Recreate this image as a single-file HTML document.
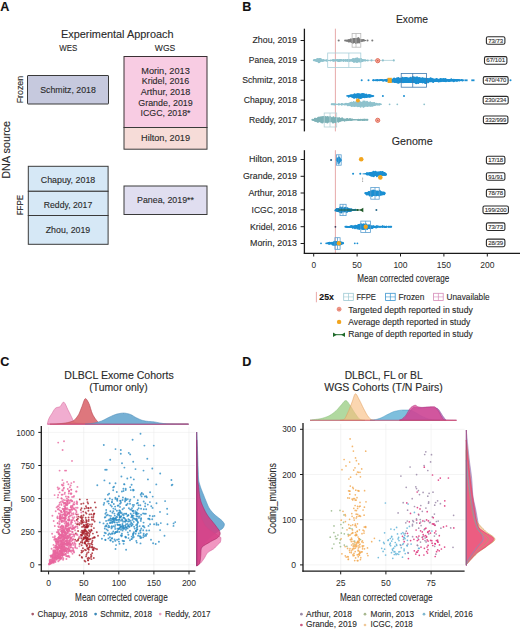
<!DOCTYPE html>
<html><head><meta charset="utf-8"><style>
html,body{margin:0;padding:0;background:#fff;}
body{width:520px;height:630px;overflow:hidden;}
svg{display:block;font-family:"Liberation Sans",sans-serif;}
</style></head><body>
<svg width="520" height="630" viewBox="0 0 520 630">
<rect width="520" height="630" fill="#fff"/>
<text x="0.30" y="10.70" font-size="12.6" text-anchor="start" fill="#111" stroke="#111" stroke-width="0.12" font-weight="bold">A</text>
<text x="242.30" y="10.70" font-size="12.6" text-anchor="start" fill="#111" stroke="#111" stroke-width="0.12" font-weight="bold">B</text>
<text x="0.30" y="366.40" font-size="12.6" text-anchor="start" fill="#111" stroke="#111" stroke-width="0.12" font-weight="bold">C</text>
<text x="242.30" y="366.40" font-size="12.6" text-anchor="start" fill="#111" stroke="#111" stroke-width="0.12" font-weight="bold">D</text>
<text x="61.00" y="38.00" font-size="10.8" text-anchor="start" fill="#2a2a2a" stroke="#2a2a2a" stroke-width="0.12" textLength="112.5" lengthAdjust="spacingAndGlyphs">Experimental Approach</text>
<text x="59.30" y="50.60" font-size="8.9" text-anchor="start" fill="#2a2a2a" stroke="#2a2a2a" stroke-width="0.12" textLength="18.0" lengthAdjust="spacingAndGlyphs">WES</text>
<text x="154.80" y="50.60" font-size="8.9" text-anchor="start" fill="#2a2a2a" stroke="#2a2a2a" stroke-width="0.12" textLength="20.5" lengthAdjust="spacingAndGlyphs">WGS</text>
<text x="9.60" y="178.80" font-size="11.8" text-anchor="start" fill="#2a2a2a" stroke="#2a2a2a" stroke-width="0.12" textLength="57.8" lengthAdjust="spacingAndGlyphs" transform="rotate(-90 9.60 178.80)">DNA source</text>
<text x="22.80" y="103.30" font-size="8.8" text-anchor="start" fill="#2a2a2a" stroke="#2a2a2a" stroke-width="0.12" textLength="27.5" lengthAdjust="spacingAndGlyphs" transform="rotate(-90 22.80 103.30)">Frozen</text>
<text x="22.80" y="215.30" font-size="8.8" text-anchor="start" fill="#2a2a2a" stroke="#2a2a2a" stroke-width="0.12" textLength="20.5" lengthAdjust="spacingAndGlyphs" transform="rotate(-90 22.80 215.30)">FFPE</text>
<rect x="27.50" y="75.50" width="81.00" height="28.50" fill="#c6c9de" stroke="#3a3a3a" stroke-width="1" rx="0.5"/>
<text x="68.00" y="93.00" font-size="9.4" text-anchor="middle" fill="#2a2a2a" stroke="#2a2a2a" stroke-width="0.12" textLength="55.5" lengthAdjust="spacingAndGlyphs">Schmitz, 2018</text>
<rect x="124.00" y="56.50" width="83.00" height="71.00" fill="#f8cce3" stroke="#3a3034" stroke-width="1" rx="0"/>
<rect x="124.00" y="127.50" width="83.00" height="21.70" fill="#f6dcd8" stroke="#3a3a3a" stroke-width="1" rx="0"/>
<text x="165.50" y="73.80" font-size="9.4" text-anchor="middle" fill="#2a2a2a" stroke="#2a2a2a" stroke-width="0.12" textLength="48.5" lengthAdjust="spacingAndGlyphs">Morin, 2013</text>
<text x="165.50" y="84.42" font-size="9.4" text-anchor="middle" fill="#2a2a2a" stroke="#2a2a2a" stroke-width="0.12" textLength="47.5" lengthAdjust="spacingAndGlyphs">Kridel, 2016</text>
<text x="165.50" y="95.04" font-size="9.4" text-anchor="middle" fill="#2a2a2a" stroke="#2a2a2a" stroke-width="0.12" textLength="49.5" lengthAdjust="spacingAndGlyphs">Arthur, 2018</text>
<text x="165.50" y="105.66" font-size="9.4" text-anchor="middle" fill="#2a2a2a" stroke="#2a2a2a" stroke-width="0.12" textLength="54.5" lengthAdjust="spacingAndGlyphs">Grande, 2019</text>
<text x="165.50" y="116.28" font-size="9.4" text-anchor="middle" fill="#2a2a2a" stroke="#2a2a2a" stroke-width="0.12" textLength="50.0" lengthAdjust="spacingAndGlyphs">ICGC, 2018*</text>
<text x="165.50" y="141.30" font-size="9.4" text-anchor="middle" fill="#2a2a2a" stroke="#2a2a2a" stroke-width="0.12" textLength="49.0" lengthAdjust="spacingAndGlyphs">Hilton, 2019</text>
<rect x="28.30" y="166.30" width="79.80" height="25.00" fill="#d6e8f6" stroke="#3a3a3a" stroke-width="1" rx="0"/>
<rect x="28.30" y="191.30" width="79.80" height="24.20" fill="#d6e8f6" stroke="#3a3a3a" stroke-width="1" rx="0"/>
<rect x="28.30" y="215.50" width="79.80" height="28.80" fill="#d6e8f6" stroke="#3a3a3a" stroke-width="1" rx="0"/>
<text x="68.00" y="183.00" font-size="9.4" text-anchor="middle" fill="#2a2a2a" stroke="#2a2a2a" stroke-width="0.12" textLength="54.5" lengthAdjust="spacingAndGlyphs">Chapuy, 2018</text>
<text x="68.00" y="208.00" font-size="9.4" text-anchor="middle" fill="#2a2a2a" stroke="#2a2a2a" stroke-width="0.12" textLength="48.5" lengthAdjust="spacingAndGlyphs">Reddy, 2017</text>
<text x="68.00" y="232.50" font-size="9.4" text-anchor="middle" fill="#2a2a2a" stroke="#2a2a2a" stroke-width="0.12" textLength="44.5" lengthAdjust="spacingAndGlyphs">Zhou, 2019</text>
<rect x="124.00" y="186.00" width="83.00" height="28.50" fill="#e0def0" stroke="#3a3a3a" stroke-width="1" rx="0"/>
<text x="165.50" y="203.00" font-size="9.4" text-anchor="middle" fill="#2a2a2a" stroke="#2a2a2a" stroke-width="0.12" textLength="57.0" lengthAdjust="spacingAndGlyphs">Panea, 2019**</text>
<text x="396.00" y="23.00" font-size="10.5" text-anchor="start" fill="#2a2a2a" stroke="#2a2a2a" stroke-width="0.12" textLength="32.0" lengthAdjust="spacingAndGlyphs">Exome</text>
<text x="391.80" y="144.50" font-size="10.5" text-anchor="start" fill="#2a2a2a" stroke="#2a2a2a" stroke-width="0.12" textLength="40.8" lengthAdjust="spacingAndGlyphs">Genome</text>
<line x1="335.40" y1="28.70" x2="335.40" y2="131.40" stroke="#e3a0a0" stroke-width="0.9"/>
<line x1="335.40" y1="150.20" x2="335.40" y2="253.00" stroke="#e3a0a0" stroke-width="0.9"/>
<line x1="304.40" y1="28.70" x2="304.40" y2="131.40" stroke="#1a1a1a" stroke-width="1.3"/>
<line x1="304.40" y1="150.20" x2="304.40" y2="253.80" stroke="#1a1a1a" stroke-width="1.3"/>
<line x1="303.80" y1="253.30" x2="520.00" y2="253.30" stroke="#1a1a1a" stroke-width="1.3"/>
<line x1="313.70" y1="253.30" x2="313.70" y2="256.50" stroke="#1a1a1a" stroke-width="1.0"/>
<text x="313.70" y="267.50" font-size="9.3" text-anchor="middle" fill="#2a2a2a" stroke="#2a2a2a" stroke-width="0" textLength="4.6" lengthAdjust="spacingAndGlyphs">0</text>
<line x1="357.10" y1="253.30" x2="357.10" y2="256.50" stroke="#1a1a1a" stroke-width="1.0"/>
<text x="357.10" y="267.50" font-size="9.3" text-anchor="middle" fill="#2a2a2a" stroke="#2a2a2a" stroke-width="0" textLength="9.6" lengthAdjust="spacingAndGlyphs">50</text>
<line x1="400.50" y1="253.30" x2="400.50" y2="256.50" stroke="#1a1a1a" stroke-width="1.0"/>
<text x="400.50" y="267.50" font-size="9.3" text-anchor="middle" fill="#2a2a2a" stroke="#2a2a2a" stroke-width="0" textLength="14.2" lengthAdjust="spacingAndGlyphs">100</text>
<line x1="443.90" y1="253.30" x2="443.90" y2="256.50" stroke="#1a1a1a" stroke-width="1.0"/>
<text x="443.90" y="267.50" font-size="9.3" text-anchor="middle" fill="#2a2a2a" stroke="#2a2a2a" stroke-width="0" textLength="14.2" lengthAdjust="spacingAndGlyphs">150</text>
<line x1="487.30" y1="253.30" x2="487.30" y2="256.50" stroke="#1a1a1a" stroke-width="1.0"/>
<text x="487.30" y="267.50" font-size="9.3" text-anchor="middle" fill="#2a2a2a" stroke="#2a2a2a" stroke-width="0" textLength="14.2" lengthAdjust="spacingAndGlyphs">200</text>
<text x="403.20" y="282.40" font-size="11.0" text-anchor="middle" fill="#2a2a2a" stroke="#2a2a2a" stroke-width="0.12" textLength="92.0" lengthAdjust="spacingAndGlyphs">Mean corrected coverage</text>
<text x="297.00" y="43.45" font-size="8.6" text-anchor="end" fill="#2a2a2a" stroke="#2a2a2a" stroke-width="0.12" textLength="44.5" lengthAdjust="spacingAndGlyphs">Zhou, 2019</text>
<line x1="300.60" y1="40.50" x2="304.40" y2="40.50" stroke="#1a1a1a" stroke-width="1.0"/>
<text x="297.00" y="63.35" font-size="8.6" text-anchor="end" fill="#2a2a2a" stroke="#2a2a2a" stroke-width="0.12" textLength="48.2" lengthAdjust="spacingAndGlyphs">Panea, 2019</text>
<line x1="300.60" y1="60.40" x2="304.40" y2="60.40" stroke="#1a1a1a" stroke-width="1.0"/>
<text x="297.00" y="83.25" font-size="8.6" text-anchor="end" fill="#2a2a2a" stroke="#2a2a2a" stroke-width="0.12" textLength="54.8" lengthAdjust="spacingAndGlyphs">Schmitz, 2018</text>
<line x1="300.60" y1="80.30" x2="304.40" y2="80.30" stroke="#1a1a1a" stroke-width="1.0"/>
<text x="297.00" y="103.05" font-size="8.6" text-anchor="end" fill="#2a2a2a" stroke="#2a2a2a" stroke-width="0.12" textLength="53.2" lengthAdjust="spacingAndGlyphs">Chapuy, 2018</text>
<line x1="300.60" y1="100.10" x2="304.40" y2="100.10" stroke="#1a1a1a" stroke-width="1.0"/>
<text x="297.00" y="122.85" font-size="8.6" text-anchor="end" fill="#2a2a2a" stroke="#2a2a2a" stroke-width="0.12" textLength="48.0" lengthAdjust="spacingAndGlyphs">Reddy, 2017</text>
<line x1="300.60" y1="119.90" x2="304.40" y2="119.90" stroke="#1a1a1a" stroke-width="1.0"/>
<text x="297.00" y="162.45" font-size="8.6" text-anchor="end" fill="#2a2a2a" stroke="#2a2a2a" stroke-width="0.12" textLength="48.0" lengthAdjust="spacingAndGlyphs">Hilton, 2019</text>
<line x1="300.60" y1="159.50" x2="304.40" y2="159.50" stroke="#1a1a1a" stroke-width="1.0"/>
<text x="297.00" y="179.25" font-size="8.6" text-anchor="end" fill="#2a2a2a" stroke="#2a2a2a" stroke-width="0.12" textLength="54.0" lengthAdjust="spacingAndGlyphs">Grande, 2019</text>
<line x1="300.60" y1="176.30" x2="304.40" y2="176.30" stroke="#1a1a1a" stroke-width="1.0"/>
<text x="297.00" y="195.95" font-size="8.6" text-anchor="end" fill="#2a2a2a" stroke="#2a2a2a" stroke-width="0.12" textLength="48.6" lengthAdjust="spacingAndGlyphs">Arthur, 2018</text>
<line x1="300.60" y1="193.00" x2="304.40" y2="193.00" stroke="#1a1a1a" stroke-width="1.0"/>
<text x="297.00" y="212.75" font-size="8.6" text-anchor="end" fill="#2a2a2a" stroke="#2a2a2a" stroke-width="0.12" textLength="45.5" lengthAdjust="spacingAndGlyphs">ICGC, 2018</text>
<line x1="300.60" y1="209.80" x2="304.40" y2="209.80" stroke="#1a1a1a" stroke-width="1.0"/>
<text x="297.00" y="229.65" font-size="8.6" text-anchor="end" fill="#2a2a2a" stroke="#2a2a2a" stroke-width="0.12" textLength="47.0" lengthAdjust="spacingAndGlyphs">Kridel, 2016</text>
<line x1="300.60" y1="226.70" x2="304.40" y2="226.70" stroke="#1a1a1a" stroke-width="1.0"/>
<text x="297.00" y="246.45" font-size="8.6" text-anchor="end" fill="#2a2a2a" stroke="#2a2a2a" stroke-width="0.12" textLength="47.0" lengthAdjust="spacingAndGlyphs">Morin, 2013</text>
<line x1="300.60" y1="243.50" x2="304.40" y2="243.50" stroke="#1a1a1a" stroke-width="1.0"/>
<rect x="486.4" y="36.7" width="18.5" height="7.6" rx="1.6" fill="#fff" stroke="#2a2a2a" stroke-width="1.1"/>
<text x="495.70" y="42.50" font-size="5.6" text-anchor="middle" fill="#333" stroke="#333" stroke-width="0.12" textLength="15.0" lengthAdjust="spacingAndGlyphs">73/73</text>
<rect x="484.5" y="56.6" width="22.4" height="7.6" rx="1.6" fill="#fff" stroke="#2a2a2a" stroke-width="1.1"/>
<text x="495.70" y="62.40" font-size="5.6" text-anchor="middle" fill="#333" stroke="#333" stroke-width="0.12" textLength="18.9" lengthAdjust="spacingAndGlyphs">67/101</text>
<rect x="483.3" y="76.6" width="24.8" height="7.6" rx="1.6" fill="#fff" stroke="#2a2a2a" stroke-width="1.1"/>
<text x="495.70" y="82.40" font-size="5.6" text-anchor="middle" fill="#333" stroke="#333" stroke-width="0.12" textLength="21.3" lengthAdjust="spacingAndGlyphs">470/470</text>
<rect x="483.2" y="96.4" width="25.0" height="7.6" rx="1.6" fill="#fff" stroke="#2a2a2a" stroke-width="1.1"/>
<text x="495.70" y="102.20" font-size="5.6" text-anchor="middle" fill="#333" stroke="#333" stroke-width="0.12" textLength="21.5" lengthAdjust="spacingAndGlyphs">230/234</text>
<rect x="483.4" y="116.0" width="24.5" height="7.6" rx="1.6" fill="#fff" stroke="#2a2a2a" stroke-width="1.1"/>
<text x="495.70" y="121.80" font-size="5.6" text-anchor="middle" fill="#333" stroke="#333" stroke-width="0.12" textLength="21.0" lengthAdjust="spacingAndGlyphs">332/999</text>
<rect x="486.4" y="156.3" width="18.5" height="7.6" rx="1.6" fill="#fff" stroke="#2a2a2a" stroke-width="1.1"/>
<text x="495.70" y="162.10" font-size="5.6" text-anchor="middle" fill="#333" stroke="#333" stroke-width="0.12" textLength="15.0" lengthAdjust="spacingAndGlyphs">17/18</text>
<rect x="486.4" y="172.7" width="18.5" height="7.6" rx="1.6" fill="#fff" stroke="#2a2a2a" stroke-width="1.1"/>
<text x="495.70" y="178.50" font-size="5.6" text-anchor="middle" fill="#333" stroke="#333" stroke-width="0.12" textLength="15.0" lengthAdjust="spacingAndGlyphs">91/91</text>
<rect x="486.4" y="189.4" width="18.5" height="7.6" rx="1.6" fill="#fff" stroke="#2a2a2a" stroke-width="1.1"/>
<text x="495.70" y="195.20" font-size="5.6" text-anchor="middle" fill="#333" stroke="#333" stroke-width="0.12" textLength="15.0" lengthAdjust="spacingAndGlyphs">78/78</text>
<rect x="483.0" y="206.0" width="25.4" height="7.6" rx="1.6" fill="#fff" stroke="#2a2a2a" stroke-width="1.1"/>
<text x="495.70" y="211.80" font-size="5.6" text-anchor="middle" fill="#333" stroke="#333" stroke-width="0.12" textLength="21.9" lengthAdjust="spacingAndGlyphs">199/200</text>
<rect x="486.4" y="222.9" width="18.5" height="7.6" rx="1.6" fill="#fff" stroke="#2a2a2a" stroke-width="1.1"/>
<text x="495.70" y="228.70" font-size="5.6" text-anchor="middle" fill="#333" stroke="#333" stroke-width="0.12" textLength="15.0" lengthAdjust="spacingAndGlyphs">73/73</text>
<rect x="486.4" y="239.1" width="18.5" height="7.6" rx="1.6" fill="#fff" stroke="#2a2a2a" stroke-width="1.1"/>
<text x="495.70" y="244.90" font-size="5.6" text-anchor="middle" fill="#333" stroke="#333" stroke-width="0.12" textLength="15.0" lengthAdjust="spacingAndGlyphs">28/39</text>
<polygon points="345.0,40.1 349.0,39.3 352.0,38.4 355.0,38.0 358.0,38.2 361.0,39.0 364.0,39.8 366.0,40.1 366.0,40.9 364.0,41.2 361.0,42.0 358.0,42.8 355.0,43.0 352.0,42.6 349.0,41.7 345.0,40.9" fill="#7b7b7b" fill-opacity="1.0"/>
<circle cx="348.4" cy="41.2" r="1.0" fill="#7b7b7b"/>
<circle cx="351.7" cy="42.0" r="1.0" fill="#7b7b7b"/>
<circle cx="359.6" cy="40.4" r="1.0" fill="#7b7b7b"/>
<circle cx="356.4" cy="41.5" r="1.0" fill="#7b7b7b"/>
<circle cx="348.7" cy="41.2" r="1.0" fill="#7b7b7b"/>
<circle cx="354.5" cy="40.8" r="1.0" fill="#7b7b7b"/>
<circle cx="354.9" cy="41.1" r="1.0" fill="#7b7b7b"/>
<circle cx="350.6" cy="39.5" r="1.0" fill="#7b7b7b"/>
<circle cx="358.7" cy="41.6" r="1.0" fill="#7b7b7b"/>
<circle cx="349.2" cy="41.5" r="1.0" fill="#7b7b7b"/>
<circle cx="353.8" cy="42.3" r="1.0" fill="#7b7b7b"/>
<circle cx="355.8" cy="43.0" r="1.0" fill="#7b7b7b"/>
<circle cx="355.0" cy="41.1" r="1.0" fill="#7b7b7b"/>
<circle cx="356.8" cy="42.0" r="1.0" fill="#7b7b7b"/>
<circle cx="358.6" cy="38.6" r="1.0" fill="#7b7b7b"/>
<circle cx="363.4" cy="40.1" r="1.0" fill="#7b7b7b"/>
<circle cx="352.8" cy="39.2" r="1.0" fill="#7b7b7b"/>
<circle cx="357.3" cy="38.7" r="1.0" fill="#7b7b7b"/>
<circle cx="358.4" cy="40.5" r="1.0" fill="#7b7b7b"/>
<circle cx="352.8" cy="42.7" r="1.0" fill="#7b7b7b"/>
<circle cx="345.1" cy="40.5" r="1.0" fill="#7b7b7b"/>
<circle cx="364.0" cy="40.6" r="1.0" fill="#7b7b7b"/>
<circle cx="352.6" cy="41.3" r="1.0" fill="#7b7b7b"/>
<circle cx="353.1" cy="40.9" r="1.0" fill="#7b7b7b"/>
<circle cx="361.7" cy="40.9" r="1.0" fill="#7b7b7b"/>
<circle cx="356.3" cy="40.8" r="1.0" fill="#7b7b7b"/>
<circle cx="354.8" cy="40.5" r="1.0" fill="#7b7b7b"/>
<circle cx="359.3" cy="40.4" r="1.0" fill="#7b7b7b"/>
<circle cx="346.7" cy="40.7" r="1.0" fill="#7b7b7b"/>
<circle cx="358.3" cy="38.3" r="1.0" fill="#7b7b7b"/>
<circle cx="354.0" cy="39.0" r="1.0" fill="#7b7b7b"/>
<circle cx="348.7" cy="40.3" r="1.0" fill="#7b7b7b"/>
<circle cx="357.5" cy="42.5" r="1.0" fill="#7b7b7b"/>
<circle cx="362.7" cy="40.3" r="1.0" fill="#7b7b7b"/>
<circle cx="351.0" cy="40.4" r="1.0" fill="#7b7b7b"/>
<circle cx="357.5" cy="40.7" r="1.0" fill="#7b7b7b"/>
<circle cx="352.9" cy="40.8" r="1.0" fill="#7b7b7b"/>
<circle cx="359.1" cy="42.4" r="1.0" fill="#7b7b7b"/>
<circle cx="358.8" cy="41.6" r="1.0" fill="#7b7b7b"/>
<circle cx="351.3" cy="41.8" r="1.0" fill="#7b7b7b"/>
<circle cx="360.2" cy="40.4" r="1.0" fill="#7b7b7b"/>
<circle cx="357.6" cy="39.3" r="1.0" fill="#7b7b7b"/>
<circle cx="358.0" cy="39.6" r="1.0" fill="#7b7b7b"/>
<circle cx="359.8" cy="40.8" r="1.0" fill="#7b7b7b"/>
<circle cx="354.4" cy="40.2" r="1.0" fill="#7b7b7b"/>
<circle cx="358.8" cy="41.3" r="1.0" fill="#7b7b7b"/>
<circle cx="338.7" cy="40.5" r="1.05" fill="#7b7b7b"/>
<circle cx="367.5" cy="40.5" r="1.05" fill="#7b7b7b"/>
<circle cx="372.3" cy="40.5" r="1.05" fill="#7b7b7b"/>
<rect x="352.1" y="33.4" width="8.7" height="13.8" fill="none" stroke="#b8b8b8" stroke-width="0.8"/>
<line x1="356.00" y1="33.40" x2="356.00" y2="47.20" stroke="#b8b8b8" stroke-width="0.8"/>
<line x1="360.80" y1="60.40" x2="393.80" y2="60.40" stroke="#9cc6d0" stroke-width="0.7"/>
<polygon points="314.0,59.9 316.5,58.8 319.0,58.4 321.5,59.2 324.0,59.8 330.0,59.9 336.0,59.6 342.0,59.5 348.0,59.8 352.0,59.2 356.0,58.4 360.0,58.6 363.0,59.5 368.0,59.9 368.0,60.9 363.0,61.3 360.0,62.2 356.0,62.4 352.0,61.6 348.0,61.0 342.0,61.3 336.0,61.1 330.0,60.9 324.0,61.0 321.5,61.6 319.0,62.4 316.5,62.0 314.0,60.9" fill="#8fc2cd" fill-opacity="1.0"/>
<circle cx="319.8" cy="59.4" r="1.0" fill="#8fc2cd"/>
<circle cx="345.8" cy="60.0" r="1.0" fill="#8fc2cd"/>
<circle cx="338.3" cy="60.9" r="1.0" fill="#8fc2cd"/>
<circle cx="354.0" cy="59.7" r="1.0" fill="#8fc2cd"/>
<circle cx="333.1" cy="60.4" r="1.0" fill="#8fc2cd"/>
<circle cx="320.9" cy="61.1" r="1.0" fill="#8fc2cd"/>
<circle cx="362.7" cy="60.9" r="1.0" fill="#8fc2cd"/>
<circle cx="324.1" cy="60.5" r="1.0" fill="#8fc2cd"/>
<circle cx="319.4" cy="61.9" r="1.0" fill="#8fc2cd"/>
<circle cx="327.4" cy="60.4" r="1.0" fill="#8fc2cd"/>
<circle cx="333.6" cy="60.3" r="1.0" fill="#8fc2cd"/>
<circle cx="322.9" cy="61.0" r="1.0" fill="#8fc2cd"/>
<circle cx="347.6" cy="60.2" r="1.0" fill="#8fc2cd"/>
<circle cx="362.7" cy="60.2" r="1.0" fill="#8fc2cd"/>
<circle cx="319.1" cy="59.0" r="1.0" fill="#8fc2cd"/>
<circle cx="339.2" cy="60.9" r="1.0" fill="#8fc2cd"/>
<circle cx="354.3" cy="60.0" r="1.0" fill="#8fc2cd"/>
<circle cx="360.9" cy="61.4" r="1.0" fill="#8fc2cd"/>
<circle cx="367.8" cy="60.4" r="1.0" fill="#8fc2cd"/>
<circle cx="319.4" cy="61.7" r="1.0" fill="#8fc2cd"/>
<circle cx="347.7" cy="60.5" r="1.0" fill="#8fc2cd"/>
<circle cx="360.7" cy="60.8" r="1.0" fill="#8fc2cd"/>
<circle cx="316.4" cy="60.5" r="1.0" fill="#8fc2cd"/>
<circle cx="351.3" cy="59.9" r="1.0" fill="#8fc2cd"/>
<circle cx="320.5" cy="59.0" r="1.0" fill="#8fc2cd"/>
<circle cx="357.0" cy="61.9" r="1.0" fill="#8fc2cd"/>
<circle cx="362.9" cy="59.9" r="1.0" fill="#8fc2cd"/>
<circle cx="347.5" cy="60.3" r="1.0" fill="#8fc2cd"/>
<circle cx="315.0" cy="60.3" r="1.0" fill="#8fc2cd"/>
<circle cx="317.3" cy="59.1" r="1.0" fill="#8fc2cd"/>
<circle cx="339.5" cy="59.9" r="1.0" fill="#8fc2cd"/>
<circle cx="359.7" cy="59.8" r="1.0" fill="#8fc2cd"/>
<circle cx="323.3" cy="60.0" r="1.0" fill="#8fc2cd"/>
<circle cx="354.4" cy="61.0" r="1.0" fill="#8fc2cd"/>
<circle cx="338.2" cy="60.7" r="1.0" fill="#8fc2cd"/>
<circle cx="326.0" cy="60.4" r="1.0" fill="#8fc2cd"/>
<circle cx="355.7" cy="58.7" r="1.0" fill="#8fc2cd"/>
<circle cx="330.4" cy="60.4" r="1.0" fill="#8fc2cd"/>
<circle cx="336.3" cy="60.2" r="1.0" fill="#8fc2cd"/>
<circle cx="357.0" cy="58.6" r="1.0" fill="#8fc2cd"/>
<circle cx="344.0" cy="60.2" r="1.0" fill="#8fc2cd"/>
<circle cx="357.8" cy="61.3" r="1.0" fill="#8fc2cd"/>
<circle cx="346.0" cy="60.7" r="1.0" fill="#8fc2cd"/>
<circle cx="319.7" cy="59.7" r="1.0" fill="#8fc2cd"/>
<circle cx="340.7" cy="60.0" r="1.0" fill="#8fc2cd"/>
<circle cx="360.5" cy="60.8" r="1.0" fill="#8fc2cd"/>
<circle cx="349.5" cy="60.2" r="1.0" fill="#8fc2cd"/>
<circle cx="365.3" cy="60.6" r="1.0" fill="#8fc2cd"/>
<circle cx="313.8" cy="60.3" r="1.0" fill="#8fc2cd"/>
<circle cx="333.8" cy="60.5" r="1.0" fill="#8fc2cd"/>
<circle cx="357.4" cy="60.1" r="1.0" fill="#8fc2cd"/>
<circle cx="354.5" cy="61.3" r="1.0" fill="#8fc2cd"/>
<circle cx="349.7" cy="60.8" r="1.0" fill="#8fc2cd"/>
<circle cx="354.0" cy="60.1" r="1.0" fill="#8fc2cd"/>
<circle cx="360.5" cy="59.7" r="1.0" fill="#8fc2cd"/>
<circle cx="354.8" cy="59.4" r="1.0" fill="#8fc2cd"/>
<circle cx="348.4" cy="60.6" r="1.0" fill="#8fc2cd"/>
<circle cx="349.2" cy="60.7" r="1.0" fill="#8fc2cd"/>
<circle cx="353.9" cy="61.6" r="1.0" fill="#8fc2cd"/>
<circle cx="332.4" cy="60.3" r="1.0" fill="#8fc2cd"/>
<circle cx="354.0" cy="59.8" r="1.0" fill="#8fc2cd"/>
<circle cx="352.5" cy="59.5" r="1.0" fill="#8fc2cd"/>
<circle cx="357.4" cy="58.6" r="1.0" fill="#8fc2cd"/>
<circle cx="343.5" cy="60.9" r="1.0" fill="#8fc2cd"/>
<circle cx="315.4" cy="60.1" r="1.0" fill="#8fc2cd"/>
<circle cx="347.7" cy="60.6" r="1.0" fill="#8fc2cd"/>
<circle cx="359.9" cy="61.0" r="1.0" fill="#8fc2cd"/>
<circle cx="353.6" cy="60.5" r="1.0" fill="#8fc2cd"/>
<circle cx="353.1" cy="60.5" r="1.0" fill="#8fc2cd"/>
<circle cx="337.6" cy="60.0" r="1.0" fill="#8fc2cd"/>
<circle cx="335.1" cy="60.6" r="1.0" fill="#8fc2cd"/>
<circle cx="355.7" cy="61.3" r="1.0" fill="#8fc2cd"/>
<circle cx="317.2" cy="60.0" r="1.0" fill="#8fc2cd"/>
<circle cx="360.0" cy="60.0" r="1.0" fill="#8fc2cd"/>
<circle cx="360.1" cy="61.5" r="1.0" fill="#8fc2cd"/>
<circle cx="364.8" cy="60.2" r="1.0" fill="#8fc2cd"/>
<circle cx="319.0" cy="60.0" r="1.0" fill="#8fc2cd"/>
<circle cx="318.9" cy="62.2" r="1.0" fill="#8fc2cd"/>
<circle cx="360.7" cy="59.6" r="1.0" fill="#8fc2cd"/>
<circle cx="338.3" cy="60.4" r="1.0" fill="#8fc2cd"/>
<circle cx="326.5" cy="60.4" r="1.0" fill="#8fc2cd"/>
<circle cx="337.1" cy="60.6" r="1.0" fill="#8fc2cd"/>
<circle cx="354.0" cy="59.6" r="1.0" fill="#8fc2cd"/>
<circle cx="319.6" cy="59.0" r="1.0" fill="#8fc2cd"/>
<circle cx="343.3" cy="60.0" r="1.0" fill="#8fc2cd"/>
<circle cx="353.8" cy="61.2" r="1.0" fill="#8fc2cd"/>
<circle cx="355.8" cy="60.4" r="1.0" fill="#8fc2cd"/>
<circle cx="314.6" cy="60.0" r="1.0" fill="#8fc2cd"/>
<circle cx="358.7" cy="59.2" r="1.0" fill="#8fc2cd"/>
<circle cx="340.3" cy="60.2" r="1.0" fill="#8fc2cd"/>
<circle cx="340.7" cy="60.1" r="1.0" fill="#8fc2cd"/>
<circle cx="349.4" cy="60.6" r="1.0" fill="#8fc2cd"/>
<circle cx="327.3" cy="60.4" r="1.0" fill="#8fc2cd"/>
<circle cx="360.9" cy="60.6" r="1.0" fill="#8fc2cd"/>
<circle cx="322.2" cy="60.5" r="1.0" fill="#8fc2cd"/>
<circle cx="347.6" cy="60.6" r="1.0" fill="#8fc2cd"/>
<circle cx="319.7" cy="60.0" r="1.0" fill="#8fc2cd"/>
<circle cx="352.5" cy="60.1" r="1.0" fill="#8fc2cd"/>
<circle cx="361.4" cy="60.8" r="1.0" fill="#8fc2cd"/>
<circle cx="360.9" cy="59.1" r="1.0" fill="#8fc2cd"/>
<circle cx="319.0" cy="60.8" r="1.0" fill="#8fc2cd"/>
<circle cx="352.3" cy="61.1" r="1.0" fill="#8fc2cd"/>
<circle cx="361.2" cy="59.5" r="1.0" fill="#8fc2cd"/>
<circle cx="321.0" cy="59.4" r="1.0" fill="#8fc2cd"/>
<circle cx="339.3" cy="60.4" r="1.0" fill="#8fc2cd"/>
<circle cx="355.3" cy="60.7" r="1.0" fill="#8fc2cd"/>
<circle cx="356.5" cy="59.5" r="1.0" fill="#8fc2cd"/>
<circle cx="341.2" cy="60.2" r="1.0" fill="#8fc2cd"/>
<circle cx="353.1" cy="59.1" r="1.0" fill="#8fc2cd"/>
<circle cx="354.0" cy="61.8" r="1.0" fill="#8fc2cd"/>
<circle cx="335.0" cy="60.4" r="1.0" fill="#8fc2cd"/>
<circle cx="353.5" cy="61.0" r="1.0" fill="#8fc2cd"/>
<circle cx="350.1" cy="60.6" r="1.0" fill="#8fc2cd"/>
<circle cx="355.0" cy="60.4" r="1.0" fill="#8fc2cd"/>
<circle cx="345.7" cy="60.7" r="1.0" fill="#8fc2cd"/>
<circle cx="333.3" cy="60.5" r="1.0" fill="#8fc2cd"/>
<circle cx="340.8" cy="60.7" r="1.0" fill="#8fc2cd"/>
<circle cx="362.2" cy="60.2" r="1.0" fill="#8fc2cd"/>
<circle cx="371.5" cy="60.4" r="1.05" fill="#8fc2cd"/>
<circle cx="382.9" cy="60.4" r="1.05" fill="#8fc2cd"/>
<circle cx="393.8" cy="60.4" r="1.05" fill="#8fc2cd"/>
<rect x="327.7" y="53.0" width="33.1" height="14.4" fill="none" stroke="#a9d0da" stroke-width="0.8"/>
<line x1="348.80" y1="53.00" x2="348.80" y2="67.40" stroke="#a9d0da" stroke-width="0.8"/>
<polygon points="372.5,79.8 380.0,79.6 388.0,79.3 393.0,78.6 398.0,77.9 404.0,77.6 415.0,77.5 425.0,77.7 430.0,78.3 436.0,78.7 448.0,78.9 456.0,79.1 461.0,79.5 463.0,79.8 463.0,80.8 461.0,81.1 456.0,81.5 448.0,81.7 436.0,81.9 430.0,82.3 425.0,82.9 415.0,83.1 404.0,83.0 398.0,82.7 393.0,82.0 388.0,81.3 380.0,81.0 372.5,80.8" fill="#1b8fd2" fill-opacity="1.0"/>
<circle cx="397.6" cy="81.0" r="1.0" fill="#1b8fd2"/>
<circle cx="392.7" cy="80.2" r="1.0" fill="#1b8fd2"/>
<circle cx="430.7" cy="78.6" r="1.0" fill="#1b8fd2"/>
<circle cx="386.2" cy="80.8" r="1.0" fill="#1b8fd2"/>
<circle cx="422.5" cy="78.2" r="1.0" fill="#1b8fd2"/>
<circle cx="393.4" cy="80.3" r="1.0" fill="#1b8fd2"/>
<circle cx="427.5" cy="80.5" r="1.0" fill="#1b8fd2"/>
<circle cx="433.9" cy="80.9" r="1.0" fill="#1b8fd2"/>
<circle cx="453.7" cy="80.5" r="1.0" fill="#1b8fd2"/>
<circle cx="410.5" cy="77.7" r="1.0" fill="#1b8fd2"/>
<circle cx="410.6" cy="81.2" r="1.0" fill="#1b8fd2"/>
<circle cx="411.4" cy="79.8" r="1.0" fill="#1b8fd2"/>
<circle cx="429.5" cy="80.7" r="1.0" fill="#1b8fd2"/>
<circle cx="436.6" cy="79.6" r="1.0" fill="#1b8fd2"/>
<circle cx="393.5" cy="80.8" r="1.0" fill="#1b8fd2"/>
<circle cx="406.8" cy="78.1" r="1.0" fill="#1b8fd2"/>
<circle cx="385.7" cy="79.9" r="1.0" fill="#1b8fd2"/>
<circle cx="402.1" cy="79.1" r="1.0" fill="#1b8fd2"/>
<circle cx="432.0" cy="79.4" r="1.0" fill="#1b8fd2"/>
<circle cx="453.6" cy="80.6" r="1.0" fill="#1b8fd2"/>
<circle cx="459.5" cy="80.6" r="1.0" fill="#1b8fd2"/>
<circle cx="387.5" cy="80.4" r="1.0" fill="#1b8fd2"/>
<circle cx="411.7" cy="79.2" r="1.0" fill="#1b8fd2"/>
<circle cx="445.9" cy="79.9" r="1.0" fill="#1b8fd2"/>
<circle cx="417.5" cy="78.0" r="1.0" fill="#1b8fd2"/>
<circle cx="408.9" cy="79.6" r="1.0" fill="#1b8fd2"/>
<circle cx="436.4" cy="79.0" r="1.0" fill="#1b8fd2"/>
<circle cx="444.8" cy="81.0" r="1.0" fill="#1b8fd2"/>
<circle cx="395.7" cy="80.1" r="1.0" fill="#1b8fd2"/>
<circle cx="417.9" cy="77.9" r="1.0" fill="#1b8fd2"/>
<circle cx="396.3" cy="82.0" r="1.0" fill="#1b8fd2"/>
<circle cx="398.5" cy="79.3" r="1.0" fill="#1b8fd2"/>
<circle cx="419.0" cy="82.1" r="1.0" fill="#1b8fd2"/>
<circle cx="402.6" cy="77.7" r="1.0" fill="#1b8fd2"/>
<circle cx="438.6" cy="81.6" r="1.0" fill="#1b8fd2"/>
<circle cx="409.6" cy="82.0" r="1.0" fill="#1b8fd2"/>
<circle cx="398.0" cy="82.3" r="1.0" fill="#1b8fd2"/>
<circle cx="425.0" cy="82.8" r="1.0" fill="#1b8fd2"/>
<circle cx="403.5" cy="78.8" r="1.0" fill="#1b8fd2"/>
<circle cx="387.8" cy="79.6" r="1.0" fill="#1b8fd2"/>
<circle cx="463.0" cy="80.3" r="1.0" fill="#1b8fd2"/>
<circle cx="398.2" cy="81.9" r="1.0" fill="#1b8fd2"/>
<circle cx="394.4" cy="81.8" r="1.0" fill="#1b8fd2"/>
<circle cx="416.0" cy="78.2" r="1.0" fill="#1b8fd2"/>
<circle cx="373.8" cy="80.3" r="1.0" fill="#1b8fd2"/>
<circle cx="437.2" cy="79.4" r="1.0" fill="#1b8fd2"/>
<circle cx="389.2" cy="80.7" r="1.0" fill="#1b8fd2"/>
<circle cx="382.5" cy="80.2" r="1.0" fill="#1b8fd2"/>
<circle cx="457.0" cy="80.4" r="1.0" fill="#1b8fd2"/>
<circle cx="418.2" cy="82.9" r="1.0" fill="#1b8fd2"/>
<circle cx="452.0" cy="80.2" r="1.0" fill="#1b8fd2"/>
<circle cx="448.6" cy="80.9" r="1.0" fill="#1b8fd2"/>
<circle cx="431.8" cy="78.7" r="1.0" fill="#1b8fd2"/>
<circle cx="380.7" cy="80.1" r="1.0" fill="#1b8fd2"/>
<circle cx="425.3" cy="79.6" r="1.0" fill="#1b8fd2"/>
<circle cx="387.4" cy="80.3" r="1.0" fill="#1b8fd2"/>
<circle cx="375.9" cy="80.3" r="1.0" fill="#1b8fd2"/>
<circle cx="442.5" cy="79.2" r="1.0" fill="#1b8fd2"/>
<circle cx="406.1" cy="81.6" r="1.0" fill="#1b8fd2"/>
<circle cx="433.4" cy="81.2" r="1.0" fill="#1b8fd2"/>
<circle cx="419.0" cy="80.4" r="1.0" fill="#1b8fd2"/>
<circle cx="436.7" cy="80.7" r="1.0" fill="#1b8fd2"/>
<circle cx="425.7" cy="80.3" r="1.0" fill="#1b8fd2"/>
<circle cx="457.7" cy="80.0" r="1.0" fill="#1b8fd2"/>
<circle cx="415.7" cy="80.1" r="1.0" fill="#1b8fd2"/>
<circle cx="443.8" cy="79.1" r="1.0" fill="#1b8fd2"/>
<circle cx="440.4" cy="79.0" r="1.0" fill="#1b8fd2"/>
<circle cx="422.2" cy="80.0" r="1.0" fill="#1b8fd2"/>
<circle cx="417.5" cy="80.7" r="1.0" fill="#1b8fd2"/>
<circle cx="413.0" cy="77.4" r="1.0" fill="#1b8fd2"/>
<circle cx="425.5" cy="81.6" r="1.0" fill="#1b8fd2"/>
<circle cx="399.3" cy="82.1" r="1.0" fill="#1b8fd2"/>
<circle cx="413.7" cy="80.7" r="1.0" fill="#1b8fd2"/>
<circle cx="425.4" cy="83.0" r="1.0" fill="#1b8fd2"/>
<circle cx="405.7" cy="78.0" r="1.0" fill="#1b8fd2"/>
<circle cx="400.2" cy="78.7" r="1.0" fill="#1b8fd2"/>
<circle cx="392.2" cy="81.8" r="1.0" fill="#1b8fd2"/>
<circle cx="439.0" cy="80.2" r="1.0" fill="#1b8fd2"/>
<circle cx="446.0" cy="80.2" r="1.0" fill="#1b8fd2"/>
<circle cx="441.6" cy="79.7" r="1.0" fill="#1b8fd2"/>
<circle cx="429.6" cy="79.5" r="1.0" fill="#1b8fd2"/>
<circle cx="422.7" cy="79.8" r="1.0" fill="#1b8fd2"/>
<circle cx="386.5" cy="80.8" r="1.0" fill="#1b8fd2"/>
<circle cx="446.3" cy="80.5" r="1.0" fill="#1b8fd2"/>
<circle cx="415.5" cy="82.8" r="1.0" fill="#1b8fd2"/>
<circle cx="428.1" cy="79.7" r="1.0" fill="#1b8fd2"/>
<circle cx="394.2" cy="81.9" r="1.0" fill="#1b8fd2"/>
<circle cx="433.0" cy="79.6" r="1.0" fill="#1b8fd2"/>
<circle cx="396.0" cy="80.0" r="1.0" fill="#1b8fd2"/>
<circle cx="456.3" cy="80.6" r="1.0" fill="#1b8fd2"/>
<circle cx="430.4" cy="78.4" r="1.0" fill="#1b8fd2"/>
<circle cx="418.5" cy="82.4" r="1.0" fill="#1b8fd2"/>
<circle cx="426.3" cy="82.9" r="1.0" fill="#1b8fd2"/>
<circle cx="401.2" cy="81.6" r="1.0" fill="#1b8fd2"/>
<circle cx="417.2" cy="80.0" r="1.0" fill="#1b8fd2"/>
<circle cx="390.1" cy="80.4" r="1.0" fill="#1b8fd2"/>
<circle cx="404.4" cy="81.9" r="1.0" fill="#1b8fd2"/>
<circle cx="404.6" cy="78.6" r="1.0" fill="#1b8fd2"/>
<circle cx="397.1" cy="78.4" r="1.0" fill="#1b8fd2"/>
<circle cx="412.6" cy="77.3" r="1.0" fill="#1b8fd2"/>
<circle cx="386.9" cy="79.8" r="1.0" fill="#1b8fd2"/>
<circle cx="379.7" cy="80.2" r="1.0" fill="#1b8fd2"/>
<circle cx="407.7" cy="79.3" r="1.0" fill="#1b8fd2"/>
<circle cx="461.4" cy="80.0" r="1.0" fill="#1b8fd2"/>
<circle cx="431.9" cy="79.9" r="1.0" fill="#1b8fd2"/>
<circle cx="412.5" cy="79.3" r="1.0" fill="#1b8fd2"/>
<circle cx="399.2" cy="82.1" r="1.0" fill="#1b8fd2"/>
<circle cx="394.4" cy="81.2" r="1.0" fill="#1b8fd2"/>
<circle cx="412.0" cy="78.6" r="1.0" fill="#1b8fd2"/>
<circle cx="426.3" cy="80.7" r="1.0" fill="#1b8fd2"/>
<circle cx="440.8" cy="81.3" r="1.0" fill="#1b8fd2"/>
<circle cx="415.2" cy="80.7" r="1.0" fill="#1b8fd2"/>
<circle cx="443.8" cy="79.4" r="1.0" fill="#1b8fd2"/>
<circle cx="439.2" cy="81.3" r="1.0" fill="#1b8fd2"/>
<circle cx="443.5" cy="80.7" r="1.0" fill="#1b8fd2"/>
<circle cx="407.1" cy="81.2" r="1.0" fill="#1b8fd2"/>
<circle cx="414.9" cy="77.6" r="1.0" fill="#1b8fd2"/>
<circle cx="397.0" cy="78.4" r="1.0" fill="#1b8fd2"/>
<circle cx="422.0" cy="81.7" r="1.0" fill="#1b8fd2"/>
<circle cx="383.2" cy="80.7" r="1.0" fill="#1b8fd2"/>
<circle cx="415.1" cy="80.0" r="1.0" fill="#1b8fd2"/>
<circle cx="397.4" cy="82.5" r="1.0" fill="#1b8fd2"/>
<circle cx="416.2" cy="83.3" r="1.0" fill="#1b8fd2"/>
<circle cx="398.4" cy="78.1" r="1.0" fill="#1b8fd2"/>
<circle cx="373.2" cy="80.3" r="1.0" fill="#1b8fd2"/>
<circle cx="412.8" cy="77.5" r="1.0" fill="#1b8fd2"/>
<circle cx="412.8" cy="81.0" r="1.0" fill="#1b8fd2"/>
<circle cx="419.6" cy="78.0" r="1.0" fill="#1b8fd2"/>
<circle cx="394.1" cy="78.6" r="1.0" fill="#1b8fd2"/>
<circle cx="416.8" cy="77.4" r="1.0" fill="#1b8fd2"/>
<circle cx="405.7" cy="78.8" r="1.0" fill="#1b8fd2"/>
<circle cx="389.9" cy="80.7" r="1.0" fill="#1b8fd2"/>
<circle cx="412.2" cy="79.8" r="1.0" fill="#1b8fd2"/>
<circle cx="427.0" cy="81.1" r="1.0" fill="#1b8fd2"/>
<circle cx="406.2" cy="82.0" r="1.0" fill="#1b8fd2"/>
<circle cx="430.7" cy="80.2" r="1.0" fill="#1b8fd2"/>
<circle cx="437.1" cy="80.7" r="1.0" fill="#1b8fd2"/>
<circle cx="376.9" cy="80.3" r="1.0" fill="#1b8fd2"/>
<circle cx="401.0" cy="79.3" r="1.0" fill="#1b8fd2"/>
<circle cx="404.8" cy="79.6" r="1.0" fill="#1b8fd2"/>
<circle cx="422.7" cy="82.4" r="1.0" fill="#1b8fd2"/>
<circle cx="416.4" cy="81.4" r="1.0" fill="#1b8fd2"/>
<circle cx="421.1" cy="81.8" r="1.0" fill="#1b8fd2"/>
<circle cx="389.1" cy="80.2" r="1.0" fill="#1b8fd2"/>
<circle cx="404.6" cy="78.3" r="1.0" fill="#1b8fd2"/>
<circle cx="396.8" cy="79.4" r="1.0" fill="#1b8fd2"/>
<circle cx="433.1" cy="82.0" r="1.0" fill="#1b8fd2"/>
<circle cx="428.1" cy="82.2" r="1.0" fill="#1b8fd2"/>
<circle cx="406.1" cy="78.6" r="1.0" fill="#1b8fd2"/>
<circle cx="445.9" cy="81.3" r="1.0" fill="#1b8fd2"/>
<circle cx="395.2" cy="81.4" r="1.0" fill="#1b8fd2"/>
<circle cx="377.6" cy="80.2" r="1.0" fill="#1b8fd2"/>
<circle cx="409.7" cy="81.7" r="1.0" fill="#1b8fd2"/>
<circle cx="427.2" cy="80.8" r="1.0" fill="#1b8fd2"/>
<circle cx="454.1" cy="80.4" r="1.0" fill="#1b8fd2"/>
<circle cx="417.7" cy="82.3" r="1.0" fill="#1b8fd2"/>
<circle cx="395.3" cy="81.1" r="1.0" fill="#1b8fd2"/>
<circle cx="422.8" cy="79.2" r="1.0" fill="#1b8fd2"/>
<circle cx="377.8" cy="80.3" r="1.0" fill="#1b8fd2"/>
<circle cx="439.8" cy="80.2" r="1.0" fill="#1b8fd2"/>
<circle cx="406.9" cy="80.1" r="1.0" fill="#1b8fd2"/>
<circle cx="391.9" cy="81.6" r="1.0" fill="#1b8fd2"/>
<circle cx="395.7" cy="82.0" r="1.0" fill="#1b8fd2"/>
<circle cx="441.1" cy="79.3" r="1.0" fill="#1b8fd2"/>
<circle cx="449.7" cy="80.9" r="1.0" fill="#1b8fd2"/>
<circle cx="398.5" cy="79.9" r="1.0" fill="#1b8fd2"/>
<circle cx="462.3" cy="80.4" r="1.0" fill="#1b8fd2"/>
<circle cx="444.3" cy="81.1" r="1.0" fill="#1b8fd2"/>
<circle cx="407.5" cy="81.5" r="1.0" fill="#1b8fd2"/>
<circle cx="384.7" cy="80.2" r="1.0" fill="#1b8fd2"/>
<circle cx="396.1" cy="79.1" r="1.0" fill="#1b8fd2"/>
<circle cx="413.3" cy="77.8" r="1.0" fill="#1b8fd2"/>
<circle cx="399.9" cy="81.1" r="1.0" fill="#1b8fd2"/>
<circle cx="398.7" cy="82.7" r="1.0" fill="#1b8fd2"/>
<circle cx="404.3" cy="82.0" r="1.0" fill="#1b8fd2"/>
<circle cx="446.6" cy="79.8" r="1.0" fill="#1b8fd2"/>
<circle cx="381.6" cy="79.9" r="1.0" fill="#1b8fd2"/>
<circle cx="451.3" cy="79.3" r="1.0" fill="#1b8fd2"/>
<circle cx="413.9" cy="81.7" r="1.0" fill="#1b8fd2"/>
<circle cx="432.5" cy="79.9" r="1.0" fill="#1b8fd2"/>
<circle cx="417.7" cy="82.4" r="1.0" fill="#1b8fd2"/>
<circle cx="453.8" cy="79.8" r="1.0" fill="#1b8fd2"/>
<circle cx="398.6" cy="80.3" r="1.0" fill="#1b8fd2"/>
<circle cx="403.0" cy="82.2" r="1.0" fill="#1b8fd2"/>
<circle cx="417.3" cy="78.3" r="1.0" fill="#1b8fd2"/>
<circle cx="417.2" cy="77.5" r="1.0" fill="#1b8fd2"/>
<circle cx="407.1" cy="80.5" r="1.0" fill="#1b8fd2"/>
<circle cx="405.7" cy="81.0" r="1.0" fill="#1b8fd2"/>
<circle cx="390.7" cy="81.0" r="1.0" fill="#1b8fd2"/>
<circle cx="417.0" cy="81.9" r="1.0" fill="#1b8fd2"/>
<circle cx="441.8" cy="80.5" r="1.0" fill="#1b8fd2"/>
<circle cx="445.4" cy="79.0" r="1.0" fill="#1b8fd2"/>
<circle cx="412.6" cy="80.9" r="1.0" fill="#1b8fd2"/>
<circle cx="458.9" cy="80.0" r="1.0" fill="#1b8fd2"/>
<circle cx="457.2" cy="80.6" r="1.0" fill="#1b8fd2"/>
<circle cx="407.0" cy="81.0" r="1.0" fill="#1b8fd2"/>
<circle cx="393.8" cy="79.1" r="1.0" fill="#1b8fd2"/>
<circle cx="442.2" cy="80.1" r="1.0" fill="#1b8fd2"/>
<circle cx="453.7" cy="81.3" r="1.0" fill="#1b8fd2"/>
<rect x="464.4" y="79.4" width="3.2" height="1.8" fill="#1b8fd2"/>
<rect x="471.3" y="79.4" width="3.2" height="1.8" fill="#1b8fd2"/>
<circle cx="361.7" cy="80.3" r="1.0" fill="#1b8fd2"/>
<circle cx="368.5" cy="80.3" r="1.0" fill="#1b8fd2"/>
<circle cx="510.5" cy="80.3" r="1.0" fill="#1b8fd2"/>
<rect x="387.6" y="77.8" width="4.2" height="5.2" fill="#f2a51e"/>
<rect x="401.2" y="73.4" width="25.3" height="13.8" fill="none" stroke="#3c7ab0" stroke-width="0.8"/>
<line x1="412.70" y1="73.40" x2="412.70" y2="87.20" stroke="#3c7ab0" stroke-width="0.8"/>
<polygon points="346.3,95.3 350.0,94.7 354.0,94.1 359.0,93.8 364.0,94.0 369.0,94.6 372.0,95.2 374.2,95.5 374.2,96.4 372.0,96.7 369.0,97.2 364.0,97.9 359.0,98.0 354.0,97.7 350.0,97.1 346.3,96.5" fill="#1b8fd2" fill-opacity="1.0"/>
<circle cx="356.8" cy="97.7" r="1.0" fill="#1b8fd2"/>
<circle cx="368.9" cy="95.5" r="1.0" fill="#1b8fd2"/>
<circle cx="370.8" cy="95.4" r="1.0" fill="#1b8fd2"/>
<circle cx="366.1" cy="94.4" r="1.0" fill="#1b8fd2"/>
<circle cx="369.0" cy="96.5" r="1.0" fill="#1b8fd2"/>
<circle cx="370.7" cy="96.3" r="1.0" fill="#1b8fd2"/>
<circle cx="359.4" cy="96.0" r="1.0" fill="#1b8fd2"/>
<circle cx="357.1" cy="94.6" r="1.0" fill="#1b8fd2"/>
<circle cx="348.8" cy="96.5" r="1.0" fill="#1b8fd2"/>
<circle cx="358.7" cy="94.6" r="1.0" fill="#1b8fd2"/>
<circle cx="353.7" cy="97.5" r="1.0" fill="#1b8fd2"/>
<circle cx="364.7" cy="97.3" r="1.0" fill="#1b8fd2"/>
<circle cx="362.4" cy="95.7" r="1.0" fill="#1b8fd2"/>
<circle cx="370.5" cy="95.4" r="1.0" fill="#1b8fd2"/>
<circle cx="363.9" cy="94.0" r="1.0" fill="#1b8fd2"/>
<circle cx="354.3" cy="97.7" r="1.0" fill="#1b8fd2"/>
<circle cx="357.4" cy="94.2" r="1.0" fill="#1b8fd2"/>
<circle cx="360.0" cy="97.8" r="1.0" fill="#1b8fd2"/>
<circle cx="360.5" cy="97.9" r="1.0" fill="#1b8fd2"/>
<circle cx="370.5" cy="96.6" r="1.0" fill="#1b8fd2"/>
<circle cx="362.5" cy="97.0" r="1.0" fill="#1b8fd2"/>
<circle cx="355.9" cy="97.2" r="1.0" fill="#1b8fd2"/>
<circle cx="355.5" cy="95.2" r="1.0" fill="#1b8fd2"/>
<circle cx="361.5" cy="97.0" r="1.0" fill="#1b8fd2"/>
<circle cx="350.6" cy="95.6" r="1.0" fill="#1b8fd2"/>
<circle cx="358.8" cy="94.6" r="1.0" fill="#1b8fd2"/>
<circle cx="369.2" cy="94.9" r="1.0" fill="#1b8fd2"/>
<circle cx="369.5" cy="96.7" r="1.0" fill="#1b8fd2"/>
<circle cx="361.3" cy="97.0" r="1.0" fill="#1b8fd2"/>
<circle cx="360.9" cy="94.6" r="1.0" fill="#1b8fd2"/>
<circle cx="356.1" cy="96.2" r="1.0" fill="#1b8fd2"/>
<circle cx="361.5" cy="97.8" r="1.0" fill="#1b8fd2"/>
<circle cx="359.2" cy="94.4" r="1.0" fill="#1b8fd2"/>
<circle cx="363.2" cy="95.9" r="1.0" fill="#1b8fd2"/>
<circle cx="370.9" cy="96.1" r="1.0" fill="#1b8fd2"/>
<circle cx="365.7" cy="95.7" r="1.0" fill="#1b8fd2"/>
<circle cx="351.6" cy="95.4" r="1.0" fill="#1b8fd2"/>
<circle cx="352.4" cy="97.1" r="1.0" fill="#1b8fd2"/>
<circle cx="364.2" cy="95.5" r="1.0" fill="#1b8fd2"/>
<circle cx="372.1" cy="96.1" r="1.0" fill="#1b8fd2"/>
<circle cx="361.9" cy="94.2" r="1.0" fill="#1b8fd2"/>
<circle cx="367.7" cy="96.4" r="1.0" fill="#1b8fd2"/>
<circle cx="355.2" cy="94.8" r="1.0" fill="#1b8fd2"/>
<circle cx="354.3" cy="95.7" r="1.0" fill="#1b8fd2"/>
<circle cx="372.9" cy="96.0" r="1.0" fill="#1b8fd2"/>
<circle cx="368.8" cy="95.7" r="1.0" fill="#1b8fd2"/>
<circle cx="359.0" cy="95.0" r="1.0" fill="#1b8fd2"/>
<circle cx="366.7" cy="96.8" r="1.0" fill="#1b8fd2"/>
<circle cx="362.5" cy="94.0" r="1.0" fill="#1b8fd2"/>
<circle cx="366.2" cy="96.9" r="1.0" fill="#1b8fd2"/>
<circle cx="361.3" cy="96.8" r="1.0" fill="#1b8fd2"/>
<circle cx="364.1" cy="94.9" r="1.0" fill="#1b8fd2"/>
<circle cx="370.7" cy="96.0" r="1.0" fill="#1b8fd2"/>
<circle cx="358.8" cy="97.9" r="1.0" fill="#1b8fd2"/>
<circle cx="365.1" cy="95.0" r="1.0" fill="#1b8fd2"/>
<circle cx="371.9" cy="96.2" r="1.0" fill="#1b8fd2"/>
<circle cx="348.7" cy="96.5" r="1.0" fill="#1b8fd2"/>
<circle cx="354.5" cy="94.3" r="1.0" fill="#1b8fd2"/>
<circle cx="357.1" cy="94.7" r="1.0" fill="#1b8fd2"/>
<circle cx="361.8" cy="96.1" r="1.0" fill="#1b8fd2"/>
<circle cx="358.7" cy="94.8" r="1.0" fill="#1b8fd2"/>
<circle cx="382.9" cy="95.9" r="1.0" fill="#1b8fd2"/>
<circle cx="404.0" cy="95.9" r="1.0" fill="#1b8fd2"/>
<polygon points="331.0,103.8 340.0,103.7 347.0,103.2 351.0,102.3 356.0,101.8 364.0,101.8 371.0,102.3 376.0,103.4 382.0,103.8 382.0,104.8 376.0,105.2 371.0,106.2 364.0,106.8 356.0,106.8 351.0,106.2 347.0,105.3 340.0,104.9 331.0,104.8" fill="#8fc2cd" fill-opacity="1.0"/>
<circle cx="335.3" cy="104.3" r="1.0" fill="#8fc2cd"/>
<circle cx="350.5" cy="103.1" r="1.0" fill="#8fc2cd"/>
<circle cx="373.3" cy="104.5" r="1.0" fill="#8fc2cd"/>
<circle cx="363.4" cy="106.8" r="1.0" fill="#8fc2cd"/>
<circle cx="351.9" cy="106.1" r="1.0" fill="#8fc2cd"/>
<circle cx="362.4" cy="103.2" r="1.0" fill="#8fc2cd"/>
<circle cx="364.0" cy="103.3" r="1.0" fill="#8fc2cd"/>
<circle cx="354.8" cy="104.2" r="1.0" fill="#8fc2cd"/>
<circle cx="334.3" cy="104.4" r="1.0" fill="#8fc2cd"/>
<circle cx="366.2" cy="105.5" r="1.0" fill="#8fc2cd"/>
<circle cx="362.1" cy="102.9" r="1.0" fill="#8fc2cd"/>
<circle cx="342.1" cy="104.2" r="1.0" fill="#8fc2cd"/>
<circle cx="359.7" cy="101.7" r="1.0" fill="#8fc2cd"/>
<circle cx="346.9" cy="103.9" r="1.0" fill="#8fc2cd"/>
<circle cx="357.0" cy="103.0" r="1.0" fill="#8fc2cd"/>
<circle cx="366.9" cy="103.3" r="1.0" fill="#8fc2cd"/>
<circle cx="363.2" cy="104.6" r="1.0" fill="#8fc2cd"/>
<circle cx="354.7" cy="103.2" r="1.0" fill="#8fc2cd"/>
<circle cx="367.6" cy="106.0" r="1.0" fill="#8fc2cd"/>
<circle cx="351.9" cy="104.4" r="1.0" fill="#8fc2cd"/>
<circle cx="364.7" cy="101.6" r="1.0" fill="#8fc2cd"/>
<circle cx="353.5" cy="105.1" r="1.0" fill="#8fc2cd"/>
<circle cx="364.2" cy="106.0" r="1.0" fill="#8fc2cd"/>
<circle cx="362.0" cy="104.8" r="1.0" fill="#8fc2cd"/>
<circle cx="363.3" cy="101.5" r="1.0" fill="#8fc2cd"/>
<circle cx="370.6" cy="105.4" r="1.0" fill="#8fc2cd"/>
<circle cx="369.4" cy="104.1" r="1.0" fill="#8fc2cd"/>
<circle cx="379.2" cy="104.5" r="1.0" fill="#8fc2cd"/>
<circle cx="351.5" cy="102.9" r="1.0" fill="#8fc2cd"/>
<circle cx="379.5" cy="104.2" r="1.0" fill="#8fc2cd"/>
<circle cx="364.6" cy="101.9" r="1.0" fill="#8fc2cd"/>
<circle cx="347.3" cy="104.2" r="1.0" fill="#8fc2cd"/>
<circle cx="331.7" cy="104.3" r="1.0" fill="#8fc2cd"/>
<circle cx="351.3" cy="102.8" r="1.0" fill="#8fc2cd"/>
<circle cx="358.6" cy="105.7" r="1.0" fill="#8fc2cd"/>
<circle cx="363.7" cy="106.4" r="1.0" fill="#8fc2cd"/>
<circle cx="372.4" cy="104.9" r="1.0" fill="#8fc2cd"/>
<circle cx="370.5" cy="103.0" r="1.0" fill="#8fc2cd"/>
<circle cx="374.6" cy="105.0" r="1.0" fill="#8fc2cd"/>
<circle cx="371.7" cy="105.5" r="1.0" fill="#8fc2cd"/>
<circle cx="371.5" cy="104.1" r="1.0" fill="#8fc2cd"/>
<circle cx="380.0" cy="104.2" r="1.0" fill="#8fc2cd"/>
<circle cx="367.8" cy="102.4" r="1.0" fill="#8fc2cd"/>
<circle cx="347.7" cy="105.2" r="1.0" fill="#8fc2cd"/>
<circle cx="362.4" cy="104.8" r="1.0" fill="#8fc2cd"/>
<circle cx="358.6" cy="105.5" r="1.0" fill="#8fc2cd"/>
<circle cx="364.9" cy="105.6" r="1.0" fill="#8fc2cd"/>
<circle cx="353.5" cy="105.6" r="1.0" fill="#8fc2cd"/>
<circle cx="374.1" cy="104.0" r="1.0" fill="#8fc2cd"/>
<circle cx="353.3" cy="103.6" r="1.0" fill="#8fc2cd"/>
<circle cx="358.7" cy="103.5" r="1.0" fill="#8fc2cd"/>
<circle cx="348.9" cy="104.0" r="1.0" fill="#8fc2cd"/>
<circle cx="373.8" cy="105.3" r="1.0" fill="#8fc2cd"/>
<circle cx="373.3" cy="104.6" r="1.0" fill="#8fc2cd"/>
<circle cx="376.3" cy="103.8" r="1.0" fill="#8fc2cd"/>
<circle cx="351.1" cy="105.5" r="1.0" fill="#8fc2cd"/>
<circle cx="354.8" cy="103.7" r="1.0" fill="#8fc2cd"/>
<circle cx="373.8" cy="103.2" r="1.0" fill="#8fc2cd"/>
<circle cx="372.5" cy="105.4" r="1.0" fill="#8fc2cd"/>
<circle cx="344.9" cy="104.6" r="1.0" fill="#8fc2cd"/>
<circle cx="358.7" cy="102.9" r="1.0" fill="#8fc2cd"/>
<circle cx="338.9" cy="104.2" r="1.0" fill="#8fc2cd"/>
<circle cx="370.2" cy="102.2" r="1.0" fill="#8fc2cd"/>
<circle cx="370.5" cy="105.5" r="1.0" fill="#8fc2cd"/>
<circle cx="375.5" cy="104.8" r="1.0" fill="#8fc2cd"/>
<circle cx="370.0" cy="105.5" r="1.0" fill="#8fc2cd"/>
<circle cx="357.5" cy="102.2" r="1.0" fill="#8fc2cd"/>
<circle cx="355.9" cy="102.5" r="1.0" fill="#8fc2cd"/>
<circle cx="364.2" cy="105.5" r="1.0" fill="#8fc2cd"/>
<circle cx="357.9" cy="104.8" r="1.0" fill="#8fc2cd"/>
<circle cx="377.4" cy="104.2" r="1.0" fill="#8fc2cd"/>
<circle cx="359.1" cy="102.3" r="1.0" fill="#8fc2cd"/>
<circle cx="358.7" cy="105.8" r="1.0" fill="#8fc2cd"/>
<circle cx="378.8" cy="104.6" r="1.0" fill="#8fc2cd"/>
<circle cx="352.1" cy="104.7" r="1.0" fill="#8fc2cd"/>
<circle cx="354.5" cy="105.9" r="1.0" fill="#8fc2cd"/>
<circle cx="341.5" cy="104.4" r="1.0" fill="#8fc2cd"/>
<circle cx="374.7" cy="103.6" r="1.0" fill="#8fc2cd"/>
<circle cx="360.6" cy="106.7" r="1.0" fill="#8fc2cd"/>
<circle cx="358.3" cy="102.2" r="1.0" fill="#8fc2cd"/>
<circle cx="372.4" cy="105.5" r="1.0" fill="#8fc2cd"/>
<circle cx="374.1" cy="103.1" r="1.0" fill="#8fc2cd"/>
<circle cx="350.6" cy="104.6" r="1.0" fill="#8fc2cd"/>
<circle cx="345.9" cy="104.1" r="1.0" fill="#8fc2cd"/>
<circle cx="372.0" cy="103.1" r="1.0" fill="#8fc2cd"/>
<circle cx="377.3" cy="104.4" r="1.0" fill="#8fc2cd"/>
<circle cx="360.8" cy="104.5" r="1.0" fill="#8fc2cd"/>
<circle cx="367.0" cy="101.8" r="1.0" fill="#8fc2cd"/>
<circle cx="333.7" cy="104.3" r="1.0" fill="#8fc2cd"/>
<circle cx="360.0" cy="103.0" r="1.0" fill="#8fc2cd"/>
<circle cx="341.6" cy="104.3" r="1.0" fill="#8fc2cd"/>
<circle cx="346.0" cy="103.8" r="1.0" fill="#8fc2cd"/>
<circle cx="338.9" cy="104.5" r="1.0" fill="#8fc2cd"/>
<circle cx="360.7" cy="104.0" r="1.0" fill="#8fc2cd"/>
<circle cx="362.4" cy="103.1" r="1.0" fill="#8fc2cd"/>
<circle cx="357.8" cy="106.2" r="1.0" fill="#8fc2cd"/>
<circle cx="366.8" cy="103.2" r="1.0" fill="#8fc2cd"/>
<circle cx="341.9" cy="104.2" r="1.0" fill="#8fc2cd"/>
<circle cx="351.4" cy="102.8" r="1.0" fill="#8fc2cd"/>
<circle cx="349.0" cy="105.3" r="1.0" fill="#8fc2cd"/>
<circle cx="360.0" cy="106.1" r="1.0" fill="#8fc2cd"/>
<circle cx="368.6" cy="105.1" r="1.0" fill="#8fc2cd"/>
<circle cx="349.0" cy="104.2" r="1.0" fill="#8fc2cd"/>
<circle cx="373.4" cy="103.7" r="1.0" fill="#8fc2cd"/>
<circle cx="355.4" cy="102.8" r="1.0" fill="#8fc2cd"/>
<circle cx="350.4" cy="103.8" r="1.0" fill="#8fc2cd"/>
<circle cx="352.1" cy="103.1" r="1.0" fill="#8fc2cd"/>
<circle cx="367.9" cy="105.3" r="1.0" fill="#8fc2cd"/>
<circle cx="332.5" cy="104.3" r="1.0" fill="#8fc2cd"/>
<circle cx="357.7" cy="103.5" r="1.0" fill="#8fc2cd"/>
<circle cx="353.7" cy="102.0" r="1.0" fill="#8fc2cd"/>
<circle cx="361.0" cy="103.6" r="1.0" fill="#8fc2cd"/>
<circle cx="389.6" cy="104.3" r="0.9" fill="#8fc2cd"/>
<circle cx="397.3" cy="104.3" r="0.9" fill="#8fc2cd"/>
<circle cx="424.2" cy="104.3" r="0.9" fill="#8fc2cd"/>
<circle cx="357.9" cy="100.4" r="2.0" fill="#f2a51e"/>
<polygon points="312.7,119.2 316.0,118.1 320.0,117.4 326.0,117.1 334.0,117.3 340.0,118.0 346.0,118.8 354.0,119.1 362.0,119.3 368.5,119.4 368.5,120.2 362.0,120.3 354.0,120.5 346.0,120.8 340.0,121.6 334.0,122.3 326.0,122.5 320.0,122.2 316.0,121.5 312.7,120.4" fill="#7eb2b7" fill-opacity="1.0"/>
<circle cx="322.0" cy="120.2" r="1.0" fill="#7eb2b7"/>
<circle cx="337.4" cy="120.2" r="1.0" fill="#7eb2b7"/>
<circle cx="331.8" cy="119.0" r="1.0" fill="#7eb2b7"/>
<circle cx="367.2" cy="119.8" r="1.0" fill="#7eb2b7"/>
<circle cx="359.8" cy="119.9" r="1.0" fill="#7eb2b7"/>
<circle cx="334.1" cy="120.3" r="1.0" fill="#7eb2b7"/>
<circle cx="320.7" cy="117.8" r="1.0" fill="#7eb2b7"/>
<circle cx="325.1" cy="118.3" r="1.0" fill="#7eb2b7"/>
<circle cx="332.9" cy="122.5" r="1.0" fill="#7eb2b7"/>
<circle cx="344.6" cy="120.8" r="1.0" fill="#7eb2b7"/>
<circle cx="352.2" cy="119.5" r="1.0" fill="#7eb2b7"/>
<circle cx="350.9" cy="119.6" r="1.0" fill="#7eb2b7"/>
<circle cx="342.8" cy="119.4" r="1.0" fill="#7eb2b7"/>
<circle cx="330.0" cy="120.2" r="1.0" fill="#7eb2b7"/>
<circle cx="334.2" cy="121.4" r="1.0" fill="#7eb2b7"/>
<circle cx="323.9" cy="117.2" r="1.0" fill="#7eb2b7"/>
<circle cx="333.9" cy="119.5" r="1.0" fill="#7eb2b7"/>
<circle cx="327.3" cy="122.5" r="1.0" fill="#7eb2b7"/>
<circle cx="333.5" cy="121.3" r="1.0" fill="#7eb2b7"/>
<circle cx="315.2" cy="119.8" r="1.0" fill="#7eb2b7"/>
<circle cx="318.3" cy="121.5" r="1.0" fill="#7eb2b7"/>
<circle cx="337.5" cy="120.4" r="1.0" fill="#7eb2b7"/>
<circle cx="329.3" cy="117.6" r="1.0" fill="#7eb2b7"/>
<circle cx="322.6" cy="117.2" r="1.0" fill="#7eb2b7"/>
<circle cx="362.5" cy="119.9" r="1.0" fill="#7eb2b7"/>
<circle cx="314.7" cy="120.4" r="1.0" fill="#7eb2b7"/>
<circle cx="358.4" cy="119.8" r="1.0" fill="#7eb2b7"/>
<circle cx="347.2" cy="119.4" r="1.0" fill="#7eb2b7"/>
<circle cx="312.4" cy="119.7" r="1.0" fill="#7eb2b7"/>
<circle cx="350.0" cy="119.4" r="1.0" fill="#7eb2b7"/>
<circle cx="339.4" cy="118.2" r="1.0" fill="#7eb2b7"/>
<circle cx="322.5" cy="120.1" r="1.0" fill="#7eb2b7"/>
<circle cx="338.4" cy="121.8" r="1.0" fill="#7eb2b7"/>
<circle cx="358.1" cy="120.0" r="1.0" fill="#7eb2b7"/>
<circle cx="317.3" cy="121.3" r="1.0" fill="#7eb2b7"/>
<circle cx="324.9" cy="119.1" r="1.0" fill="#7eb2b7"/>
<circle cx="319.9" cy="117.7" r="1.0" fill="#7eb2b7"/>
<circle cx="350.3" cy="119.5" r="1.0" fill="#7eb2b7"/>
<circle cx="319.7" cy="120.9" r="1.0" fill="#7eb2b7"/>
<circle cx="318.9" cy="117.7" r="1.0" fill="#7eb2b7"/>
<circle cx="318.5" cy="118.0" r="1.0" fill="#7eb2b7"/>
<circle cx="347.3" cy="119.1" r="1.0" fill="#7eb2b7"/>
<circle cx="321.7" cy="117.4" r="1.0" fill="#7eb2b7"/>
<circle cx="362.2" cy="119.8" r="1.0" fill="#7eb2b7"/>
<circle cx="315.4" cy="118.7" r="1.0" fill="#7eb2b7"/>
<circle cx="330.2" cy="117.3" r="1.0" fill="#7eb2b7"/>
<circle cx="319.7" cy="121.0" r="1.0" fill="#7eb2b7"/>
<circle cx="321.2" cy="120.2" r="1.0" fill="#7eb2b7"/>
<circle cx="321.5" cy="119.6" r="1.0" fill="#7eb2b7"/>
<circle cx="333.7" cy="122.2" r="1.0" fill="#7eb2b7"/>
<circle cx="322.5" cy="122.5" r="1.0" fill="#7eb2b7"/>
<circle cx="326.7" cy="120.4" r="1.0" fill="#7eb2b7"/>
<circle cx="349.5" cy="119.3" r="1.0" fill="#7eb2b7"/>
<circle cx="334.9" cy="121.5" r="1.0" fill="#7eb2b7"/>
<circle cx="313.3" cy="120.0" r="1.0" fill="#7eb2b7"/>
<circle cx="323.9" cy="118.0" r="1.0" fill="#7eb2b7"/>
<circle cx="335.7" cy="118.0" r="1.0" fill="#7eb2b7"/>
<circle cx="325.9" cy="121.7" r="1.0" fill="#7eb2b7"/>
<circle cx="318.3" cy="118.4" r="1.0" fill="#7eb2b7"/>
<circle cx="318.6" cy="118.8" r="1.0" fill="#7eb2b7"/>
<circle cx="327.3" cy="117.0" r="1.0" fill="#7eb2b7"/>
<circle cx="335.9" cy="119.0" r="1.0" fill="#7eb2b7"/>
<circle cx="330.5" cy="117.6" r="1.0" fill="#7eb2b7"/>
<circle cx="323.4" cy="121.3" r="1.0" fill="#7eb2b7"/>
<circle cx="320.3" cy="120.4" r="1.0" fill="#7eb2b7"/>
<circle cx="325.8" cy="120.6" r="1.0" fill="#7eb2b7"/>
<circle cx="351.1" cy="120.1" r="1.0" fill="#7eb2b7"/>
<circle cx="317.6" cy="119.6" r="1.0" fill="#7eb2b7"/>
<circle cx="317.1" cy="121.3" r="1.0" fill="#7eb2b7"/>
<circle cx="317.6" cy="119.9" r="1.0" fill="#7eb2b7"/>
<circle cx="333.3" cy="119.5" r="1.0" fill="#7eb2b7"/>
<circle cx="315.3" cy="120.7" r="1.0" fill="#7eb2b7"/>
<circle cx="325.7" cy="119.0" r="1.0" fill="#7eb2b7"/>
<circle cx="325.6" cy="121.6" r="1.0" fill="#7eb2b7"/>
<circle cx="328.8" cy="121.2" r="1.0" fill="#7eb2b7"/>
<circle cx="329.3" cy="120.6" r="1.0" fill="#7eb2b7"/>
<circle cx="346.7" cy="119.8" r="1.0" fill="#7eb2b7"/>
<circle cx="325.6" cy="117.0" r="1.0" fill="#7eb2b7"/>
<circle cx="320.7" cy="119.6" r="1.0" fill="#7eb2b7"/>
<circle cx="343.0" cy="120.1" r="1.0" fill="#7eb2b7"/>
<circle cx="322.9" cy="120.6" r="1.0" fill="#7eb2b7"/>
<circle cx="320.2" cy="117.5" r="1.0" fill="#7eb2b7"/>
<circle cx="314.5" cy="119.8" r="1.0" fill="#7eb2b7"/>
<circle cx="360.6" cy="119.8" r="1.0" fill="#7eb2b7"/>
<circle cx="337.2" cy="118.5" r="1.0" fill="#7eb2b7"/>
<circle cx="336.2" cy="121.2" r="1.0" fill="#7eb2b7"/>
<circle cx="317.8" cy="121.7" r="1.0" fill="#7eb2b7"/>
<circle cx="346.8" cy="120.2" r="1.0" fill="#7eb2b7"/>
<circle cx="316.9" cy="119.7" r="1.0" fill="#7eb2b7"/>
<circle cx="338.9" cy="118.5" r="1.0" fill="#7eb2b7"/>
<circle cx="346.4" cy="119.4" r="1.0" fill="#7eb2b7"/>
<circle cx="330.2" cy="120.7" r="1.0" fill="#7eb2b7"/>
<circle cx="321.3" cy="122.3" r="1.0" fill="#7eb2b7"/>
<circle cx="364.1" cy="119.8" r="1.0" fill="#7eb2b7"/>
<circle cx="315.9" cy="120.8" r="1.0" fill="#7eb2b7"/>
<circle cx="324.4" cy="121.5" r="1.0" fill="#7eb2b7"/>
<circle cx="335.7" cy="122.2" r="1.0" fill="#7eb2b7"/>
<circle cx="336.2" cy="118.0" r="1.0" fill="#7eb2b7"/>
<circle cx="321.7" cy="117.5" r="1.0" fill="#7eb2b7"/>
<circle cx="324.3" cy="117.6" r="1.0" fill="#7eb2b7"/>
<circle cx="328.1" cy="121.5" r="1.0" fill="#7eb2b7"/>
<circle cx="363.8" cy="119.8" r="1.0" fill="#7eb2b7"/>
<circle cx="366.9" cy="119.8" r="1.0" fill="#7eb2b7"/>
<circle cx="318.3" cy="117.7" r="1.0" fill="#7eb2b7"/>
<circle cx="348.5" cy="120.0" r="1.0" fill="#7eb2b7"/>
<circle cx="328.3" cy="117.6" r="1.0" fill="#7eb2b7"/>
<circle cx="323.3" cy="117.1" r="1.0" fill="#7eb2b7"/>
<circle cx="329.3" cy="119.4" r="1.0" fill="#7eb2b7"/>
<circle cx="316.2" cy="120.0" r="1.0" fill="#7eb2b7"/>
<circle cx="340.4" cy="120.8" r="1.0" fill="#7eb2b7"/>
<circle cx="339.2" cy="121.1" r="1.0" fill="#7eb2b7"/>
<circle cx="323.9" cy="120.4" r="1.0" fill="#7eb2b7"/>
<circle cx="314.9" cy="118.8" r="1.0" fill="#7eb2b7"/>
<circle cx="341.3" cy="119.3" r="1.0" fill="#7eb2b7"/>
<circle cx="364.4" cy="119.8" r="1.0" fill="#7eb2b7"/>
<circle cx="319.7" cy="118.6" r="1.0" fill="#7eb2b7"/>
<circle cx="365.3" cy="119.8" r="1.0" fill="#7eb2b7"/>
<circle cx="333.4" cy="117.3" r="1.0" fill="#7eb2b7"/>
<circle cx="322.7" cy="119.2" r="1.0" fill="#7eb2b7"/>
<circle cx="342.2" cy="118.5" r="1.0" fill="#7eb2b7"/>
<circle cx="342.0" cy="118.4" r="1.0" fill="#7eb2b7"/>
<circle cx="327.2" cy="120.5" r="1.0" fill="#7eb2b7"/>
<rect x="324.2" y="113.0" width="12.5" height="14.0" fill="none" stroke="#b5d3d8" stroke-width="0.8"/>
<line x1="330.00" y1="113.00" x2="330.00" y2="127.00" stroke="#b5d3d8" stroke-width="0.8"/>
<circle cx="377.7" cy="60.7" r="2.1" fill="#f3b8a8" stroke="#e0604e" stroke-width="0.9"/>
<circle cx="377.7" cy="60.7" r="0.9" fill="#e0604e"/>
<circle cx="377.7" cy="120.3" r="2.1" fill="#f3b8a8" stroke="#e0604e" stroke-width="0.9"/>
<circle cx="377.7" cy="120.3" r="0.9" fill="#e0604e"/>
<polygon points="336.2,159.4 337.5,157.8 339.0,156.1 340.3,157.8 341.5,159.4 341.5,160.6 340.3,162.2 339.0,163.9 337.5,162.2 336.2,160.6" fill="#1b8fd2" fill-opacity="1.0"/>
<circle cx="338.2" cy="160.7" r="1.0" fill="#1b8fd2"/>
<circle cx="336.7" cy="160.1" r="1.0" fill="#1b8fd2"/>
<circle cx="340.7" cy="160.3" r="1.0" fill="#1b8fd2"/>
<circle cx="339.4" cy="158.4" r="1.0" fill="#1b8fd2"/>
<circle cx="339.5" cy="160.5" r="1.0" fill="#1b8fd2"/>
<circle cx="339.2" cy="159.1" r="1.0" fill="#1b8fd2"/>
<circle cx="339.3" cy="160.0" r="1.0" fill="#1b8fd2"/>
<circle cx="337.0" cy="159.8" r="1.0" fill="#1b8fd2"/>
<circle cx="337.2" cy="158.5" r="1.0" fill="#1b8fd2"/>
<circle cx="340.6" cy="160.3" r="1.0" fill="#1b8fd2"/>
<circle cx="338.3" cy="162.9" r="1.0" fill="#1b8fd2"/>
<circle cx="331.1" cy="160.0" r="1.05" fill="#2a5a80"/>
<rect x="336.4" y="154.8" width="4.8" height="10.4" fill="none" stroke="#5b9fd0" stroke-width="0.8"/>
<line x1="338.80" y1="154.80" x2="338.80" y2="165.20" stroke="#5b9fd0" stroke-width="0.8"/>
<circle cx="361.2" cy="159.2" r="2.3" fill="#f2a51e"/>
<polygon points="362.5,173.4 366.0,173.1 369.0,172.2 374.0,171.6 380.0,171.4 384.6,172.2 386.5,173.2 386.5,174.4 384.6,175.5 380.0,176.2 374.0,176.1 369.0,175.5 366.0,174.6 362.5,174.2" fill="#1b8fd2" fill-opacity="1.0"/>
<circle cx="376.9" cy="176.3" r="1.0" fill="#1b8fd2"/>
<circle cx="385.9" cy="174.5" r="1.0" fill="#1b8fd2"/>
<circle cx="385.5" cy="174.7" r="1.0" fill="#1b8fd2"/>
<circle cx="376.4" cy="173.2" r="1.0" fill="#1b8fd2"/>
<circle cx="375.7" cy="172.8" r="1.0" fill="#1b8fd2"/>
<circle cx="384.5" cy="173.0" r="1.0" fill="#1b8fd2"/>
<circle cx="373.4" cy="171.8" r="1.0" fill="#1b8fd2"/>
<circle cx="381.5" cy="173.5" r="1.0" fill="#1b8fd2"/>
<circle cx="370.4" cy="175.0" r="1.0" fill="#1b8fd2"/>
<circle cx="370.2" cy="172.9" r="1.0" fill="#1b8fd2"/>
<circle cx="372.6" cy="175.8" r="1.0" fill="#1b8fd2"/>
<circle cx="376.4" cy="172.8" r="1.0" fill="#1b8fd2"/>
<circle cx="374.2" cy="174.8" r="1.0" fill="#1b8fd2"/>
<circle cx="370.5" cy="173.4" r="1.0" fill="#1b8fd2"/>
<circle cx="367.4" cy="173.6" r="1.0" fill="#1b8fd2"/>
<circle cx="367.1" cy="174.4" r="1.0" fill="#1b8fd2"/>
<circle cx="383.6" cy="173.9" r="1.0" fill="#1b8fd2"/>
<circle cx="381.0" cy="175.9" r="1.0" fill="#1b8fd2"/>
<circle cx="381.1" cy="175.7" r="1.0" fill="#1b8fd2"/>
<circle cx="378.5" cy="173.8" r="1.0" fill="#1b8fd2"/>
<circle cx="377.3" cy="172.9" r="1.0" fill="#1b8fd2"/>
<circle cx="375.4" cy="174.1" r="1.0" fill="#1b8fd2"/>
<circle cx="379.1" cy="172.4" r="1.0" fill="#1b8fd2"/>
<circle cx="375.0" cy="173.0" r="1.0" fill="#1b8fd2"/>
<circle cx="382.6" cy="172.0" r="1.0" fill="#1b8fd2"/>
<circle cx="370.9" cy="175.3" r="1.0" fill="#1b8fd2"/>
<circle cx="375.4" cy="171.8" r="1.0" fill="#1b8fd2"/>
<circle cx="381.2" cy="174.6" r="1.0" fill="#1b8fd2"/>
<circle cx="377.5" cy="174.1" r="1.0" fill="#1b8fd2"/>
<circle cx="380.2" cy="173.3" r="1.0" fill="#1b8fd2"/>
<circle cx="380.7" cy="174.9" r="1.0" fill="#1b8fd2"/>
<circle cx="373.8" cy="176.2" r="1.0" fill="#1b8fd2"/>
<circle cx="374.7" cy="173.6" r="1.0" fill="#1b8fd2"/>
<circle cx="366.7" cy="174.1" r="1.0" fill="#1b8fd2"/>
<circle cx="373.9" cy="172.3" r="1.0" fill="#1b8fd2"/>
<circle cx="384.7" cy="175.1" r="1.0" fill="#1b8fd2"/>
<circle cx="366.8" cy="173.3" r="1.0" fill="#1b8fd2"/>
<circle cx="384.1" cy="173.6" r="1.0" fill="#1b8fd2"/>
<circle cx="383.0" cy="175.1" r="1.0" fill="#1b8fd2"/>
<circle cx="380.7" cy="172.0" r="1.0" fill="#1b8fd2"/>
<circle cx="369.8" cy="174.3" r="1.0" fill="#1b8fd2"/>
<circle cx="382.3" cy="172.1" r="1.0" fill="#1b8fd2"/>
<circle cx="385.7" cy="174.4" r="1.0" fill="#1b8fd2"/>
<circle cx="373.1" cy="175.4" r="1.0" fill="#1b8fd2"/>
<circle cx="369.2" cy="173.6" r="1.0" fill="#1b8fd2"/>
<circle cx="369.3" cy="174.5" r="1.0" fill="#1b8fd2"/>
<circle cx="371.8" cy="174.8" r="1.0" fill="#1b8fd2"/>
<circle cx="371.4" cy="175.8" r="1.0" fill="#1b8fd2"/>
<circle cx="367.5" cy="174.3" r="1.0" fill="#1b8fd2"/>
<circle cx="370.9" cy="174.8" r="1.0" fill="#1b8fd2"/>
<circle cx="373.4" cy="175.6" r="1.0" fill="#1b8fd2"/>
<circle cx="380.9" cy="173.1" r="1.0" fill="#1b8fd2"/>
<circle cx="353.1" cy="173.8" r="1.05" fill="#1b8fd2"/>
<circle cx="360.3" cy="173.8" r="1.05" fill="#1b8fd2"/>
<circle cx="362.6" cy="178.2" r="0.6" fill="#aaa"/>
<circle cx="362.6" cy="179.8" r="0.6" fill="#aaa"/>
<circle cx="362.6" cy="181.4" r="0.6" fill="#aaa"/>
<circle cx="380.3" cy="177.4" r="2.3" fill="#f2a51e"/>
<polygon points="364.6,193.0 367.0,191.9 371.0,190.8 376.0,190.7 381.0,191.0 384.0,191.9 385.6,193.0 385.6,193.8 384.0,194.9 381.0,195.8 376.0,196.1 371.0,196.0 367.0,194.9 364.6,193.8" fill="#1b8fd2" fill-opacity="1.0"/>
<circle cx="376.1" cy="195.2" r="1.0" fill="#1b8fd2"/>
<circle cx="373.1" cy="190.6" r="1.0" fill="#1b8fd2"/>
<circle cx="370.9" cy="194.3" r="1.0" fill="#1b8fd2"/>
<circle cx="371.9" cy="195.2" r="1.0" fill="#1b8fd2"/>
<circle cx="365.4" cy="192.9" r="1.0" fill="#1b8fd2"/>
<circle cx="379.2" cy="194.4" r="1.0" fill="#1b8fd2"/>
<circle cx="366.6" cy="193.5" r="1.0" fill="#1b8fd2"/>
<circle cx="379.3" cy="191.9" r="1.0" fill="#1b8fd2"/>
<circle cx="366.5" cy="194.2" r="1.0" fill="#1b8fd2"/>
<circle cx="369.4" cy="194.2" r="1.0" fill="#1b8fd2"/>
<circle cx="374.6" cy="192.9" r="1.0" fill="#1b8fd2"/>
<circle cx="368.1" cy="194.0" r="1.0" fill="#1b8fd2"/>
<circle cx="367.0" cy="194.4" r="1.0" fill="#1b8fd2"/>
<circle cx="384.4" cy="193.0" r="1.0" fill="#1b8fd2"/>
<circle cx="383.8" cy="192.6" r="1.0" fill="#1b8fd2"/>
<circle cx="377.7" cy="194.3" r="1.0" fill="#1b8fd2"/>
<circle cx="379.1" cy="195.1" r="1.0" fill="#1b8fd2"/>
<circle cx="369.7" cy="195.4" r="1.0" fill="#1b8fd2"/>
<circle cx="366.4" cy="193.4" r="1.0" fill="#1b8fd2"/>
<circle cx="370.8" cy="191.4" r="1.0" fill="#1b8fd2"/>
<circle cx="375.5" cy="191.3" r="1.0" fill="#1b8fd2"/>
<circle cx="379.7" cy="190.7" r="1.0" fill="#1b8fd2"/>
<circle cx="374.4" cy="194.4" r="1.0" fill="#1b8fd2"/>
<circle cx="373.3" cy="194.1" r="1.0" fill="#1b8fd2"/>
<circle cx="367.2" cy="193.6" r="1.0" fill="#1b8fd2"/>
<circle cx="369.4" cy="193.9" r="1.0" fill="#1b8fd2"/>
<circle cx="374.4" cy="190.7" r="1.0" fill="#1b8fd2"/>
<circle cx="371.9" cy="195.4" r="1.0" fill="#1b8fd2"/>
<circle cx="374.0" cy="191.1" r="1.0" fill="#1b8fd2"/>
<circle cx="377.2" cy="191.6" r="1.0" fill="#1b8fd2"/>
<circle cx="371.5" cy="191.3" r="1.0" fill="#1b8fd2"/>
<circle cx="384.2" cy="194.3" r="1.0" fill="#1b8fd2"/>
<circle cx="376.1" cy="195.2" r="1.0" fill="#1b8fd2"/>
<circle cx="384.0" cy="193.0" r="1.0" fill="#1b8fd2"/>
<circle cx="375.1" cy="194.1" r="1.0" fill="#1b8fd2"/>
<circle cx="376.8" cy="192.6" r="1.0" fill="#1b8fd2"/>
<circle cx="384.4" cy="192.9" r="1.0" fill="#1b8fd2"/>
<circle cx="373.0" cy="195.1" r="1.0" fill="#1b8fd2"/>
<circle cx="379.3" cy="195.4" r="1.0" fill="#1b8fd2"/>
<circle cx="379.9" cy="191.8" r="1.0" fill="#1b8fd2"/>
<circle cx="370.8" cy="193.8" r="1.0" fill="#1b8fd2"/>
<circle cx="373.3" cy="190.9" r="1.0" fill="#1b8fd2"/>
<circle cx="373.2" cy="191.3" r="1.0" fill="#1b8fd2"/>
<circle cx="368.9" cy="192.1" r="1.0" fill="#1b8fd2"/>
<circle cx="371.7" cy="195.2" r="1.0" fill="#1b8fd2"/>
<circle cx="372.0" cy="195.8" r="1.0" fill="#1b8fd2"/>
<rect x="370.8" y="187.4" width="8.4" height="11.8" fill="none" stroke="#5b9fd0" stroke-width="0.8"/>
<line x1="375.00" y1="187.40" x2="375.00" y2="199.20" stroke="#5b9fd0" stroke-width="0.8"/>
<polygon points="334.9,209.4 337.5,208.2 341.0,207.6 346.0,207.8 350.0,208.5 353.0,209.2 358.3,209.6 358.3,210.4 353.0,210.8 350.0,211.5 346.0,212.2 341.0,212.4 337.5,211.8 334.9,210.6" fill="#1a86c0" fill-opacity="1.0"/>
<circle cx="346.6" cy="209.2" r="1.0" fill="#1a86c0"/>
<circle cx="346.9" cy="212.1" r="1.0" fill="#1a86c0"/>
<circle cx="340.8" cy="211.4" r="1.0" fill="#1a86c0"/>
<circle cx="337.4" cy="211.1" r="1.0" fill="#1a86c0"/>
<circle cx="347.0" cy="210.3" r="1.0" fill="#1a86c0"/>
<circle cx="342.4" cy="208.9" r="1.0" fill="#1a86c0"/>
<circle cx="351.4" cy="209.5" r="1.0" fill="#1a86c0"/>
<circle cx="339.7" cy="211.5" r="1.0" fill="#1a86c0"/>
<circle cx="348.5" cy="209.3" r="1.0" fill="#1a86c0"/>
<circle cx="348.1" cy="210.8" r="1.0" fill="#1a86c0"/>
<circle cx="347.5" cy="208.3" r="1.0" fill="#1a86c0"/>
<circle cx="345.7" cy="207.9" r="1.0" fill="#1a86c0"/>
<circle cx="340.4" cy="208.3" r="1.0" fill="#1a86c0"/>
<circle cx="355.3" cy="209.8" r="1.0" fill="#1a86c0"/>
<circle cx="341.2" cy="212.4" r="1.0" fill="#1a86c0"/>
<circle cx="340.8" cy="211.2" r="1.0" fill="#1a86c0"/>
<circle cx="350.7" cy="209.9" r="1.0" fill="#1a86c0"/>
<circle cx="353.2" cy="210.1" r="1.0" fill="#1a86c0"/>
<circle cx="343.0" cy="208.9" r="1.0" fill="#1a86c0"/>
<circle cx="336.3" cy="210.2" r="1.0" fill="#1a86c0"/>
<circle cx="344.9" cy="210.7" r="1.0" fill="#1a86c0"/>
<circle cx="351.5" cy="209.5" r="1.0" fill="#1a86c0"/>
<circle cx="354.4" cy="210.0" r="1.0" fill="#1a86c0"/>
<circle cx="340.3" cy="207.5" r="1.0" fill="#1a86c0"/>
<circle cx="349.9" cy="209.2" r="1.0" fill="#1a86c0"/>
<circle cx="348.9" cy="210.8" r="1.0" fill="#1a86c0"/>
<circle cx="350.9" cy="210.6" r="1.0" fill="#1a86c0"/>
<circle cx="350.0" cy="210.9" r="1.0" fill="#1a86c0"/>
<circle cx="346.5" cy="209.0" r="1.0" fill="#1a86c0"/>
<circle cx="343.4" cy="208.9" r="1.0" fill="#1a86c0"/>
<circle cx="342.5" cy="211.0" r="1.0" fill="#1a86c0"/>
<circle cx="347.2" cy="208.8" r="1.0" fill="#1a86c0"/>
<circle cx="340.7" cy="209.7" r="1.0" fill="#1a86c0"/>
<circle cx="345.1" cy="207.8" r="1.0" fill="#1a86c0"/>
<circle cx="337.3" cy="209.9" r="1.0" fill="#1a86c0"/>
<circle cx="341.0" cy="211.2" r="1.0" fill="#1a86c0"/>
<circle cx="336.0" cy="210.0" r="1.0" fill="#1a86c0"/>
<circle cx="337.1" cy="210.6" r="1.0" fill="#1a86c0"/>
<circle cx="337.5" cy="209.2" r="1.0" fill="#1a86c0"/>
<circle cx="336.8" cy="208.9" r="1.0" fill="#1a86c0"/>
<circle cx="339.0" cy="210.5" r="1.0" fill="#1a86c0"/>
<circle cx="338.9" cy="210.9" r="1.0" fill="#1a86c0"/>
<circle cx="351.3" cy="210.5" r="1.0" fill="#1a86c0"/>
<circle cx="344.8" cy="209.1" r="1.0" fill="#1a86c0"/>
<circle cx="336.9" cy="210.5" r="1.0" fill="#1a86c0"/>
<circle cx="339.3" cy="211.5" r="1.0" fill="#1a86c0"/>
<circle cx="349.4" cy="210.6" r="1.0" fill="#1a86c0"/>
<circle cx="346.5" cy="209.5" r="1.0" fill="#1a86c0"/>
<circle cx="341.3" cy="211.1" r="1.0" fill="#1a86c0"/>
<circle cx="335.4" cy="210.4" r="1.0" fill="#1a86c0"/>
<circle cx="342.3" cy="207.6" r="1.0" fill="#1a86c0"/>
<rect x="340.0" y="204.3" width="6.1" height="11.3" fill="none" stroke="#5b9fd0" stroke-width="0.8"/>
<line x1="343.00" y1="204.30" x2="343.00" y2="215.60" stroke="#5b9fd0" stroke-width="0.8"/>
<line x1="338.50" y1="210.00" x2="361.00" y2="210.00" stroke="#1f5a2a" stroke-width="0.9"/>
<polygon points="359.5,210.0 363.3,207.7 363.3,212.3" fill="#1f5a2a"/>
<circle cx="357.6" cy="210.0" r="1.0" fill="#1f5a2a"/>
<circle cx="376.4" cy="210.0" r="1.0" fill="#2a6a8a"/>
<polygon points="345.3,226.4 350.0,226.1 355.0,225.3 360.0,224.6 365.0,224.2 370.0,224.9 374.0,225.8 380.0,226.1 391.1,226.4 391.1,227.2 380.0,227.5 374.0,227.9 370.0,228.8 365.0,229.4 360.0,229.1 355.0,228.3 350.0,227.6 345.3,227.2" fill="#1b8fd2" fill-opacity="1.0"/>
<circle cx="362.7" cy="228.4" r="1.0" fill="#1b8fd2"/>
<circle cx="362.3" cy="226.0" r="1.0" fill="#1b8fd2"/>
<circle cx="352.8" cy="226.4" r="1.0" fill="#1b8fd2"/>
<circle cx="357.4" cy="228.4" r="1.0" fill="#1b8fd2"/>
<circle cx="371.7" cy="227.4" r="1.0" fill="#1b8fd2"/>
<circle cx="385.3" cy="226.9" r="1.0" fill="#1b8fd2"/>
<circle cx="349.8" cy="227.1" r="1.0" fill="#1b8fd2"/>
<circle cx="367.2" cy="229.0" r="1.0" fill="#1b8fd2"/>
<circle cx="359.2" cy="225.2" r="1.0" fill="#1b8fd2"/>
<circle cx="368.2" cy="226.2" r="1.0" fill="#1b8fd2"/>
<circle cx="357.3" cy="227.5" r="1.0" fill="#1b8fd2"/>
<circle cx="382.5" cy="226.8" r="1.0" fill="#1b8fd2"/>
<circle cx="361.7" cy="224.6" r="1.0" fill="#1b8fd2"/>
<circle cx="368.6" cy="227.6" r="1.0" fill="#1b8fd2"/>
<circle cx="363.3" cy="225.0" r="1.0" fill="#1b8fd2"/>
<circle cx="369.9" cy="226.3" r="1.0" fill="#1b8fd2"/>
<circle cx="369.0" cy="225.7" r="1.0" fill="#1b8fd2"/>
<circle cx="360.4" cy="224.6" r="1.0" fill="#1b8fd2"/>
<circle cx="347.2" cy="226.9" r="1.0" fill="#1b8fd2"/>
<circle cx="345.4" cy="226.8" r="1.0" fill="#1b8fd2"/>
<circle cx="359.1" cy="229.0" r="1.0" fill="#1b8fd2"/>
<circle cx="372.1" cy="227.9" r="1.0" fill="#1b8fd2"/>
<circle cx="365.9" cy="228.1" r="1.0" fill="#1b8fd2"/>
<circle cx="364.0" cy="226.1" r="1.0" fill="#1b8fd2"/>
<circle cx="350.3" cy="226.5" r="1.0" fill="#1b8fd2"/>
<circle cx="360.6" cy="224.8" r="1.0" fill="#1b8fd2"/>
<circle cx="365.6" cy="224.5" r="1.0" fill="#1b8fd2"/>
<circle cx="370.0" cy="228.3" r="1.0" fill="#1b8fd2"/>
<circle cx="371.3" cy="227.1" r="1.0" fill="#1b8fd2"/>
<circle cx="362.0" cy="224.7" r="1.0" fill="#1b8fd2"/>
<circle cx="370.7" cy="227.5" r="1.0" fill="#1b8fd2"/>
<circle cx="348.5" cy="227.0" r="1.0" fill="#1b8fd2"/>
<circle cx="363.6" cy="228.2" r="1.0" fill="#1b8fd2"/>
<circle cx="368.9" cy="225.5" r="1.0" fill="#1b8fd2"/>
<circle cx="376.0" cy="227.4" r="1.0" fill="#1b8fd2"/>
<circle cx="385.1" cy="226.9" r="1.0" fill="#1b8fd2"/>
<circle cx="370.5" cy="226.8" r="1.0" fill="#1b8fd2"/>
<circle cx="369.7" cy="225.6" r="1.0" fill="#1b8fd2"/>
<circle cx="363.3" cy="224.9" r="1.0" fill="#1b8fd2"/>
<circle cx="363.9" cy="227.6" r="1.0" fill="#1b8fd2"/>
<circle cx="360.4" cy="228.2" r="1.0" fill="#1b8fd2"/>
<circle cx="382.6" cy="226.6" r="1.0" fill="#1b8fd2"/>
<circle cx="361.5" cy="227.9" r="1.0" fill="#1b8fd2"/>
<circle cx="358.5" cy="224.9" r="1.0" fill="#1b8fd2"/>
<circle cx="374.6" cy="227.1" r="1.0" fill="#1b8fd2"/>
<circle cx="364.6" cy="228.7" r="1.0" fill="#1b8fd2"/>
<circle cx="363.2" cy="227.7" r="1.0" fill="#1b8fd2"/>
<circle cx="382.3" cy="226.6" r="1.0" fill="#1b8fd2"/>
<circle cx="351.5" cy="226.3" r="1.0" fill="#1b8fd2"/>
<circle cx="353.1" cy="227.5" r="1.0" fill="#1b8fd2"/>
<circle cx="365.7" cy="227.5" r="1.0" fill="#1b8fd2"/>
<circle cx="349.7" cy="226.9" r="1.0" fill="#1b8fd2"/>
<circle cx="379.6" cy="226.7" r="1.0" fill="#1b8fd2"/>
<circle cx="386.4" cy="226.8" r="1.0" fill="#1b8fd2"/>
<circle cx="359.4" cy="224.9" r="1.0" fill="#1b8fd2"/>
<circle cx="378.1" cy="226.6" r="1.0" fill="#1b8fd2"/>
<circle cx="363.7" cy="224.5" r="1.0" fill="#1b8fd2"/>
<circle cx="366.2" cy="224.7" r="1.0" fill="#1b8fd2"/>
<circle cx="363.3" cy="229.1" r="1.0" fill="#1b8fd2"/>
<circle cx="380.5" cy="226.7" r="1.0" fill="#1b8fd2"/>
<circle cx="360.3" cy="227.3" r="1.0" fill="#1b8fd2"/>
<circle cx="382.9" cy="226.6" r="1.0" fill="#1b8fd2"/>
<circle cx="361.0" cy="226.7" r="1.0" fill="#1b8fd2"/>
<circle cx="358.4" cy="226.6" r="1.0" fill="#1b8fd2"/>
<circle cx="390.6" cy="226.8" r="1.0" fill="#1b8fd2"/>
<circle cx="352.4" cy="226.9" r="1.0" fill="#1b8fd2"/>
<circle cx="355.3" cy="225.8" r="1.0" fill="#1b8fd2"/>
<circle cx="367.1" cy="227.8" r="1.0" fill="#1b8fd2"/>
<circle cx="384.6" cy="226.8" r="1.0" fill="#1b8fd2"/>
<circle cx="376.8" cy="227.2" r="1.0" fill="#1b8fd2"/>
<circle cx="370.4" cy="227.4" r="1.0" fill="#1b8fd2"/>
<circle cx="347.0" cy="226.8" r="1.0" fill="#1b8fd2"/>
<circle cx="351.4" cy="226.6" r="1.0" fill="#1b8fd2"/>
<circle cx="373.5" cy="226.4" r="1.0" fill="#1b8fd2"/>
<circle cx="373.5" cy="226.7" r="1.0" fill="#1b8fd2"/>
<circle cx="388.9" cy="226.8" r="1.0" fill="#1b8fd2"/>
<circle cx="361.6" cy="224.8" r="1.0" fill="#1b8fd2"/>
<circle cx="365.9" cy="224.4" r="1.0" fill="#1b8fd2"/>
<circle cx="359.5" cy="227.8" r="1.0" fill="#1b8fd2"/>
<circle cx="352.7" cy="227.8" r="1.0" fill="#1b8fd2"/>
<circle cx="369.9" cy="226.9" r="1.0" fill="#1b8fd2"/>
<circle cx="370.2" cy="228.0" r="1.0" fill="#1b8fd2"/>
<circle cx="351.1" cy="226.6" r="1.0" fill="#1b8fd2"/>
<circle cx="366.7" cy="225.5" r="1.0" fill="#1b8fd2"/>
<circle cx="376.7" cy="226.3" r="1.0" fill="#1b8fd2"/>
<circle cx="372.5" cy="227.7" r="1.0" fill="#1b8fd2"/>
<circle cx="360.3" cy="226.5" r="1.0" fill="#1b8fd2"/>
<circle cx="346.4" cy="226.8" r="1.0" fill="#1b8fd2"/>
<circle cx="357.9" cy="227.1" r="1.0" fill="#1b8fd2"/>
<circle cx="355.1" cy="226.7" r="1.0" fill="#1b8fd2"/>
<circle cx="362.1" cy="229.1" r="1.0" fill="#1b8fd2"/>
<circle cx="364.2" cy="225.2" r="1.0" fill="#1b8fd2"/>
<circle cx="363.8" cy="224.4" r="1.0" fill="#1b8fd2"/>
<circle cx="355.0" cy="228.2" r="1.0" fill="#1b8fd2"/>
<circle cx="361.0" cy="226.1" r="1.0" fill="#1b8fd2"/>
<circle cx="357.7" cy="225.7" r="1.0" fill="#1b8fd2"/>
<circle cx="377.1" cy="226.4" r="1.0" fill="#1b8fd2"/>
<circle cx="373.3" cy="226.5" r="1.0" fill="#1b8fd2"/>
<circle cx="384.4" cy="226.7" r="1.0" fill="#1b8fd2"/>
<circle cx="362.2" cy="226.5" r="1.0" fill="#1b8fd2"/>
<circle cx="335.4" cy="226.8" r="0.9" fill="#335"/>
<circle cx="386.5" cy="226.8" r="1.0" fill="#1b8fd2"/>
<circle cx="389.0" cy="226.8" r="1.0" fill="#1b8fd2"/>
<circle cx="391.2" cy="226.8" r="1.0" fill="#1b8fd2"/>
<rect x="360.8" y="221.1" width="9.6" height="11.4" fill="none" stroke="#5b9fd0" stroke-width="0.8"/>
<line x1="365.60" y1="221.10" x2="365.60" y2="232.50" stroke="#5b9fd0" stroke-width="0.8"/>
<circle cx="365.7" cy="226.8" r="2.2" fill="#f2a51e"/>
<polygon points="327.5,242.9 331.0,242.2 335.0,241.5 339.0,241.2 342.0,242.0 343.8,242.9 343.8,243.8 342.0,244.7 339.0,245.4 335.0,245.1 331.0,244.4 327.5,243.8" fill="#1b8fd2" fill-opacity="1.0"/>
<circle cx="333.7" cy="244.3" r="1.0" fill="#1b8fd2"/>
<circle cx="334.8" cy="244.1" r="1.0" fill="#1b8fd2"/>
<circle cx="336.1" cy="242.0" r="1.0" fill="#1b8fd2"/>
<circle cx="334.7" cy="242.3" r="1.0" fill="#1b8fd2"/>
<circle cx="338.4" cy="243.5" r="1.0" fill="#1b8fd2"/>
<circle cx="334.6" cy="244.7" r="1.0" fill="#1b8fd2"/>
<circle cx="330.8" cy="243.2" r="1.0" fill="#1b8fd2"/>
<circle cx="329.6" cy="242.8" r="1.0" fill="#1b8fd2"/>
<circle cx="335.1" cy="244.0" r="1.0" fill="#1b8fd2"/>
<circle cx="343.1" cy="243.3" r="1.0" fill="#1b8fd2"/>
<circle cx="335.9" cy="243.8" r="1.0" fill="#1b8fd2"/>
<circle cx="335.5" cy="244.5" r="1.0" fill="#1b8fd2"/>
<circle cx="328.9" cy="243.5" r="1.0" fill="#1b8fd2"/>
<circle cx="336.8" cy="244.5" r="1.0" fill="#1b8fd2"/>
<circle cx="328.6" cy="243.1" r="1.0" fill="#1b8fd2"/>
<circle cx="333.1" cy="244.4" r="1.0" fill="#1b8fd2"/>
<circle cx="332.5" cy="243.0" r="1.0" fill="#1b8fd2"/>
<circle cx="334.5" cy="244.4" r="1.0" fill="#1b8fd2"/>
<circle cx="332.0" cy="242.7" r="1.0" fill="#1b8fd2"/>
<circle cx="332.5" cy="244.4" r="1.0" fill="#1b8fd2"/>
<circle cx="327.5" cy="243.2" r="1.0" fill="#1b8fd2"/>
<circle cx="336.6" cy="242.5" r="1.0" fill="#1b8fd2"/>
<circle cx="333.8" cy="244.5" r="1.0" fill="#1b8fd2"/>
<circle cx="340.7" cy="242.0" r="1.0" fill="#1b8fd2"/>
<circle cx="339.8" cy="244.4" r="1.0" fill="#1b8fd2"/>
<circle cx="336.2" cy="242.2" r="1.0" fill="#1b8fd2"/>
<circle cx="341.4" cy="243.2" r="1.0" fill="#1b8fd2"/>
<circle cx="334.3" cy="241.7" r="1.0" fill="#1b8fd2"/>
<circle cx="329.6" cy="243.5" r="1.0" fill="#1b8fd2"/>
<circle cx="340.8" cy="243.8" r="1.0" fill="#1b8fd2"/>
<circle cx="342.7" cy="242.8" r="1.0" fill="#1b8fd2"/>
<circle cx="329.2" cy="243.6" r="1.0" fill="#1b8fd2"/>
<circle cx="335.3" cy="244.2" r="1.0" fill="#1b8fd2"/>
<circle cx="328.9" cy="243.5" r="1.0" fill="#1b8fd2"/>
<circle cx="338.6" cy="243.7" r="1.0" fill="#1b8fd2"/>
<circle cx="321.0" cy="243.3" r="0.9" fill="#1b8fd2"/>
<circle cx="326.2" cy="243.3" r="0.9" fill="#1b8fd2"/>
<circle cx="354.8" cy="243.3" r="0.9" fill="#1b8fd2"/>
<circle cx="357.4" cy="243.3" r="0.9" fill="#1b8fd2"/>
<rect x="334.9" y="237.7" width="5.2" height="11.6" fill="none" stroke="#5b9fd0" stroke-width="0.8"/>
<line x1="337.50" y1="237.70" x2="337.50" y2="249.30" stroke="#5b9fd0" stroke-width="0.8"/>
<circle cx="338.9" cy="243.3" r="2.2" fill="#f2a51e"/>
<line x1="316.40" y1="291.90" x2="316.40" y2="302.30" stroke="#e6a0a0" stroke-width="0.9"/>
<text x="319.30" y="299.70" font-size="9.2" text-anchor="start" fill="#111" stroke="#111" stroke-width="0.12" font-weight="bold" textLength="14.6" lengthAdjust="spacingAndGlyphs">25x</text>
<rect x="343.7" y="293.3" width="9.6" height="7.2" fill="none" stroke="#9dc9d3" stroke-width="0.8"/>
<line x1="348.50" y1="293.30" x2="348.50" y2="300.50" stroke="#9dc9d3" stroke-width="0.7"/>
<line x1="343.70" y1="296.90" x2="353.30" y2="296.90" stroke="#9dc9d3" stroke-width="0.6"/>
<text x="356.40" y="300.00" font-size="9.2" text-anchor="start" fill="#2a2a2a" stroke="#2a2a2a" stroke-width="0.12" textLength="19.6" lengthAdjust="spacingAndGlyphs">FFPE</text>
<rect x="385.6" y="293.3" width="9.6" height="7.2" fill="none" stroke="#3b95cf" stroke-width="0.8"/>
<line x1="390.40" y1="293.30" x2="390.40" y2="300.50" stroke="#3b95cf" stroke-width="0.7"/>
<line x1="385.60" y1="296.90" x2="395.20" y2="296.90" stroke="#3b95cf" stroke-width="0.6"/>
<text x="398.40" y="300.00" font-size="9.2" text-anchor="start" fill="#2a2a2a" stroke="#2a2a2a" stroke-width="0.12" textLength="26.0" lengthAdjust="spacingAndGlyphs">Frozen</text>
<rect x="433.6" y="293.3" width="9.6" height="7.2" fill="none" stroke="#d58ab8" stroke-width="0.8"/>
<line x1="438.40" y1="293.30" x2="438.40" y2="300.50" stroke="#d58ab8" stroke-width="0.7"/>
<line x1="433.60" y1="296.90" x2="443.20" y2="296.90" stroke="#d58ab8" stroke-width="0.6"/>
<text x="446.60" y="300.00" font-size="9.2" text-anchor="start" fill="#2a2a2a" stroke="#2a2a2a" stroke-width="0.12" textLength="43.0" lengthAdjust="spacingAndGlyphs">Unavailable</text>
<circle cx="339.1" cy="309.2" r="2.0" fill="#f0a898" stroke="#e0604e" stroke-width="0.6"/>
<circle cx="339.1" cy="309.2" r="0.8" fill="#e0604e"/>
<text x="348.30" y="312.70" font-size="9.2" text-anchor="start" fill="#2a2a2a" stroke="#2a2a2a" stroke-width="0.12" textLength="124.5" lengthAdjust="spacingAndGlyphs">Targeted depth reported in study</text>
<circle cx="339.1" cy="321.9" r="2.2" fill="#f2a51e"/>
<text x="348.30" y="325.10" font-size="9.2" text-anchor="start" fill="#2a2a2a" stroke="#2a2a2a" stroke-width="0.12" textLength="122.0" lengthAdjust="spacingAndGlyphs">Average depth reported in study</text>
<line x1="334.00" y1="334.70" x2="344.00" y2="334.70" stroke="#1f6a2a" stroke-width="1.0"/>
<polygon points="336.8,334.7 333.0,332.5 333.0,336.9" fill="#1f6a2a"/>
<polygon points="341.2,334.7 345.0,332.5 345.0,336.9" fill="#1f6a2a"/>
<text x="348.30" y="337.20" font-size="9.2" text-anchor="start" fill="#2a2a2a" stroke="#2a2a2a" stroke-width="0.12" textLength="124.5" lengthAdjust="spacingAndGlyphs">Range of depth reported in study</text>
<text x="119.00" y="378.75" font-size="10.4" text-anchor="middle" fill="#2a2a2a" stroke="#2a2a2a" stroke-width="0.12" textLength="109.5" lengthAdjust="spacingAndGlyphs">DLBCL Exome Cohorts</text>
<text x="118.50" y="390.75" font-size="10.4" text-anchor="middle" fill="#2a2a2a" stroke="#2a2a2a" stroke-width="0.12" textLength="58.5" lengthAdjust="spacingAndGlyphs">(Tumor only)</text>
<line x1="42.00" y1="564.80" x2="195.00" y2="564.80" stroke="#ededed" stroke-width="0.6"/>
<line x1="42.00" y1="531.70" x2="195.00" y2="531.70" stroke="#ededed" stroke-width="0.6"/>
<line x1="42.00" y1="498.60" x2="195.00" y2="498.60" stroke="#ededed" stroke-width="0.6"/>
<line x1="42.00" y1="465.50" x2="195.00" y2="465.50" stroke="#ededed" stroke-width="0.6"/>
<line x1="42.00" y1="432.40" x2="195.00" y2="432.40" stroke="#ededed" stroke-width="0.6"/>
<line x1="48.60" y1="427.00" x2="48.60" y2="570.50" stroke="#ededed" stroke-width="0.6"/>
<line x1="83.70" y1="427.00" x2="83.70" y2="570.50" stroke="#ededed" stroke-width="0.6"/>
<line x1="118.80" y1="427.00" x2="118.80" y2="570.50" stroke="#ededed" stroke-width="0.6"/>
<line x1="153.90" y1="427.00" x2="153.90" y2="570.50" stroke="#ededed" stroke-width="0.6"/>
<line x1="189.00" y1="427.00" x2="189.00" y2="570.50" stroke="#ededed" stroke-width="0.6"/>
<circle cx="82.2" cy="540.2" r="0.95" fill="#a8202a" fill-opacity="0.8"/>
<circle cx="60.1" cy="547.2" r="0.95" fill="#e8679f" fill-opacity="0.8"/>
<circle cx="57.5" cy="550.9" r="0.95" fill="#e8679f" fill-opacity="0.8"/>
<circle cx="82.5" cy="542.9" r="0.95" fill="#a8202a" fill-opacity="0.8"/>
<circle cx="61.3" cy="541.5" r="0.95" fill="#e8679f" fill-opacity="0.8"/>
<circle cx="121.4" cy="476.5" r="0.95" fill="#2b8cc4" fill-opacity="0.8"/>
<circle cx="119.9" cy="524.7" r="0.95" fill="#2b8cc4" fill-opacity="0.8"/>
<circle cx="62.6" cy="494.6" r="0.95" fill="#e8679f" fill-opacity="0.8"/>
<circle cx="54.0" cy="547.5" r="0.95" fill="#e8679f" fill-opacity="0.8"/>
<circle cx="132.1" cy="515.8" r="0.95" fill="#2b8cc4" fill-opacity="0.8"/>
<circle cx="73.8" cy="508.7" r="0.95" fill="#e8679f" fill-opacity="0.8"/>
<circle cx="111.5" cy="528.4" r="0.95" fill="#2b8cc4" fill-opacity="0.8"/>
<circle cx="90.3" cy="532.0" r="0.95" fill="#a8202a" fill-opacity="0.8"/>
<circle cx="86.1" cy="533.9" r="0.95" fill="#a8202a" fill-opacity="0.8"/>
<circle cx="156.5" cy="503.2" r="0.95" fill="#2b8cc4" fill-opacity="0.8"/>
<circle cx="70.8" cy="527.1" r="0.95" fill="#e8679f" fill-opacity="0.8"/>
<circle cx="87.8" cy="526.0" r="0.95" fill="#a8202a" fill-opacity="0.8"/>
<circle cx="133.1" cy="535.4" r="0.95" fill="#2b8cc4" fill-opacity="0.8"/>
<circle cx="137.0" cy="514.3" r="0.95" fill="#2b8cc4" fill-opacity="0.8"/>
<circle cx="59.8" cy="553.2" r="0.95" fill="#e8679f" fill-opacity="0.8"/>
<circle cx="143.8" cy="509.2" r="0.95" fill="#2b8cc4" fill-opacity="0.8"/>
<circle cx="57.1" cy="549.4" r="0.95" fill="#e8679f" fill-opacity="0.8"/>
<circle cx="66.3" cy="505.0" r="0.95" fill="#e8679f" fill-opacity="0.8"/>
<circle cx="52.5" cy="555.0" r="0.95" fill="#e8679f" fill-opacity="0.8"/>
<circle cx="82.9" cy="548.2" r="0.95" fill="#a8202a" fill-opacity="0.8"/>
<circle cx="56.8" cy="553.8" r="0.95" fill="#e8679f" fill-opacity="0.8"/>
<circle cx="113.3" cy="531.5" r="0.95" fill="#2b8cc4" fill-opacity="0.8"/>
<circle cx="66.1" cy="533.0" r="0.95" fill="#e8679f" fill-opacity="0.8"/>
<circle cx="64.8" cy="537.3" r="0.95" fill="#e8679f" fill-opacity="0.8"/>
<circle cx="56.5" cy="558.3" r="0.95" fill="#e8679f" fill-opacity="0.8"/>
<circle cx="109.1" cy="493.7" r="0.95" fill="#2b8cc4" fill-opacity="0.8"/>
<circle cx="143.7" cy="533.7" r="0.95" fill="#2b8cc4" fill-opacity="0.8"/>
<circle cx="49.7" cy="560.7" r="0.95" fill="#e8679f" fill-opacity="0.8"/>
<circle cx="64.6" cy="533.2" r="0.95" fill="#e8679f" fill-opacity="0.8"/>
<circle cx="87.0" cy="545.5" r="0.95" fill="#a8202a" fill-opacity="0.8"/>
<circle cx="61.5" cy="525.9" r="0.95" fill="#e8679f" fill-opacity="0.8"/>
<circle cx="58.4" cy="554.8" r="0.95" fill="#e8679f" fill-opacity="0.8"/>
<circle cx="93.9" cy="528.1" r="0.95" fill="#a8202a" fill-opacity="0.8"/>
<circle cx="126.4" cy="527.7" r="0.95" fill="#2b8cc4" fill-opacity="0.8"/>
<circle cx="108.8" cy="503.6" r="0.95" fill="#2b8cc4" fill-opacity="0.8"/>
<circle cx="85.9" cy="550.3" r="0.95" fill="#a8202a" fill-opacity="0.8"/>
<circle cx="120.0" cy="517.4" r="0.95" fill="#2b8cc4" fill-opacity="0.8"/>
<circle cx="77.9" cy="518.7" r="0.95" fill="#a8202a" fill-opacity="0.8"/>
<circle cx="69.7" cy="534.9" r="0.95" fill="#e8679f" fill-opacity="0.8"/>
<circle cx="54.9" cy="536.3" r="0.95" fill="#e8679f" fill-opacity="0.8"/>
<circle cx="59.3" cy="521.3" r="0.95" fill="#e8679f" fill-opacity="0.8"/>
<circle cx="81.6" cy="550.6" r="0.95" fill="#a8202a" fill-opacity="0.8"/>
<circle cx="65.7" cy="502.8" r="0.95" fill="#e8679f" fill-opacity="0.8"/>
<circle cx="129.5" cy="519.9" r="0.95" fill="#2b8cc4" fill-opacity="0.8"/>
<circle cx="119.6" cy="510.6" r="0.95" fill="#2b8cc4" fill-opacity="0.8"/>
<circle cx="84.9" cy="549.7" r="0.95" fill="#a8202a" fill-opacity="0.8"/>
<circle cx="84.6" cy="542.9" r="0.95" fill="#a8202a" fill-opacity="0.8"/>
<circle cx="91.7" cy="517.3" r="0.95" fill="#a8202a" fill-opacity="0.8"/>
<circle cx="57.9" cy="541.4" r="0.95" fill="#e8679f" fill-opacity="0.8"/>
<circle cx="61.5" cy="548.1" r="0.95" fill="#e8679f" fill-opacity="0.8"/>
<circle cx="88.1" cy="503.5" r="0.95" fill="#a8202a" fill-opacity="0.8"/>
<circle cx="65.8" cy="536.8" r="0.95" fill="#e8679f" fill-opacity="0.8"/>
<circle cx="136.3" cy="520.2" r="0.95" fill="#2b8cc4" fill-opacity="0.8"/>
<circle cx="61.8" cy="551.7" r="0.95" fill="#e8679f" fill-opacity="0.8"/>
<circle cx="54.4" cy="553.2" r="0.95" fill="#e8679f" fill-opacity="0.8"/>
<circle cx="131.1" cy="522.7" r="0.95" fill="#2b8cc4" fill-opacity="0.8"/>
<circle cx="110.7" cy="540.5" r="0.95" fill="#2b8cc4" fill-opacity="0.8"/>
<circle cx="63.1" cy="526.4" r="0.95" fill="#e8679f" fill-opacity="0.8"/>
<circle cx="65.6" cy="508.0" r="0.95" fill="#e8679f" fill-opacity="0.8"/>
<circle cx="137.9" cy="522.8" r="0.95" fill="#2b8cc4" fill-opacity="0.8"/>
<circle cx="56.9" cy="557.3" r="0.95" fill="#e8679f" fill-opacity="0.8"/>
<circle cx="64.4" cy="548.6" r="0.95" fill="#e8679f" fill-opacity="0.8"/>
<circle cx="111.8" cy="526.2" r="0.95" fill="#2b8cc4" fill-opacity="0.8"/>
<circle cx="86.0" cy="524.6" r="0.95" fill="#a8202a" fill-opacity="0.8"/>
<circle cx="143.7" cy="501.5" r="0.95" fill="#2b8cc4" fill-opacity="0.8"/>
<circle cx="88.2" cy="539.5" r="0.95" fill="#a8202a" fill-opacity="0.8"/>
<circle cx="60.5" cy="550.2" r="0.95" fill="#e8679f" fill-opacity="0.8"/>
<circle cx="62.2" cy="546.1" r="0.95" fill="#e8679f" fill-opacity="0.8"/>
<circle cx="69.4" cy="557.0" r="0.95" fill="#e8679f" fill-opacity="0.8"/>
<circle cx="69.3" cy="541.0" r="0.95" fill="#e8679f" fill-opacity="0.8"/>
<circle cx="61.5" cy="528.4" r="0.95" fill="#e8679f" fill-opacity="0.8"/>
<circle cx="70.0" cy="534.7" r="0.95" fill="#e8679f" fill-opacity="0.8"/>
<circle cx="79.0" cy="538.1" r="0.95" fill="#a8202a" fill-opacity="0.8"/>
<circle cx="64.8" cy="506.9" r="0.95" fill="#e8679f" fill-opacity="0.8"/>
<circle cx="126.2" cy="505.1" r="0.95" fill="#2b8cc4" fill-opacity="0.8"/>
<circle cx="66.3" cy="523.7" r="0.95" fill="#e8679f" fill-opacity="0.8"/>
<circle cx="61.9" cy="484.8" r="0.95" fill="#e8679f" fill-opacity="0.8"/>
<circle cx="132.1" cy="516.2" r="0.95" fill="#2b8cc4" fill-opacity="0.8"/>
<circle cx="68.6" cy="537.3" r="0.95" fill="#e8679f" fill-opacity="0.8"/>
<circle cx="63.4" cy="531.7" r="0.95" fill="#e8679f" fill-opacity="0.8"/>
<circle cx="91.3" cy="543.7" r="0.95" fill="#a8202a" fill-opacity="0.8"/>
<circle cx="122.0" cy="519.3" r="0.95" fill="#2b8cc4" fill-opacity="0.8"/>
<circle cx="67.3" cy="530.9" r="0.95" fill="#e8679f" fill-opacity="0.8"/>
<circle cx="122.6" cy="514.5" r="0.95" fill="#2b8cc4" fill-opacity="0.8"/>
<circle cx="83.6" cy="537.5" r="0.95" fill="#a8202a" fill-opacity="0.8"/>
<circle cx="51.4" cy="555.4" r="0.95" fill="#e8679f" fill-opacity="0.8"/>
<circle cx="59.9" cy="534.7" r="0.95" fill="#e8679f" fill-opacity="0.8"/>
<circle cx="117.6" cy="524.6" r="0.95" fill="#2b8cc4" fill-opacity="0.8"/>
<circle cx="106.6" cy="529.4" r="0.95" fill="#2b8cc4" fill-opacity="0.8"/>
<circle cx="62.7" cy="550.7" r="0.95" fill="#e8679f" fill-opacity="0.8"/>
<circle cx="73.9" cy="527.9" r="0.95" fill="#e8679f" fill-opacity="0.8"/>
<circle cx="104.7" cy="532.7" r="0.95" fill="#2b8cc4" fill-opacity="0.8"/>
<circle cx="61.9" cy="545.7" r="0.95" fill="#e8679f" fill-opacity="0.8"/>
<circle cx="62.4" cy="533.3" r="0.95" fill="#e8679f" fill-opacity="0.8"/>
<circle cx="122.4" cy="520.2" r="0.95" fill="#2b8cc4" fill-opacity="0.8"/>
<circle cx="117.1" cy="517.1" r="0.95" fill="#2b8cc4" fill-opacity="0.8"/>
<circle cx="113.8" cy="504.0" r="0.95" fill="#2b8cc4" fill-opacity="0.8"/>
<circle cx="53.6" cy="552.3" r="0.95" fill="#e8679f" fill-opacity="0.8"/>
<circle cx="118.2" cy="520.0" r="0.95" fill="#2b8cc4" fill-opacity="0.8"/>
<circle cx="146.2" cy="509.2" r="0.95" fill="#2b8cc4" fill-opacity="0.8"/>
<circle cx="58.7" cy="539.0" r="0.95" fill="#e8679f" fill-opacity="0.8"/>
<circle cx="127.6" cy="503.8" r="0.95" fill="#2b8cc4" fill-opacity="0.8"/>
<circle cx="61.1" cy="547.3" r="0.95" fill="#e8679f" fill-opacity="0.8"/>
<circle cx="64.5" cy="503.0" r="0.95" fill="#e8679f" fill-opacity="0.8"/>
<circle cx="58.6" cy="554.4" r="0.95" fill="#e8679f" fill-opacity="0.8"/>
<circle cx="109.3" cy="515.6" r="0.95" fill="#2b8cc4" fill-opacity="0.8"/>
<circle cx="57.0" cy="558.4" r="0.95" fill="#e8679f" fill-opacity="0.8"/>
<circle cx="131.7" cy="536.6" r="0.95" fill="#2b8cc4" fill-opacity="0.8"/>
<circle cx="60.2" cy="516.1" r="0.95" fill="#e8679f" fill-opacity="0.8"/>
<circle cx="133.2" cy="490.5" r="0.95" fill="#2b8cc4" fill-opacity="0.8"/>
<circle cx="57.2" cy="549.2" r="0.95" fill="#e8679f" fill-opacity="0.8"/>
<circle cx="73.9" cy="508.1" r="0.95" fill="#e8679f" fill-opacity="0.8"/>
<circle cx="121.9" cy="535.2" r="0.95" fill="#2b8cc4" fill-opacity="0.8"/>
<circle cx="90.6" cy="538.9" r="0.95" fill="#a8202a" fill-opacity="0.8"/>
<circle cx="62.7" cy="554.3" r="0.95" fill="#e8679f" fill-opacity="0.8"/>
<circle cx="94.0" cy="547.7" r="0.95" fill="#a8202a" fill-opacity="0.8"/>
<circle cx="67.2" cy="500.7" r="0.95" fill="#e8679f" fill-opacity="0.8"/>
<circle cx="72.9" cy="525.4" r="0.95" fill="#e8679f" fill-opacity="0.8"/>
<circle cx="68.8" cy="542.3" r="0.95" fill="#e8679f" fill-opacity="0.8"/>
<circle cx="138.7" cy="508.2" r="0.95" fill="#2b8cc4" fill-opacity="0.8"/>
<circle cx="60.5" cy="540.8" r="0.95" fill="#e8679f" fill-opacity="0.8"/>
<circle cx="151.3" cy="506.3" r="0.95" fill="#2b8cc4" fill-opacity="0.8"/>
<circle cx="61.6" cy="534.2" r="0.95" fill="#e8679f" fill-opacity="0.8"/>
<circle cx="81.5" cy="534.7" r="0.95" fill="#a8202a" fill-opacity="0.8"/>
<circle cx="84.7" cy="508.6" r="0.95" fill="#a8202a" fill-opacity="0.8"/>
<circle cx="72.5" cy="526.7" r="0.95" fill="#e8679f" fill-opacity="0.8"/>
<circle cx="67.7" cy="536.4" r="0.95" fill="#e8679f" fill-opacity="0.8"/>
<circle cx="58.9" cy="547.7" r="0.95" fill="#e8679f" fill-opacity="0.8"/>
<circle cx="52.7" cy="562.6" r="0.95" fill="#e8679f" fill-opacity="0.8"/>
<circle cx="58.9" cy="545.3" r="0.95" fill="#e8679f" fill-opacity="0.8"/>
<circle cx="88.6" cy="526.0" r="0.95" fill="#a8202a" fill-opacity="0.8"/>
<circle cx="61.0" cy="514.7" r="0.95" fill="#e8679f" fill-opacity="0.8"/>
<circle cx="62.6" cy="450.0" r="0.95" fill="#e8679f" fill-opacity="0.8"/>
<circle cx="67.4" cy="513.9" r="0.95" fill="#e8679f" fill-opacity="0.8"/>
<circle cx="58.0" cy="553.0" r="0.95" fill="#e8679f" fill-opacity="0.8"/>
<circle cx="67.6" cy="544.0" r="0.95" fill="#e8679f" fill-opacity="0.8"/>
<circle cx="115.0" cy="519.2" r="0.95" fill="#2b8cc4" fill-opacity="0.8"/>
<circle cx="69.1" cy="549.0" r="0.95" fill="#e8679f" fill-opacity="0.8"/>
<circle cx="109.6" cy="527.0" r="0.95" fill="#2b8cc4" fill-opacity="0.8"/>
<circle cx="66.9" cy="523.9" r="0.95" fill="#e8679f" fill-opacity="0.8"/>
<circle cx="68.2" cy="556.4" r="0.95" fill="#e8679f" fill-opacity="0.8"/>
<circle cx="65.4" cy="541.1" r="0.95" fill="#e8679f" fill-opacity="0.8"/>
<circle cx="120.9" cy="529.8" r="0.95" fill="#2b8cc4" fill-opacity="0.8"/>
<circle cx="61.9" cy="522.1" r="0.95" fill="#e8679f" fill-opacity="0.8"/>
<circle cx="144.9" cy="496.5" r="0.95" fill="#2b8cc4" fill-opacity="0.8"/>
<circle cx="62.6" cy="485.5" r="0.95" fill="#e8679f" fill-opacity="0.8"/>
<circle cx="60.1" cy="538.7" r="0.95" fill="#e8679f" fill-opacity="0.8"/>
<circle cx="55.0" cy="558.1" r="0.95" fill="#e8679f" fill-opacity="0.8"/>
<circle cx="87.5" cy="502.1" r="0.95" fill="#a8202a" fill-opacity="0.8"/>
<circle cx="115.3" cy="540.9" r="0.95" fill="#2b8cc4" fill-opacity="0.8"/>
<circle cx="72.3" cy="540.3" r="0.95" fill="#e8679f" fill-opacity="0.8"/>
<circle cx="118.5" cy="505.5" r="0.95" fill="#2b8cc4" fill-opacity="0.8"/>
<circle cx="51.6" cy="548.7" r="0.95" fill="#e8679f" fill-opacity="0.8"/>
<circle cx="86.3" cy="531.3" r="0.95" fill="#a8202a" fill-opacity="0.8"/>
<circle cx="52.3" cy="560.5" r="0.95" fill="#e8679f" fill-opacity="0.8"/>
<circle cx="62.6" cy="546.8" r="0.95" fill="#e8679f" fill-opacity="0.8"/>
<circle cx="72.0" cy="510.0" r="0.95" fill="#e8679f" fill-opacity="0.8"/>
<circle cx="60.7" cy="551.9" r="0.95" fill="#e8679f" fill-opacity="0.8"/>
<circle cx="69.0" cy="546.2" r="0.95" fill="#e8679f" fill-opacity="0.8"/>
<circle cx="61.2" cy="536.0" r="0.95" fill="#e8679f" fill-opacity="0.8"/>
<circle cx="67.7" cy="556.2" r="0.95" fill="#e8679f" fill-opacity="0.8"/>
<circle cx="59.9" cy="550.9" r="0.95" fill="#e8679f" fill-opacity="0.8"/>
<circle cx="59.9" cy="548.2" r="0.95" fill="#e8679f" fill-opacity="0.8"/>
<circle cx="112.4" cy="512.7" r="0.95" fill="#2b8cc4" fill-opacity="0.8"/>
<circle cx="146.9" cy="533.9" r="0.95" fill="#2b8cc4" fill-opacity="0.8"/>
<circle cx="61.2" cy="550.7" r="0.95" fill="#e8679f" fill-opacity="0.8"/>
<circle cx="117.3" cy="498.8" r="0.95" fill="#2b8cc4" fill-opacity="0.8"/>
<circle cx="111.0" cy="519.0" r="0.95" fill="#2b8cc4" fill-opacity="0.8"/>
<circle cx="68.9" cy="524.1" r="0.95" fill="#e8679f" fill-opacity="0.8"/>
<circle cx="91.6" cy="530.4" r="0.95" fill="#a8202a" fill-opacity="0.8"/>
<circle cx="118.7" cy="529.0" r="0.95" fill="#2b8cc4" fill-opacity="0.8"/>
<circle cx="70.3" cy="509.8" r="0.95" fill="#e8679f" fill-opacity="0.8"/>
<circle cx="126.1" cy="549.8" r="0.95" fill="#2b8cc4" fill-opacity="0.8"/>
<circle cx="52.9" cy="557.7" r="0.95" fill="#e8679f" fill-opacity="0.8"/>
<circle cx="118.7" cy="529.2" r="0.95" fill="#2b8cc4" fill-opacity="0.8"/>
<circle cx="64.0" cy="547.1" r="0.95" fill="#e8679f" fill-opacity="0.8"/>
<circle cx="56.9" cy="532.2" r="0.95" fill="#e8679f" fill-opacity="0.8"/>
<circle cx="69.1" cy="530.0" r="0.95" fill="#e8679f" fill-opacity="0.8"/>
<circle cx="63.5" cy="549.3" r="0.95" fill="#e8679f" fill-opacity="0.8"/>
<circle cx="61.1" cy="510.9" r="0.95" fill="#e8679f" fill-opacity="0.8"/>
<circle cx="72.8" cy="520.0" r="0.95" fill="#e8679f" fill-opacity="0.8"/>
<circle cx="55.3" cy="558.6" r="0.95" fill="#e8679f" fill-opacity="0.8"/>
<circle cx="86.3" cy="538.4" r="0.95" fill="#a8202a" fill-opacity="0.8"/>
<circle cx="60.4" cy="515.6" r="0.95" fill="#e8679f" fill-opacity="0.8"/>
<circle cx="56.5" cy="552.3" r="0.95" fill="#e8679f" fill-opacity="0.8"/>
<circle cx="61.3" cy="544.4" r="0.95" fill="#e8679f" fill-opacity="0.8"/>
<circle cx="56.7" cy="541.4" r="0.95" fill="#e8679f" fill-opacity="0.8"/>
<circle cx="72.9" cy="528.6" r="0.95" fill="#e8679f" fill-opacity="0.8"/>
<circle cx="143.2" cy="530.3" r="0.95" fill="#2b8cc4" fill-opacity="0.8"/>
<circle cx="107.3" cy="501.5" r="0.95" fill="#2b8cc4" fill-opacity="0.8"/>
<circle cx="63.1" cy="518.2" r="0.95" fill="#e8679f" fill-opacity="0.8"/>
<circle cx="66.1" cy="534.4" r="0.95" fill="#e8679f" fill-opacity="0.8"/>
<circle cx="63.7" cy="544.8" r="0.95" fill="#e8679f" fill-opacity="0.8"/>
<circle cx="64.1" cy="508.6" r="0.95" fill="#e8679f" fill-opacity="0.8"/>
<circle cx="61.3" cy="521.2" r="0.95" fill="#e8679f" fill-opacity="0.8"/>
<circle cx="57.8" cy="555.6" r="0.95" fill="#e8679f" fill-opacity="0.8"/>
<circle cx="69.1" cy="490.7" r="0.95" fill="#e8679f" fill-opacity="0.8"/>
<circle cx="65.9" cy="496.5" r="0.95" fill="#e8679f" fill-opacity="0.8"/>
<circle cx="86.5" cy="521.7" r="0.95" fill="#a8202a" fill-opacity="0.8"/>
<circle cx="64.2" cy="546.2" r="0.95" fill="#e8679f" fill-opacity="0.8"/>
<circle cx="112.2" cy="499.7" r="0.95" fill="#2b8cc4" fill-opacity="0.8"/>
<circle cx="70.5" cy="538.2" r="0.95" fill="#e8679f" fill-opacity="0.8"/>
<circle cx="63.1" cy="554.1" r="0.95" fill="#e8679f" fill-opacity="0.8"/>
<circle cx="69.8" cy="510.0" r="0.95" fill="#e8679f" fill-opacity="0.8"/>
<circle cx="120.7" cy="501.0" r="0.95" fill="#2b8cc4" fill-opacity="0.8"/>
<circle cx="105.3" cy="539.8" r="0.95" fill="#2b8cc4" fill-opacity="0.8"/>
<circle cx="124.4" cy="518.2" r="0.95" fill="#2b8cc4" fill-opacity="0.8"/>
<circle cx="82.7" cy="531.7" r="0.95" fill="#a8202a" fill-opacity="0.8"/>
<circle cx="69.9" cy="487.2" r="0.95" fill="#e8679f" fill-opacity="0.8"/>
<circle cx="81.2" cy="520.9" r="0.95" fill="#a8202a" fill-opacity="0.8"/>
<circle cx="69.2" cy="520.2" r="0.95" fill="#e8679f" fill-opacity="0.8"/>
<circle cx="58.8" cy="527.1" r="0.95" fill="#e8679f" fill-opacity="0.8"/>
<circle cx="59.1" cy="540.8" r="0.95" fill="#e8679f" fill-opacity="0.8"/>
<circle cx="64.9" cy="551.1" r="0.95" fill="#e8679f" fill-opacity="0.8"/>
<circle cx="101.9" cy="538.7" r="0.95" fill="#2b8cc4" fill-opacity="0.8"/>
<circle cx="56.0" cy="545.4" r="0.95" fill="#e8679f" fill-opacity="0.8"/>
<circle cx="81.4" cy="552.6" r="0.95" fill="#a8202a" fill-opacity="0.8"/>
<circle cx="138.1" cy="535.7" r="0.95" fill="#2b8cc4" fill-opacity="0.8"/>
<circle cx="106.7" cy="469.7" r="0.95" fill="#2b8cc4" fill-opacity="0.8"/>
<circle cx="65.5" cy="550.9" r="0.95" fill="#e8679f" fill-opacity="0.8"/>
<circle cx="62.2" cy="528.6" r="0.95" fill="#e8679f" fill-opacity="0.8"/>
<circle cx="72.0" cy="460.9" r="0.95" fill="#e8679f" fill-opacity="0.8"/>
<circle cx="64.6" cy="544.0" r="0.95" fill="#e8679f" fill-opacity="0.8"/>
<circle cx="133.3" cy="533.5" r="0.95" fill="#2b8cc4" fill-opacity="0.8"/>
<circle cx="61.6" cy="558.4" r="0.95" fill="#e8679f" fill-opacity="0.8"/>
<circle cx="54.3" cy="555.1" r="0.95" fill="#e8679f" fill-opacity="0.8"/>
<circle cx="82.0" cy="535.5" r="0.95" fill="#a8202a" fill-opacity="0.8"/>
<circle cx="119.2" cy="528.2" r="0.95" fill="#2b8cc4" fill-opacity="0.8"/>
<circle cx="124.4" cy="484.4" r="0.95" fill="#2b8cc4" fill-opacity="0.8"/>
<circle cx="87.1" cy="524.1" r="0.95" fill="#a8202a" fill-opacity="0.8"/>
<circle cx="76.0" cy="507.7" r="0.95" fill="#e8679f" fill-opacity="0.8"/>
<circle cx="122.6" cy="530.5" r="0.95" fill="#2b8cc4" fill-opacity="0.8"/>
<circle cx="58.9" cy="536.6" r="0.95" fill="#e8679f" fill-opacity="0.8"/>
<circle cx="55.0" cy="554.1" r="0.95" fill="#e8679f" fill-opacity="0.8"/>
<circle cx="56.1" cy="555.6" r="0.95" fill="#e8679f" fill-opacity="0.8"/>
<circle cx="67.1" cy="536.1" r="0.95" fill="#e8679f" fill-opacity="0.8"/>
<circle cx="58.8" cy="537.7" r="0.95" fill="#e8679f" fill-opacity="0.8"/>
<circle cx="57.8" cy="549.8" r="0.95" fill="#e8679f" fill-opacity="0.8"/>
<circle cx="114.4" cy="513.6" r="0.95" fill="#2b8cc4" fill-opacity="0.8"/>
<circle cx="66.8" cy="537.1" r="0.95" fill="#e8679f" fill-opacity="0.8"/>
<circle cx="73.6" cy="534.6" r="0.95" fill="#e8679f" fill-opacity="0.8"/>
<circle cx="62.2" cy="531.9" r="0.95" fill="#e8679f" fill-opacity="0.8"/>
<circle cx="68.7" cy="516.6" r="0.95" fill="#e8679f" fill-opacity="0.8"/>
<circle cx="88.2" cy="560.2" r="0.95" fill="#a8202a" fill-opacity="0.8"/>
<circle cx="125.7" cy="490.0" r="0.95" fill="#2b8cc4" fill-opacity="0.8"/>
<circle cx="89.5" cy="533.8" r="0.95" fill="#a8202a" fill-opacity="0.8"/>
<circle cx="154.4" cy="515.9" r="0.95" fill="#2b8cc4" fill-opacity="0.8"/>
<circle cx="68.5" cy="517.6" r="0.95" fill="#e8679f" fill-opacity="0.8"/>
<circle cx="115.5" cy="549.0" r="0.95" fill="#2b8cc4" fill-opacity="0.8"/>
<circle cx="63.6" cy="526.3" r="0.95" fill="#e8679f" fill-opacity="0.8"/>
<circle cx="62.0" cy="545.6" r="0.95" fill="#e8679f" fill-opacity="0.8"/>
<circle cx="66.4" cy="559.0" r="0.95" fill="#e8679f" fill-opacity="0.8"/>
<circle cx="125.7" cy="488.7" r="0.95" fill="#2b8cc4" fill-opacity="0.8"/>
<circle cx="63.4" cy="502.4" r="0.95" fill="#e8679f" fill-opacity="0.8"/>
<circle cx="123.0" cy="521.7" r="0.95" fill="#2b8cc4" fill-opacity="0.8"/>
<circle cx="72.0" cy="534.3" r="0.95" fill="#e8679f" fill-opacity="0.8"/>
<circle cx="66.2" cy="515.8" r="0.95" fill="#e8679f" fill-opacity="0.8"/>
<circle cx="136.2" cy="514.5" r="0.95" fill="#2b8cc4" fill-opacity="0.8"/>
<circle cx="51.2" cy="556.0" r="0.95" fill="#e8679f" fill-opacity="0.8"/>
<circle cx="111.2" cy="520.7" r="0.95" fill="#2b8cc4" fill-opacity="0.8"/>
<circle cx="84.7" cy="531.3" r="0.95" fill="#a8202a" fill-opacity="0.8"/>
<circle cx="128.8" cy="452.9" r="0.95" fill="#2b8cc4" fill-opacity="0.8"/>
<circle cx="53.4" cy="561.5" r="0.95" fill="#e8679f" fill-opacity="0.8"/>
<circle cx="66.3" cy="538.6" r="0.95" fill="#e8679f" fill-opacity="0.8"/>
<circle cx="129.2" cy="526.9" r="0.95" fill="#2b8cc4" fill-opacity="0.8"/>
<circle cx="66.6" cy="550.4" r="0.95" fill="#e8679f" fill-opacity="0.8"/>
<circle cx="113.6" cy="526.3" r="0.95" fill="#2b8cc4" fill-opacity="0.8"/>
<circle cx="76.7" cy="540.9" r="0.95" fill="#a8202a" fill-opacity="0.8"/>
<circle cx="62.5" cy="553.7" r="0.95" fill="#e8679f" fill-opacity="0.8"/>
<circle cx="65.5" cy="503.4" r="0.95" fill="#e8679f" fill-opacity="0.8"/>
<circle cx="83.4" cy="538.4" r="0.95" fill="#a8202a" fill-opacity="0.8"/>
<circle cx="68.8" cy="513.3" r="0.95" fill="#e8679f" fill-opacity="0.8"/>
<circle cx="114.0" cy="486.7" r="0.95" fill="#2b8cc4" fill-opacity="0.8"/>
<circle cx="67.2" cy="501.6" r="0.95" fill="#e8679f" fill-opacity="0.8"/>
<circle cx="67.0" cy="540.2" r="0.95" fill="#e8679f" fill-opacity="0.8"/>
<circle cx="71.0" cy="544.7" r="0.95" fill="#e8679f" fill-opacity="0.8"/>
<circle cx="94.6" cy="521.5" r="0.95" fill="#a8202a" fill-opacity="0.8"/>
<circle cx="55.1" cy="558.7" r="0.95" fill="#e8679f" fill-opacity="0.8"/>
<circle cx="117.0" cy="522.5" r="0.95" fill="#2b8cc4" fill-opacity="0.8"/>
<circle cx="70.9" cy="512.0" r="0.95" fill="#e8679f" fill-opacity="0.8"/>
<circle cx="173.5" cy="525.9" r="0.95" fill="#2b8cc4" fill-opacity="0.8"/>
<circle cx="167.3" cy="514.1" r="0.95" fill="#2b8cc4" fill-opacity="0.8"/>
<circle cx="154.1" cy="524.2" r="0.95" fill="#2b8cc4" fill-opacity="0.8"/>
<circle cx="117.4" cy="532.1" r="0.95" fill="#2b8cc4" fill-opacity="0.8"/>
<circle cx="64.5" cy="513.8" r="0.95" fill="#e8679f" fill-opacity="0.8"/>
<circle cx="129.6" cy="501.2" r="0.95" fill="#2b8cc4" fill-opacity="0.8"/>
<circle cx="113.2" cy="518.7" r="0.95" fill="#2b8cc4" fill-opacity="0.8"/>
<circle cx="88.7" cy="508.3" r="0.95" fill="#a8202a" fill-opacity="0.8"/>
<circle cx="65.6" cy="550.8" r="0.95" fill="#e8679f" fill-opacity="0.8"/>
<circle cx="55.4" cy="551.3" r="0.95" fill="#e8679f" fill-opacity="0.8"/>
<circle cx="56.3" cy="547.5" r="0.95" fill="#e8679f" fill-opacity="0.8"/>
<circle cx="74.1" cy="552.4" r="0.95" fill="#e8679f" fill-opacity="0.8"/>
<circle cx="62.1" cy="525.4" r="0.95" fill="#e8679f" fill-opacity="0.8"/>
<circle cx="133.9" cy="532.3" r="0.95" fill="#2b8cc4" fill-opacity="0.8"/>
<circle cx="87.0" cy="553.1" r="0.95" fill="#a8202a" fill-opacity="0.8"/>
<circle cx="64.4" cy="512.3" r="0.95" fill="#e8679f" fill-opacity="0.8"/>
<circle cx="77.0" cy="548.2" r="0.95" fill="#e8679f" fill-opacity="0.8"/>
<circle cx="67.5" cy="502.7" r="0.95" fill="#e8679f" fill-opacity="0.8"/>
<circle cx="130.8" cy="490.1" r="0.95" fill="#2b8cc4" fill-opacity="0.8"/>
<circle cx="123.8" cy="517.6" r="0.95" fill="#2b8cc4" fill-opacity="0.8"/>
<circle cx="61.7" cy="550.5" r="0.95" fill="#e8679f" fill-opacity="0.8"/>
<circle cx="149.2" cy="530.4" r="0.95" fill="#2b8cc4" fill-opacity="0.8"/>
<circle cx="66.8" cy="544.0" r="0.95" fill="#e8679f" fill-opacity="0.8"/>
<circle cx="133.8" cy="536.9" r="0.95" fill="#2b8cc4" fill-opacity="0.8"/>
<circle cx="109.8" cy="498.5" r="0.95" fill="#2b8cc4" fill-opacity="0.8"/>
<circle cx="60.6" cy="537.9" r="0.95" fill="#e8679f" fill-opacity="0.8"/>
<circle cx="136.6" cy="518.8" r="0.95" fill="#2b8cc4" fill-opacity="0.8"/>
<circle cx="109.7" cy="483.2" r="0.95" fill="#2b8cc4" fill-opacity="0.8"/>
<circle cx="64.0" cy="441.2" r="0.95" fill="#e8679f" fill-opacity="0.8"/>
<circle cx="70.0" cy="543.5" r="0.95" fill="#e8679f" fill-opacity="0.8"/>
<circle cx="119.9" cy="512.4" r="0.95" fill="#2b8cc4" fill-opacity="0.8"/>
<circle cx="133.1" cy="489.6" r="0.95" fill="#2b8cc4" fill-opacity="0.8"/>
<circle cx="60.3" cy="519.6" r="0.95" fill="#e8679f" fill-opacity="0.8"/>
<circle cx="70.3" cy="545.5" r="0.95" fill="#e8679f" fill-opacity="0.8"/>
<circle cx="56.4" cy="538.9" r="0.95" fill="#e8679f" fill-opacity="0.8"/>
<circle cx="141.1" cy="508.7" r="0.95" fill="#2b8cc4" fill-opacity="0.8"/>
<circle cx="59.3" cy="504.7" r="0.95" fill="#e8679f" fill-opacity="0.8"/>
<circle cx="62.6" cy="550.2" r="0.95" fill="#e8679f" fill-opacity="0.8"/>
<circle cx="91.9" cy="519.7" r="0.95" fill="#a8202a" fill-opacity="0.8"/>
<circle cx="140.6" cy="532.8" r="0.95" fill="#2b8cc4" fill-opacity="0.8"/>
<circle cx="74.2" cy="502.2" r="0.95" fill="#e8679f" fill-opacity="0.8"/>
<circle cx="56.9" cy="558.5" r="0.95" fill="#e8679f" fill-opacity="0.8"/>
<circle cx="57.7" cy="541.8" r="0.95" fill="#e8679f" fill-opacity="0.8"/>
<circle cx="68.8" cy="525.8" r="0.95" fill="#e8679f" fill-opacity="0.8"/>
<circle cx="136.2" cy="531.4" r="0.95" fill="#2b8cc4" fill-opacity="0.8"/>
<circle cx="62.6" cy="533.7" r="0.95" fill="#e8679f" fill-opacity="0.8"/>
<circle cx="54.5" cy="557.7" r="0.95" fill="#e8679f" fill-opacity="0.8"/>
<circle cx="64.2" cy="542.1" r="0.95" fill="#e8679f" fill-opacity="0.8"/>
<circle cx="121.6" cy="513.0" r="0.95" fill="#2b8cc4" fill-opacity="0.8"/>
<circle cx="61.2" cy="535.4" r="0.95" fill="#e8679f" fill-opacity="0.8"/>
<circle cx="74.0" cy="496.0" r="0.95" fill="#e8679f" fill-opacity="0.8"/>
<circle cx="69.3" cy="534.1" r="0.95" fill="#e8679f" fill-opacity="0.8"/>
<circle cx="148.2" cy="518.7" r="0.95" fill="#2b8cc4" fill-opacity="0.8"/>
<circle cx="54.7" cy="551.7" r="0.95" fill="#e8679f" fill-opacity="0.8"/>
<circle cx="115.5" cy="483.2" r="0.95" fill="#2b8cc4" fill-opacity="0.8"/>
<circle cx="85.6" cy="541.3" r="0.95" fill="#a8202a" fill-opacity="0.8"/>
<circle cx="62.3" cy="551.9" r="0.95" fill="#e8679f" fill-opacity="0.8"/>
<circle cx="67.2" cy="523.4" r="0.95" fill="#e8679f" fill-opacity="0.8"/>
<circle cx="86.1" cy="556.4" r="0.95" fill="#a8202a" fill-opacity="0.8"/>
<circle cx="69.7" cy="544.2" r="0.95" fill="#e8679f" fill-opacity="0.8"/>
<circle cx="131.6" cy="525.6" r="0.95" fill="#2b8cc4" fill-opacity="0.8"/>
<circle cx="68.9" cy="529.0" r="0.95" fill="#e8679f" fill-opacity="0.8"/>
<circle cx="64.6" cy="493.9" r="0.95" fill="#e8679f" fill-opacity="0.8"/>
<circle cx="63.4" cy="485.1" r="0.95" fill="#e8679f" fill-opacity="0.8"/>
<circle cx="87.0" cy="526.5" r="0.95" fill="#a8202a" fill-opacity="0.8"/>
<circle cx="120.1" cy="500.8" r="0.95" fill="#2b8cc4" fill-opacity="0.8"/>
<circle cx="118.0" cy="515.1" r="0.95" fill="#2b8cc4" fill-opacity="0.8"/>
<circle cx="85.9" cy="527.1" r="0.95" fill="#a8202a" fill-opacity="0.8"/>
<circle cx="130.2" cy="454.4" r="0.95" fill="#2b8cc4" fill-opacity="0.8"/>
<circle cx="60.8" cy="547.4" r="0.95" fill="#e8679f" fill-opacity="0.8"/>
<circle cx="69.5" cy="512.1" r="0.95" fill="#e8679f" fill-opacity="0.8"/>
<circle cx="84.5" cy="533.0" r="0.95" fill="#a8202a" fill-opacity="0.8"/>
<circle cx="71.4" cy="493.4" r="0.95" fill="#e8679f" fill-opacity="0.8"/>
<circle cx="122.6" cy="509.2" r="0.95" fill="#2b8cc4" fill-opacity="0.8"/>
<circle cx="63.0" cy="531.7" r="0.95" fill="#e8679f" fill-opacity="0.8"/>
<circle cx="167.1" cy="508.7" r="0.95" fill="#2b8cc4" fill-opacity="0.8"/>
<circle cx="130.2" cy="524.3" r="0.95" fill="#2b8cc4" fill-opacity="0.8"/>
<circle cx="77.4" cy="486.9" r="0.95" fill="#e8679f" fill-opacity="0.8"/>
<circle cx="55.5" cy="547.7" r="0.95" fill="#e8679f" fill-opacity="0.8"/>
<circle cx="54.3" cy="560.9" r="0.95" fill="#e8679f" fill-opacity="0.8"/>
<circle cx="107.8" cy="530.4" r="0.95" fill="#2b8cc4" fill-opacity="0.8"/>
<circle cx="64.9" cy="515.4" r="0.95" fill="#e8679f" fill-opacity="0.8"/>
<circle cx="144.8" cy="536.1" r="0.95" fill="#2b8cc4" fill-opacity="0.8"/>
<circle cx="110.2" cy="459.7" r="0.95" fill="#2b8cc4" fill-opacity="0.8"/>
<circle cx="70.5" cy="547.4" r="0.95" fill="#e8679f" fill-opacity="0.8"/>
<circle cx="68.8" cy="513.0" r="0.95" fill="#e8679f" fill-opacity="0.8"/>
<circle cx="58.0" cy="549.1" r="0.95" fill="#e8679f" fill-opacity="0.8"/>
<circle cx="66.1" cy="504.8" r="0.95" fill="#e8679f" fill-opacity="0.8"/>
<circle cx="67.6" cy="533.5" r="0.95" fill="#e8679f" fill-opacity="0.8"/>
<circle cx="53.2" cy="553.5" r="0.95" fill="#e8679f" fill-opacity="0.8"/>
<circle cx="55.5" cy="550.9" r="0.95" fill="#e8679f" fill-opacity="0.8"/>
<circle cx="89.4" cy="514.4" r="0.95" fill="#a8202a" fill-opacity="0.8"/>
<circle cx="60.9" cy="550.7" r="0.95" fill="#e8679f" fill-opacity="0.8"/>
<circle cx="152.2" cy="519.2" r="0.95" fill="#2b8cc4" fill-opacity="0.8"/>
<circle cx="147.8" cy="504.6" r="0.95" fill="#2b8cc4" fill-opacity="0.8"/>
<circle cx="143.7" cy="526.2" r="0.95" fill="#2b8cc4" fill-opacity="0.8"/>
<circle cx="61.7" cy="546.6" r="0.95" fill="#e8679f" fill-opacity="0.8"/>
<circle cx="55.5" cy="556.6" r="0.95" fill="#e8679f" fill-opacity="0.8"/>
<circle cx="87.0" cy="541.3" r="0.95" fill="#a8202a" fill-opacity="0.8"/>
<circle cx="143.6" cy="522.6" r="0.95" fill="#2b8cc4" fill-opacity="0.8"/>
<circle cx="58.2" cy="442.6" r="0.95" fill="#e8679f" fill-opacity="0.8"/>
<circle cx="86.1" cy="519.9" r="0.95" fill="#a8202a" fill-opacity="0.8"/>
<circle cx="64.4" cy="550.5" r="0.95" fill="#e8679f" fill-opacity="0.8"/>
<circle cx="80.8" cy="542.3" r="0.95" fill="#a8202a" fill-opacity="0.8"/>
<circle cx="58.4" cy="506.3" r="0.95" fill="#e8679f" fill-opacity="0.8"/>
<circle cx="70.0" cy="500.4" r="0.95" fill="#e8679f" fill-opacity="0.8"/>
<circle cx="72.7" cy="543.0" r="0.95" fill="#e8679f" fill-opacity="0.8"/>
<circle cx="56.3" cy="555.0" r="0.95" fill="#e8679f" fill-opacity="0.8"/>
<circle cx="59.3" cy="488.4" r="0.95" fill="#e8679f" fill-opacity="0.8"/>
<circle cx="65.4" cy="507.1" r="0.95" fill="#e8679f" fill-opacity="0.8"/>
<circle cx="64.8" cy="509.0" r="0.95" fill="#e8679f" fill-opacity="0.8"/>
<circle cx="62.3" cy="520.4" r="0.95" fill="#e8679f" fill-opacity="0.8"/>
<circle cx="68.1" cy="496.6" r="0.95" fill="#e8679f" fill-opacity="0.8"/>
<circle cx="140.7" cy="494.7" r="0.95" fill="#2b8cc4" fill-opacity="0.8"/>
<circle cx="82.4" cy="532.9" r="0.95" fill="#a8202a" fill-opacity="0.8"/>
<circle cx="66.8" cy="500.5" r="0.95" fill="#e8679f" fill-opacity="0.8"/>
<circle cx="73.4" cy="539.1" r="0.95" fill="#e8679f" fill-opacity="0.8"/>
<circle cx="57.9" cy="509.4" r="0.95" fill="#e8679f" fill-opacity="0.8"/>
<circle cx="68.3" cy="520.1" r="0.95" fill="#e8679f" fill-opacity="0.8"/>
<circle cx="95.6" cy="548.6" r="0.95" fill="#a8202a" fill-opacity="0.8"/>
<circle cx="114.9" cy="518.5" r="0.95" fill="#2b8cc4" fill-opacity="0.8"/>
<circle cx="64.2" cy="530.6" r="0.95" fill="#e8679f" fill-opacity="0.8"/>
<circle cx="64.9" cy="537.9" r="0.95" fill="#e8679f" fill-opacity="0.8"/>
<circle cx="66.3" cy="515.4" r="0.95" fill="#e8679f" fill-opacity="0.8"/>
<circle cx="137.8" cy="521.9" r="0.95" fill="#2b8cc4" fill-opacity="0.8"/>
<circle cx="66.7" cy="545.4" r="0.95" fill="#e8679f" fill-opacity="0.8"/>
<circle cx="58.3" cy="558.5" r="0.95" fill="#e8679f" fill-opacity="0.8"/>
<circle cx="93.3" cy="517.6" r="0.95" fill="#a8202a" fill-opacity="0.8"/>
<circle cx="127.8" cy="499.1" r="0.95" fill="#2b8cc4" fill-opacity="0.8"/>
<circle cx="51.3" cy="561.2" r="0.95" fill="#e8679f" fill-opacity="0.8"/>
<circle cx="112.3" cy="518.9" r="0.95" fill="#2b8cc4" fill-opacity="0.8"/>
<circle cx="120.8" cy="453.8" r="0.95" fill="#2b8cc4" fill-opacity="0.8"/>
<circle cx="140.4" cy="538.0" r="0.95" fill="#2b8cc4" fill-opacity="0.8"/>
<circle cx="65.3" cy="532.4" r="0.95" fill="#e8679f" fill-opacity="0.8"/>
<circle cx="63.2" cy="549.6" r="0.95" fill="#e8679f" fill-opacity="0.8"/>
<circle cx="83.2" cy="550.9" r="0.95" fill="#a8202a" fill-opacity="0.8"/>
<circle cx="63.4" cy="514.5" r="0.95" fill="#e8679f" fill-opacity="0.8"/>
<circle cx="60.9" cy="555.2" r="0.95" fill="#e8679f" fill-opacity="0.8"/>
<circle cx="126.3" cy="520.8" r="0.95" fill="#2b8cc4" fill-opacity="0.8"/>
<circle cx="67.4" cy="538.8" r="0.95" fill="#e8679f" fill-opacity="0.8"/>
<circle cx="61.8" cy="546.2" r="0.95" fill="#e8679f" fill-opacity="0.8"/>
<circle cx="83.1" cy="530.6" r="0.95" fill="#a8202a" fill-opacity="0.8"/>
<circle cx="141.1" cy="514.7" r="0.95" fill="#2b8cc4" fill-opacity="0.8"/>
<circle cx="68.9" cy="491.6" r="0.95" fill="#e8679f" fill-opacity="0.8"/>
<circle cx="83.1" cy="532.1" r="0.95" fill="#a8202a" fill-opacity="0.8"/>
<circle cx="61.9" cy="552.1" r="0.95" fill="#e8679f" fill-opacity="0.8"/>
<circle cx="52.4" cy="556.0" r="0.95" fill="#e8679f" fill-opacity="0.8"/>
<circle cx="106.2" cy="510.0" r="0.95" fill="#2b8cc4" fill-opacity="0.8"/>
<circle cx="87.7" cy="538.4" r="0.95" fill="#a8202a" fill-opacity="0.8"/>
<circle cx="76.4" cy="511.1" r="0.95" fill="#e8679f" fill-opacity="0.8"/>
<circle cx="72.5" cy="506.0" r="0.95" fill="#e8679f" fill-opacity="0.8"/>
<circle cx="108.4" cy="527.3" r="0.95" fill="#2b8cc4" fill-opacity="0.8"/>
<circle cx="143.1" cy="513.4" r="0.95" fill="#2b8cc4" fill-opacity="0.8"/>
<circle cx="70.2" cy="515.4" r="0.95" fill="#e8679f" fill-opacity="0.8"/>
<circle cx="64.1" cy="517.7" r="0.95" fill="#e8679f" fill-opacity="0.8"/>
<circle cx="126.5" cy="527.4" r="0.95" fill="#2b8cc4" fill-opacity="0.8"/>
<circle cx="105.4" cy="517.1" r="0.95" fill="#2b8cc4" fill-opacity="0.8"/>
<circle cx="64.4" cy="530.0" r="0.95" fill="#e8679f" fill-opacity="0.8"/>
<circle cx="62.9" cy="526.9" r="0.95" fill="#e8679f" fill-opacity="0.8"/>
<circle cx="120.5" cy="527.2" r="0.95" fill="#2b8cc4" fill-opacity="0.8"/>
<circle cx="61.8" cy="521.6" r="0.95" fill="#e8679f" fill-opacity="0.8"/>
<circle cx="61.7" cy="534.9" r="0.95" fill="#e8679f" fill-opacity="0.8"/>
<circle cx="77.2" cy="502.5" r="0.95" fill="#e8679f" fill-opacity="0.8"/>
<circle cx="56.4" cy="547.3" r="0.95" fill="#e8679f" fill-opacity="0.8"/>
<circle cx="52.4" cy="561.0" r="0.95" fill="#e8679f" fill-opacity="0.8"/>
<circle cx="57.7" cy="523.1" r="0.95" fill="#e8679f" fill-opacity="0.8"/>
<circle cx="117.3" cy="500.8" r="0.95" fill="#2b8cc4" fill-opacity="0.8"/>
<circle cx="107.3" cy="523.7" r="0.95" fill="#2b8cc4" fill-opacity="0.8"/>
<circle cx="75.2" cy="539.6" r="0.95" fill="#a8202a" fill-opacity="0.8"/>
<circle cx="64.8" cy="513.0" r="0.95" fill="#e8679f" fill-opacity="0.8"/>
<circle cx="160.2" cy="473.5" r="0.95" fill="#2b8cc4" fill-opacity="0.8"/>
<circle cx="96.8" cy="532.2" r="0.95" fill="#a8202a" fill-opacity="0.8"/>
<circle cx="146.1" cy="535.7" r="0.95" fill="#2b8cc4" fill-opacity="0.8"/>
<circle cx="125.2" cy="500.0" r="0.95" fill="#2b8cc4" fill-opacity="0.8"/>
<circle cx="49.8" cy="562.8" r="0.95" fill="#e8679f" fill-opacity="0.8"/>
<circle cx="55.3" cy="539.8" r="0.95" fill="#e8679f" fill-opacity="0.8"/>
<circle cx="149.9" cy="502.1" r="0.95" fill="#2b8cc4" fill-opacity="0.8"/>
<circle cx="59.6" cy="492.4" r="0.95" fill="#e8679f" fill-opacity="0.8"/>
<circle cx="132.6" cy="519.9" r="0.95" fill="#2b8cc4" fill-opacity="0.8"/>
<circle cx="57.8" cy="497.4" r="0.95" fill="#e8679f" fill-opacity="0.8"/>
<circle cx="66.9" cy="543.3" r="0.95" fill="#e8679f" fill-opacity="0.8"/>
<circle cx="122.1" cy="528.7" r="0.95" fill="#2b8cc4" fill-opacity="0.8"/>
<circle cx="67.8" cy="531.4" r="0.95" fill="#e8679f" fill-opacity="0.8"/>
<circle cx="65.1" cy="518.4" r="0.95" fill="#e8679f" fill-opacity="0.8"/>
<circle cx="84.3" cy="525.9" r="0.95" fill="#a8202a" fill-opacity="0.8"/>
<circle cx="62.5" cy="539.0" r="0.95" fill="#e8679f" fill-opacity="0.8"/>
<circle cx="136.2" cy="530.4" r="0.95" fill="#2b8cc4" fill-opacity="0.8"/>
<circle cx="58.3" cy="509.0" r="0.95" fill="#e8679f" fill-opacity="0.8"/>
<circle cx="136.8" cy="542.6" r="0.95" fill="#2b8cc4" fill-opacity="0.8"/>
<circle cx="59.9" cy="518.9" r="0.95" fill="#e8679f" fill-opacity="0.8"/>
<circle cx="60.5" cy="544.7" r="0.95" fill="#e8679f" fill-opacity="0.8"/>
<circle cx="141.0" cy="519.2" r="0.95" fill="#2b8cc4" fill-opacity="0.8"/>
<circle cx="126.2" cy="520.4" r="0.95" fill="#2b8cc4" fill-opacity="0.8"/>
<circle cx="53.8" cy="562.8" r="0.95" fill="#e8679f" fill-opacity="0.8"/>
<circle cx="132.9" cy="510.9" r="0.95" fill="#2b8cc4" fill-opacity="0.8"/>
<circle cx="68.0" cy="509.6" r="0.95" fill="#e8679f" fill-opacity="0.8"/>
<circle cx="81.4" cy="523.8" r="0.95" fill="#a8202a" fill-opacity="0.8"/>
<circle cx="91.4" cy="559.1" r="0.95" fill="#a8202a" fill-opacity="0.8"/>
<circle cx="118.9" cy="496.2" r="0.95" fill="#2b8cc4" fill-opacity="0.8"/>
<circle cx="110.7" cy="534.3" r="0.95" fill="#2b8cc4" fill-opacity="0.8"/>
<circle cx="115.7" cy="518.8" r="0.95" fill="#2b8cc4" fill-opacity="0.8"/>
<circle cx="76.9" cy="514.6" r="0.95" fill="#a8202a" fill-opacity="0.8"/>
<circle cx="60.6" cy="551.3" r="0.95" fill="#e8679f" fill-opacity="0.8"/>
<circle cx="58.7" cy="534.4" r="0.95" fill="#e8679f" fill-opacity="0.8"/>
<circle cx="86.0" cy="533.3" r="0.95" fill="#a8202a" fill-opacity="0.8"/>
<circle cx="56.0" cy="555.9" r="0.95" fill="#e8679f" fill-opacity="0.8"/>
<circle cx="109.2" cy="533.5" r="0.95" fill="#2b8cc4" fill-opacity="0.8"/>
<circle cx="69.7" cy="540.0" r="0.95" fill="#e8679f" fill-opacity="0.8"/>
<circle cx="79.4" cy="546.3" r="0.95" fill="#e8679f" fill-opacity="0.8"/>
<circle cx="75.5" cy="544.0" r="0.95" fill="#e8679f" fill-opacity="0.8"/>
<circle cx="68.2" cy="551.2" r="0.95" fill="#e8679f" fill-opacity="0.8"/>
<circle cx="61.5" cy="554.1" r="0.95" fill="#e8679f" fill-opacity="0.8"/>
<circle cx="62.2" cy="553.0" r="0.95" fill="#e8679f" fill-opacity="0.8"/>
<circle cx="123.2" cy="526.0" r="0.95" fill="#2b8cc4" fill-opacity="0.8"/>
<circle cx="113.2" cy="519.6" r="0.95" fill="#2b8cc4" fill-opacity="0.8"/>
<circle cx="54.3" cy="556.3" r="0.95" fill="#e8679f" fill-opacity="0.8"/>
<circle cx="129.7" cy="526.5" r="0.95" fill="#2b8cc4" fill-opacity="0.8"/>
<circle cx="85.7" cy="517.8" r="0.95" fill="#a8202a" fill-opacity="0.8"/>
<circle cx="136.4" cy="513.5" r="0.95" fill="#2b8cc4" fill-opacity="0.8"/>
<circle cx="60.5" cy="543.9" r="0.95" fill="#e8679f" fill-opacity="0.8"/>
<circle cx="110.0" cy="520.6" r="0.95" fill="#2b8cc4" fill-opacity="0.8"/>
<circle cx="87.0" cy="538.7" r="0.95" fill="#a8202a" fill-opacity="0.8"/>
<circle cx="58.2" cy="552.9" r="0.95" fill="#e8679f" fill-opacity="0.8"/>
<circle cx="61.0" cy="511.2" r="0.95" fill="#e8679f" fill-opacity="0.8"/>
<circle cx="67.8" cy="543.4" r="0.95" fill="#e8679f" fill-opacity="0.8"/>
<circle cx="140.6" cy="530.1" r="0.95" fill="#2b8cc4" fill-opacity="0.8"/>
<circle cx="87.6" cy="558.5" r="0.95" fill="#a8202a" fill-opacity="0.8"/>
<circle cx="72.2" cy="531.9" r="0.95" fill="#e8679f" fill-opacity="0.8"/>
<circle cx="175.2" cy="522.1" r="0.95" fill="#2b8cc4" fill-opacity="0.8"/>
<circle cx="65.3" cy="517.2" r="0.95" fill="#e8679f" fill-opacity="0.8"/>
<circle cx="57.9" cy="529.9" r="0.95" fill="#e8679f" fill-opacity="0.8"/>
<circle cx="89.7" cy="543.9" r="0.95" fill="#a8202a" fill-opacity="0.8"/>
<circle cx="73.9" cy="528.5" r="0.95" fill="#e8679f" fill-opacity="0.8"/>
<circle cx="78.0" cy="514.4" r="0.95" fill="#e8679f" fill-opacity="0.8"/>
<circle cx="52.7" cy="558.7" r="0.95" fill="#e8679f" fill-opacity="0.8"/>
<circle cx="63.3" cy="528.9" r="0.95" fill="#e8679f" fill-opacity="0.8"/>
<circle cx="76.4" cy="512.4" r="0.95" fill="#e8679f" fill-opacity="0.8"/>
<circle cx="131.5" cy="525.7" r="0.95" fill="#2b8cc4" fill-opacity="0.8"/>
<circle cx="132.6" cy="439.7" r="0.95" fill="#2b8cc4" fill-opacity="0.8"/>
<circle cx="91.4" cy="555.9" r="0.95" fill="#a8202a" fill-opacity="0.8"/>
<circle cx="57.6" cy="506.5" r="0.95" fill="#e8679f" fill-opacity="0.8"/>
<circle cx="61.3" cy="555.2" r="0.95" fill="#e8679f" fill-opacity="0.8"/>
<circle cx="106.6" cy="526.3" r="0.95" fill="#2b8cc4" fill-opacity="0.8"/>
<circle cx="65.1" cy="543.7" r="0.95" fill="#e8679f" fill-opacity="0.8"/>
<circle cx="67.6" cy="532.1" r="0.95" fill="#e8679f" fill-opacity="0.8"/>
<circle cx="137.9" cy="516.5" r="0.95" fill="#2b8cc4" fill-opacity="0.8"/>
<circle cx="135.6" cy="519.4" r="0.95" fill="#2b8cc4" fill-opacity="0.8"/>
<circle cx="49.9" cy="562.0" r="0.95" fill="#e8679f" fill-opacity="0.8"/>
<circle cx="61.8" cy="542.5" r="0.95" fill="#e8679f" fill-opacity="0.8"/>
<circle cx="122.6" cy="500.0" r="0.95" fill="#2b8cc4" fill-opacity="0.8"/>
<circle cx="156.3" cy="484.4" r="0.95" fill="#2b8cc4" fill-opacity="0.8"/>
<circle cx="73.4" cy="513.1" r="0.95" fill="#e8679f" fill-opacity="0.8"/>
<circle cx="110.2" cy="522.9" r="0.95" fill="#2b8cc4" fill-opacity="0.8"/>
<circle cx="105.2" cy="469.7" r="0.95" fill="#2b8cc4" fill-opacity="0.8"/>
<circle cx="61.2" cy="541.1" r="0.95" fill="#e8679f" fill-opacity="0.8"/>
<circle cx="68.4" cy="548.2" r="0.95" fill="#e8679f" fill-opacity="0.8"/>
<circle cx="121.2" cy="516.2" r="0.95" fill="#2b8cc4" fill-opacity="0.8"/>
<circle cx="59.4" cy="551.1" r="0.95" fill="#e8679f" fill-opacity="0.8"/>
<circle cx="75.5" cy="540.6" r="0.95" fill="#e8679f" fill-opacity="0.8"/>
<circle cx="65.3" cy="508.8" r="0.95" fill="#e8679f" fill-opacity="0.8"/>
<circle cx="66.1" cy="521.5" r="0.95" fill="#e8679f" fill-opacity="0.8"/>
<circle cx="167.5" cy="524.3" r="0.95" fill="#2b8cc4" fill-opacity="0.8"/>
<circle cx="85.0" cy="543.2" r="0.95" fill="#a8202a" fill-opacity="0.8"/>
<circle cx="62.2" cy="554.9" r="0.95" fill="#e8679f" fill-opacity="0.8"/>
<circle cx="76.7" cy="501.5" r="0.95" fill="#e8679f" fill-opacity="0.8"/>
<circle cx="64.2" cy="550.7" r="0.95" fill="#e8679f" fill-opacity="0.8"/>
<circle cx="81.3" cy="538.3" r="0.95" fill="#a8202a" fill-opacity="0.8"/>
<circle cx="51.2" cy="561.1" r="0.95" fill="#e8679f" fill-opacity="0.8"/>
<circle cx="56.7" cy="559.8" r="0.95" fill="#e8679f" fill-opacity="0.8"/>
<circle cx="59.6" cy="470.6" r="0.95" fill="#e8679f" fill-opacity="0.8"/>
<circle cx="67.3" cy="530.0" r="0.95" fill="#e8679f" fill-opacity="0.8"/>
<circle cx="52.6" cy="555.5" r="0.95" fill="#e8679f" fill-opacity="0.8"/>
<circle cx="62.2" cy="543.0" r="0.95" fill="#e8679f" fill-opacity="0.8"/>
<circle cx="84.6" cy="530.9" r="0.95" fill="#a8202a" fill-opacity="0.8"/>
<circle cx="69.6" cy="536.0" r="0.95" fill="#e8679f" fill-opacity="0.8"/>
<circle cx="63.5" cy="550.0" r="0.95" fill="#e8679f" fill-opacity="0.8"/>
<circle cx="56.9" cy="550.0" r="0.95" fill="#e8679f" fill-opacity="0.8"/>
<circle cx="62.3" cy="530.3" r="0.95" fill="#e8679f" fill-opacity="0.8"/>
<circle cx="58.2" cy="555.1" r="0.95" fill="#e8679f" fill-opacity="0.8"/>
<circle cx="71.0" cy="506.0" r="0.95" fill="#e8679f" fill-opacity="0.8"/>
<circle cx="137.3" cy="529.2" r="0.95" fill="#2b8cc4" fill-opacity="0.8"/>
<circle cx="62.6" cy="536.5" r="0.95" fill="#e8679f" fill-opacity="0.8"/>
<circle cx="71.2" cy="489.6" r="0.95" fill="#e8679f" fill-opacity="0.8"/>
<circle cx="108.2" cy="520.4" r="0.95" fill="#2b8cc4" fill-opacity="0.8"/>
<circle cx="59.0" cy="537.7" r="0.95" fill="#e8679f" fill-opacity="0.8"/>
<circle cx="62.6" cy="555.2" r="0.95" fill="#e8679f" fill-opacity="0.8"/>
<circle cx="114.3" cy="533.5" r="0.95" fill="#2b8cc4" fill-opacity="0.8"/>
<circle cx="94.3" cy="513.6" r="0.95" fill="#a8202a" fill-opacity="0.8"/>
<circle cx="52.7" cy="555.9" r="0.95" fill="#e8679f" fill-opacity="0.8"/>
<circle cx="52.0" cy="562.3" r="0.95" fill="#e8679f" fill-opacity="0.8"/>
<circle cx="87.4" cy="537.5" r="0.95" fill="#a8202a" fill-opacity="0.8"/>
<circle cx="86.0" cy="536.8" r="0.95" fill="#a8202a" fill-opacity="0.8"/>
<circle cx="63.5" cy="536.3" r="0.95" fill="#e8679f" fill-opacity="0.8"/>
<circle cx="106.1" cy="525.5" r="0.95" fill="#2b8cc4" fill-opacity="0.8"/>
<circle cx="55.7" cy="541.3" r="0.95" fill="#e8679f" fill-opacity="0.8"/>
<circle cx="62.5" cy="555.2" r="0.95" fill="#e8679f" fill-opacity="0.8"/>
<circle cx="123.5" cy="541.1" r="0.95" fill="#2b8cc4" fill-opacity="0.8"/>
<circle cx="68.7" cy="555.8" r="0.95" fill="#e8679f" fill-opacity="0.8"/>
<circle cx="94.1" cy="513.7" r="0.95" fill="#a8202a" fill-opacity="0.8"/>
<circle cx="63.0" cy="548.5" r="0.95" fill="#e8679f" fill-opacity="0.8"/>
<circle cx="55.6" cy="556.6" r="0.95" fill="#e8679f" fill-opacity="0.8"/>
<circle cx="83.2" cy="511.6" r="0.95" fill="#a8202a" fill-opacity="0.8"/>
<circle cx="59.2" cy="556.7" r="0.95" fill="#e8679f" fill-opacity="0.8"/>
<circle cx="86.4" cy="544.9" r="0.95" fill="#a8202a" fill-opacity="0.8"/>
<circle cx="65.6" cy="537.4" r="0.95" fill="#e8679f" fill-opacity="0.8"/>
<circle cx="105.8" cy="533.3" r="0.95" fill="#2b8cc4" fill-opacity="0.8"/>
<circle cx="65.6" cy="535.4" r="0.95" fill="#e8679f" fill-opacity="0.8"/>
<circle cx="67.0" cy="541.1" r="0.95" fill="#e8679f" fill-opacity="0.8"/>
<circle cx="131.9" cy="523.8" r="0.95" fill="#2b8cc4" fill-opacity="0.8"/>
<circle cx="130.7" cy="513.7" r="0.95" fill="#2b8cc4" fill-opacity="0.8"/>
<circle cx="68.1" cy="540.4" r="0.95" fill="#e8679f" fill-opacity="0.8"/>
<circle cx="125.4" cy="519.2" r="0.95" fill="#2b8cc4" fill-opacity="0.8"/>
<circle cx="56.3" cy="558.8" r="0.95" fill="#e8679f" fill-opacity="0.8"/>
<circle cx="74.2" cy="536.6" r="0.95" fill="#e8679f" fill-opacity="0.8"/>
<circle cx="152.7" cy="496.6" r="0.95" fill="#2b8cc4" fill-opacity="0.8"/>
<circle cx="120.8" cy="450.0" r="0.95" fill="#2b8cc4" fill-opacity="0.8"/>
<circle cx="87.3" cy="538.0" r="0.95" fill="#a8202a" fill-opacity="0.8"/>
<circle cx="112.0" cy="527.3" r="0.95" fill="#2b8cc4" fill-opacity="0.8"/>
<circle cx="115.3" cy="509.3" r="0.95" fill="#2b8cc4" fill-opacity="0.8"/>
<circle cx="53.3" cy="560.8" r="0.95" fill="#e8679f" fill-opacity="0.8"/>
<circle cx="124.0" cy="508.1" r="0.95" fill="#2b8cc4" fill-opacity="0.8"/>
<circle cx="133.4" cy="515.8" r="0.95" fill="#2b8cc4" fill-opacity="0.8"/>
<circle cx="79.6" cy="555.2" r="0.95" fill="#a8202a" fill-opacity="0.8"/>
<circle cx="56.6" cy="507.4" r="0.95" fill="#e8679f" fill-opacity="0.8"/>
<circle cx="130.8" cy="477.4" r="0.95" fill="#2b8cc4" fill-opacity="0.8"/>
<circle cx="65.8" cy="522.1" r="0.95" fill="#e8679f" fill-opacity="0.8"/>
<circle cx="68.4" cy="500.8" r="0.95" fill="#e8679f" fill-opacity="0.8"/>
<circle cx="63.5" cy="546.6" r="0.95" fill="#e8679f" fill-opacity="0.8"/>
<circle cx="52.5" cy="562.0" r="0.95" fill="#e8679f" fill-opacity="0.8"/>
<circle cx="53.4" cy="551.5" r="0.95" fill="#e8679f" fill-opacity="0.8"/>
<circle cx="61.6" cy="543.5" r="0.95" fill="#e8679f" fill-opacity="0.8"/>
<circle cx="60.0" cy="516.2" r="0.95" fill="#e8679f" fill-opacity="0.8"/>
<circle cx="79.8" cy="499.4" r="0.95" fill="#a8202a" fill-opacity="0.8"/>
<circle cx="82.0" cy="526.9" r="0.95" fill="#a8202a" fill-opacity="0.8"/>
<circle cx="75.3" cy="547.0" r="0.95" fill="#e8679f" fill-opacity="0.8"/>
<circle cx="64.7" cy="523.5" r="0.95" fill="#e8679f" fill-opacity="0.8"/>
<circle cx="64.1" cy="510.6" r="0.95" fill="#e8679f" fill-opacity="0.8"/>
<circle cx="74.3" cy="509.3" r="0.95" fill="#e8679f" fill-opacity="0.8"/>
<circle cx="125.0" cy="501.5" r="0.95" fill="#2b8cc4" fill-opacity="0.8"/>
<circle cx="65.8" cy="543.8" r="0.95" fill="#e8679f" fill-opacity="0.8"/>
<circle cx="67.1" cy="543.7" r="0.95" fill="#e8679f" fill-opacity="0.8"/>
<circle cx="80.0" cy="522.9" r="0.95" fill="#a8202a" fill-opacity="0.8"/>
<circle cx="63.8" cy="530.2" r="0.95" fill="#e8679f" fill-opacity="0.8"/>
<circle cx="62.3" cy="547.9" r="0.95" fill="#e8679f" fill-opacity="0.8"/>
<circle cx="61.9" cy="512.3" r="0.95" fill="#e8679f" fill-opacity="0.8"/>
<circle cx="137.8" cy="503.0" r="0.95" fill="#2b8cc4" fill-opacity="0.8"/>
<circle cx="49.3" cy="563.6" r="0.95" fill="#e8679f" fill-opacity="0.8"/>
<circle cx="54.8" cy="526.0" r="0.95" fill="#e8679f" fill-opacity="0.8"/>
<circle cx="128.1" cy="526.2" r="0.95" fill="#2b8cc4" fill-opacity="0.8"/>
<circle cx="92.0" cy="542.2" r="0.95" fill="#a8202a" fill-opacity="0.8"/>
<circle cx="57.3" cy="552.4" r="0.95" fill="#e8679f" fill-opacity="0.8"/>
<circle cx="71.0" cy="523.2" r="0.95" fill="#e8679f" fill-opacity="0.8"/>
<circle cx="83.5" cy="539.4" r="0.95" fill="#a8202a" fill-opacity="0.8"/>
<circle cx="66.4" cy="543.2" r="0.95" fill="#e8679f" fill-opacity="0.8"/>
<circle cx="58.9" cy="513.5" r="0.95" fill="#e8679f" fill-opacity="0.8"/>
<circle cx="54.5" cy="537.7" r="0.95" fill="#e8679f" fill-opacity="0.8"/>
<circle cx="95.8" cy="507.4" r="0.95" fill="#a8202a" fill-opacity="0.8"/>
<circle cx="63.7" cy="517.9" r="0.95" fill="#e8679f" fill-opacity="0.8"/>
<circle cx="58.4" cy="541.7" r="0.95" fill="#e8679f" fill-opacity="0.8"/>
<circle cx="88.6" cy="521.1" r="0.95" fill="#a8202a" fill-opacity="0.8"/>
<circle cx="143.3" cy="537.3" r="0.95" fill="#2b8cc4" fill-opacity="0.8"/>
<circle cx="72.5" cy="507.5" r="0.95" fill="#e8679f" fill-opacity="0.8"/>
<circle cx="108.4" cy="538.4" r="0.95" fill="#2b8cc4" fill-opacity="0.8"/>
<circle cx="75.7" cy="514.0" r="0.95" fill="#e8679f" fill-opacity="0.8"/>
<circle cx="61.3" cy="537.4" r="0.95" fill="#e8679f" fill-opacity="0.8"/>
<circle cx="120.9" cy="526.5" r="0.95" fill="#2b8cc4" fill-opacity="0.8"/>
<circle cx="50.3" cy="559.4" r="0.95" fill="#e8679f" fill-opacity="0.8"/>
<circle cx="67.4" cy="504.3" r="0.95" fill="#e8679f" fill-opacity="0.8"/>
<circle cx="87.3" cy="535.3" r="0.95" fill="#a8202a" fill-opacity="0.8"/>
<circle cx="136.6" cy="513.3" r="0.95" fill="#2b8cc4" fill-opacity="0.8"/>
<circle cx="66.9" cy="512.1" r="0.95" fill="#e8679f" fill-opacity="0.8"/>
<circle cx="122.9" cy="497.5" r="0.95" fill="#2b8cc4" fill-opacity="0.8"/>
<circle cx="50.2" cy="562.4" r="0.95" fill="#e8679f" fill-opacity="0.8"/>
<circle cx="62.2" cy="501.1" r="0.95" fill="#e8679f" fill-opacity="0.8"/>
<circle cx="67.3" cy="535.7" r="0.95" fill="#e8679f" fill-opacity="0.8"/>
<circle cx="53.1" cy="562.2" r="0.95" fill="#e8679f" fill-opacity="0.8"/>
<circle cx="68.4" cy="484.2" r="0.95" fill="#e8679f" fill-opacity="0.8"/>
<circle cx="72.9" cy="548.0" r="0.95" fill="#e8679f" fill-opacity="0.8"/>
<circle cx="64.4" cy="543.1" r="0.95" fill="#e8679f" fill-opacity="0.8"/>
<circle cx="171.4" cy="480.0" r="0.95" fill="#2b8cc4" fill-opacity="0.8"/>
<circle cx="85.4" cy="543.8" r="0.95" fill="#a8202a" fill-opacity="0.8"/>
<circle cx="147.3" cy="458.8" r="0.95" fill="#2b8cc4" fill-opacity="0.8"/>
<circle cx="54.9" cy="554.0" r="0.95" fill="#e8679f" fill-opacity="0.8"/>
<circle cx="72.6" cy="532.0" r="0.95" fill="#e8679f" fill-opacity="0.8"/>
<circle cx="131.5" cy="539.1" r="0.95" fill="#2b8cc4" fill-opacity="0.8"/>
<circle cx="59.6" cy="510.2" r="0.95" fill="#e8679f" fill-opacity="0.8"/>
<circle cx="59.3" cy="558.6" r="0.95" fill="#e8679f" fill-opacity="0.8"/>
<circle cx="77.6" cy="528.1" r="0.95" fill="#e8679f" fill-opacity="0.8"/>
<circle cx="68.2" cy="520.3" r="0.95" fill="#e8679f" fill-opacity="0.8"/>
<circle cx="92.5" cy="540.8" r="0.95" fill="#a8202a" fill-opacity="0.8"/>
<circle cx="66.5" cy="551.5" r="0.95" fill="#e8679f" fill-opacity="0.8"/>
<circle cx="77.8" cy="521.8" r="0.95" fill="#e8679f" fill-opacity="0.8"/>
<circle cx="119.5" cy="519.8" r="0.95" fill="#2b8cc4" fill-opacity="0.8"/>
<circle cx="67.6" cy="542.9" r="0.95" fill="#e8679f" fill-opacity="0.8"/>
<circle cx="137.2" cy="523.9" r="0.95" fill="#2b8cc4" fill-opacity="0.8"/>
<circle cx="67.2" cy="548.7" r="0.95" fill="#e8679f" fill-opacity="0.8"/>
<circle cx="66.4" cy="541.8" r="0.95" fill="#e8679f" fill-opacity="0.8"/>
<circle cx="74.4" cy="543.8" r="0.95" fill="#e8679f" fill-opacity="0.8"/>
<circle cx="113.2" cy="487.4" r="0.95" fill="#2b8cc4" fill-opacity="0.8"/>
<circle cx="150.1" cy="492.2" r="0.95" fill="#2b8cc4" fill-opacity="0.8"/>
<circle cx="114.6" cy="539.5" r="0.95" fill="#2b8cc4" fill-opacity="0.8"/>
<circle cx="68.1" cy="528.7" r="0.95" fill="#e8679f" fill-opacity="0.8"/>
<circle cx="58.9" cy="542.9" r="0.95" fill="#e8679f" fill-opacity="0.8"/>
<circle cx="69.2" cy="530.2" r="0.95" fill="#e8679f" fill-opacity="0.8"/>
<circle cx="74.2" cy="535.2" r="0.95" fill="#e8679f" fill-opacity="0.8"/>
<circle cx="113.3" cy="511.2" r="0.95" fill="#2b8cc4" fill-opacity="0.8"/>
<circle cx="73.8" cy="504.4" r="0.95" fill="#e8679f" fill-opacity="0.8"/>
<circle cx="70.2" cy="528.0" r="0.95" fill="#e8679f" fill-opacity="0.8"/>
<circle cx="63.8" cy="509.3" r="0.95" fill="#e8679f" fill-opacity="0.8"/>
<circle cx="57.7" cy="547.6" r="0.95" fill="#e8679f" fill-opacity="0.8"/>
<circle cx="76.9" cy="517.0" r="0.95" fill="#e8679f" fill-opacity="0.8"/>
<circle cx="83.4" cy="503.4" r="0.95" fill="#a8202a" fill-opacity="0.8"/>
<circle cx="56.0" cy="548.1" r="0.95" fill="#e8679f" fill-opacity="0.8"/>
<circle cx="122.4" cy="525.3" r="0.95" fill="#2b8cc4" fill-opacity="0.8"/>
<circle cx="111.9" cy="502.2" r="0.95" fill="#2b8cc4" fill-opacity="0.8"/>
<circle cx="63.0" cy="514.4" r="0.95" fill="#e8679f" fill-opacity="0.8"/>
<circle cx="65.4" cy="547.3" r="0.95" fill="#e8679f" fill-opacity="0.8"/>
<circle cx="63.9" cy="521.1" r="0.95" fill="#e8679f" fill-opacity="0.8"/>
<circle cx="137.5" cy="509.7" r="0.95" fill="#2b8cc4" fill-opacity="0.8"/>
<circle cx="60.4" cy="529.1" r="0.95" fill="#e8679f" fill-opacity="0.8"/>
<circle cx="59.3" cy="560.2" r="0.95" fill="#e8679f" fill-opacity="0.8"/>
<circle cx="70.7" cy="485.4" r="0.95" fill="#e8679f" fill-opacity="0.8"/>
<circle cx="58.0" cy="554.9" r="0.95" fill="#e8679f" fill-opacity="0.8"/>
<circle cx="60.3" cy="542.5" r="0.95" fill="#e8679f" fill-opacity="0.8"/>
<circle cx="89.4" cy="535.2" r="0.95" fill="#a8202a" fill-opacity="0.8"/>
<circle cx="57.3" cy="553.3" r="0.95" fill="#e8679f" fill-opacity="0.8"/>
<circle cx="70.6" cy="538.6" r="0.95" fill="#e8679f" fill-opacity="0.8"/>
<circle cx="64.8" cy="538.7" r="0.95" fill="#e8679f" fill-opacity="0.8"/>
<circle cx="67.5" cy="513.8" r="0.95" fill="#e8679f" fill-opacity="0.8"/>
<circle cx="52.9" cy="558.0" r="0.95" fill="#e8679f" fill-opacity="0.8"/>
<circle cx="134.0" cy="504.9" r="0.95" fill="#2b8cc4" fill-opacity="0.8"/>
<circle cx="68.6" cy="512.5" r="0.95" fill="#e8679f" fill-opacity="0.8"/>
<circle cx="71.1" cy="544.4" r="0.95" fill="#e8679f" fill-opacity="0.8"/>
<circle cx="140.5" cy="543.4" r="0.95" fill="#2b8cc4" fill-opacity="0.8"/>
<circle cx="88.0" cy="523.9" r="0.95" fill="#a8202a" fill-opacity="0.8"/>
<circle cx="62.0" cy="544.7" r="0.95" fill="#e8679f" fill-opacity="0.8"/>
<circle cx="68.5" cy="537.6" r="0.95" fill="#e8679f" fill-opacity="0.8"/>
<circle cx="73.2" cy="549.1" r="0.95" fill="#e8679f" fill-opacity="0.8"/>
<circle cx="68.1" cy="552.9" r="0.95" fill="#e8679f" fill-opacity="0.8"/>
<circle cx="114.8" cy="520.7" r="0.95" fill="#2b8cc4" fill-opacity="0.8"/>
<circle cx="77.2" cy="504.1" r="0.95" fill="#e8679f" fill-opacity="0.8"/>
<circle cx="60.4" cy="535.7" r="0.95" fill="#e8679f" fill-opacity="0.8"/>
<circle cx="88.1" cy="543.7" r="0.95" fill="#a8202a" fill-opacity="0.8"/>
<circle cx="62.7" cy="554.2" r="0.95" fill="#e8679f" fill-opacity="0.8"/>
<circle cx="58.0" cy="556.2" r="0.95" fill="#e8679f" fill-opacity="0.8"/>
<circle cx="65.4" cy="515.7" r="0.95" fill="#e8679f" fill-opacity="0.8"/>
<circle cx="85.8" cy="527.0" r="0.95" fill="#a8202a" fill-opacity="0.8"/>
<circle cx="69.5" cy="503.1" r="0.95" fill="#e8679f" fill-opacity="0.8"/>
<circle cx="81.2" cy="503.9" r="0.95" fill="#a8202a" fill-opacity="0.8"/>
<circle cx="53.1" cy="557.8" r="0.95" fill="#e8679f" fill-opacity="0.8"/>
<circle cx="62.9" cy="543.9" r="0.95" fill="#e8679f" fill-opacity="0.8"/>
<circle cx="54.7" cy="557.4" r="0.95" fill="#e8679f" fill-opacity="0.8"/>
<circle cx="55.4" cy="562.0" r="0.95" fill="#e8679f" fill-opacity="0.8"/>
<circle cx="140.5" cy="433.8" r="0.95" fill="#2b8cc4" fill-opacity="0.8"/>
<circle cx="75.6" cy="523.3" r="0.95" fill="#e8679f" fill-opacity="0.8"/>
<circle cx="126.2" cy="513.7" r="0.95" fill="#2b8cc4" fill-opacity="0.8"/>
<circle cx="66.3" cy="540.8" r="0.95" fill="#e8679f" fill-opacity="0.8"/>
<circle cx="123.6" cy="543.8" r="0.95" fill="#2b8cc4" fill-opacity="0.8"/>
<circle cx="118.9" cy="521.9" r="0.95" fill="#2b8cc4" fill-opacity="0.8"/>
<circle cx="136.6" cy="516.3" r="0.95" fill="#2b8cc4" fill-opacity="0.8"/>
<circle cx="84.6" cy="527.6" r="0.95" fill="#a8202a" fill-opacity="0.8"/>
<circle cx="68.7" cy="543.7" r="0.95" fill="#e8679f" fill-opacity="0.8"/>
<circle cx="125.8" cy="527.7" r="0.95" fill="#2b8cc4" fill-opacity="0.8"/>
<circle cx="140.5" cy="536.4" r="0.95" fill="#2b8cc4" fill-opacity="0.8"/>
<circle cx="132.6" cy="511.1" r="0.95" fill="#2b8cc4" fill-opacity="0.8"/>
<circle cx="71.0" cy="494.1" r="0.95" fill="#e8679f" fill-opacity="0.8"/>
<circle cx="116.9" cy="520.0" r="0.95" fill="#2b8cc4" fill-opacity="0.8"/>
<circle cx="122.6" cy="540.8" r="0.95" fill="#2b8cc4" fill-opacity="0.8"/>
<circle cx="54.7" cy="557.9" r="0.95" fill="#e8679f" fill-opacity="0.8"/>
<circle cx="124.2" cy="527.8" r="0.95" fill="#2b8cc4" fill-opacity="0.8"/>
<circle cx="61.4" cy="498.2" r="0.95" fill="#e8679f" fill-opacity="0.8"/>
<circle cx="72.6" cy="517.5" r="0.95" fill="#e8679f" fill-opacity="0.8"/>
<circle cx="155.7" cy="544.0" r="0.95" fill="#2b8cc4" fill-opacity="0.8"/>
<circle cx="60.1" cy="557.1" r="0.95" fill="#e8679f" fill-opacity="0.8"/>
<circle cx="65.0" cy="519.5" r="0.95" fill="#e8679f" fill-opacity="0.8"/>
<circle cx="61.5" cy="540.7" r="0.95" fill="#e8679f" fill-opacity="0.8"/>
<circle cx="115.5" cy="532.2" r="0.95" fill="#2b8cc4" fill-opacity="0.8"/>
<circle cx="84.5" cy="537.9" r="0.95" fill="#a8202a" fill-opacity="0.8"/>
<circle cx="71.9" cy="513.7" r="0.95" fill="#e8679f" fill-opacity="0.8"/>
<circle cx="66.9" cy="543.0" r="0.95" fill="#e8679f" fill-opacity="0.8"/>
<circle cx="88.6" cy="517.4" r="0.95" fill="#a8202a" fill-opacity="0.8"/>
<circle cx="125.6" cy="537.3" r="0.95" fill="#2b8cc4" fill-opacity="0.8"/>
<circle cx="59.8" cy="518.0" r="0.95" fill="#e8679f" fill-opacity="0.8"/>
<circle cx="63.4" cy="536.9" r="0.95" fill="#e8679f" fill-opacity="0.8"/>
<circle cx="133.5" cy="513.1" r="0.95" fill="#2b8cc4" fill-opacity="0.8"/>
<circle cx="126.6" cy="505.0" r="0.95" fill="#2b8cc4" fill-opacity="0.8"/>
<circle cx="117.5" cy="531.0" r="0.95" fill="#2b8cc4" fill-opacity="0.8"/>
<circle cx="64.6" cy="532.0" r="0.95" fill="#e8679f" fill-opacity="0.8"/>
<circle cx="82.1" cy="552.0" r="0.95" fill="#a8202a" fill-opacity="0.8"/>
<circle cx="55.7" cy="511.3" r="0.95" fill="#e8679f" fill-opacity="0.8"/>
<circle cx="80.6" cy="536.9" r="0.95" fill="#e8679f" fill-opacity="0.8"/>
<circle cx="57.8" cy="518.2" r="0.95" fill="#e8679f" fill-opacity="0.8"/>
<circle cx="70.5" cy="550.8" r="0.95" fill="#e8679f" fill-opacity="0.8"/>
<circle cx="58.3" cy="561.3" r="0.95" fill="#e8679f" fill-opacity="0.8"/>
<circle cx="71.4" cy="547.3" r="0.95" fill="#e8679f" fill-opacity="0.8"/>
<circle cx="85.4" cy="529.1" r="0.95" fill="#a8202a" fill-opacity="0.8"/>
<circle cx="73.9" cy="481.9" r="0.95" fill="#e8679f" fill-opacity="0.8"/>
<circle cx="60.9" cy="548.6" r="0.95" fill="#e8679f" fill-opacity="0.8"/>
<circle cx="140.8" cy="520.9" r="0.95" fill="#2b8cc4" fill-opacity="0.8"/>
<circle cx="115.5" cy="498.9" r="0.95" fill="#2b8cc4" fill-opacity="0.8"/>
<circle cx="127.8" cy="532.4" r="0.95" fill="#2b8cc4" fill-opacity="0.8"/>
<circle cx="67.7" cy="548.8" r="0.95" fill="#e8679f" fill-opacity="0.8"/>
<circle cx="112.0" cy="501.9" r="0.95" fill="#2b8cc4" fill-opacity="0.8"/>
<circle cx="65.1" cy="545.1" r="0.95" fill="#e8679f" fill-opacity="0.8"/>
<circle cx="106.6" cy="515.5" r="0.95" fill="#2b8cc4" fill-opacity="0.8"/>
<circle cx="53.5" cy="544.9" r="0.95" fill="#e8679f" fill-opacity="0.8"/>
<circle cx="92.5" cy="547.8" r="0.95" fill="#a8202a" fill-opacity="0.8"/>
<circle cx="117.4" cy="528.7" r="0.95" fill="#2b8cc4" fill-opacity="0.8"/>
<circle cx="52.1" cy="533.7" r="0.95" fill="#e8679f" fill-opacity="0.8"/>
<circle cx="75.9" cy="533.5" r="0.95" fill="#a8202a" fill-opacity="0.8"/>
<circle cx="86.9" cy="538.9" r="0.95" fill="#a8202a" fill-opacity="0.8"/>
<circle cx="158.3" cy="524.8" r="0.95" fill="#2b8cc4" fill-opacity="0.8"/>
<circle cx="87.1" cy="540.5" r="0.95" fill="#a8202a" fill-opacity="0.8"/>
<circle cx="65.0" cy="515.1" r="0.95" fill="#e8679f" fill-opacity="0.8"/>
<circle cx="57.7" cy="523.3" r="0.95" fill="#e8679f" fill-opacity="0.8"/>
<circle cx="66.7" cy="538.0" r="0.95" fill="#e8679f" fill-opacity="0.8"/>
<circle cx="62.4" cy="520.8" r="0.95" fill="#e8679f" fill-opacity="0.8"/>
<circle cx="63.0" cy="547.1" r="0.95" fill="#e8679f" fill-opacity="0.8"/>
<circle cx="59.7" cy="551.5" r="0.95" fill="#e8679f" fill-opacity="0.8"/>
<circle cx="66.0" cy="548.1" r="0.95" fill="#e8679f" fill-opacity="0.8"/>
<circle cx="51.5" cy="556.8" r="0.95" fill="#e8679f" fill-opacity="0.8"/>
<circle cx="55.4" cy="550.2" r="0.95" fill="#e8679f" fill-opacity="0.8"/>
<circle cx="72.0" cy="501.4" r="0.95" fill="#e8679f" fill-opacity="0.8"/>
<circle cx="146.8" cy="497.2" r="0.95" fill="#2b8cc4" fill-opacity="0.8"/>
<circle cx="120.9" cy="502.7" r="0.95" fill="#2b8cc4" fill-opacity="0.8"/>
<circle cx="67.1" cy="529.0" r="0.95" fill="#e8679f" fill-opacity="0.8"/>
<circle cx="71.8" cy="550.4" r="0.95" fill="#e8679f" fill-opacity="0.8"/>
<circle cx="58.5" cy="557.5" r="0.95" fill="#e8679f" fill-opacity="0.8"/>
<circle cx="88.1" cy="549.1" r="0.95" fill="#a8202a" fill-opacity="0.8"/>
<circle cx="131.6" cy="484.7" r="0.95" fill="#2b8cc4" fill-opacity="0.8"/>
<circle cx="72.7" cy="529.3" r="0.95" fill="#e8679f" fill-opacity="0.8"/>
<circle cx="56.1" cy="557.9" r="0.95" fill="#e8679f" fill-opacity="0.8"/>
<circle cx="70.8" cy="507.3" r="0.95" fill="#e8679f" fill-opacity="0.8"/>
<circle cx="60.4" cy="550.9" r="0.95" fill="#e8679f" fill-opacity="0.8"/>
<circle cx="68.8" cy="493.5" r="0.95" fill="#e8679f" fill-opacity="0.8"/>
<circle cx="104.8" cy="528.5" r="0.95" fill="#2b8cc4" fill-opacity="0.8"/>
<circle cx="105.2" cy="499.3" r="0.95" fill="#2b8cc4" fill-opacity="0.8"/>
<circle cx="60.2" cy="552.9" r="0.95" fill="#e8679f" fill-opacity="0.8"/>
<circle cx="68.8" cy="544.3" r="0.95" fill="#e8679f" fill-opacity="0.8"/>
<circle cx="55.6" cy="555.8" r="0.95" fill="#e8679f" fill-opacity="0.8"/>
<circle cx="115.0" cy="526.9" r="0.95" fill="#2b8cc4" fill-opacity="0.8"/>
<circle cx="121.6" cy="536.3" r="0.95" fill="#2b8cc4" fill-opacity="0.8"/>
<circle cx="134.1" cy="496.9" r="0.95" fill="#2b8cc4" fill-opacity="0.8"/>
<circle cx="73.2" cy="544.9" r="0.95" fill="#e8679f" fill-opacity="0.8"/>
<circle cx="81.7" cy="545.2" r="0.95" fill="#a8202a" fill-opacity="0.8"/>
<circle cx="130.7" cy="520.9" r="0.95" fill="#2b8cc4" fill-opacity="0.8"/>
<circle cx="88.5" cy="557.7" r="0.95" fill="#a8202a" fill-opacity="0.8"/>
<circle cx="108.3" cy="534.7" r="0.95" fill="#2b8cc4" fill-opacity="0.8"/>
<circle cx="133.8" cy="479.4" r="0.95" fill="#2b8cc4" fill-opacity="0.8"/>
<circle cx="60.7" cy="538.5" r="0.95" fill="#e8679f" fill-opacity="0.8"/>
<circle cx="82.1" cy="521.9" r="0.95" fill="#a8202a" fill-opacity="0.8"/>
<circle cx="61.6" cy="543.2" r="0.95" fill="#e8679f" fill-opacity="0.8"/>
<circle cx="58.8" cy="533.4" r="0.95" fill="#e8679f" fill-opacity="0.8"/>
<circle cx="124.5" cy="521.4" r="0.95" fill="#2b8cc4" fill-opacity="0.8"/>
<circle cx="63.7" cy="530.1" r="0.95" fill="#e8679f" fill-opacity="0.8"/>
<circle cx="138.5" cy="505.2" r="0.95" fill="#2b8cc4" fill-opacity="0.8"/>
<circle cx="107.9" cy="494.8" r="0.95" fill="#2b8cc4" fill-opacity="0.8"/>
<circle cx="126.0" cy="524.2" r="0.95" fill="#2b8cc4" fill-opacity="0.8"/>
<circle cx="68.3" cy="529.0" r="0.95" fill="#e8679f" fill-opacity="0.8"/>
<circle cx="61.1" cy="557.4" r="0.95" fill="#e8679f" fill-opacity="0.8"/>
<circle cx="59.2" cy="537.2" r="0.95" fill="#e8679f" fill-opacity="0.8"/>
<circle cx="118.9" cy="541.6" r="0.95" fill="#2b8cc4" fill-opacity="0.8"/>
<circle cx="57.5" cy="552.3" r="0.95" fill="#e8679f" fill-opacity="0.8"/>
<circle cx="132.8" cy="517.8" r="0.95" fill="#2b8cc4" fill-opacity="0.8"/>
<circle cx="126.0" cy="513.8" r="0.95" fill="#2b8cc4" fill-opacity="0.8"/>
<circle cx="135.6" cy="533.7" r="0.95" fill="#2b8cc4" fill-opacity="0.8"/>
<circle cx="59.4" cy="524.6" r="0.95" fill="#e8679f" fill-opacity="0.8"/>
<circle cx="63.8" cy="544.5" r="0.95" fill="#e8679f" fill-opacity="0.8"/>
<circle cx="64.9" cy="492.6" r="0.95" fill="#e8679f" fill-opacity="0.8"/>
<circle cx="67.0" cy="526.8" r="0.95" fill="#e8679f" fill-opacity="0.8"/>
<circle cx="87.4" cy="527.4" r="0.95" fill="#a8202a" fill-opacity="0.8"/>
<circle cx="140.3" cy="505.2" r="0.95" fill="#2b8cc4" fill-opacity="0.8"/>
<circle cx="59.9" cy="551.8" r="0.95" fill="#e8679f" fill-opacity="0.8"/>
<circle cx="63.5" cy="551.2" r="0.95" fill="#e8679f" fill-opacity="0.8"/>
<circle cx="89.0" cy="539.3" r="0.95" fill="#a8202a" fill-opacity="0.8"/>
<circle cx="64.1" cy="531.9" r="0.95" fill="#e8679f" fill-opacity="0.8"/>
<circle cx="106.1" cy="520.9" r="0.95" fill="#2b8cc4" fill-opacity="0.8"/>
<circle cx="76.7" cy="533.9" r="0.95" fill="#e8679f" fill-opacity="0.8"/>
<circle cx="67.7" cy="545.3" r="0.95" fill="#e8679f" fill-opacity="0.8"/>
<circle cx="63.0" cy="536.9" r="0.95" fill="#e8679f" fill-opacity="0.8"/>
<circle cx="112.8" cy="521.4" r="0.95" fill="#2b8cc4" fill-opacity="0.8"/>
<circle cx="62.3" cy="515.1" r="0.95" fill="#e8679f" fill-opacity="0.8"/>
<circle cx="70.6" cy="534.3" r="0.95" fill="#e8679f" fill-opacity="0.8"/>
<circle cx="59.1" cy="546.2" r="0.95" fill="#e8679f" fill-opacity="0.8"/>
<circle cx="139.0" cy="517.9" r="0.95" fill="#2b8cc4" fill-opacity="0.8"/>
<circle cx="158.9" cy="541.8" r="0.95" fill="#2b8cc4" fill-opacity="0.8"/>
<circle cx="86.5" cy="507.9" r="0.95" fill="#a8202a" fill-opacity="0.8"/>
<circle cx="69.0" cy="520.5" r="0.95" fill="#e8679f" fill-opacity="0.8"/>
<circle cx="152.6" cy="507.9" r="0.95" fill="#2b8cc4" fill-opacity="0.8"/>
<circle cx="62.6" cy="535.8" r="0.95" fill="#e8679f" fill-opacity="0.8"/>
<circle cx="64.4" cy="511.3" r="0.95" fill="#e8679f" fill-opacity="0.8"/>
<circle cx="62.4" cy="552.8" r="0.95" fill="#e8679f" fill-opacity="0.8"/>
<circle cx="85.4" cy="561.6" r="0.95" fill="#a8202a" fill-opacity="0.8"/>
<circle cx="144.4" cy="527.4" r="0.95" fill="#2b8cc4" fill-opacity="0.8"/>
<circle cx="53.9" cy="554.7" r="0.95" fill="#e8679f" fill-opacity="0.8"/>
<circle cx="85.7" cy="512.4" r="0.95" fill="#a8202a" fill-opacity="0.8"/>
<circle cx="55.3" cy="552.1" r="0.95" fill="#e8679f" fill-opacity="0.8"/>
<circle cx="71.4" cy="551.9" r="0.95" fill="#e8679f" fill-opacity="0.8"/>
<circle cx="64.9" cy="512.0" r="0.95" fill="#e8679f" fill-opacity="0.8"/>
<circle cx="164.5" cy="535.8" r="0.95" fill="#2b8cc4" fill-opacity="0.8"/>
<circle cx="119.9" cy="517.6" r="0.95" fill="#2b8cc4" fill-opacity="0.8"/>
<circle cx="84.9" cy="537.7" r="0.95" fill="#a8202a" fill-opacity="0.8"/>
<circle cx="63.0" cy="502.1" r="0.95" fill="#e8679f" fill-opacity="0.8"/>
<circle cx="132.0" cy="508.2" r="0.95" fill="#2b8cc4" fill-opacity="0.8"/>
<circle cx="113.5" cy="520.2" r="0.95" fill="#2b8cc4" fill-opacity="0.8"/>
<circle cx="126.4" cy="500.0" r="0.95" fill="#2b8cc4" fill-opacity="0.8"/>
<circle cx="64.1" cy="546.5" r="0.95" fill="#e8679f" fill-opacity="0.8"/>
<circle cx="146.2" cy="496.2" r="0.95" fill="#2b8cc4" fill-opacity="0.8"/>
<circle cx="86.1" cy="522.5" r="0.95" fill="#a8202a" fill-opacity="0.8"/>
<circle cx="58.6" cy="533.2" r="0.95" fill="#e8679f" fill-opacity="0.8"/>
<circle cx="160.1" cy="530.1" r="0.95" fill="#2b8cc4" fill-opacity="0.8"/>
<circle cx="72.3" cy="505.9" r="0.95" fill="#e8679f" fill-opacity="0.8"/>
<circle cx="115.2" cy="525.1" r="0.95" fill="#2b8cc4" fill-opacity="0.8"/>
<circle cx="69.4" cy="519.9" r="0.95" fill="#e8679f" fill-opacity="0.8"/>
<circle cx="68.6" cy="497.3" r="0.95" fill="#e8679f" fill-opacity="0.8"/>
<circle cx="132.7" cy="524.5" r="0.95" fill="#2b8cc4" fill-opacity="0.8"/>
<circle cx="59.9" cy="546.9" r="0.95" fill="#e8679f" fill-opacity="0.8"/>
<circle cx="76.4" cy="503.5" r="0.95" fill="#e8679f" fill-opacity="0.8"/>
<circle cx="53.7" cy="521.0" r="0.95" fill="#e8679f" fill-opacity="0.8"/>
<circle cx="71.2" cy="521.8" r="0.95" fill="#e8679f" fill-opacity="0.8"/>
<circle cx="66.6" cy="503.9" r="0.95" fill="#e8679f" fill-opacity="0.8"/>
<circle cx="61.1" cy="540.9" r="0.95" fill="#e8679f" fill-opacity="0.8"/>
<circle cx="128.4" cy="515.2" r="0.95" fill="#2b8cc4" fill-opacity="0.8"/>
<circle cx="88.3" cy="548.1" r="0.95" fill="#a8202a" fill-opacity="0.8"/>
<circle cx="61.6" cy="531.3" r="0.95" fill="#e8679f" fill-opacity="0.8"/>
<circle cx="62.3" cy="541.8" r="0.95" fill="#e8679f" fill-opacity="0.8"/>
<circle cx="128.4" cy="534.7" r="0.95" fill="#2b8cc4" fill-opacity="0.8"/>
<circle cx="83.6" cy="532.2" r="0.95" fill="#a8202a" fill-opacity="0.8"/>
<circle cx="88.8" cy="549.8" r="0.95" fill="#a8202a" fill-opacity="0.8"/>
<circle cx="64.5" cy="539.8" r="0.95" fill="#e8679f" fill-opacity="0.8"/>
<circle cx="62.4" cy="540.3" r="0.95" fill="#e8679f" fill-opacity="0.8"/>
<circle cx="71.9" cy="520.6" r="0.95" fill="#e8679f" fill-opacity="0.8"/>
<circle cx="132.7" cy="504.9" r="0.95" fill="#2b8cc4" fill-opacity="0.8"/>
<circle cx="91.0" cy="554.6" r="0.95" fill="#a8202a" fill-opacity="0.8"/>
<circle cx="141.8" cy="492.9" r="0.95" fill="#2b8cc4" fill-opacity="0.8"/>
<circle cx="62.1" cy="546.5" r="0.95" fill="#e8679f" fill-opacity="0.8"/>
<circle cx="68.2" cy="499.8" r="0.95" fill="#e8679f" fill-opacity="0.8"/>
<circle cx="70.8" cy="531.1" r="0.95" fill="#e8679f" fill-opacity="0.8"/>
<circle cx="69.4" cy="513.1" r="0.95" fill="#e8679f" fill-opacity="0.8"/>
<circle cx="118.8" cy="539.3" r="0.95" fill="#2b8cc4" fill-opacity="0.8"/>
<circle cx="109.9" cy="537.3" r="0.95" fill="#2b8cc4" fill-opacity="0.8"/>
<circle cx="61.2" cy="512.2" r="0.95" fill="#e8679f" fill-opacity="0.8"/>
<circle cx="136.9" cy="503.4" r="0.95" fill="#2b8cc4" fill-opacity="0.8"/>
<circle cx="59.4" cy="555.0" r="0.95" fill="#e8679f" fill-opacity="0.8"/>
<circle cx="50.1" cy="564.1" r="0.95" fill="#e8679f" fill-opacity="0.8"/>
<circle cx="61.3" cy="526.8" r="0.95" fill="#e8679f" fill-opacity="0.8"/>
<circle cx="65.6" cy="525.7" r="0.95" fill="#e8679f" fill-opacity="0.8"/>
<circle cx="69.3" cy="549.8" r="0.95" fill="#e8679f" fill-opacity="0.8"/>
<circle cx="54.0" cy="561.1" r="0.95" fill="#e8679f" fill-opacity="0.8"/>
<circle cx="77.6" cy="507.8" r="0.95" fill="#e8679f" fill-opacity="0.8"/>
<circle cx="63.2" cy="546.7" r="0.95" fill="#e8679f" fill-opacity="0.8"/>
<circle cx="110.6" cy="505.2" r="0.95" fill="#2b8cc4" fill-opacity="0.8"/>
<circle cx="122.5" cy="524.0" r="0.95" fill="#2b8cc4" fill-opacity="0.8"/>
<circle cx="99.8" cy="522.4" r="0.95" fill="#2b8cc4" fill-opacity="0.8"/>
<circle cx="81.7" cy="518.4" r="0.95" fill="#a8202a" fill-opacity="0.8"/>
<circle cx="62.9" cy="543.7" r="0.95" fill="#e8679f" fill-opacity="0.8"/>
<circle cx="89.1" cy="547.6" r="0.95" fill="#a8202a" fill-opacity="0.8"/>
<circle cx="50.2" cy="562.6" r="0.95" fill="#e8679f" fill-opacity="0.8"/>
<circle cx="147.9" cy="479.4" r="0.95" fill="#2b8cc4" fill-opacity="0.8"/>
<circle cx="52.8" cy="561.3" r="0.95" fill="#e8679f" fill-opacity="0.8"/>
<circle cx="51.9" cy="556.5" r="0.95" fill="#e8679f" fill-opacity="0.8"/>
<circle cx="62.5" cy="532.1" r="0.95" fill="#e8679f" fill-opacity="0.8"/>
<circle cx="68.3" cy="531.2" r="0.95" fill="#e8679f" fill-opacity="0.8"/>
<circle cx="123.7" cy="528.8" r="0.95" fill="#2b8cc4" fill-opacity="0.8"/>
<circle cx="67.4" cy="544.8" r="0.95" fill="#e8679f" fill-opacity="0.8"/>
<circle cx="54.7" cy="554.2" r="0.95" fill="#e8679f" fill-opacity="0.8"/>
<circle cx="87.7" cy="527.1" r="0.95" fill="#a8202a" fill-opacity="0.8"/>
<circle cx="145.3" cy="503.5" r="0.95" fill="#2b8cc4" fill-opacity="0.8"/>
<circle cx="69.6" cy="512.7" r="0.95" fill="#e8679f" fill-opacity="0.8"/>
<circle cx="119.3" cy="519.5" r="0.95" fill="#2b8cc4" fill-opacity="0.8"/>
<circle cx="69.0" cy="542.7" r="0.95" fill="#e8679f" fill-opacity="0.8"/>
<circle cx="72.1" cy="496.9" r="0.95" fill="#e8679f" fill-opacity="0.8"/>
<circle cx="81.2" cy="517.1" r="0.95" fill="#a8202a" fill-opacity="0.8"/>
<circle cx="64.2" cy="547.3" r="0.95" fill="#e8679f" fill-opacity="0.8"/>
<circle cx="130.2" cy="487.3" r="0.95" fill="#2b8cc4" fill-opacity="0.8"/>
<circle cx="55.2" cy="547.1" r="0.95" fill="#e8679f" fill-opacity="0.8"/>
<circle cx="65.7" cy="541.0" r="0.95" fill="#e8679f" fill-opacity="0.8"/>
<circle cx="60.2" cy="556.7" r="0.95" fill="#e8679f" fill-opacity="0.8"/>
<circle cx="72.9" cy="550.7" r="0.95" fill="#e8679f" fill-opacity="0.8"/>
<circle cx="128.1" cy="526.0" r="0.95" fill="#2b8cc4" fill-opacity="0.8"/>
<circle cx="83.5" cy="515.2" r="0.95" fill="#a8202a" fill-opacity="0.8"/>
<circle cx="126.0" cy="537.5" r="0.95" fill="#2b8cc4" fill-opacity="0.8"/>
<circle cx="56.7" cy="553.0" r="0.95" fill="#e8679f" fill-opacity="0.8"/>
<circle cx="51.4" cy="559.6" r="0.95" fill="#e8679f" fill-opacity="0.8"/>
<circle cx="54.0" cy="550.9" r="0.95" fill="#e8679f" fill-opacity="0.8"/>
<circle cx="63.3" cy="499.9" r="0.95" fill="#e8679f" fill-opacity="0.8"/>
<circle cx="71.3" cy="541.2" r="0.95" fill="#e8679f" fill-opacity="0.8"/>
<circle cx="60.9" cy="544.5" r="0.95" fill="#e8679f" fill-opacity="0.8"/>
<circle cx="63.6" cy="483.1" r="0.95" fill="#e8679f" fill-opacity="0.8"/>
<circle cx="115.9" cy="518.0" r="0.95" fill="#2b8cc4" fill-opacity="0.8"/>
<circle cx="64.1" cy="506.1" r="0.95" fill="#e8679f" fill-opacity="0.8"/>
<circle cx="93.5" cy="516.1" r="0.95" fill="#a8202a" fill-opacity="0.8"/>
<circle cx="57.5" cy="541.3" r="0.95" fill="#e8679f" fill-opacity="0.8"/>
<circle cx="66.6" cy="550.6" r="0.95" fill="#e8679f" fill-opacity="0.8"/>
<circle cx="143.5" cy="535.3" r="0.95" fill="#2b8cc4" fill-opacity="0.8"/>
<circle cx="86.5" cy="526.0" r="0.95" fill="#a8202a" fill-opacity="0.8"/>
<circle cx="62.5" cy="518.3" r="0.95" fill="#e8679f" fill-opacity="0.8"/>
<circle cx="57.2" cy="546.8" r="0.95" fill="#e8679f" fill-opacity="0.8"/>
<circle cx="65.3" cy="548.9" r="0.95" fill="#e8679f" fill-opacity="0.8"/>
<circle cx="49.2" cy="564.1" r="0.95" fill="#e8679f" fill-opacity="0.8"/>
<circle cx="142.8" cy="526.1" r="0.95" fill="#2b8cc4" fill-opacity="0.8"/>
<circle cx="53.8" cy="562.0" r="0.95" fill="#e8679f" fill-opacity="0.8"/>
<circle cx="69.1" cy="531.6" r="0.95" fill="#e8679f" fill-opacity="0.8"/>
<circle cx="139.7" cy="526.1" r="0.95" fill="#2b8cc4" fill-opacity="0.8"/>
<circle cx="63.5" cy="539.4" r="0.95" fill="#e8679f" fill-opacity="0.8"/>
<circle cx="63.1" cy="547.5" r="0.95" fill="#e8679f" fill-opacity="0.8"/>
<circle cx="58.5" cy="556.4" r="0.95" fill="#e8679f" fill-opacity="0.8"/>
<circle cx="172.4" cy="484.6" r="0.95" fill="#2b8cc4" fill-opacity="0.8"/>
<circle cx="148.5" cy="525.9" r="0.95" fill="#2b8cc4" fill-opacity="0.8"/>
<circle cx="141.3" cy="528.5" r="0.95" fill="#2b8cc4" fill-opacity="0.8"/>
<circle cx="65.6" cy="532.8" r="0.95" fill="#e8679f" fill-opacity="0.8"/>
<circle cx="85.9" cy="537.9" r="0.95" fill="#a8202a" fill-opacity="0.8"/>
<circle cx="58.2" cy="542.7" r="0.95" fill="#e8679f" fill-opacity="0.8"/>
<circle cx="113.2" cy="490.3" r="0.95" fill="#2b8cc4" fill-opacity="0.8"/>
<circle cx="55.7" cy="557.9" r="0.95" fill="#e8679f" fill-opacity="0.8"/>
<circle cx="57.8" cy="538.0" r="0.95" fill="#e8679f" fill-opacity="0.8"/>
<circle cx="62.4" cy="535.7" r="0.95" fill="#e8679f" fill-opacity="0.8"/>
<circle cx="141.4" cy="537.7" r="0.95" fill="#2b8cc4" fill-opacity="0.8"/>
<circle cx="89.7" cy="545.7" r="0.95" fill="#a8202a" fill-opacity="0.8"/>
<circle cx="111.4" cy="522.5" r="0.95" fill="#2b8cc4" fill-opacity="0.8"/>
<circle cx="86.9" cy="527.3" r="0.95" fill="#a8202a" fill-opacity="0.8"/>
<circle cx="54.6" cy="554.2" r="0.95" fill="#e8679f" fill-opacity="0.8"/>
<circle cx="141.1" cy="518.3" r="0.95" fill="#2b8cc4" fill-opacity="0.8"/>
<circle cx="62.2" cy="545.2" r="0.95" fill="#e8679f" fill-opacity="0.8"/>
<circle cx="56.6" cy="547.3" r="0.95" fill="#e8679f" fill-opacity="0.8"/>
<circle cx="56.3" cy="543.4" r="0.95" fill="#e8679f" fill-opacity="0.8"/>
<circle cx="73.6" cy="496.9" r="0.95" fill="#e8679f" fill-opacity="0.8"/>
<circle cx="61.6" cy="553.4" r="0.95" fill="#e8679f" fill-opacity="0.8"/>
<circle cx="86.7" cy="520.7" r="0.95" fill="#a8202a" fill-opacity="0.8"/>
<circle cx="59.7" cy="523.2" r="0.95" fill="#e8679f" fill-opacity="0.8"/>
<circle cx="68.5" cy="535.8" r="0.95" fill="#e8679f" fill-opacity="0.8"/>
<circle cx="53.1" cy="560.5" r="0.95" fill="#e8679f" fill-opacity="0.8"/>
<circle cx="119.5" cy="543.7" r="0.95" fill="#2b8cc4" fill-opacity="0.8"/>
<circle cx="50.5" cy="562.1" r="0.95" fill="#e8679f" fill-opacity="0.8"/>
<circle cx="135.5" cy="469.1" r="0.95" fill="#2b8cc4" fill-opacity="0.8"/>
<circle cx="123.3" cy="527.7" r="0.95" fill="#2b8cc4" fill-opacity="0.8"/>
<circle cx="70.1" cy="544.7" r="0.95" fill="#e8679f" fill-opacity="0.8"/>
<circle cx="55.8" cy="553.5" r="0.95" fill="#e8679f" fill-opacity="0.8"/>
<circle cx="86.4" cy="513.6" r="0.95" fill="#a8202a" fill-opacity="0.8"/>
<circle cx="59.8" cy="550.9" r="0.95" fill="#e8679f" fill-opacity="0.8"/>
<circle cx="86.3" cy="539.7" r="0.95" fill="#a8202a" fill-opacity="0.8"/>
<circle cx="62.2" cy="490.2" r="0.95" fill="#e8679f" fill-opacity="0.8"/>
<circle cx="57.1" cy="556.7" r="0.95" fill="#e8679f" fill-opacity="0.8"/>
<circle cx="84.8" cy="542.3" r="0.95" fill="#a8202a" fill-opacity="0.8"/>
<circle cx="85.6" cy="530.9" r="0.95" fill="#a8202a" fill-opacity="0.8"/>
<circle cx="115.2" cy="533.0" r="0.95" fill="#2b8cc4" fill-opacity="0.8"/>
<circle cx="145.8" cy="513.8" r="0.95" fill="#2b8cc4" fill-opacity="0.8"/>
<circle cx="92.3" cy="544.6" r="0.95" fill="#a8202a" fill-opacity="0.8"/>
<circle cx="63.3" cy="540.3" r="0.95" fill="#e8679f" fill-opacity="0.8"/>
<circle cx="64.7" cy="543.9" r="0.95" fill="#e8679f" fill-opacity="0.8"/>
<circle cx="55.2" cy="545.8" r="0.95" fill="#e8679f" fill-opacity="0.8"/>
<circle cx="132.8" cy="537.8" r="0.95" fill="#2b8cc4" fill-opacity="0.8"/>
<circle cx="66.1" cy="470.6" r="0.95" fill="#e8679f" fill-opacity="0.8"/>
<circle cx="130.0" cy="540.3" r="0.95" fill="#2b8cc4" fill-opacity="0.8"/>
<circle cx="70.6" cy="537.7" r="0.95" fill="#e8679f" fill-opacity="0.8"/>
<circle cx="136.9" cy="519.6" r="0.95" fill="#2b8cc4" fill-opacity="0.8"/>
<circle cx="70.0" cy="511.1" r="0.95" fill="#e8679f" fill-opacity="0.8"/>
<circle cx="119.3" cy="531.9" r="0.95" fill="#2b8cc4" fill-opacity="0.8"/>
<circle cx="55.4" cy="538.8" r="0.95" fill="#e8679f" fill-opacity="0.8"/>
<circle cx="120.9" cy="535.4" r="0.95" fill="#2b8cc4" fill-opacity="0.8"/>
<circle cx="63.8" cy="543.1" r="0.95" fill="#e8679f" fill-opacity="0.8"/>
<circle cx="65.2" cy="514.9" r="0.95" fill="#e8679f" fill-opacity="0.8"/>
<circle cx="59.8" cy="507.6" r="0.95" fill="#e8679f" fill-opacity="0.8"/>
<circle cx="83.2" cy="526.6" r="0.95" fill="#a8202a" fill-opacity="0.8"/>
<circle cx="87.6" cy="533.2" r="0.95" fill="#a8202a" fill-opacity="0.8"/>
<circle cx="61.4" cy="548.7" r="0.95" fill="#e8679f" fill-opacity="0.8"/>
<circle cx="64.7" cy="503.3" r="0.95" fill="#e8679f" fill-opacity="0.8"/>
<circle cx="135.2" cy="511.1" r="0.95" fill="#2b8cc4" fill-opacity="0.8"/>
<circle cx="62.5" cy="508.7" r="0.95" fill="#e8679f" fill-opacity="0.8"/>
<circle cx="83.6" cy="525.0" r="0.95" fill="#a8202a" fill-opacity="0.8"/>
<circle cx="67.8" cy="489.0" r="0.95" fill="#e8679f" fill-opacity="0.8"/>
<circle cx="65.5" cy="535.1" r="0.95" fill="#e8679f" fill-opacity="0.8"/>
<circle cx="58.3" cy="526.4" r="0.95" fill="#e8679f" fill-opacity="0.8"/>
<circle cx="112.3" cy="522.9" r="0.95" fill="#2b8cc4" fill-opacity="0.8"/>
<circle cx="74.4" cy="517.1" r="0.95" fill="#e8679f" fill-opacity="0.8"/>
<circle cx="80.8" cy="509.9" r="0.95" fill="#a8202a" fill-opacity="0.8"/>
<circle cx="65.1" cy="549.3" r="0.95" fill="#e8679f" fill-opacity="0.8"/>
<circle cx="71.8" cy="509.3" r="0.95" fill="#e8679f" fill-opacity="0.8"/>
<circle cx="56.8" cy="545.9" r="0.95" fill="#e8679f" fill-opacity="0.8"/>
<circle cx="66.4" cy="528.9" r="0.95" fill="#e8679f" fill-opacity="0.8"/>
<circle cx="116.1" cy="545.1" r="0.95" fill="#2b8cc4" fill-opacity="0.8"/>
<circle cx="68.2" cy="519.4" r="0.95" fill="#e8679f" fill-opacity="0.8"/>
<circle cx="57.1" cy="544.1" r="0.95" fill="#e8679f" fill-opacity="0.8"/>
<circle cx="60.1" cy="535.2" r="0.95" fill="#e8679f" fill-opacity="0.8"/>
<circle cx="65.2" cy="515.5" r="0.95" fill="#e8679f" fill-opacity="0.8"/>
<circle cx="65.5" cy="553.9" r="0.95" fill="#e8679f" fill-opacity="0.8"/>
<circle cx="66.7" cy="530.3" r="0.95" fill="#e8679f" fill-opacity="0.8"/>
<circle cx="145.7" cy="534.6" r="0.95" fill="#2b8cc4" fill-opacity="0.8"/>
<circle cx="130.3" cy="499.7" r="0.95" fill="#2b8cc4" fill-opacity="0.8"/>
<circle cx="50.9" cy="556.9" r="0.95" fill="#e8679f" fill-opacity="0.8"/>
<circle cx="153.8" cy="445.6" r="0.95" fill="#2b8cc4" fill-opacity="0.8"/>
<circle cx="136.6" cy="512.1" r="0.95" fill="#2b8cc4" fill-opacity="0.8"/>
<circle cx="53.0" cy="537.1" r="0.95" fill="#e8679f" fill-opacity="0.8"/>
<circle cx="124.4" cy="467.6" r="0.95" fill="#2b8cc4" fill-opacity="0.8"/>
<circle cx="92.2" cy="553.2" r="0.95" fill="#a8202a" fill-opacity="0.8"/>
<circle cx="64.6" cy="537.4" r="0.95" fill="#e8679f" fill-opacity="0.8"/>
<circle cx="63.3" cy="558.2" r="0.95" fill="#e8679f" fill-opacity="0.8"/>
<circle cx="61.1" cy="531.5" r="0.95" fill="#e8679f" fill-opacity="0.8"/>
<circle cx="60.0" cy="557.1" r="0.95" fill="#e8679f" fill-opacity="0.8"/>
<circle cx="128.5" cy="538.1" r="0.95" fill="#2b8cc4" fill-opacity="0.8"/>
<circle cx="49.1" cy="564.5" r="0.95" fill="#e8679f" fill-opacity="0.8"/>
<circle cx="59.2" cy="538.1" r="0.95" fill="#e8679f" fill-opacity="0.8"/>
<circle cx="59.9" cy="534.7" r="0.95" fill="#e8679f" fill-opacity="0.8"/>
<circle cx="118.6" cy="512.7" r="0.95" fill="#2b8cc4" fill-opacity="0.8"/>
<circle cx="74.0" cy="534.3" r="0.95" fill="#e8679f" fill-opacity="0.8"/>
<circle cx="60.7" cy="558.5" r="0.95" fill="#e8679f" fill-opacity="0.8"/>
<circle cx="65.1" cy="550.0" r="0.95" fill="#e8679f" fill-opacity="0.8"/>
<circle cx="88.5" cy="541.5" r="0.95" fill="#a8202a" fill-opacity="0.8"/>
<circle cx="60.8" cy="527.1" r="0.95" fill="#e8679f" fill-opacity="0.8"/>
<circle cx="61.3" cy="518.2" r="0.95" fill="#e8679f" fill-opacity="0.8"/>
<circle cx="63.3" cy="549.9" r="0.95" fill="#e8679f" fill-opacity="0.8"/>
<circle cx="94.3" cy="537.1" r="0.95" fill="#a8202a" fill-opacity="0.8"/>
<circle cx="73.4" cy="550.5" r="0.95" fill="#e8679f" fill-opacity="0.8"/>
<circle cx="68.1" cy="542.3" r="0.95" fill="#e8679f" fill-opacity="0.8"/>
<circle cx="92.8" cy="549.7" r="0.95" fill="#a8202a" fill-opacity="0.8"/>
<circle cx="66.9" cy="548.4" r="0.95" fill="#e8679f" fill-opacity="0.8"/>
<circle cx="70.7" cy="507.3" r="0.95" fill="#e8679f" fill-opacity="0.8"/>
<circle cx="66.8" cy="511.4" r="0.95" fill="#e8679f" fill-opacity="0.8"/>
<circle cx="70.5" cy="500.5" r="0.95" fill="#e8679f" fill-opacity="0.8"/>
<circle cx="86.8" cy="546.3" r="0.95" fill="#a8202a" fill-opacity="0.8"/>
<circle cx="67.5" cy="513.1" r="0.95" fill="#e8679f" fill-opacity="0.8"/>
<circle cx="81.2" cy="532.1" r="0.95" fill="#a8202a" fill-opacity="0.8"/>
<circle cx="120.4" cy="511.4" r="0.95" fill="#2b8cc4" fill-opacity="0.8"/>
<circle cx="67.1" cy="515.0" r="0.95" fill="#e8679f" fill-opacity="0.8"/>
<circle cx="91.3" cy="529.7" r="0.95" fill="#a8202a" fill-opacity="0.8"/>
<circle cx="156.5" cy="524.7" r="0.95" fill="#2b8cc4" fill-opacity="0.8"/>
<circle cx="92.5" cy="538.3" r="0.95" fill="#a8202a" fill-opacity="0.8"/>
<circle cx="65.0" cy="528.4" r="0.95" fill="#e8679f" fill-opacity="0.8"/>
<circle cx="140.1" cy="530.9" r="0.95" fill="#2b8cc4" fill-opacity="0.8"/>
<circle cx="51.4" cy="561.3" r="0.95" fill="#e8679f" fill-opacity="0.8"/>
<circle cx="118.7" cy="513.6" r="0.95" fill="#2b8cc4" fill-opacity="0.8"/>
<circle cx="59.8" cy="535.8" r="0.95" fill="#e8679f" fill-opacity="0.8"/>
<circle cx="61.9" cy="536.9" r="0.95" fill="#e8679f" fill-opacity="0.8"/>
<circle cx="65.3" cy="513.2" r="0.95" fill="#e8679f" fill-opacity="0.8"/>
<circle cx="82.8" cy="522.5" r="0.95" fill="#a8202a" fill-opacity="0.8"/>
<circle cx="136.8" cy="512.9" r="0.95" fill="#2b8cc4" fill-opacity="0.8"/>
<circle cx="55.7" cy="541.6" r="0.95" fill="#e8679f" fill-opacity="0.8"/>
<circle cx="53.3" cy="550.3" r="0.95" fill="#e8679f" fill-opacity="0.8"/>
<circle cx="62.2" cy="544.2" r="0.95" fill="#e8679f" fill-opacity="0.8"/>
<circle cx="68.4" cy="525.0" r="0.95" fill="#e8679f" fill-opacity="0.8"/>
<circle cx="127.6" cy="528.4" r="0.95" fill="#2b8cc4" fill-opacity="0.8"/>
<circle cx="57.0" cy="539.8" r="0.95" fill="#e8679f" fill-opacity="0.8"/>
<circle cx="122.3" cy="527.2" r="0.95" fill="#2b8cc4" fill-opacity="0.8"/>
<circle cx="124.0" cy="528.8" r="0.95" fill="#2b8cc4" fill-opacity="0.8"/>
<circle cx="58.1" cy="551.1" r="0.95" fill="#e8679f" fill-opacity="0.8"/>
<circle cx="53.3" cy="560.1" r="0.95" fill="#e8679f" fill-opacity="0.8"/>
<circle cx="68.9" cy="528.0" r="0.95" fill="#e8679f" fill-opacity="0.8"/>
<circle cx="62.6" cy="546.0" r="0.95" fill="#e8679f" fill-opacity="0.8"/>
<circle cx="90.8" cy="507.7" r="0.95" fill="#a8202a" fill-opacity="0.8"/>
<circle cx="108.7" cy="525.6" r="0.95" fill="#2b8cc4" fill-opacity="0.8"/>
<circle cx="66.0" cy="548.7" r="0.95" fill="#e8679f" fill-opacity="0.8"/>
<circle cx="59.2" cy="545.6" r="0.95" fill="#e8679f" fill-opacity="0.8"/>
<circle cx="66.4" cy="526.1" r="0.95" fill="#e8679f" fill-opacity="0.8"/>
<circle cx="57.6" cy="516.4" r="0.95" fill="#e8679f" fill-opacity="0.8"/>
<circle cx="135.3" cy="512.9" r="0.95" fill="#2b8cc4" fill-opacity="0.8"/>
<circle cx="66.0" cy="533.8" r="0.95" fill="#e8679f" fill-opacity="0.8"/>
<circle cx="146.5" cy="530.5" r="0.95" fill="#2b8cc4" fill-opacity="0.8"/>
<circle cx="134.9" cy="518.8" r="0.95" fill="#2b8cc4" fill-opacity="0.8"/>
<circle cx="68.6" cy="537.8" r="0.95" fill="#e8679f" fill-opacity="0.8"/>
<circle cx="67.7" cy="532.7" r="0.95" fill="#e8679f" fill-opacity="0.8"/>
<circle cx="69.7" cy="516.5" r="0.95" fill="#e8679f" fill-opacity="0.8"/>
<circle cx="76.2" cy="534.6" r="0.95" fill="#e8679f" fill-opacity="0.8"/>
<circle cx="62.4" cy="551.4" r="0.95" fill="#e8679f" fill-opacity="0.8"/>
<circle cx="134.7" cy="528.6" r="0.95" fill="#2b8cc4" fill-opacity="0.8"/>
<circle cx="128.7" cy="525.1" r="0.95" fill="#2b8cc4" fill-opacity="0.8"/>
<circle cx="66.1" cy="556.1" r="0.95" fill="#e8679f" fill-opacity="0.8"/>
<circle cx="58.7" cy="557.7" r="0.95" fill="#e8679f" fill-opacity="0.8"/>
<circle cx="62.0" cy="548.0" r="0.95" fill="#e8679f" fill-opacity="0.8"/>
<circle cx="79.2" cy="523.5" r="0.95" fill="#e8679f" fill-opacity="0.8"/>
<circle cx="70.4" cy="547.6" r="0.95" fill="#e8679f" fill-opacity="0.8"/>
<circle cx="86.6" cy="527.3" r="0.95" fill="#a8202a" fill-opacity="0.8"/>
<circle cx="62.9" cy="547.0" r="0.95" fill="#e8679f" fill-opacity="0.8"/>
<circle cx="109.2" cy="519.4" r="0.95" fill="#2b8cc4" fill-opacity="0.8"/>
<circle cx="61.0" cy="534.5" r="0.95" fill="#e8679f" fill-opacity="0.8"/>
<circle cx="144.4" cy="445.6" r="0.95" fill="#2b8cc4" fill-opacity="0.8"/>
<circle cx="60.4" cy="558.4" r="0.95" fill="#e8679f" fill-opacity="0.8"/>
<circle cx="131.9" cy="515.1" r="0.95" fill="#2b8cc4" fill-opacity="0.8"/>
<circle cx="93.4" cy="520.0" r="0.95" fill="#a8202a" fill-opacity="0.8"/>
<circle cx="72.0" cy="528.5" r="0.95" fill="#e8679f" fill-opacity="0.8"/>
<circle cx="68.6" cy="551.3" r="0.95" fill="#e8679f" fill-opacity="0.8"/>
<circle cx="118.6" cy="525.0" r="0.95" fill="#2b8cc4" fill-opacity="0.8"/>
<circle cx="70.0" cy="543.0" r="0.95" fill="#e8679f" fill-opacity="0.8"/>
<circle cx="68.1" cy="523.7" r="0.95" fill="#e8679f" fill-opacity="0.8"/>
<circle cx="78.1" cy="531.0" r="0.95" fill="#a8202a" fill-opacity="0.8"/>
<circle cx="64.6" cy="542.1" r="0.95" fill="#e8679f" fill-opacity="0.8"/>
<circle cx="60.4" cy="559.3" r="0.95" fill="#e8679f" fill-opacity="0.8"/>
<circle cx="73.5" cy="518.5" r="0.95" fill="#e8679f" fill-opacity="0.8"/>
<circle cx="63.9" cy="487.7" r="0.95" fill="#e8679f" fill-opacity="0.8"/>
<circle cx="75.3" cy="547.7" r="0.95" fill="#e8679f" fill-opacity="0.8"/>
<circle cx="63.3" cy="546.1" r="0.95" fill="#e8679f" fill-opacity="0.8"/>
<circle cx="64.8" cy="531.3" r="0.95" fill="#e8679f" fill-opacity="0.8"/>
<circle cx="117.1" cy="539.7" r="0.95" fill="#2b8cc4" fill-opacity="0.8"/>
<circle cx="80.7" cy="534.9" r="0.95" fill="#a8202a" fill-opacity="0.8"/>
<circle cx="125.9" cy="529.7" r="0.95" fill="#2b8cc4" fill-opacity="0.8"/>
<circle cx="71.3" cy="489.8" r="0.95" fill="#e8679f" fill-opacity="0.8"/>
<circle cx="66.4" cy="551.6" r="0.95" fill="#e8679f" fill-opacity="0.8"/>
<circle cx="111.8" cy="506.5" r="0.95" fill="#2b8cc4" fill-opacity="0.8"/>
<circle cx="117.7" cy="505.7" r="0.95" fill="#2b8cc4" fill-opacity="0.8"/>
<circle cx="65.3" cy="505.5" r="0.95" fill="#e8679f" fill-opacity="0.8"/>
<circle cx="88.2" cy="508.0" r="0.95" fill="#a8202a" fill-opacity="0.8"/>
<circle cx="113.1" cy="518.8" r="0.95" fill="#2b8cc4" fill-opacity="0.8"/>
<circle cx="63.8" cy="539.9" r="0.95" fill="#e8679f" fill-opacity="0.8"/>
<circle cx="55.3" cy="553.4" r="0.95" fill="#e8679f" fill-opacity="0.8"/>
<circle cx="66.0" cy="518.3" r="0.95" fill="#e8679f" fill-opacity="0.8"/>
<circle cx="58.5" cy="556.8" r="0.95" fill="#e8679f" fill-opacity="0.8"/>
<circle cx="62.1" cy="532.6" r="0.95" fill="#e8679f" fill-opacity="0.8"/>
<circle cx="54.5" cy="552.9" r="0.95" fill="#e8679f" fill-opacity="0.8"/>
<circle cx="114.8" cy="522.6" r="0.95" fill="#2b8cc4" fill-opacity="0.8"/>
<circle cx="65.0" cy="532.3" r="0.95" fill="#e8679f" fill-opacity="0.8"/>
<circle cx="133.4" cy="533.6" r="0.95" fill="#2b8cc4" fill-opacity="0.8"/>
<circle cx="91.3" cy="530.6" r="0.95" fill="#a8202a" fill-opacity="0.8"/>
<circle cx="89.7" cy="531.4" r="0.95" fill="#a8202a" fill-opacity="0.8"/>
<circle cx="130.0" cy="503.7" r="0.95" fill="#2b8cc4" fill-opacity="0.8"/>
<circle cx="92.1" cy="524.3" r="0.95" fill="#a8202a" fill-opacity="0.8"/>
<circle cx="104.1" cy="535.6" r="0.95" fill="#2b8cc4" fill-opacity="0.8"/>
<circle cx="54.2" cy="539.8" r="0.95" fill="#e8679f" fill-opacity="0.8"/>
<circle cx="67.3" cy="545.6" r="0.95" fill="#e8679f" fill-opacity="0.8"/>
<circle cx="65.3" cy="515.2" r="0.95" fill="#e8679f" fill-opacity="0.8"/>
<circle cx="127.3" cy="516.1" r="0.95" fill="#2b8cc4" fill-opacity="0.8"/>
<circle cx="66.7" cy="525.4" r="0.95" fill="#e8679f" fill-opacity="0.8"/>
<circle cx="83.1" cy="520.4" r="0.95" fill="#a8202a" fill-opacity="0.8"/>
<circle cx="62.5" cy="516.6" r="0.95" fill="#e8679f" fill-opacity="0.8"/>
<circle cx="94.9" cy="502.4" r="0.95" fill="#a8202a" fill-opacity="0.8"/>
<circle cx="137.2" cy="529.6" r="0.95" fill="#2b8cc4" fill-opacity="0.8"/>
<circle cx="81.4" cy="515.7" r="0.95" fill="#a8202a" fill-opacity="0.8"/>
<circle cx="66.0" cy="515.5" r="0.95" fill="#e8679f" fill-opacity="0.8"/>
<circle cx="127.5" cy="524.0" r="0.95" fill="#2b8cc4" fill-opacity="0.8"/>
<circle cx="88.4" cy="510.8" r="0.95" fill="#a8202a" fill-opacity="0.8"/>
<circle cx="53.7" cy="554.3" r="0.95" fill="#e8679f" fill-opacity="0.8"/>
<circle cx="62.9" cy="534.5" r="0.95" fill="#e8679f" fill-opacity="0.8"/>
<circle cx="87.0" cy="534.7" r="0.95" fill="#a8202a" fill-opacity="0.8"/>
<circle cx="150.1" cy="524.2" r="0.95" fill="#2b8cc4" fill-opacity="0.8"/>
<circle cx="126.1" cy="520.4" r="0.95" fill="#2b8cc4" fill-opacity="0.8"/>
<circle cx="58.2" cy="495.0" r="0.95" fill="#e8679f" fill-opacity="0.8"/>
<circle cx="67.5" cy="525.9" r="0.95" fill="#e8679f" fill-opacity="0.8"/>
<circle cx="62.4" cy="557.0" r="0.95" fill="#e8679f" fill-opacity="0.8"/>
<circle cx="82.0" cy="519.2" r="0.95" fill="#a8202a" fill-opacity="0.8"/>
<circle cx="131.4" cy="509.9" r="0.95" fill="#2b8cc4" fill-opacity="0.8"/>
<circle cx="58.3" cy="544.6" r="0.95" fill="#e8679f" fill-opacity="0.8"/>
<circle cx="64.2" cy="537.3" r="0.95" fill="#e8679f" fill-opacity="0.8"/>
<circle cx="54.6" cy="495.1" r="0.95" fill="#e8679f" fill-opacity="0.8"/>
<circle cx="113.2" cy="518.9" r="0.95" fill="#2b8cc4" fill-opacity="0.8"/>
<circle cx="65.5" cy="527.5" r="0.95" fill="#e8679f" fill-opacity="0.8"/>
<circle cx="135.7" cy="531.1" r="0.95" fill="#2b8cc4" fill-opacity="0.8"/>
<circle cx="65.8" cy="526.7" r="0.95" fill="#e8679f" fill-opacity="0.8"/>
<circle cx="72.2" cy="500.9" r="0.95" fill="#e8679f" fill-opacity="0.8"/>
<circle cx="62.8" cy="531.3" r="0.95" fill="#e8679f" fill-opacity="0.8"/>
<circle cx="63.8" cy="543.2" r="0.95" fill="#e8679f" fill-opacity="0.8"/>
<circle cx="91.0" cy="557.0" r="0.95" fill="#a8202a" fill-opacity="0.8"/>
<circle cx="54.9" cy="550.3" r="0.95" fill="#e8679f" fill-opacity="0.8"/>
<circle cx="107.7" cy="514.7" r="0.95" fill="#2b8cc4" fill-opacity="0.8"/>
<circle cx="56.2" cy="558.7" r="0.95" fill="#e8679f" fill-opacity="0.8"/>
<circle cx="60.2" cy="516.4" r="0.95" fill="#e8679f" fill-opacity="0.8"/>
<circle cx="82.2" cy="522.5" r="0.95" fill="#a8202a" fill-opacity="0.8"/>
<circle cx="110.5" cy="518.3" r="0.95" fill="#2b8cc4" fill-opacity="0.8"/>
<circle cx="63.5" cy="538.2" r="0.95" fill="#e8679f" fill-opacity="0.8"/>
<circle cx="117.5" cy="524.8" r="0.95" fill="#2b8cc4" fill-opacity="0.8"/>
<circle cx="123.5" cy="491.0" r="0.95" fill="#2b8cc4" fill-opacity="0.8"/>
<circle cx="110.3" cy="540.2" r="0.95" fill="#2b8cc4" fill-opacity="0.8"/>
<circle cx="50.5" cy="563.3" r="0.95" fill="#e8679f" fill-opacity="0.8"/>
<circle cx="54.2" cy="556.9" r="0.95" fill="#e8679f" fill-opacity="0.8"/>
<circle cx="89.9" cy="524.4" r="0.95" fill="#a8202a" fill-opacity="0.8"/>
<circle cx="121.0" cy="516.8" r="0.95" fill="#2b8cc4" fill-opacity="0.8"/>
<circle cx="105.4" cy="513.7" r="0.95" fill="#2b8cc4" fill-opacity="0.8"/>
<circle cx="171.7" cy="485.2" r="0.95" fill="#2b8cc4" fill-opacity="0.8"/>
<circle cx="77.3" cy="526.5" r="0.95" fill="#e8679f" fill-opacity="0.8"/>
<circle cx="77.1" cy="524.2" r="0.95" fill="#a8202a" fill-opacity="0.8"/>
<circle cx="73.4" cy="514.4" r="0.95" fill="#e8679f" fill-opacity="0.8"/>
<circle cx="121.1" cy="526.4" r="0.95" fill="#2b8cc4" fill-opacity="0.8"/>
<circle cx="152.3" cy="468.5" r="0.95" fill="#2b8cc4" fill-opacity="0.8"/>
<circle cx="110.9" cy="515.9" r="0.95" fill="#2b8cc4" fill-opacity="0.8"/>
<circle cx="98.0" cy="535.8" r="0.95" fill="#a8202a" fill-opacity="0.8"/>
<circle cx="70.0" cy="551.2" r="0.95" fill="#e8679f" fill-opacity="0.8"/>
<circle cx="84.6" cy="560.8" r="0.95" fill="#a8202a" fill-opacity="0.8"/>
<circle cx="61.5" cy="537.1" r="0.95" fill="#e8679f" fill-opacity="0.8"/>
<circle cx="81.6" cy="535.5" r="0.95" fill="#a8202a" fill-opacity="0.8"/>
<circle cx="62.8" cy="532.4" r="0.95" fill="#e8679f" fill-opacity="0.8"/>
<circle cx="91.2" cy="514.3" r="0.95" fill="#a8202a" fill-opacity="0.8"/>
<circle cx="59.6" cy="518.3" r="0.95" fill="#e8679f" fill-opacity="0.8"/>
<circle cx="61.6" cy="542.1" r="0.95" fill="#e8679f" fill-opacity="0.8"/>
<circle cx="119.8" cy="516.9" r="0.95" fill="#2b8cc4" fill-opacity="0.8"/>
<circle cx="64.6" cy="554.8" r="0.95" fill="#e8679f" fill-opacity="0.8"/>
<circle cx="72.5" cy="536.6" r="0.95" fill="#e8679f" fill-opacity="0.8"/>
<circle cx="127.3" cy="478.5" r="0.95" fill="#2b8cc4" fill-opacity="0.8"/>
<circle cx="149.7" cy="519.4" r="0.95" fill="#2b8cc4" fill-opacity="0.8"/>
<circle cx="68.8" cy="547.1" r="0.95" fill="#e8679f" fill-opacity="0.8"/>
<circle cx="54.9" cy="553.2" r="0.95" fill="#e8679f" fill-opacity="0.8"/>
<circle cx="74.8" cy="527.5" r="0.95" fill="#e8679f" fill-opacity="0.8"/>
<circle cx="120.0" cy="506.9" r="0.95" fill="#2b8cc4" fill-opacity="0.8"/>
<circle cx="62.2" cy="530.5" r="0.95" fill="#e8679f" fill-opacity="0.8"/>
<circle cx="71.9" cy="522.2" r="0.95" fill="#e8679f" fill-opacity="0.8"/>
<circle cx="67.8" cy="549.4" r="0.95" fill="#e8679f" fill-opacity="0.8"/>
<circle cx="65.2" cy="534.7" r="0.95" fill="#e8679f" fill-opacity="0.8"/>
<circle cx="149.8" cy="515.8" r="0.95" fill="#2b8cc4" fill-opacity="0.8"/>
<circle cx="79.3" cy="536.7" r="0.95" fill="#e8679f" fill-opacity="0.8"/>
<circle cx="64.1" cy="552.4" r="0.95" fill="#e8679f" fill-opacity="0.8"/>
<circle cx="116.5" cy="516.6" r="0.95" fill="#2b8cc4" fill-opacity="0.8"/>
<circle cx="68.4" cy="522.6" r="0.95" fill="#e8679f" fill-opacity="0.8"/>
<circle cx="112.9" cy="521.8" r="0.95" fill="#2b8cc4" fill-opacity="0.8"/>
<circle cx="92.3" cy="546.8" r="0.95" fill="#a8202a" fill-opacity="0.8"/>
<circle cx="73.0" cy="539.5" r="0.95" fill="#e8679f" fill-opacity="0.8"/>
<circle cx="60.2" cy="518.4" r="0.95" fill="#e8679f" fill-opacity="0.8"/>
<circle cx="106.3" cy="512.4" r="0.95" fill="#2b8cc4" fill-opacity="0.8"/>
<circle cx="69.1" cy="514.0" r="0.95" fill="#e8679f" fill-opacity="0.8"/>
<circle cx="133.7" cy="518.5" r="0.95" fill="#2b8cc4" fill-opacity="0.8"/>
<circle cx="58.2" cy="555.4" r="0.95" fill="#e8679f" fill-opacity="0.8"/>
<circle cx="54.6" cy="559.7" r="0.95" fill="#e8679f" fill-opacity="0.8"/>
<circle cx="81.7" cy="557.0" r="0.95" fill="#a8202a" fill-opacity="0.8"/>
<circle cx="56.7" cy="544.1" r="0.95" fill="#e8679f" fill-opacity="0.8"/>
<circle cx="120.4" cy="526.6" r="0.95" fill="#2b8cc4" fill-opacity="0.8"/>
<circle cx="137.8" cy="500.2" r="0.95" fill="#2b8cc4" fill-opacity="0.8"/>
<circle cx="123.4" cy="517.6" r="0.95" fill="#2b8cc4" fill-opacity="0.8"/>
<circle cx="103.5" cy="523.4" r="0.95" fill="#2b8cc4" fill-opacity="0.8"/>
<circle cx="121.0" cy="520.7" r="0.95" fill="#2b8cc4" fill-opacity="0.8"/>
<circle cx="67.1" cy="541.4" r="0.95" fill="#e8679f" fill-opacity="0.8"/>
<circle cx="128.0" cy="521.5" r="0.95" fill="#2b8cc4" fill-opacity="0.8"/>
<circle cx="62.2" cy="555.6" r="0.95" fill="#e8679f" fill-opacity="0.8"/>
<circle cx="76.7" cy="520.3" r="0.95" fill="#e8679f" fill-opacity="0.8"/>
<circle cx="58.4" cy="555.6" r="0.95" fill="#e8679f" fill-opacity="0.8"/>
<circle cx="68.1" cy="503.5" r="0.95" fill="#e8679f" fill-opacity="0.8"/>
<circle cx="81.9" cy="530.6" r="0.95" fill="#a8202a" fill-opacity="0.8"/>
<circle cx="114.8" cy="515.6" r="0.95" fill="#2b8cc4" fill-opacity="0.8"/>
<circle cx="64.2" cy="511.0" r="0.95" fill="#e8679f" fill-opacity="0.8"/>
<circle cx="145.1" cy="506.3" r="0.95" fill="#2b8cc4" fill-opacity="0.8"/>
<circle cx="160.0" cy="511.9" r="0.95" fill="#2b8cc4" fill-opacity="0.8"/>
<circle cx="75.2" cy="545.6" r="0.95" fill="#e8679f" fill-opacity="0.8"/>
<circle cx="123.1" cy="526.5" r="0.95" fill="#2b8cc4" fill-opacity="0.8"/>
<circle cx="61.2" cy="550.3" r="0.95" fill="#e8679f" fill-opacity="0.8"/>
<circle cx="122.0" cy="463.2" r="0.95" fill="#2b8cc4" fill-opacity="0.8"/>
<circle cx="70.6" cy="539.4" r="0.95" fill="#e8679f" fill-opacity="0.8"/>
<circle cx="65.5" cy="550.3" r="0.95" fill="#e8679f" fill-opacity="0.8"/>
<circle cx="116.0" cy="532.1" r="0.95" fill="#2b8cc4" fill-opacity="0.8"/>
<circle cx="104.8" cy="517.5" r="0.95" fill="#2b8cc4" fill-opacity="0.8"/>
<circle cx="59.0" cy="533.3" r="0.95" fill="#e8679f" fill-opacity="0.8"/>
<circle cx="74.8" cy="521.0" r="0.95" fill="#e8679f" fill-opacity="0.8"/>
<circle cx="61.2" cy="530.2" r="0.95" fill="#e8679f" fill-opacity="0.8"/>
<circle cx="61.3" cy="545.0" r="0.95" fill="#e8679f" fill-opacity="0.8"/>
<circle cx="78.2" cy="539.4" r="0.95" fill="#a8202a" fill-opacity="0.8"/>
<circle cx="78.0" cy="540.4" r="0.95" fill="#a8202a" fill-opacity="0.8"/>
<circle cx="69.2" cy="519.0" r="0.95" fill="#e8679f" fill-opacity="0.8"/>
<circle cx="87.4" cy="548.2" r="0.95" fill="#a8202a" fill-opacity="0.8"/>
<circle cx="50.6" cy="562.6" r="0.95" fill="#e8679f" fill-opacity="0.8"/>
<circle cx="125.1" cy="525.7" r="0.95" fill="#2b8cc4" fill-opacity="0.8"/>
<circle cx="129.2" cy="521.4" r="0.95" fill="#2b8cc4" fill-opacity="0.8"/>
<circle cx="73.6" cy="527.5" r="0.95" fill="#e8679f" fill-opacity="0.8"/>
<circle cx="63.9" cy="503.8" r="0.95" fill="#e8679f" fill-opacity="0.8"/>
<circle cx="81.3" cy="512.5" r="0.95" fill="#e8679f" fill-opacity="0.8"/>
<circle cx="65.1" cy="553.9" r="0.95" fill="#e8679f" fill-opacity="0.8"/>
<circle cx="76.1" cy="491.4" r="0.95" fill="#e8679f" fill-opacity="0.8"/>
<circle cx="60.4" cy="553.8" r="0.95" fill="#e8679f" fill-opacity="0.8"/>
<circle cx="136.1" cy="525.1" r="0.95" fill="#2b8cc4" fill-opacity="0.8"/>
<circle cx="94.8" cy="537.5" r="0.95" fill="#a8202a" fill-opacity="0.8"/>
<circle cx="52.0" cy="558.9" r="0.95" fill="#e8679f" fill-opacity="0.8"/>
<circle cx="67.4" cy="508.3" r="0.95" fill="#e8679f" fill-opacity="0.8"/>
<circle cx="86.9" cy="531.8" r="0.95" fill="#a8202a" fill-opacity="0.8"/>
<circle cx="112.4" cy="533.7" r="0.95" fill="#2b8cc4" fill-opacity="0.8"/>
<circle cx="125.5" cy="498.4" r="0.95" fill="#2b8cc4" fill-opacity="0.8"/>
<circle cx="56.3" cy="542.2" r="0.95" fill="#e8679f" fill-opacity="0.8"/>
<circle cx="59.7" cy="502.8" r="0.95" fill="#e8679f" fill-opacity="0.8"/>
<circle cx="63.8" cy="511.0" r="0.95" fill="#e8679f" fill-opacity="0.8"/>
<circle cx="133.7" cy="521.9" r="0.95" fill="#2b8cc4" fill-opacity="0.8"/>
<circle cx="121.9" cy="491.5" r="0.95" fill="#2b8cc4" fill-opacity="0.8"/>
<circle cx="60.5" cy="557.8" r="0.95" fill="#e8679f" fill-opacity="0.8"/>
<circle cx="63.8" cy="554.9" r="0.95" fill="#e8679f" fill-opacity="0.8"/>
<circle cx="97.0" cy="549.2" r="0.95" fill="#a8202a" fill-opacity="0.8"/>
<circle cx="82.1" cy="542.0" r="0.95" fill="#a8202a" fill-opacity="0.8"/>
<circle cx="129.9" cy="530.8" r="0.95" fill="#2b8cc4" fill-opacity="0.8"/>
<circle cx="89.6" cy="558.4" r="0.95" fill="#a8202a" fill-opacity="0.8"/>
<circle cx="57.3" cy="517.7" r="0.95" fill="#e8679f" fill-opacity="0.8"/>
<circle cx="64.2" cy="520.1" r="0.95" fill="#e8679f" fill-opacity="0.8"/>
<circle cx="67.1" cy="481.9" r="0.95" fill="#e8679f" fill-opacity="0.8"/>
<circle cx="65.0" cy="532.9" r="0.95" fill="#e8679f" fill-opacity="0.8"/>
<circle cx="62.6" cy="554.8" r="0.95" fill="#e8679f" fill-opacity="0.8"/>
<circle cx="55.2" cy="560.9" r="0.95" fill="#e8679f" fill-opacity="0.8"/>
<circle cx="60.8" cy="548.7" r="0.95" fill="#e8679f" fill-opacity="0.8"/>
<circle cx="84.9" cy="534.9" r="0.95" fill="#a8202a" fill-opacity="0.8"/>
<circle cx="63.5" cy="488.8" r="0.95" fill="#e8679f" fill-opacity="0.8"/>
<circle cx="68.0" cy="543.0" r="0.95" fill="#e8679f" fill-opacity="0.8"/>
<circle cx="93.4" cy="514.6" r="0.95" fill="#a8202a" fill-opacity="0.8"/>
<circle cx="60.2" cy="527.2" r="0.95" fill="#e8679f" fill-opacity="0.8"/>
<circle cx="60.4" cy="519.1" r="0.95" fill="#e8679f" fill-opacity="0.8"/>
<circle cx="63.2" cy="554.1" r="0.95" fill="#e8679f" fill-opacity="0.8"/>
<circle cx="88.8" cy="564.0" r="0.95" fill="#a8202a" fill-opacity="0.8"/>
<circle cx="58.8" cy="554.0" r="0.95" fill="#e8679f" fill-opacity="0.8"/>
<circle cx="61.3" cy="520.3" r="0.95" fill="#e8679f" fill-opacity="0.8"/>
<circle cx="65.5" cy="537.7" r="0.95" fill="#e8679f" fill-opacity="0.8"/>
<circle cx="92.9" cy="533.6" r="0.95" fill="#a8202a" fill-opacity="0.8"/>
<circle cx="53.1" cy="556.7" r="0.95" fill="#e8679f" fill-opacity="0.8"/>
<circle cx="67.2" cy="505.3" r="0.95" fill="#e8679f" fill-opacity="0.8"/>
<circle cx="141.6" cy="496.4" r="0.95" fill="#2b8cc4" fill-opacity="0.8"/>
<circle cx="63.1" cy="547.1" r="0.95" fill="#e8679f" fill-opacity="0.8"/>
<circle cx="50.2" cy="561.5" r="0.95" fill="#e8679f" fill-opacity="0.8"/>
<circle cx="71.4" cy="522.5" r="0.95" fill="#e8679f" fill-opacity="0.8"/>
<circle cx="66.9" cy="556.3" r="0.95" fill="#e8679f" fill-opacity="0.8"/>
<circle cx="61.1" cy="547.9" r="0.95" fill="#e8679f" fill-opacity="0.8"/>
<circle cx="65.4" cy="519.8" r="0.95" fill="#e8679f" fill-opacity="0.8"/>
<circle cx="60.6" cy="517.2" r="0.95" fill="#e8679f" fill-opacity="0.8"/>
<circle cx="93.4" cy="550.0" r="0.95" fill="#a8202a" fill-opacity="0.8"/>
<circle cx="125.6" cy="526.1" r="0.95" fill="#2b8cc4" fill-opacity="0.8"/>
<circle cx="62.9" cy="490.6" r="0.95" fill="#e8679f" fill-opacity="0.8"/>
<circle cx="119.4" cy="510.4" r="0.95" fill="#2b8cc4" fill-opacity="0.8"/>
<circle cx="66.9" cy="498.4" r="0.95" fill="#e8679f" fill-opacity="0.8"/>
<circle cx="65.8" cy="554.7" r="0.95" fill="#e8679f" fill-opacity="0.8"/>
<circle cx="89.6" cy="547.0" r="0.95" fill="#a8202a" fill-opacity="0.8"/>
<circle cx="51.5" cy="563.4" r="0.95" fill="#e8679f" fill-opacity="0.8"/>
<circle cx="66.0" cy="508.6" r="0.95" fill="#e8679f" fill-opacity="0.8"/>
<circle cx="86.0" cy="506.2" r="0.95" fill="#a8202a" fill-opacity="0.8"/>
<circle cx="87.1" cy="499.6" r="0.95" fill="#a8202a" fill-opacity="0.8"/>
<circle cx="63.8" cy="527.6" r="0.95" fill="#e8679f" fill-opacity="0.8"/>
<circle cx="116.8" cy="492.0" r="0.95" fill="#2b8cc4" fill-opacity="0.8"/>
<circle cx="73.3" cy="504.3" r="0.95" fill="#e8679f" fill-opacity="0.8"/>
<circle cx="76.5" cy="491.5" r="0.95" fill="#e8679f" fill-opacity="0.8"/>
<circle cx="61.7" cy="531.5" r="0.95" fill="#e8679f" fill-opacity="0.8"/>
<circle cx="82.1" cy="557.7" r="0.95" fill="#a8202a" fill-opacity="0.8"/>
<circle cx="123.6" cy="515.2" r="0.95" fill="#2b8cc4" fill-opacity="0.8"/>
<circle cx="55.0" cy="558.7" r="0.95" fill="#e8679f" fill-opacity="0.8"/>
<circle cx="56.9" cy="539.7" r="0.95" fill="#e8679f" fill-opacity="0.8"/>
<circle cx="117.6" cy="514.3" r="0.95" fill="#2b8cc4" fill-opacity="0.8"/>
<circle cx="138.8" cy="533.5" r="0.95" fill="#2b8cc4" fill-opacity="0.8"/>
<circle cx="57.6" cy="532.2" r="0.95" fill="#e8679f" fill-opacity="0.8"/>
<circle cx="61.5" cy="537.9" r="0.95" fill="#e8679f" fill-opacity="0.8"/>
<circle cx="116.1" cy="532.0" r="0.95" fill="#2b8cc4" fill-opacity="0.8"/>
<circle cx="71.3" cy="483.1" r="0.95" fill="#e8679f" fill-opacity="0.8"/>
<circle cx="86.7" cy="525.1" r="0.95" fill="#a8202a" fill-opacity="0.8"/>
<circle cx="134.1" cy="526.7" r="0.95" fill="#2b8cc4" fill-opacity="0.8"/>
<circle cx="93.8" cy="558.0" r="0.95" fill="#a8202a" fill-opacity="0.8"/>
<circle cx="69.6" cy="502.2" r="0.95" fill="#e8679f" fill-opacity="0.8"/>
<circle cx="93.7" cy="548.8" r="0.95" fill="#a8202a" fill-opacity="0.8"/>
<circle cx="61.6" cy="517.2" r="0.95" fill="#e8679f" fill-opacity="0.8"/>
<circle cx="115.1" cy="506.6" r="0.95" fill="#2b8cc4" fill-opacity="0.8"/>
<circle cx="85.4" cy="536.4" r="0.95" fill="#a8202a" fill-opacity="0.8"/>
<circle cx="63.6" cy="541.8" r="0.95" fill="#e8679f" fill-opacity="0.8"/>
<circle cx="85.6" cy="537.9" r="0.95" fill="#a8202a" fill-opacity="0.8"/>
<circle cx="70.7" cy="545.4" r="0.95" fill="#e8679f" fill-opacity="0.8"/>
<circle cx="61.7" cy="494.7" r="0.95" fill="#e8679f" fill-opacity="0.8"/>
<circle cx="110.4" cy="511.3" r="0.95" fill="#2b8cc4" fill-opacity="0.8"/>
<circle cx="84.9" cy="529.9" r="0.95" fill="#a8202a" fill-opacity="0.8"/>
<circle cx="72.5" cy="539.5" r="0.95" fill="#e8679f" fill-opacity="0.8"/>
<circle cx="125.7" cy="498.8" r="0.95" fill="#2b8cc4" fill-opacity="0.8"/>
<circle cx="137.4" cy="526.8" r="0.95" fill="#2b8cc4" fill-opacity="0.8"/>
<circle cx="97.3" cy="485.3" r="0.95" fill="#2b8cc4" fill-opacity="0.8"/>
<circle cx="63.1" cy="543.2" r="0.95" fill="#e8679f" fill-opacity="0.8"/>
<circle cx="133.2" cy="461.8" r="0.95" fill="#2b8cc4" fill-opacity="0.8"/>
<circle cx="65.5" cy="533.4" r="0.95" fill="#e8679f" fill-opacity="0.8"/>
<circle cx="63.1" cy="559.7" r="0.95" fill="#e8679f" fill-opacity="0.8"/>
<circle cx="67.0" cy="538.6" r="0.95" fill="#e8679f" fill-opacity="0.8"/>
<circle cx="65.9" cy="525.1" r="0.95" fill="#e8679f" fill-opacity="0.8"/>
<circle cx="156.5" cy="523.1" r="0.95" fill="#2b8cc4" fill-opacity="0.8"/>
<circle cx="115.4" cy="497.7" r="0.95" fill="#2b8cc4" fill-opacity="0.8"/>
<circle cx="68.4" cy="524.3" r="0.95" fill="#e8679f" fill-opacity="0.8"/>
<circle cx="59.9" cy="546.6" r="0.95" fill="#e8679f" fill-opacity="0.8"/>
<circle cx="88.0" cy="560.3" r="0.95" fill="#a8202a" fill-opacity="0.8"/>
<circle cx="82.6" cy="533.7" r="0.95" fill="#a8202a" fill-opacity="0.8"/>
<circle cx="66.8" cy="530.6" r="0.95" fill="#e8679f" fill-opacity="0.8"/>
<circle cx="71.8" cy="509.1" r="0.95" fill="#e8679f" fill-opacity="0.8"/>
<circle cx="92.6" cy="510.5" r="0.95" fill="#a8202a" fill-opacity="0.8"/>
<circle cx="62.0" cy="550.1" r="0.95" fill="#e8679f" fill-opacity="0.8"/>
<circle cx="62.3" cy="554.3" r="0.95" fill="#e8679f" fill-opacity="0.8"/>
<circle cx="89.0" cy="530.2" r="0.95" fill="#a8202a" fill-opacity="0.8"/>
<circle cx="52.4" cy="515.7" r="0.95" fill="#e8679f" fill-opacity="0.8"/>
<circle cx="59.3" cy="557.7" r="0.95" fill="#e8679f" fill-opacity="0.8"/>
<circle cx="116.4" cy="520.0" r="0.95" fill="#2b8cc4" fill-opacity="0.8"/>
<circle cx="61.0" cy="540.1" r="0.95" fill="#e8679f" fill-opacity="0.8"/>
<circle cx="59.2" cy="544.1" r="0.95" fill="#e8679f" fill-opacity="0.8"/>
<circle cx="74.3" cy="504.4" r="0.95" fill="#e8679f" fill-opacity="0.8"/>
<circle cx="111.7" cy="538.5" r="0.95" fill="#2b8cc4" fill-opacity="0.8"/>
<circle cx="59.2" cy="546.1" r="0.95" fill="#e8679f" fill-opacity="0.8"/>
<circle cx="59.5" cy="554.0" r="0.95" fill="#e8679f" fill-opacity="0.8"/>
<circle cx="113.3" cy="517.8" r="0.95" fill="#2b8cc4" fill-opacity="0.8"/>
<circle cx="113.4" cy="508.6" r="0.95" fill="#2b8cc4" fill-opacity="0.8"/>
<circle cx="88.7" cy="519.8" r="0.95" fill="#a8202a" fill-opacity="0.8"/>
<circle cx="59.8" cy="553.4" r="0.95" fill="#e8679f" fill-opacity="0.8"/>
<circle cx="64.4" cy="550.5" r="0.95" fill="#e8679f" fill-opacity="0.8"/>
<circle cx="64.0" cy="518.6" r="0.95" fill="#e8679f" fill-opacity="0.8"/>
<circle cx="60.5" cy="545.8" r="0.95" fill="#e8679f" fill-opacity="0.8"/>
<circle cx="69.3" cy="550.4" r="0.95" fill="#e8679f" fill-opacity="0.8"/>
<circle cx="131.7" cy="539.1" r="0.95" fill="#2b8cc4" fill-opacity="0.8"/>
<circle cx="65.5" cy="528.8" r="0.95" fill="#e8679f" fill-opacity="0.8"/>
<circle cx="56.9" cy="552.2" r="0.95" fill="#e8679f" fill-opacity="0.8"/>
<circle cx="59.5" cy="537.9" r="0.95" fill="#e8679f" fill-opacity="0.8"/>
<circle cx="73.7" cy="528.3" r="0.95" fill="#e8679f" fill-opacity="0.8"/>
<circle cx="115.5" cy="449.1" r="0.95" fill="#2b8cc4" fill-opacity="0.8"/>
<circle cx="53.1" cy="560.5" r="0.95" fill="#e8679f" fill-opacity="0.8"/>
<circle cx="61.1" cy="548.1" r="0.95" fill="#e8679f" fill-opacity="0.8"/>
<circle cx="71.0" cy="524.8" r="0.95" fill="#e8679f" fill-opacity="0.8"/>
<circle cx="116.9" cy="510.8" r="0.95" fill="#2b8cc4" fill-opacity="0.8"/>
<circle cx="54.4" cy="552.9" r="0.95" fill="#e8679f" fill-opacity="0.8"/>
<circle cx="104.2" cy="503.0" r="0.95" fill="#2b8cc4" fill-opacity="0.8"/>
<circle cx="103.7" cy="504.8" r="0.95" fill="#2b8cc4" fill-opacity="0.8"/>
<circle cx="62.3" cy="552.3" r="0.95" fill="#e8679f" fill-opacity="0.8"/>
<circle cx="93.8" cy="537.7" r="0.95" fill="#a8202a" fill-opacity="0.8"/>
<circle cx="74.5" cy="542.3" r="0.95" fill="#e8679f" fill-opacity="0.8"/>
<circle cx="133.3" cy="506.6" r="0.95" fill="#2b8cc4" fill-opacity="0.8"/>
<circle cx="151.0" cy="539.7" r="0.95" fill="#2b8cc4" fill-opacity="0.8"/>
<circle cx="62.0" cy="547.7" r="0.95" fill="#e8679f" fill-opacity="0.8"/>
<circle cx="114.7" cy="518.6" r="0.95" fill="#2b8cc4" fill-opacity="0.8"/>
<circle cx="62.2" cy="549.1" r="0.95" fill="#e8679f" fill-opacity="0.8"/>
<circle cx="103.8" cy="445.0" r="0.95" fill="#2b8cc4" fill-opacity="0.8"/>
<circle cx="138.6" cy="513.6" r="0.95" fill="#2b8cc4" fill-opacity="0.8"/>
<circle cx="152.7" cy="516.3" r="0.95" fill="#2b8cc4" fill-opacity="0.8"/>
<circle cx="136.7" cy="527.8" r="0.95" fill="#2b8cc4" fill-opacity="0.8"/>
<circle cx="69.6" cy="550.3" r="0.95" fill="#e8679f" fill-opacity="0.8"/>
<circle cx="144.4" cy="513.8" r="0.95" fill="#2b8cc4" fill-opacity="0.8"/>
<circle cx="69.8" cy="543.8" r="0.95" fill="#e8679f" fill-opacity="0.8"/>
<circle cx="60.8" cy="547.6" r="0.95" fill="#e8679f" fill-opacity="0.8"/>
<circle cx="84.5" cy="537.5" r="0.95" fill="#a8202a" fill-opacity="0.8"/>
<circle cx="60.7" cy="517.5" r="0.95" fill="#e8679f" fill-opacity="0.8"/>
<circle cx="149.2" cy="518.6" r="0.95" fill="#2b8cc4" fill-opacity="0.8"/>
<circle cx="119.4" cy="515.5" r="0.95" fill="#2b8cc4" fill-opacity="0.8"/>
<circle cx="141.4" cy="493.6" r="0.95" fill="#2b8cc4" fill-opacity="0.8"/>
<circle cx="58.3" cy="489.3" r="0.95" fill="#e8679f" fill-opacity="0.8"/>
<circle cx="104.4" cy="480.4" r="0.95" fill="#2b8cc4" fill-opacity="0.8"/>
<circle cx="60.1" cy="541.3" r="0.95" fill="#e8679f" fill-opacity="0.8"/>
<circle cx="57.9" cy="557.8" r="0.95" fill="#e8679f" fill-opacity="0.8"/>
<circle cx="75.2" cy="527.2" r="0.95" fill="#e8679f" fill-opacity="0.8"/>
<circle cx="86.5" cy="554.7" r="0.95" fill="#a8202a" fill-opacity="0.8"/>
<circle cx="71.6" cy="515.4" r="0.95" fill="#e8679f" fill-opacity="0.8"/>
<circle cx="63.0" cy="509.3" r="0.95" fill="#e8679f" fill-opacity="0.8"/>
<circle cx="89.7" cy="539.4" r="0.95" fill="#a8202a" fill-opacity="0.8"/>
<circle cx="79.6" cy="543.9" r="0.95" fill="#a8202a" fill-opacity="0.8"/>
<circle cx="50.0" cy="559.9" r="0.95" fill="#e8679f" fill-opacity="0.8"/>
<circle cx="64.5" cy="517.7" r="0.95" fill="#e8679f" fill-opacity="0.8"/>
<circle cx="114.1" cy="522.1" r="0.95" fill="#2b8cc4" fill-opacity="0.8"/>
<circle cx="125.4" cy="536.8" r="0.95" fill="#2b8cc4" fill-opacity="0.8"/>
<circle cx="63.4" cy="530.1" r="0.95" fill="#e8679f" fill-opacity="0.8"/>
<circle cx="115.2" cy="528.9" r="0.95" fill="#2b8cc4" fill-opacity="0.8"/>
<circle cx="75.1" cy="530.3" r="0.95" fill="#e8679f" fill-opacity="0.8"/>
<circle cx="57.7" cy="487.5" r="0.95" fill="#e8679f" fill-opacity="0.8"/>
<circle cx="63.0" cy="539.8" r="0.95" fill="#e8679f" fill-opacity="0.8"/>
<circle cx="64.2" cy="535.2" r="0.95" fill="#e8679f" fill-opacity="0.8"/>
<circle cx="137.2" cy="520.9" r="0.95" fill="#2b8cc4" fill-opacity="0.8"/>
<circle cx="57.7" cy="542.7" r="0.95" fill="#e8679f" fill-opacity="0.8"/>
<circle cx="59.7" cy="556.9" r="0.95" fill="#e8679f" fill-opacity="0.8"/>
<circle cx="75.9" cy="526.5" r="0.95" fill="#e8679f" fill-opacity="0.8"/>
<circle cx="71.2" cy="520.3" r="0.95" fill="#e8679f" fill-opacity="0.8"/>
<circle cx="65.2" cy="517.7" r="0.95" fill="#e8679f" fill-opacity="0.8"/>
<circle cx="60.9" cy="501.9" r="0.95" fill="#e8679f" fill-opacity="0.8"/>
<circle cx="61.5" cy="505.1" r="0.95" fill="#e8679f" fill-opacity="0.8"/>
<circle cx="68.8" cy="536.2" r="0.95" fill="#e8679f" fill-opacity="0.8"/>
<circle cx="165.1" cy="501.1" r="0.95" fill="#2b8cc4" fill-opacity="0.8"/>
<circle cx="49.1" cy="564.1" r="0.95" fill="#e8679f" fill-opacity="0.8"/>
<circle cx="61.3" cy="504.1" r="0.95" fill="#e8679f" fill-opacity="0.8"/>
<circle cx="70.7" cy="493.4" r="0.95" fill="#e8679f" fill-opacity="0.8"/>
<circle cx="62.3" cy="540.1" r="0.95" fill="#e8679f" fill-opacity="0.8"/>
<circle cx="130.2" cy="509.4" r="0.95" fill="#2b8cc4" fill-opacity="0.8"/>
<circle cx="173.6" cy="523.4" r="0.95" fill="#2b8cc4" fill-opacity="0.8"/>
<circle cx="125.3" cy="521.7" r="0.95" fill="#2b8cc4" fill-opacity="0.8"/>
<circle cx="67.3" cy="544.2" r="0.95" fill="#e8679f" fill-opacity="0.8"/>
<circle cx="65.1" cy="511.0" r="0.95" fill="#e8679f" fill-opacity="0.8"/>
<circle cx="69.1" cy="544.7" r="0.95" fill="#e8679f" fill-opacity="0.8"/>
<circle cx="69.5" cy="528.2" r="0.95" fill="#e8679f" fill-opacity="0.8"/>
<circle cx="62.4" cy="549.3" r="0.95" fill="#e8679f" fill-opacity="0.8"/>
<circle cx="81.5" cy="508.3" r="0.95" fill="#a8202a" fill-opacity="0.8"/>
<circle cx="76.9" cy="519.7" r="0.95" fill="#a8202a" fill-opacity="0.8"/>
<circle cx="58.0" cy="548.2" r="0.95" fill="#e8679f" fill-opacity="0.8"/>
<circle cx="83.4" cy="533.7" r="0.95" fill="#a8202a" fill-opacity="0.8"/>
<circle cx="88.4" cy="552.3" r="0.95" fill="#a8202a" fill-opacity="0.8"/>
<circle cx="136.3" cy="540.9" r="0.95" fill="#2b8cc4" fill-opacity="0.8"/>
<circle cx="66.2" cy="509.2" r="0.95" fill="#e8679f" fill-opacity="0.8"/>
<circle cx="160.8" cy="523.1" r="0.95" fill="#2b8cc4" fill-opacity="0.8"/>
<circle cx="83.6" cy="539.1" r="0.95" fill="#a8202a" fill-opacity="0.8"/>
<circle cx="58.8" cy="539.9" r="0.95" fill="#e8679f" fill-opacity="0.8"/>
<circle cx="63.6" cy="539.0" r="0.95" fill="#e8679f" fill-opacity="0.8"/>
<circle cx="64.9" cy="500.3" r="0.95" fill="#e8679f" fill-opacity="0.8"/>
<circle cx="119.8" cy="525.0" r="0.95" fill="#2b8cc4" fill-opacity="0.8"/>
<circle cx="112.9" cy="541.8" r="0.95" fill="#2b8cc4" fill-opacity="0.8"/>
<circle cx="65.0" cy="470.6" r="0.95" fill="#e8679f" fill-opacity="0.8"/>
<circle cx="123.4" cy="488.8" r="0.95" fill="#2b8cc4" fill-opacity="0.8"/>
<circle cx="72.5" cy="553.8" r="0.95" fill="#e8679f" fill-opacity="0.8"/>
<circle cx="58.6" cy="531.2" r="0.95" fill="#e8679f" fill-opacity="0.8"/>
<circle cx="143.2" cy="494.2" r="0.95" fill="#2b8cc4" fill-opacity="0.8"/>
<circle cx="136.0" cy="531.3" r="0.95" fill="#2b8cc4" fill-opacity="0.8"/>
<circle cx="62.5" cy="542.7" r="0.95" fill="#e8679f" fill-opacity="0.8"/>
<circle cx="86.6" cy="540.5" r="0.95" fill="#a8202a" fill-opacity="0.8"/>
<circle cx="59.4" cy="529.7" r="0.95" fill="#e8679f" fill-opacity="0.8"/>
<circle cx="69.5" cy="509.9" r="0.95" fill="#e8679f" fill-opacity="0.8"/>
<circle cx="153.1" cy="543.2" r="0.95" fill="#2b8cc4" fill-opacity="0.8"/>
<circle cx="59.8" cy="558.1" r="0.95" fill="#e8679f" fill-opacity="0.8"/>
<circle cx="112.2" cy="538.2" r="0.95" fill="#2b8cc4" fill-opacity="0.8"/>
<circle cx="51.5" cy="562.0" r="0.95" fill="#e8679f" fill-opacity="0.8"/>
<circle cx="53.7" cy="560.1" r="0.95" fill="#e8679f" fill-opacity="0.8"/>
<circle cx="55.8" cy="555.3" r="0.95" fill="#e8679f" fill-opacity="0.8"/>
<circle cx="50.4" cy="555.6" r="0.95" fill="#e8679f" fill-opacity="0.8"/>
<circle cx="110.0" cy="522.9" r="0.95" fill="#2b8cc4" fill-opacity="0.8"/>
<circle cx="143.5" cy="470.6" r="0.95" fill="#2b8cc4" fill-opacity="0.8"/>
<circle cx="64.2" cy="535.6" r="0.95" fill="#e8679f" fill-opacity="0.8"/>
<circle cx="128.1" cy="515.2" r="0.95" fill="#2b8cc4" fill-opacity="0.8"/>
<circle cx="131.3" cy="517.3" r="0.95" fill="#2b8cc4" fill-opacity="0.8"/>
<circle cx="66.5" cy="548.4" r="0.95" fill="#e8679f" fill-opacity="0.8"/>
<circle cx="75.7" cy="510.0" r="0.95" fill="#e8679f" fill-opacity="0.8"/>
<circle cx="65.4" cy="551.3" r="0.95" fill="#e8679f" fill-opacity="0.8"/>
<circle cx="105.5" cy="540.0" r="0.95" fill="#2b8cc4" fill-opacity="0.8"/>
<circle cx="64.0" cy="521.7" r="0.95" fill="#e8679f" fill-opacity="0.8"/>
<circle cx="58.7" cy="556.2" r="0.95" fill="#e8679f" fill-opacity="0.8"/>
<circle cx="65.1" cy="549.3" r="0.95" fill="#e8679f" fill-opacity="0.8"/>
<circle cx="72.2" cy="543.4" r="0.95" fill="#e8679f" fill-opacity="0.8"/>
<circle cx="61.2" cy="553.7" r="0.95" fill="#e8679f" fill-opacity="0.8"/>
<circle cx="78.5" cy="516.6" r="0.95" fill="#a8202a" fill-opacity="0.8"/>
<circle cx="70.3" cy="537.4" r="0.95" fill="#e8679f" fill-opacity="0.8"/>
<circle cx="82.8" cy="517.3" r="0.95" fill="#a8202a" fill-opacity="0.8"/>
<circle cx="69.9" cy="540.7" r="0.95" fill="#e8679f" fill-opacity="0.8"/>
<circle cx="128.4" cy="519.2" r="0.95" fill="#2b8cc4" fill-opacity="0.8"/>
<circle cx="67.4" cy="538.1" r="0.95" fill="#e8679f" fill-opacity="0.8"/>
<circle cx="119.8" cy="528.3" r="0.95" fill="#2b8cc4" fill-opacity="0.8"/>
<circle cx="71.7" cy="507.6" r="0.95" fill="#e8679f" fill-opacity="0.8"/>
<circle cx="119.2" cy="514.8" r="0.95" fill="#2b8cc4" fill-opacity="0.8"/>
<circle cx="61.3" cy="554.7" r="0.95" fill="#e8679f" fill-opacity="0.8"/>
<circle cx="65.5" cy="533.7" r="0.95" fill="#e8679f" fill-opacity="0.8"/>
<circle cx="133.0" cy="534.6" r="0.95" fill="#2b8cc4" fill-opacity="0.8"/>
<circle cx="80.4" cy="517.3" r="0.95" fill="#a8202a" fill-opacity="0.8"/>
<circle cx="51.2" cy="563.0" r="0.95" fill="#e8679f" fill-opacity="0.8"/>
<circle cx="124.2" cy="541.1" r="0.95" fill="#2b8cc4" fill-opacity="0.8"/>
<circle cx="62.4" cy="480.1" r="0.95" fill="#e8679f" fill-opacity="0.8"/>
<circle cx="61.8" cy="498.6" r="0.95" fill="#e8679f" fill-opacity="0.8"/>
<circle cx="66.7" cy="552.9" r="0.95" fill="#e8679f" fill-opacity="0.8"/>
<circle cx="54.2" cy="560.4" r="0.95" fill="#e8679f" fill-opacity="0.8"/>
<circle cx="119.6" cy="517.1" r="0.95" fill="#2b8cc4" fill-opacity="0.8"/>
<circle cx="62.7" cy="527.9" r="0.95" fill="#e8679f" fill-opacity="0.8"/>
<circle cx="64.6" cy="532.0" r="0.95" fill="#e8679f" fill-opacity="0.8"/>
<circle cx="71.3" cy="500.2" r="0.95" fill="#e8679f" fill-opacity="0.8"/>
<circle cx="91.4" cy="526.3" r="0.95" fill="#a8202a" fill-opacity="0.8"/>
<circle cx="71.2" cy="537.5" r="0.95" fill="#e8679f" fill-opacity="0.8"/>
<circle cx="79.4" cy="524.8" r="0.95" fill="#a8202a" fill-opacity="0.8"/>
<circle cx="58.1" cy="547.4" r="0.95" fill="#e8679f" fill-opacity="0.8"/>
<circle cx="121.9" cy="533.6" r="0.95" fill="#2b8cc4" fill-opacity="0.8"/>
<circle cx="71.2" cy="538.1" r="0.95" fill="#e8679f" fill-opacity="0.8"/>
<circle cx="133.3" cy="510.8" r="0.95" fill="#2b8cc4" fill-opacity="0.8"/>
<circle cx="69.8" cy="541.8" r="0.95" fill="#e8679f" fill-opacity="0.8"/>
<circle cx="61.9" cy="543.2" r="0.95" fill="#e8679f" fill-opacity="0.8"/>
<circle cx="63.5" cy="534.9" r="0.95" fill="#e8679f" fill-opacity="0.8"/>
<circle cx="54.9" cy="554.4" r="0.95" fill="#e8679f" fill-opacity="0.8"/>
<circle cx="133.8" cy="490.1" r="0.95" fill="#2b8cc4" fill-opacity="0.8"/>
<circle cx="56.7" cy="541.4" r="0.95" fill="#e8679f" fill-opacity="0.8"/>
<circle cx="128.9" cy="508.3" r="0.95" fill="#2b8cc4" fill-opacity="0.8"/>
<circle cx="67.4" cy="501.9" r="0.95" fill="#e8679f" fill-opacity="0.8"/>
<circle cx="81.4" cy="520.9" r="0.95" fill="#a8202a" fill-opacity="0.8"/>
<circle cx="120.0" cy="503.7" r="0.95" fill="#2b8cc4" fill-opacity="0.8"/>
<circle cx="89.0" cy="536.5" r="0.95" fill="#a8202a" fill-opacity="0.8"/>
<circle cx="105.2" cy="526.4" r="0.95" fill="#2b8cc4" fill-opacity="0.8"/>
<circle cx="88.1" cy="532.7" r="0.95" fill="#a8202a" fill-opacity="0.8"/>
<circle cx="60.3" cy="556.0" r="0.95" fill="#e8679f" fill-opacity="0.8"/>
<circle cx="60.0" cy="514.0" r="0.95" fill="#e8679f" fill-opacity="0.8"/>
<circle cx="63.2" cy="532.1" r="0.95" fill="#e8679f" fill-opacity="0.8"/>
<circle cx="124.1" cy="484.1" r="0.95" fill="#2b8cc4" fill-opacity="0.8"/>
<circle cx="49.9" cy="563.3" r="0.95" fill="#e8679f" fill-opacity="0.8"/>
<circle cx="63.5" cy="548.6" r="0.95" fill="#e8679f" fill-opacity="0.8"/>
<circle cx="66.3" cy="544.1" r="0.95" fill="#e8679f" fill-opacity="0.8"/>
<circle cx="139.7" cy="536.3" r="0.95" fill="#2b8cc4" fill-opacity="0.8"/>
<circle cx="84.0" cy="522.1" r="0.95" fill="#a8202a" fill-opacity="0.8"/>
<circle cx="124.2" cy="513.8" r="0.95" fill="#2b8cc4" fill-opacity="0.8"/>
<circle cx="73.8" cy="551.5" r="0.95" fill="#e8679f" fill-opacity="0.8"/>
<circle cx="63.2" cy="547.1" r="0.95" fill="#e8679f" fill-opacity="0.8"/>
<circle cx="62.2" cy="531.1" r="0.95" fill="#e8679f" fill-opacity="0.8"/>
<circle cx="77.5" cy="535.0" r="0.95" fill="#e8679f" fill-opacity="0.8"/>
<circle cx="71.7" cy="528.9" r="0.95" fill="#e8679f" fill-opacity="0.8"/>
<circle cx="137.2" cy="525.0" r="0.95" fill="#2b8cc4" fill-opacity="0.8"/>
<circle cx="117.1" cy="499.5" r="0.95" fill="#2b8cc4" fill-opacity="0.8"/>
<circle cx="108.5" cy="501.3" r="0.95" fill="#2b8cc4" fill-opacity="0.8"/>
<circle cx="66.6" cy="522.1" r="0.95" fill="#e8679f" fill-opacity="0.8"/>
<circle cx="120.3" cy="512.9" r="0.95" fill="#2b8cc4" fill-opacity="0.8"/>
<circle cx="58.6" cy="549.0" r="0.95" fill="#e8679f" fill-opacity="0.8"/>
<circle cx="53.7" cy="558.1" r="0.95" fill="#e8679f" fill-opacity="0.8"/>
<circle cx="58.7" cy="555.8" r="0.95" fill="#e8679f" fill-opacity="0.8"/>
<circle cx="84.3" cy="530.2" r="0.95" fill="#a8202a" fill-opacity="0.8"/>
<circle cx="91.2" cy="547.3" r="0.95" fill="#a8202a" fill-opacity="0.8"/>
<circle cx="112.1" cy="533.2" r="0.95" fill="#2b8cc4" fill-opacity="0.8"/>
<circle cx="84.4" cy="525.5" r="0.95" fill="#a8202a" fill-opacity="0.8"/>
<circle cx="69.2" cy="491.1" r="0.95" fill="#e8679f" fill-opacity="0.8"/>
<circle cx="139.5" cy="516.4" r="0.95" fill="#2b8cc4" fill-opacity="0.8"/>
<circle cx="62.0" cy="531.6" r="0.95" fill="#e8679f" fill-opacity="0.8"/>
<circle cx="78.0" cy="524.1" r="0.95" fill="#a8202a" fill-opacity="0.8"/>
<line x1="41.30" y1="426.00" x2="41.30" y2="571.80" stroke="#1a1a1a" stroke-width="1.3"/>
<line x1="40.70" y1="571.20" x2="195.40" y2="571.20" stroke="#1a1a1a" stroke-width="1.3"/>
<line x1="38.30" y1="432.40" x2="41.30" y2="432.40" stroke="#1a1a1a" stroke-width="1.0"/>
<text x="34.60" y="435.50" font-size="8.8" text-anchor="end" fill="#2a2a2a" stroke="#2a2a2a" stroke-width="0" textLength="18.3" lengthAdjust="spacingAndGlyphs">1000</text>
<line x1="38.30" y1="465.50" x2="41.30" y2="465.50" stroke="#1a1a1a" stroke-width="1.0"/>
<text x="34.60" y="468.60" font-size="8.8" text-anchor="end" fill="#2a2a2a" stroke="#2a2a2a" stroke-width="0" textLength="13.8" lengthAdjust="spacingAndGlyphs">750</text>
<line x1="38.30" y1="498.60" x2="41.30" y2="498.60" stroke="#1a1a1a" stroke-width="1.0"/>
<text x="34.60" y="501.70" font-size="8.8" text-anchor="end" fill="#2a2a2a" stroke="#2a2a2a" stroke-width="0" textLength="13.8" lengthAdjust="spacingAndGlyphs">500</text>
<line x1="38.30" y1="531.70" x2="41.30" y2="531.70" stroke="#1a1a1a" stroke-width="1.0"/>
<text x="34.60" y="534.80" font-size="8.8" text-anchor="end" fill="#2a2a2a" stroke="#2a2a2a" stroke-width="0" textLength="13.8" lengthAdjust="spacingAndGlyphs">250</text>
<line x1="38.30" y1="564.80" x2="41.30" y2="564.80" stroke="#1a1a1a" stroke-width="1.0"/>
<text x="34.60" y="567.90" font-size="8.8" text-anchor="end" fill="#2a2a2a" stroke="#2a2a2a" stroke-width="0" textLength="4.8" lengthAdjust="spacingAndGlyphs">0</text>
<line x1="48.60" y1="571.20" x2="48.60" y2="574.40" stroke="#1a1a1a" stroke-width="1.0"/>
<text x="48.60" y="585.60" font-size="9.0" text-anchor="middle" fill="#2a2a2a" stroke="#2a2a2a" stroke-width="0" textLength="4.8" lengthAdjust="spacingAndGlyphs">0</text>
<line x1="83.70" y1="571.20" x2="83.70" y2="574.40" stroke="#1a1a1a" stroke-width="1.0"/>
<text x="83.70" y="585.60" font-size="9.0" text-anchor="middle" fill="#2a2a2a" stroke="#2a2a2a" stroke-width="0" textLength="9.6" lengthAdjust="spacingAndGlyphs">50</text>
<line x1="118.80" y1="571.20" x2="118.80" y2="574.40" stroke="#1a1a1a" stroke-width="1.0"/>
<text x="118.80" y="585.60" font-size="9.0" text-anchor="middle" fill="#2a2a2a" stroke="#2a2a2a" stroke-width="0" textLength="14.2" lengthAdjust="spacingAndGlyphs">100</text>
<line x1="153.90" y1="571.20" x2="153.90" y2="574.40" stroke="#1a1a1a" stroke-width="1.0"/>
<text x="153.90" y="585.60" font-size="9.0" text-anchor="middle" fill="#2a2a2a" stroke="#2a2a2a" stroke-width="0" textLength="14.2" lengthAdjust="spacingAndGlyphs">150</text>
<line x1="189.00" y1="571.20" x2="189.00" y2="574.40" stroke="#1a1a1a" stroke-width="1.0"/>
<text x="189.00" y="585.60" font-size="9.0" text-anchor="middle" fill="#2a2a2a" stroke="#2a2a2a" stroke-width="0" textLength="14.2" lengthAdjust="spacingAndGlyphs">200</text>
<text x="121.40" y="601.40" font-size="11.0" text-anchor="middle" fill="#2a2a2a" stroke="#2a2a2a" stroke-width="0.12" textLength="92.6" lengthAdjust="spacingAndGlyphs">Mean corrected coverage</text>
<text x="10.40" y="498.90" font-size="11.5" text-anchor="middle" fill="#2a2a2a" stroke="#2a2a2a" stroke-width="0.12" textLength="71.0" lengthAdjust="spacingAndGlyphs" transform="rotate(-90 10.40 498.90)">Coding_mutations</text>
<path d="M47.3,424.2 L47.30,424.20 L48.18,420.48 L49.06,418.24 L49.95,416.59 L50.83,415.24 L51.71,413.91 L52.59,412.39 L53.48,410.85 L54.36,409.45 L55.24,408.36 L56.12,407.74 L57.01,407.45 L57.89,407.27 L58.77,407.10 L59.65,406.84 L60.54,406.23 L61.42,404.81 L62.30,403.22 L63.18,402.19 L64.07,402.32 L64.95,403.40 L65.83,405.09 L66.72,407.10 L67.60,409.09 L68.48,410.82 L69.36,412.54 L70.25,414.32 L71.13,416.14 L72.01,417.97 L72.89,419.84 L73.78,421.68 L74.66,422.26 L75.54,422.67 L76.42,422.91 L77.30,423.03 L78.19,423.11 L79.07,423.17 L79.95,423.22 L80.83,423.26 L81.72,423.30 L82.60,423.33 L83.48,423.36 L84.36,423.38 L85.25,423.41 L86.13,423.43 L87.01,423.46 L87.89,423.48 L88.78,423.50 L89.66,423.52 L90.54,423.54 L91.42,423.56 L92.31,423.58 L93.19,423.59 L94.07,423.61 L94.95,423.62 L95.84,423.64 L96.72,423.65 L97.60,423.67 L98.48,423.68 L99.37,423.69 L100.25,423.70 L101.13,423.72 L102.01,423.73 L102.90,423.74 L103.78,423.75 L104.66,423.76 L105.54,423.77 L106.43,423.78 L107.31,423.79 L108.19,423.80 L109.07,423.81 L109.96,423.82 L110.84,423.83 L111.72,423.84 L112.60,423.85 L113.49,423.85 L114.37,423.86 L115.25,423.87 L116.13,423.88 L117.02,423.88 L117.90,423.89 L118.78,423.89 L119.66,423.90 L120.55,423.90 L121.43,423.91 L122.31,423.91 L123.19,423.92 L124.08,423.92 L124.96,423.92 L125.84,423.93 L126.72,423.93 L127.61,423.93 L128.49,423.94 L129.37,423.94 L130.25,423.94 L131.14,423.94 L132.02,423.95 L132.90,423.95 L133.78,423.95 L134.67,423.95 L135.55,423.96 L136.43,423.96 L137.31,423.96 L138.20,423.96 L139.08,423.97 L139.96,423.97 L140.84,423.97 L141.73,423.97 L142.61,423.97 L143.49,423.98 L144.38,423.98 L145.26,423.98 L146.14,423.99 L147.02,423.99 L147.90,423.99 L148.79,424.00 L149.67,424.00 L150.55,424.00 L151.44,424.01 L152.32,424.01 L153.20,424.01 L154.08,424.02 L154.96,424.02 L155.85,424.02 L156.73,424.03 L157.61,424.03 L158.49,424.04 L159.38,424.04 L160.26,424.04 L161.14,424.05 L162.02,424.05 L162.91,424.06 L163.79,424.06 L164.67,424.07 L165.56,424.07 L166.44,424.07 L167.32,424.08 L168.20,424.08 L169.08,424.09 L169.97,424.09 L170.85,424.10 L171.73,424.10 L172.61,424.11 L173.50,424.11 L174.38,424.12 L175.26,424.12 L176.14,424.13 L177.03,424.13 L177.91,424.14 L178.79,424.14 L179.68,424.15 L180.56,424.15 L181.44,424.16 L182.32,424.16 L183.20,424.17 L184.09,424.17 L184.97,424.18 L185.85,424.18 L186.74,424.19 L187.62,424.19 L188.50,424.20 L188.5,424.2 Z" fill="#ef9fc8" fill-opacity="0.85" stroke="#d8709f" stroke-width="0.6" stroke-linejoin="round"/>
<path d="M50.0,424.2 L50.00,424.20 L50.87,424.19 L51.73,424.18 L52.60,424.15 L53.46,424.12 L54.33,424.07 L55.19,424.02 L56.06,423.96 L56.92,423.90 L57.79,423.83 L58.66,423.75 L59.52,423.67 L60.39,423.59 L61.25,423.51 L62.12,423.42 L62.98,423.33 L63.85,423.22 L64.72,423.11 L65.58,422.98 L66.45,422.83 L67.31,422.67 L68.18,422.48 L69.04,422.27 L69.91,422.04 L70.78,421.78 L71.64,421.49 L72.51,421.18 L73.37,420.77 L74.24,420.14 L75.10,419.33 L75.97,418.35 L76.83,417.23 L77.70,416.01 L78.57,414.70 L79.43,412.99 L80.30,410.84 L81.16,408.55 L82.03,406.39 L82.89,403.92 L83.76,401.31 L84.62,399.30 L85.49,398.61 L86.36,399.13 L87.22,400.31 L88.09,401.85 L88.95,403.50 L89.82,405.83 L90.68,408.75 L91.55,411.62 L92.42,413.84 L93.28,415.55 L94.15,417.04 L95.01,418.35 L95.88,419.50 L96.74,420.60 L97.61,421.63 L98.47,422.42 L99.34,422.84 L100.21,423.06 L101.07,423.25 L101.94,423.40 L102.80,423.52 L103.67,423.62 L104.53,423.68 L105.40,423.72 L106.27,423.75 L107.13,423.78 L108.00,423.80 L108.86,423.83 L109.73,423.85 L110.59,423.87 L111.46,423.89 L112.33,423.91 L113.19,423.93 L114.06,423.94 L114.92,423.95 L115.79,423.96 L116.65,423.97 L117.52,423.98 L118.38,423.99 L119.25,424.00 L120.12,424.00 L120.98,424.01 L121.85,424.01 L122.71,424.02 L123.58,424.02 L124.44,424.03 L125.31,424.03 L126.17,424.04 L127.04,424.04 L127.91,424.04 L128.77,424.05 L129.64,424.05 L130.50,424.06 L131.37,424.06 L132.23,424.07 L133.10,424.07 L133.97,424.08 L134.83,424.08 L135.70,424.08 L136.56,424.09 L137.43,424.09 L138.29,424.09 L139.16,424.10 L140.03,424.10 L140.89,424.11 L141.76,424.11 L142.62,424.11 L143.49,424.12 L144.35,424.12 L145.22,424.12 L146.08,424.13 L146.95,424.13 L147.82,424.13 L148.68,424.13 L149.55,424.14 L150.41,424.14 L151.28,424.14 L152.14,424.15 L153.01,424.15 L153.88,424.15 L154.74,424.15 L155.61,424.16 L156.47,424.16 L157.34,424.16 L158.20,424.16 L159.07,424.16 L159.93,424.17 L160.80,424.17 L161.67,424.17 L162.53,424.17 L163.40,424.17 L164.26,424.18 L165.13,424.18 L165.99,424.18 L166.86,424.18 L167.72,424.18 L168.59,424.18 L169.46,424.19 L170.32,424.19 L171.19,424.19 L172.05,424.19 L172.92,424.19 L173.78,424.19 L174.65,424.19 L175.52,424.19 L176.38,424.19 L177.25,424.19 L178.11,424.20 L178.98,424.20 L179.84,424.20 L180.71,424.20 L181.57,424.20 L182.44,424.20 L183.31,424.20 L184.17,424.20 L185.04,424.20 L185.90,424.20 L186.77,424.20 L187.63,424.20 L188.50,424.20 L188.5,424.2 Z" fill="#d9646b" fill-opacity="0.88" stroke="#b5414e" stroke-width="0.6" stroke-linejoin="round"/>
<path d="M85.0,424.2 L85.00,424.20 L85.65,424.16 L86.29,424.11 L86.94,424.05 L87.59,423.99 L88.23,423.91 L88.88,423.84 L89.53,423.75 L90.17,423.67 L90.82,423.58 L91.47,423.48 L92.12,423.38 L92.76,423.28 L93.41,423.16 L94.06,423.04 L94.70,422.91 L95.35,422.77 L96.00,422.62 L96.64,422.46 L97.29,422.30 L97.94,422.12 L98.58,421.94 L99.23,421.76 L99.88,421.56 L100.53,421.36 L101.17,421.14 L101.82,420.89 L102.47,420.61 L103.11,420.32 L103.76,420.00 L104.41,419.68 L105.05,419.34 L105.70,419.00 L106.35,418.65 L106.99,418.31 L107.64,417.96 L108.29,417.63 L108.93,417.30 L109.58,416.99 L110.23,416.70 L110.88,416.43 L111.52,416.15 L112.17,415.87 L112.82,415.59 L113.46,415.31 L114.11,415.04 L114.76,414.78 L115.40,414.54 L116.05,414.31 L116.70,414.11 L117.34,413.94 L117.99,413.80 L118.64,413.68 L119.28,413.56 L119.93,413.45 L120.58,413.35 L121.22,413.26 L121.87,413.18 L122.52,413.13 L123.17,413.10 L123.81,413.10 L124.46,413.14 L125.11,413.20 L125.75,413.29 L126.40,413.40 L127.05,413.54 L127.69,413.69 L128.34,413.85 L128.99,414.02 L129.63,414.20 L130.28,414.39 L130.93,414.64 L131.57,414.96 L132.22,415.32 L132.87,415.72 L133.52,416.13 L134.16,416.55 L134.81,416.95 L135.46,417.32 L136.10,417.65 L136.75,417.96 L137.40,418.28 L138.04,418.59 L138.69,418.90 L139.34,419.20 L139.98,419.49 L140.63,419.76 L141.28,420.00 L141.93,420.22 L142.57,420.42 L143.22,420.58 L143.87,420.72 L144.51,420.86 L145.16,420.99 L145.81,421.10 L146.45,421.20 L147.10,421.29 L147.75,421.37 L148.39,421.44 L149.04,421.49 L149.69,421.54 L150.33,421.58 L150.98,421.62 L151.63,421.66 L152.28,421.71 L152.92,421.76 L153.57,421.83 L154.22,421.92 L154.86,422.02 L155.51,422.14 L156.16,422.26 L156.80,422.39 L157.45,422.53 L158.10,422.66 L158.74,422.78 L159.39,422.90 L160.04,423.01 L160.68,423.11 L161.33,423.21 L161.98,423.32 L162.62,423.42 L163.27,423.52 L163.92,423.62 L164.57,423.70 L165.21,423.78 L165.86,423.84 L166.51,423.88 L167.15,423.90 L167.80,423.92 L168.45,423.94 L169.09,423.96 L169.74,423.97 L170.39,423.99 L171.03,424.01 L171.68,424.02 L172.33,424.03 L172.97,424.05 L173.62,424.06 L174.27,424.07 L174.92,424.08 L175.56,424.10 L176.21,424.11 L176.86,424.12 L177.50,424.12 L178.15,424.13 L178.80,424.14 L179.44,424.15 L180.09,424.16 L180.74,424.16 L181.38,424.17 L182.03,424.17 L182.68,424.18 L183.32,424.18 L183.97,424.19 L184.62,424.19 L185.27,424.19 L185.91,424.20 L186.56,424.20 L187.21,424.20 L187.85,424.20 L188.50,424.20 L188.5,424.2 Z" fill="#6aa9d0" fill-opacity="0.92" stroke="#4f8fbb" stroke-width="0.6" stroke-linejoin="round"/>
<line x1="47.50" y1="424.20" x2="188.50" y2="424.20" stroke="#d0508a" stroke-width="0.8"/>
<path d="M196.7,432.0 L196.70,432.00 L196.74,432.84 L196.78,433.68 L196.82,434.51 L196.86,435.35 L196.90,436.19 L196.94,437.02 L196.98,437.86 L197.02,438.70 L197.06,439.54 L197.09,440.38 L197.13,441.21 L197.17,442.05 L197.21,442.89 L197.24,443.73 L197.28,444.56 L197.31,445.40 L197.35,446.24 L197.38,447.07 L197.42,447.91 L197.45,448.75 L197.48,449.59 L197.52,450.43 L197.55,451.26 L197.58,452.10 L197.61,452.94 L197.64,453.77 L197.67,454.61 L197.70,455.45 L197.72,456.29 L197.75,457.12 L197.78,457.96 L197.80,458.80 L197.83,459.64 L197.86,460.48 L197.89,461.31 L197.91,462.15 L197.94,462.99 L197.97,463.82 L198.00,464.66 L198.03,465.50 L198.06,466.34 L198.09,467.18 L198.12,468.01 L198.15,468.85 L198.19,469.69 L198.22,470.52 L198.25,471.36 L198.29,472.20 L198.32,473.04 L198.35,473.88 L198.38,474.71 L198.42,475.55 L198.46,476.39 L198.50,477.23 L198.55,478.06 L198.61,478.90 L198.68,479.74 L198.76,480.57 L198.90,481.41 L199.08,482.25 L199.29,483.09 L199.53,483.93 L199.79,484.76 L200.06,485.60 L200.32,486.44 L200.59,487.27 L200.87,488.11 L201.17,488.95 L201.49,489.79 L201.83,490.62 L202.17,491.46 L202.51,492.30 L202.86,493.14 L203.19,493.98 L203.52,494.81 L203.85,495.65 L204.18,496.49 L204.51,497.32 L204.84,498.16 L205.18,499.00 L205.52,499.84 L205.86,500.68 L206.21,501.51 L206.55,502.35 L206.88,503.19 L207.22,504.02 L207.56,504.86 L207.93,505.70 L208.32,506.54 L208.75,507.38 L209.23,508.21 L209.76,509.05 L210.36,509.89 L211.02,510.73 L211.73,511.56 L212.48,512.40 L213.26,513.24 L214.07,514.08 L214.97,514.91 L215.96,515.75 L216.99,516.59 L218.01,517.42 L219.06,518.26 L220.17,519.10 L221.22,519.94 L222.11,520.77 L222.82,521.61 L223.51,522.45 L224.07,523.29 L224.38,524.12 L224.35,524.96 L224.14,525.80 L223.78,526.64 L223.32,527.48 L222.75,528.31 L221.70,529.15 L220.33,529.99 L218.96,530.83 L217.75,531.66 L216.52,532.50 L215.28,533.34 L214.08,534.17 L212.94,535.01 L211.88,535.85 L210.90,536.69 L209.96,537.52 L209.06,538.36 L208.20,539.20 L207.39,540.04 L206.63,540.88 L205.93,541.71 L205.27,542.55 L204.64,543.39 L204.02,544.23 L203.42,545.06 L202.85,545.90 L202.32,546.74 L201.83,547.58 L201.39,548.41 L201.00,549.25 L200.67,550.09 L200.38,550.92 L200.12,551.76 L199.89,552.60 L199.67,553.44 L199.47,554.27 L199.28,555.11 L199.10,555.95 L198.92,556.79 L198.75,557.62 L198.56,558.46 L198.37,559.30 L198.17,560.14 L197.96,560.98 L197.75,561.81 L197.54,562.65 L197.33,563.49 L197.12,564.33 L196.91,565.16 L196.70,566.00 L196.7,566.0 Z" fill="#6aaad2" fill-opacity="0.95" stroke="#4f90bd" stroke-width="0.6" stroke-linejoin="round"/>
<path d="M196.7,470.0 L196.70,470.00 L196.70,470.60 L196.70,471.20 L196.71,471.80 L196.71,472.40 L196.72,473.00 L196.73,473.60 L196.74,474.20 L196.75,474.80 L196.76,475.40 L196.78,476.00 L196.79,476.60 L196.81,477.20 L196.83,477.80 L196.85,478.40 L196.87,479.00 L196.89,479.60 L196.92,480.20 L196.94,480.80 L196.97,481.40 L196.99,482.00 L197.02,482.60 L197.05,483.20 L197.08,483.80 L197.11,484.40 L197.14,485.00 L197.18,485.60 L197.21,486.20 L197.25,486.80 L197.28,487.40 L197.32,488.00 L197.36,488.60 L197.39,489.20 L197.43,489.80 L197.47,490.40 L197.52,491.00 L197.56,491.60 L197.60,492.20 L197.64,492.80 L197.69,493.40 L197.73,494.00 L197.77,494.60 L197.82,495.20 L197.87,495.80 L197.91,496.40 L197.96,497.00 L198.01,497.60 L198.05,498.20 L198.10,498.80 L198.15,499.40 L198.20,500.00 L198.25,500.60 L198.31,501.20 L198.37,501.80 L198.43,502.40 L198.50,503.00 L198.57,503.60 L198.65,504.20 L198.73,504.80 L198.82,505.40 L198.91,506.00 L199.00,506.60 L199.10,507.20 L199.20,507.80 L199.31,508.40 L199.42,509.00 L199.53,509.60 L199.64,510.20 L199.76,510.80 L199.89,511.40 L200.01,512.00 L200.15,512.60 L200.28,513.20 L200.42,513.80 L200.56,514.40 L200.70,515.00 L200.85,515.60 L201.01,516.20 L201.18,516.80 L201.35,517.40 L201.54,518.00 L201.74,518.60 L201.95,519.20 L202.18,519.80 L202.41,520.40 L202.66,521.00 L202.92,521.60 L203.20,522.20 L203.49,522.80 L203.80,523.40 L204.12,524.00 L204.46,524.60 L204.82,525.20 L205.25,525.80 L205.75,526.40 L206.31,527.00 L206.92,527.60 L207.58,528.20 L208.27,528.80 L208.98,529.40 L209.70,530.00 L210.48,530.60 L211.36,531.20 L212.29,531.80 L213.25,532.40 L214.21,533.00 L215.12,533.60 L215.99,534.20 L216.95,534.80 L217.99,535.40 L219.00,536.00 L219.88,536.60 L220.54,537.20 L220.88,537.80 L220.89,538.40 L220.87,539.00 L220.82,539.60 L220.75,540.20 L220.66,540.80 L220.56,541.40 L220.40,542.00 L220.01,542.60 L219.42,543.20 L218.73,543.80 L218.03,544.40 L217.40,545.00 L216.85,545.60 L216.33,546.20 L215.81,546.80 L215.26,547.40 L214.67,548.00 L214.00,548.60 L213.17,549.20 L212.16,549.80 L211.06,550.40 L209.96,551.00 L208.94,551.60 L208.12,552.20 L207.53,552.80 L207.05,553.40 L206.62,554.00 L206.25,554.60 L205.91,555.20 L205.59,555.80 L205.28,556.40 L204.97,557.00 L204.64,557.60 L204.28,558.20 L203.87,558.80 L203.44,559.40 L203.01,560.00 L202.58,560.60 L202.13,561.20 L201.67,561.80 L201.18,562.40 L200.64,563.00 L200.06,563.60 L199.42,564.20 L198.71,564.80 L197.89,565.40 L196.70,566.00 L196.7,566.0 Z" fill="#ee7cb2" fill-opacity="0.8" stroke="#d45f98" stroke-width="0.6" stroke-linejoin="round"/>
<path d="M196.7,440.0 L196.70,440.00 L196.71,440.79 L196.73,441.57 L196.74,442.36 L196.76,443.15 L196.78,443.94 L196.79,444.73 L196.81,445.51 L196.82,446.30 L196.84,447.09 L196.86,447.88 L196.87,448.66 L196.89,449.45 L196.91,450.24 L196.93,451.02 L196.94,451.81 L196.96,452.60 L196.98,453.39 L197.00,454.18 L197.02,454.96 L197.04,455.75 L197.06,456.54 L197.07,457.32 L197.09,458.11 L197.11,458.90 L197.13,459.69 L197.15,460.48 L197.17,461.26 L197.19,462.05 L197.21,462.84 L197.23,463.62 L197.25,464.41 L197.27,465.20 L197.29,465.99 L197.31,466.77 L197.34,467.56 L197.36,468.35 L197.38,469.14 L197.40,469.93 L197.42,470.71 L197.44,471.50 L197.46,472.29 L197.47,473.07 L197.49,473.86 L197.51,474.65 L197.53,475.44 L197.55,476.23 L197.58,477.01 L197.60,477.80 L197.63,478.59 L197.67,479.38 L197.71,480.16 L197.77,480.95 L197.87,481.74 L197.98,482.52 L198.11,483.31 L198.25,484.10 L198.38,484.89 L198.51,485.68 L198.63,486.46 L198.73,487.25 L198.81,488.04 L198.89,488.82 L198.96,489.61 L199.03,490.40 L199.10,491.19 L199.17,491.98 L199.25,492.76 L199.34,493.55 L199.45,494.34 L199.56,495.12 L199.69,495.91 L199.83,496.70 L199.98,497.49 L200.14,498.27 L200.32,499.06 L200.51,499.85 L200.70,500.64 L200.92,501.43 L201.17,502.21 L201.44,503.00 L201.75,503.79 L202.07,504.57 L202.41,505.36 L202.76,506.15 L203.12,506.94 L203.48,507.73 L203.83,508.51 L204.20,509.30 L204.58,510.09 L204.98,510.88 L205.39,511.66 L205.81,512.45 L206.25,513.24 L206.71,514.02 L207.21,514.81 L207.73,515.60 L208.28,516.39 L208.86,517.17 L209.46,517.96 L210.10,518.75 L210.77,519.54 L211.44,520.33 L212.09,521.11 L212.73,521.90 L213.36,522.69 L213.98,523.48 L214.59,524.26 L215.20,525.05 L215.80,525.84 L216.39,526.62 L216.97,527.41 L217.55,528.20 L218.17,528.99 L218.78,529.77 L219.29,530.56 L219.64,531.35 L219.95,532.14 L220.16,532.92 L220.18,533.71 L220.04,534.50 L219.79,535.29 L219.27,536.08 L218.51,536.86 L217.62,537.65 L216.61,538.44 L215.26,539.23 L213.70,540.01 L212.11,540.80 L210.68,541.59 L209.40,542.38 L208.03,543.16 L206.64,543.95 L205.28,544.74 L204.03,545.52 L202.93,546.31 L202.05,547.10 L201.45,547.89 L201.19,548.67 L201.10,549.46 L201.03,550.25 L200.98,551.04 L200.94,551.83 L200.90,552.61 L200.87,553.40 L200.83,554.19 L200.78,554.98 L200.72,555.76 L200.65,556.55 L200.58,557.34 L200.51,558.12 L200.43,558.91 L200.34,559.70 L200.23,560.49 L200.09,561.27 L199.93,562.06 L199.74,562.85 L199.38,563.64 L198.65,564.42 L197.71,565.21 L196.70,566.00 L196.7,566.0 Z" fill="#d43d84" fill-opacity="0.88" stroke="#a82a64" stroke-width="0.6" stroke-linejoin="round"/>
<line x1="196.70" y1="432.00" x2="196.70" y2="566.00" stroke="#9a3a78" stroke-width="0.9"/>
<circle cx="32.7" cy="614.1" r="1.35" fill="#a85a6a"/>
<text x="37.60" y="617.10" font-size="9.0" text-anchor="start" fill="#2a2a2a" stroke="#2a2a2a" stroke-width="0.12" textLength="49.8" lengthAdjust="spacingAndGlyphs">Chapuy, 2018</text>
<circle cx="95.6" cy="614.1" r="1.35" fill="#3a88b8"/>
<text x="100.20" y="617.10" font-size="9.0" text-anchor="start" fill="#2a2a2a" stroke="#2a2a2a" stroke-width="0.12" textLength="52.0" lengthAdjust="spacingAndGlyphs">Schmitz, 2018</text>
<circle cx="160.2" cy="614.1" r="1.35" fill="#e8a0c0"/>
<text x="165.00" y="617.10" font-size="9.0" text-anchor="start" fill="#2a2a2a" stroke="#2a2a2a" stroke-width="0.12" textLength="45.5" lengthAdjust="spacingAndGlyphs">Reddy, 2017</text>
<text x="383.70" y="378.75" font-size="10.4" text-anchor="middle" fill="#2a2a2a" stroke="#2a2a2a" stroke-width="0.12" textLength="78.0" lengthAdjust="spacingAndGlyphs">DLBCL, FL or BL</text>
<text x="383.50" y="390.75" font-size="10.4" text-anchor="middle" fill="#2a2a2a" stroke="#2a2a2a" stroke-width="0.12" textLength="118.5" lengthAdjust="spacingAndGlyphs">WGS Cohorts (T/N Pairs)</text>
<line x1="304.00" y1="564.90" x2="464.50" y2="564.90" stroke="#ededed" stroke-width="0.6"/>
<line x1="304.00" y1="519.70" x2="464.50" y2="519.70" stroke="#ededed" stroke-width="0.6"/>
<line x1="304.00" y1="474.50" x2="464.50" y2="474.50" stroke="#ededed" stroke-width="0.6"/>
<line x1="304.00" y1="429.30" x2="464.50" y2="429.30" stroke="#ededed" stroke-width="0.6"/>
<line x1="340.70" y1="424.00" x2="340.70" y2="570.50" stroke="#ededed" stroke-width="0.6"/>
<line x1="385.90" y1="424.00" x2="385.90" y2="570.50" stroke="#ededed" stroke-width="0.6"/>
<line x1="431.10" y1="424.00" x2="431.10" y2="570.50" stroke="#ededed" stroke-width="0.6"/>
<circle cx="334.0" cy="525.9" r="0.85" fill="#98b888" fill-opacity="0.85"/>
<circle cx="357.5" cy="523.8" r="0.85" fill="#f2aa55" fill-opacity="0.85"/>
<circle cx="357.9" cy="541.6" r="0.85" fill="#f2aa55" fill-opacity="0.85"/>
<circle cx="352.1" cy="499.1" r="0.85" fill="#f2aa55" fill-opacity="0.85"/>
<circle cx="425.7" cy="535.5" r="0.85" fill="#dc2f79" fill-opacity="0.85"/>
<circle cx="410.5" cy="513.4" r="0.85" fill="#dc2f79" fill-opacity="0.85"/>
<circle cx="362.4" cy="540.8" r="0.85" fill="#f2aa55" fill-opacity="0.85"/>
<circle cx="435.8" cy="531.0" r="0.85" fill="#dc2f79" fill-opacity="0.85"/>
<circle cx="428.7" cy="533.9" r="0.85" fill="#9a88a8" fill-opacity="0.85"/>
<circle cx="357.3" cy="560.6" r="0.85" fill="#f2aa55" fill-opacity="0.85"/>
<circle cx="341.2" cy="520.2" r="0.85" fill="#f2aa55" fill-opacity="0.85"/>
<circle cx="421.1" cy="525.6" r="0.85" fill="#9a88a8" fill-opacity="0.85"/>
<circle cx="358.1" cy="550.1" r="0.85" fill="#f2aa55" fill-opacity="0.85"/>
<circle cx="346.0" cy="465.9" r="0.85" fill="#f2aa55" fill-opacity="0.85"/>
<circle cx="401.4" cy="533.7" r="0.85" fill="#62b4d8" fill-opacity="0.85"/>
<circle cx="393.6" cy="548.2" r="0.85" fill="#62b4d8" fill-opacity="0.85"/>
<circle cx="350.1" cy="528.3" r="0.85" fill="#98b888" fill-opacity="0.85"/>
<circle cx="438.0" cy="542.2" r="0.85" fill="#dc2f79" fill-opacity="0.85"/>
<circle cx="355.0" cy="467.8" r="0.85" fill="#f2aa55" fill-opacity="0.85"/>
<circle cx="358.1" cy="541.2" r="0.85" fill="#f2aa55" fill-opacity="0.85"/>
<circle cx="356.5" cy="474.3" r="0.85" fill="#f2aa55" fill-opacity="0.85"/>
<circle cx="367.9" cy="555.6" r="0.85" fill="#f2aa55" fill-opacity="0.85"/>
<circle cx="361.7" cy="468.9" r="0.85" fill="#f2aa55" fill-opacity="0.85"/>
<circle cx="407.4" cy="540.3" r="0.85" fill="#62b4d8" fill-opacity="0.85"/>
<circle cx="420.0" cy="508.9" r="0.85" fill="#dc2f79" fill-opacity="0.85"/>
<circle cx="410.6" cy="540.6" r="0.85" fill="#dc2f79" fill-opacity="0.85"/>
<circle cx="353.2" cy="555.7" r="0.85" fill="#f2aa55" fill-opacity="0.85"/>
<circle cx="414.3" cy="550.8" r="0.85" fill="#dc2f79" fill-opacity="0.85"/>
<circle cx="358.1" cy="554.6" r="0.85" fill="#f2aa55" fill-opacity="0.85"/>
<circle cx="356.2" cy="500.1" r="0.85" fill="#f2aa55" fill-opacity="0.85"/>
<circle cx="417.4" cy="552.1" r="0.85" fill="#dc2f79" fill-opacity="0.85"/>
<circle cx="364.2" cy="527.0" r="0.85" fill="#f2aa55" fill-opacity="0.85"/>
<circle cx="394.3" cy="554.5" r="0.85" fill="#62b4d8" fill-opacity="0.85"/>
<circle cx="356.7" cy="535.3" r="0.85" fill="#f2aa55" fill-opacity="0.85"/>
<circle cx="416.5" cy="536.8" r="0.85" fill="#dc2f79" fill-opacity="0.85"/>
<circle cx="416.5" cy="552.2" r="0.85" fill="#dc2f79" fill-opacity="0.85"/>
<circle cx="392.4" cy="549.2" r="0.85" fill="#62b4d8" fill-opacity="0.85"/>
<circle cx="353.9" cy="517.9" r="0.85" fill="#f2aa55" fill-opacity="0.85"/>
<circle cx="356.2" cy="518.0" r="0.85" fill="#f2aa55" fill-opacity="0.85"/>
<circle cx="353.2" cy="546.2" r="0.85" fill="#f2aa55" fill-opacity="0.85"/>
<circle cx="412.6" cy="536.7" r="0.85" fill="#9a88a8" fill-opacity="0.85"/>
<circle cx="427.5" cy="553.1" r="0.85" fill="#dc2f79" fill-opacity="0.85"/>
<circle cx="340.3" cy="539.8" r="0.85" fill="#98b888" fill-opacity="0.85"/>
<circle cx="436.6" cy="551.7" r="0.85" fill="#dc2f79" fill-opacity="0.85"/>
<circle cx="360.0" cy="502.4" r="0.85" fill="#f2aa55" fill-opacity="0.85"/>
<circle cx="352.2" cy="549.0" r="0.85" fill="#f2aa55" fill-opacity="0.85"/>
<circle cx="408.2" cy="535.8" r="0.85" fill="#9a88a8" fill-opacity="0.85"/>
<circle cx="363.6" cy="545.8" r="0.85" fill="#f2aa55" fill-opacity="0.85"/>
<circle cx="444.8" cy="500.8" r="0.85" fill="#dc2f79" fill-opacity="0.85"/>
<circle cx="362.6" cy="546.8" r="0.85" fill="#f2aa55" fill-opacity="0.85"/>
<circle cx="417.3" cy="545.2" r="0.85" fill="#9a88a8" fill-opacity="0.85"/>
<circle cx="422.3" cy="531.9" r="0.85" fill="#dc2f79" fill-opacity="0.85"/>
<circle cx="346.9" cy="546.3" r="0.85" fill="#98b888" fill-opacity="0.85"/>
<circle cx="404.1" cy="549.1" r="0.85" fill="#62b4d8" fill-opacity="0.85"/>
<circle cx="332.2" cy="548.3" r="0.85" fill="#98b888" fill-opacity="0.85"/>
<circle cx="422.9" cy="520.9" r="0.85" fill="#dc2f79" fill-opacity="0.85"/>
<circle cx="408.3" cy="553.0" r="0.85" fill="#dc2f79" fill-opacity="0.85"/>
<circle cx="358.4" cy="547.9" r="0.85" fill="#f2aa55" fill-opacity="0.85"/>
<circle cx="392.8" cy="558.3" r="0.85" fill="#62b4d8" fill-opacity="0.85"/>
<circle cx="333.9" cy="544.0" r="0.85" fill="#98b888" fill-opacity="0.85"/>
<circle cx="354.0" cy="545.5" r="0.85" fill="#f2aa55" fill-opacity="0.85"/>
<circle cx="427.8" cy="496.2" r="0.85" fill="#9a88a8" fill-opacity="0.85"/>
<circle cx="358.0" cy="490.7" r="0.85" fill="#f2aa55" fill-opacity="0.85"/>
<circle cx="366.0" cy="501.8" r="0.85" fill="#f2aa55" fill-opacity="0.85"/>
<circle cx="337.0" cy="538.5" r="0.85" fill="#98b888" fill-opacity="0.85"/>
<circle cx="436.4" cy="521.5" r="0.85" fill="#9a88a8" fill-opacity="0.85"/>
<circle cx="426.7" cy="551.6" r="0.85" fill="#dc2f79" fill-opacity="0.85"/>
<circle cx="359.2" cy="542.1" r="0.85" fill="#f2aa55" fill-opacity="0.85"/>
<circle cx="353.0" cy="554.6" r="0.85" fill="#f2aa55" fill-opacity="0.85"/>
<circle cx="348.3" cy="559.5" r="0.85" fill="#f2aa55" fill-opacity="0.85"/>
<circle cx="423.2" cy="534.6" r="0.85" fill="#dc2f79" fill-opacity="0.85"/>
<circle cx="440.4" cy="503.7" r="0.85" fill="#9a88a8" fill-opacity="0.85"/>
<circle cx="367.2" cy="553.5" r="0.85" fill="#f2aa55" fill-opacity="0.85"/>
<circle cx="404.8" cy="535.4" r="0.85" fill="#62b4d8" fill-opacity="0.85"/>
<circle cx="435.9" cy="554.2" r="0.85" fill="#9a88a8" fill-opacity="0.85"/>
<circle cx="350.3" cy="539.6" r="0.85" fill="#f2aa55" fill-opacity="0.85"/>
<circle cx="355.0" cy="525.6" r="0.85" fill="#f2aa55" fill-opacity="0.85"/>
<circle cx="416.1" cy="530.0" r="0.85" fill="#dc2f79" fill-opacity="0.85"/>
<circle cx="349.5" cy="550.4" r="0.85" fill="#f2aa55" fill-opacity="0.85"/>
<circle cx="418.6" cy="539.6" r="0.85" fill="#dc2f79" fill-opacity="0.85"/>
<circle cx="359.0" cy="516.2" r="0.85" fill="#f2aa55" fill-opacity="0.85"/>
<circle cx="348.9" cy="479.0" r="0.85" fill="#f2aa55" fill-opacity="0.85"/>
<circle cx="355.8" cy="490.2" r="0.85" fill="#f2aa55" fill-opacity="0.85"/>
<circle cx="353.4" cy="451.1" r="0.85" fill="#f2aa55" fill-opacity="0.85"/>
<circle cx="340.0" cy="510.4" r="0.85" fill="#98b888" fill-opacity="0.85"/>
<circle cx="342.5" cy="527.9" r="0.85" fill="#98b888" fill-opacity="0.85"/>
<circle cx="356.2" cy="545.1" r="0.85" fill="#f2aa55" fill-opacity="0.85"/>
<circle cx="424.4" cy="548.3" r="0.85" fill="#dc2f79" fill-opacity="0.85"/>
<circle cx="357.3" cy="531.2" r="0.85" fill="#f2aa55" fill-opacity="0.85"/>
<circle cx="350.8" cy="525.5" r="0.85" fill="#f2aa55" fill-opacity="0.85"/>
<circle cx="360.1" cy="506.2" r="0.85" fill="#f2aa55" fill-opacity="0.85"/>
<circle cx="429.5" cy="522.6" r="0.85" fill="#9a88a8" fill-opacity="0.85"/>
<circle cx="363.1" cy="530.2" r="0.85" fill="#f2aa55" fill-opacity="0.85"/>
<circle cx="434.7" cy="532.8" r="0.85" fill="#dc2f79" fill-opacity="0.85"/>
<circle cx="355.2" cy="551.6" r="0.85" fill="#f2aa55" fill-opacity="0.85"/>
<circle cx="419.3" cy="555.3" r="0.85" fill="#dc2f79" fill-opacity="0.85"/>
<circle cx="345.3" cy="555.8" r="0.85" fill="#f2aa55" fill-opacity="0.85"/>
<circle cx="351.9" cy="539.3" r="0.85" fill="#f2aa55" fill-opacity="0.85"/>
<circle cx="356.4" cy="527.1" r="0.85" fill="#f2aa55" fill-opacity="0.85"/>
<circle cx="439.3" cy="535.7" r="0.85" fill="#dc2f79" fill-opacity="0.85"/>
<circle cx="353.4" cy="548.1" r="0.85" fill="#f2aa55" fill-opacity="0.85"/>
<circle cx="414.5" cy="506.5" r="0.85" fill="#9a88a8" fill-opacity="0.85"/>
<circle cx="356.2" cy="543.0" r="0.85" fill="#f2aa55" fill-opacity="0.85"/>
<circle cx="355.9" cy="546.1" r="0.85" fill="#f2aa55" fill-opacity="0.85"/>
<circle cx="360.5" cy="552.5" r="0.85" fill="#f2aa55" fill-opacity="0.85"/>
<circle cx="383.1" cy="551.4" r="0.85" fill="#62b4d8" fill-opacity="0.85"/>
<circle cx="400.0" cy="551.5" r="0.85" fill="#62b4d8" fill-opacity="0.85"/>
<circle cx="416.6" cy="520.0" r="0.85" fill="#dc2f79" fill-opacity="0.85"/>
<circle cx="424.0" cy="536.0" r="0.85" fill="#dc2f79" fill-opacity="0.85"/>
<circle cx="420.6" cy="530.8" r="0.85" fill="#dc2f79" fill-opacity="0.85"/>
<circle cx="364.1" cy="531.0" r="0.85" fill="#f2aa55" fill-opacity="0.85"/>
<circle cx="352.7" cy="533.1" r="0.85" fill="#f2aa55" fill-opacity="0.85"/>
<circle cx="427.8" cy="470.5" r="0.85" fill="#9a88a8" fill-opacity="0.85"/>
<circle cx="397.3" cy="553.8" r="0.85" fill="#62b4d8" fill-opacity="0.85"/>
<circle cx="407.4" cy="536.5" r="0.85" fill="#62b4d8" fill-opacity="0.85"/>
<circle cx="360.4" cy="476.8" r="0.85" fill="#f2aa55" fill-opacity="0.85"/>
<circle cx="388.3" cy="539.9" r="0.85" fill="#62b4d8" fill-opacity="0.85"/>
<circle cx="355.1" cy="505.5" r="0.85" fill="#f2aa55" fill-opacity="0.85"/>
<circle cx="389.8" cy="544.5" r="0.85" fill="#62b4d8" fill-opacity="0.85"/>
<circle cx="418.9" cy="536.1" r="0.85" fill="#dc2f79" fill-opacity="0.85"/>
<circle cx="350.6" cy="477.2" r="0.85" fill="#f2aa55" fill-opacity="0.85"/>
<circle cx="434.4" cy="536.1" r="0.85" fill="#9a88a8" fill-opacity="0.85"/>
<circle cx="354.7" cy="560.6" r="0.85" fill="#f2aa55" fill-opacity="0.85"/>
<circle cx="349.7" cy="462.1" r="0.85" fill="#f2aa55" fill-opacity="0.85"/>
<circle cx="391.6" cy="537.0" r="0.85" fill="#62b4d8" fill-opacity="0.85"/>
<circle cx="392.7" cy="550.4" r="0.85" fill="#62b4d8" fill-opacity="0.85"/>
<circle cx="426.1" cy="541.9" r="0.85" fill="#9a88a8" fill-opacity="0.85"/>
<circle cx="359.0" cy="538.5" r="0.85" fill="#f2aa55" fill-opacity="0.85"/>
<circle cx="433.9" cy="523.8" r="0.85" fill="#dc2f79" fill-opacity="0.85"/>
<circle cx="428.4" cy="520.9" r="0.85" fill="#dc2f79" fill-opacity="0.85"/>
<circle cx="412.8" cy="520.7" r="0.85" fill="#9a88a8" fill-opacity="0.85"/>
<circle cx="359.5" cy="555.2" r="0.85" fill="#f2aa55" fill-opacity="0.85"/>
<circle cx="358.0" cy="542.5" r="0.85" fill="#f2aa55" fill-opacity="0.85"/>
<circle cx="348.4" cy="559.1" r="0.85" fill="#f2aa55" fill-opacity="0.85"/>
<circle cx="337.9" cy="535.0" r="0.85" fill="#98b888" fill-opacity="0.85"/>
<circle cx="439.2" cy="550.8" r="0.85" fill="#dc2f79" fill-opacity="0.85"/>
<circle cx="418.5" cy="514.3" r="0.85" fill="#dc2f79" fill-opacity="0.85"/>
<circle cx="385.4" cy="503.0" r="0.85" fill="#62b4d8" fill-opacity="0.85"/>
<circle cx="345.4" cy="521.6" r="0.85" fill="#f2aa55" fill-opacity="0.85"/>
<circle cx="360.0" cy="472.3" r="0.85" fill="#f2aa55" fill-opacity="0.85"/>
<circle cx="355.3" cy="500.2" r="0.85" fill="#f2aa55" fill-opacity="0.85"/>
<circle cx="358.3" cy="556.7" r="0.85" fill="#f2aa55" fill-opacity="0.85"/>
<circle cx="406.2" cy="487.3" r="0.85" fill="#9a88a8" fill-opacity="0.85"/>
<circle cx="421.0" cy="547.1" r="0.85" fill="#dc2f79" fill-opacity="0.85"/>
<circle cx="423.9" cy="555.0" r="0.85" fill="#dc2f79" fill-opacity="0.85"/>
<circle cx="419.2" cy="548.3" r="0.85" fill="#62b4d8" fill-opacity="0.85"/>
<circle cx="353.7" cy="470.1" r="0.85" fill="#f2aa55" fill-opacity="0.85"/>
<circle cx="349.6" cy="519.3" r="0.85" fill="#f2aa55" fill-opacity="0.85"/>
<circle cx="426.6" cy="519.9" r="0.85" fill="#dc2f79" fill-opacity="0.85"/>
<circle cx="424.6" cy="521.3" r="0.85" fill="#9a88a8" fill-opacity="0.85"/>
<circle cx="432.4" cy="523.9" r="0.85" fill="#dc2f79" fill-opacity="0.85"/>
<circle cx="358.7" cy="463.9" r="0.85" fill="#f2aa55" fill-opacity="0.85"/>
<circle cx="359.4" cy="529.8" r="0.85" fill="#f2aa55" fill-opacity="0.85"/>
<circle cx="359.7" cy="552.8" r="0.85" fill="#f2aa55" fill-opacity="0.85"/>
<circle cx="356.2" cy="514.2" r="0.85" fill="#f2aa55" fill-opacity="0.85"/>
<circle cx="345.1" cy="546.6" r="0.85" fill="#f2aa55" fill-opacity="0.85"/>
<circle cx="343.0" cy="511.3" r="0.85" fill="#f2aa55" fill-opacity="0.85"/>
<circle cx="398.6" cy="537.4" r="0.85" fill="#62b4d8" fill-opacity="0.85"/>
<circle cx="428.1" cy="541.1" r="0.85" fill="#dc2f79" fill-opacity="0.85"/>
<circle cx="432.3" cy="516.9" r="0.85" fill="#9a88a8" fill-opacity="0.85"/>
<circle cx="347.6" cy="548.4" r="0.85" fill="#f2aa55" fill-opacity="0.85"/>
<circle cx="384.2" cy="543.6" r="0.85" fill="#62b4d8" fill-opacity="0.85"/>
<circle cx="400.2" cy="544.8" r="0.85" fill="#62b4d8" fill-opacity="0.85"/>
<circle cx="409.4" cy="526.4" r="0.85" fill="#62b4d8" fill-opacity="0.85"/>
<circle cx="356.4" cy="546.6" r="0.85" fill="#f2aa55" fill-opacity="0.85"/>
<circle cx="391.7" cy="536.3" r="0.85" fill="#62b4d8" fill-opacity="0.85"/>
<circle cx="412.4" cy="525.8" r="0.85" fill="#9a88a8" fill-opacity="0.85"/>
<circle cx="427.2" cy="539.9" r="0.85" fill="#dc2f79" fill-opacity="0.85"/>
<circle cx="379.6" cy="540.6" r="0.85" fill="#62b4d8" fill-opacity="0.85"/>
<circle cx="404.1" cy="550.7" r="0.85" fill="#62b4d8" fill-opacity="0.85"/>
<circle cx="418.7" cy="528.2" r="0.85" fill="#9a88a8" fill-opacity="0.85"/>
<circle cx="356.4" cy="460.7" r="0.85" fill="#f2aa55" fill-opacity="0.85"/>
<circle cx="431.5" cy="454.7" r="0.85" fill="#9a88a8" fill-opacity="0.85"/>
<circle cx="349.0" cy="535.0" r="0.85" fill="#f2aa55" fill-opacity="0.85"/>
<circle cx="424.9" cy="528.9" r="0.85" fill="#dc2f79" fill-opacity="0.85"/>
<circle cx="398.9" cy="551.9" r="0.85" fill="#62b4d8" fill-opacity="0.85"/>
<circle cx="418.0" cy="537.9" r="0.85" fill="#9a88a8" fill-opacity="0.85"/>
<circle cx="434.4" cy="514.1" r="0.85" fill="#9a88a8" fill-opacity="0.85"/>
<circle cx="410.1" cy="467.0" r="0.85" fill="#9a88a8" fill-opacity="0.85"/>
<circle cx="365.7" cy="527.5" r="0.85" fill="#f2aa55" fill-opacity="0.85"/>
<circle cx="400.9" cy="476.1" r="0.85" fill="#9a88a8" fill-opacity="0.85"/>
<circle cx="357.6" cy="541.9" r="0.85" fill="#f2aa55" fill-opacity="0.85"/>
<circle cx="406.3" cy="531.2" r="0.85" fill="#9a88a8" fill-opacity="0.85"/>
<circle cx="418.4" cy="490.6" r="0.85" fill="#9a88a8" fill-opacity="0.85"/>
<circle cx="406.8" cy="502.9" r="0.85" fill="#dc2f79" fill-opacity="0.85"/>
<circle cx="354.6" cy="541.1" r="0.85" fill="#98b888" fill-opacity="0.85"/>
<circle cx="362.3" cy="545.9" r="0.85" fill="#f2aa55" fill-opacity="0.85"/>
<circle cx="433.0" cy="492.2" r="0.85" fill="#9a88a8" fill-opacity="0.85"/>
<circle cx="397.5" cy="533.9" r="0.85" fill="#62b4d8" fill-opacity="0.85"/>
<circle cx="437.6" cy="541.5" r="0.85" fill="#dc2f79" fill-opacity="0.85"/>
<circle cx="394.0" cy="551.8" r="0.85" fill="#62b4d8" fill-opacity="0.85"/>
<circle cx="357.5" cy="472.0" r="0.85" fill="#f2aa55" fill-opacity="0.85"/>
<circle cx="350.1" cy="534.9" r="0.85" fill="#f2aa55" fill-opacity="0.85"/>
<circle cx="453.0" cy="547.3" r="0.85" fill="#9a88a8" fill-opacity="0.85"/>
<circle cx="450.7" cy="527.9" r="0.85" fill="#9a88a8" fill-opacity="0.85"/>
<circle cx="390.3" cy="543.2" r="0.85" fill="#62b4d8" fill-opacity="0.85"/>
<circle cx="417.3" cy="540.6" r="0.85" fill="#dc2f79" fill-opacity="0.85"/>
<circle cx="359.7" cy="553.2" r="0.85" fill="#f2aa55" fill-opacity="0.85"/>
<circle cx="355.4" cy="548.1" r="0.85" fill="#f2aa55" fill-opacity="0.85"/>
<circle cx="349.6" cy="491.1" r="0.85" fill="#f2aa55" fill-opacity="0.85"/>
<circle cx="416.6" cy="474.6" r="0.85" fill="#9a88a8" fill-opacity="0.85"/>
<circle cx="432.1" cy="543.2" r="0.85" fill="#dc2f79" fill-opacity="0.85"/>
<circle cx="356.4" cy="510.6" r="0.85" fill="#f2aa55" fill-opacity="0.85"/>
<circle cx="446.5" cy="526.0" r="0.85" fill="#dc2f79" fill-opacity="0.85"/>
<circle cx="357.2" cy="531.6" r="0.85" fill="#f2aa55" fill-opacity="0.85"/>
<circle cx="400.8" cy="545.3" r="0.85" fill="#9a88a8" fill-opacity="0.85"/>
<circle cx="428.1" cy="545.4" r="0.85" fill="#dc2f79" fill-opacity="0.85"/>
<circle cx="356.6" cy="544.0" r="0.85" fill="#f2aa55" fill-opacity="0.85"/>
<circle cx="374.4" cy="538.3" r="0.85" fill="#f2aa55" fill-opacity="0.85"/>
<circle cx="354.1" cy="544.0" r="0.85" fill="#98b888" fill-opacity="0.85"/>
<circle cx="434.9" cy="525.2" r="0.85" fill="#9a88a8" fill-opacity="0.85"/>
<circle cx="419.5" cy="494.6" r="0.85" fill="#9a88a8" fill-opacity="0.85"/>
<circle cx="346.2" cy="557.1" r="0.85" fill="#f2aa55" fill-opacity="0.85"/>
<circle cx="351.5" cy="533.6" r="0.85" fill="#f2aa55" fill-opacity="0.85"/>
<circle cx="437.7" cy="549.9" r="0.85" fill="#dc2f79" fill-opacity="0.85"/>
<circle cx="352.1" cy="516.3" r="0.85" fill="#f2aa55" fill-opacity="0.85"/>
<circle cx="407.9" cy="552.7" r="0.85" fill="#62b4d8" fill-opacity="0.85"/>
<circle cx="357.2" cy="542.3" r="0.85" fill="#f2aa55" fill-opacity="0.85"/>
<circle cx="360.8" cy="557.7" r="0.85" fill="#f2aa55" fill-opacity="0.85"/>
<circle cx="401.3" cy="547.7" r="0.85" fill="#62b4d8" fill-opacity="0.85"/>
<circle cx="416.5" cy="518.9" r="0.85" fill="#9a88a8" fill-opacity="0.85"/>
<circle cx="331.5" cy="510.8" r="0.85" fill="#98b888" fill-opacity="0.85"/>
<circle cx="360.5" cy="539.5" r="0.85" fill="#98b888" fill-opacity="0.85"/>
<circle cx="347.8" cy="497.9" r="0.85" fill="#f2aa55" fill-opacity="0.85"/>
<circle cx="444.7" cy="505.9" r="0.85" fill="#dc2f79" fill-opacity="0.85"/>
<circle cx="341.3" cy="533.1" r="0.85" fill="#98b888" fill-opacity="0.85"/>
<circle cx="350.1" cy="438.9" r="0.85" fill="#f2aa55" fill-opacity="0.85"/>
<circle cx="360.5" cy="516.3" r="0.85" fill="#f2aa55" fill-opacity="0.85"/>
<circle cx="405.4" cy="533.4" r="0.85" fill="#9a88a8" fill-opacity="0.85"/>
<circle cx="355.2" cy="510.4" r="0.85" fill="#f2aa55" fill-opacity="0.85"/>
<circle cx="444.6" cy="547.1" r="0.85" fill="#dc2f79" fill-opacity="0.85"/>
<circle cx="359.3" cy="506.6" r="0.85" fill="#f2aa55" fill-opacity="0.85"/>
<circle cx="357.2" cy="554.8" r="0.85" fill="#f2aa55" fill-opacity="0.85"/>
<circle cx="361.8" cy="541.8" r="0.85" fill="#f2aa55" fill-opacity="0.85"/>
<circle cx="417.4" cy="507.6" r="0.85" fill="#dc2f79" fill-opacity="0.85"/>
<circle cx="414.4" cy="512.4" r="0.85" fill="#62b4d8" fill-opacity="0.85"/>
<circle cx="351.6" cy="545.0" r="0.85" fill="#f2aa55" fill-opacity="0.85"/>
<circle cx="435.2" cy="556.5" r="0.85" fill="#dc2f79" fill-opacity="0.85"/>
<circle cx="354.1" cy="548.6" r="0.85" fill="#f2aa55" fill-opacity="0.85"/>
<circle cx="364.1" cy="515.2" r="0.85" fill="#f2aa55" fill-opacity="0.85"/>
<circle cx="417.2" cy="492.0" r="0.85" fill="#dc2f79" fill-opacity="0.85"/>
<circle cx="422.9" cy="539.2" r="0.85" fill="#dc2f79" fill-opacity="0.85"/>
<circle cx="428.7" cy="501.9" r="0.85" fill="#9a88a8" fill-opacity="0.85"/>
<circle cx="404.2" cy="541.7" r="0.85" fill="#dc2f79" fill-opacity="0.85"/>
<circle cx="350.3" cy="486.1" r="0.85" fill="#f2aa55" fill-opacity="0.85"/>
<circle cx="403.4" cy="543.5" r="0.85" fill="#62b4d8" fill-opacity="0.85"/>
<circle cx="350.0" cy="548.7" r="0.85" fill="#f2aa55" fill-opacity="0.85"/>
<circle cx="422.3" cy="511.3" r="0.85" fill="#9a88a8" fill-opacity="0.85"/>
<circle cx="359.7" cy="515.6" r="0.85" fill="#f2aa55" fill-opacity="0.85"/>
<circle cx="417.7" cy="545.6" r="0.85" fill="#9a88a8" fill-opacity="0.85"/>
<circle cx="419.8" cy="523.2" r="0.85" fill="#dc2f79" fill-opacity="0.85"/>
<circle cx="356.8" cy="516.7" r="0.85" fill="#f2aa55" fill-opacity="0.85"/>
<circle cx="384.6" cy="532.8" r="0.85" fill="#62b4d8" fill-opacity="0.85"/>
<circle cx="358.5" cy="490.8" r="0.85" fill="#f2aa55" fill-opacity="0.85"/>
<circle cx="351.8" cy="513.6" r="0.85" fill="#f2aa55" fill-opacity="0.85"/>
<circle cx="405.8" cy="522.8" r="0.85" fill="#9a88a8" fill-opacity="0.85"/>
<circle cx="412.5" cy="524.4" r="0.85" fill="#9a88a8" fill-opacity="0.85"/>
<circle cx="330.2" cy="537.2" r="0.85" fill="#98b888" fill-opacity="0.85"/>
<circle cx="340.5" cy="546.6" r="0.85" fill="#98b888" fill-opacity="0.85"/>
<circle cx="354.8" cy="546.5" r="0.85" fill="#f2aa55" fill-opacity="0.85"/>
<circle cx="440.3" cy="478.1" r="0.85" fill="#dc2f79" fill-opacity="0.85"/>
<circle cx="362.1" cy="551.8" r="0.85" fill="#f2aa55" fill-opacity="0.85"/>
<circle cx="357.7" cy="514.4" r="0.85" fill="#f2aa55" fill-opacity="0.85"/>
<circle cx="418.1" cy="550.6" r="0.85" fill="#dc2f79" fill-opacity="0.85"/>
<circle cx="426.2" cy="537.1" r="0.85" fill="#dc2f79" fill-opacity="0.85"/>
<circle cx="440.9" cy="528.2" r="0.85" fill="#9a88a8" fill-opacity="0.85"/>
<circle cx="439.5" cy="544.9" r="0.85" fill="#dc2f79" fill-opacity="0.85"/>
<circle cx="340.9" cy="524.5" r="0.85" fill="#98b888" fill-opacity="0.85"/>
<circle cx="354.2" cy="555.4" r="0.85" fill="#f2aa55" fill-opacity="0.85"/>
<circle cx="428.5" cy="503.2" r="0.85" fill="#9a88a8" fill-opacity="0.85"/>
<circle cx="352.7" cy="549.7" r="0.85" fill="#f2aa55" fill-opacity="0.85"/>
<circle cx="436.4" cy="540.5" r="0.85" fill="#dc2f79" fill-opacity="0.85"/>
<circle cx="406.9" cy="545.4" r="0.85" fill="#62b4d8" fill-opacity="0.85"/>
<circle cx="416.7" cy="522.9" r="0.85" fill="#9a88a8" fill-opacity="0.85"/>
<circle cx="361.4" cy="551.9" r="0.85" fill="#f2aa55" fill-opacity="0.85"/>
<circle cx="354.2" cy="520.1" r="0.85" fill="#f2aa55" fill-opacity="0.85"/>
<circle cx="349.8" cy="494.2" r="0.85" fill="#f2aa55" fill-opacity="0.85"/>
<circle cx="435.6" cy="502.5" r="0.85" fill="#9a88a8" fill-opacity="0.85"/>
<circle cx="404.3" cy="537.6" r="0.85" fill="#62b4d8" fill-opacity="0.85"/>
<circle cx="367.5" cy="547.9" r="0.85" fill="#f2aa55" fill-opacity="0.85"/>
<circle cx="435.3" cy="543.9" r="0.85" fill="#dc2f79" fill-opacity="0.85"/>
<circle cx="348.7" cy="524.7" r="0.85" fill="#f2aa55" fill-opacity="0.85"/>
<circle cx="409.3" cy="521.8" r="0.85" fill="#dc2f79" fill-opacity="0.85"/>
<circle cx="396.5" cy="544.4" r="0.85" fill="#62b4d8" fill-opacity="0.85"/>
<circle cx="359.3" cy="540.2" r="0.85" fill="#f2aa55" fill-opacity="0.85"/>
<circle cx="402.5" cy="536.3" r="0.85" fill="#dc2f79" fill-opacity="0.85"/>
<circle cx="362.0" cy="533.7" r="0.85" fill="#f2aa55" fill-opacity="0.85"/>
<circle cx="396.7" cy="545.5" r="0.85" fill="#62b4d8" fill-opacity="0.85"/>
<circle cx="437.6" cy="540.2" r="0.85" fill="#dc2f79" fill-opacity="0.85"/>
<circle cx="356.4" cy="534.4" r="0.85" fill="#f2aa55" fill-opacity="0.85"/>
<circle cx="407.6" cy="510.2" r="0.85" fill="#9a88a8" fill-opacity="0.85"/>
<circle cx="351.0" cy="539.7" r="0.85" fill="#f2aa55" fill-opacity="0.85"/>
<circle cx="384.6" cy="549.2" r="0.85" fill="#62b4d8" fill-opacity="0.85"/>
<circle cx="453.8" cy="527.9" r="0.85" fill="#dc2f79" fill-opacity="0.85"/>
<circle cx="354.9" cy="542.3" r="0.85" fill="#f2aa55" fill-opacity="0.85"/>
<circle cx="408.1" cy="504.0" r="0.85" fill="#62b4d8" fill-opacity="0.85"/>
<circle cx="351.3" cy="552.7" r="0.85" fill="#f2aa55" fill-opacity="0.85"/>
<circle cx="358.1" cy="545.9" r="0.85" fill="#f2aa55" fill-opacity="0.85"/>
<circle cx="422.2" cy="537.3" r="0.85" fill="#dc2f79" fill-opacity="0.85"/>
<circle cx="355.6" cy="557.9" r="0.85" fill="#f2aa55" fill-opacity="0.85"/>
<circle cx="359.0" cy="491.0" r="0.85" fill="#f2aa55" fill-opacity="0.85"/>
<circle cx="348.4" cy="535.9" r="0.85" fill="#f2aa55" fill-opacity="0.85"/>
<circle cx="398.1" cy="538.9" r="0.85" fill="#62b4d8" fill-opacity="0.85"/>
<circle cx="347.8" cy="556.6" r="0.85" fill="#f2aa55" fill-opacity="0.85"/>
<circle cx="364.0" cy="533.1" r="0.85" fill="#f2aa55" fill-opacity="0.85"/>
<circle cx="424.1" cy="465.5" r="0.85" fill="#9a88a8" fill-opacity="0.85"/>
<circle cx="415.8" cy="554.1" r="0.85" fill="#dc2f79" fill-opacity="0.85"/>
<circle cx="381.7" cy="548.3" r="0.85" fill="#62b4d8" fill-opacity="0.85"/>
<circle cx="418.6" cy="548.3" r="0.85" fill="#62b4d8" fill-opacity="0.85"/>
<circle cx="378.3" cy="557.6" r="0.85" fill="#62b4d8" fill-opacity="0.85"/>
<circle cx="360.0" cy="544.0" r="0.85" fill="#f2aa55" fill-opacity="0.85"/>
<circle cx="423.1" cy="492.4" r="0.85" fill="#9a88a8" fill-opacity="0.85"/>
<circle cx="355.3" cy="535.2" r="0.85" fill="#f2aa55" fill-opacity="0.85"/>
<circle cx="341.1" cy="538.8" r="0.85" fill="#f2aa55" fill-opacity="0.85"/>
<circle cx="357.9" cy="560.7" r="0.85" fill="#f2aa55" fill-opacity="0.85"/>
<circle cx="394.9" cy="546.4" r="0.85" fill="#62b4d8" fill-opacity="0.85"/>
<circle cx="436.2" cy="534.0" r="0.85" fill="#9a88a8" fill-opacity="0.85"/>
<circle cx="443.5" cy="526.9" r="0.85" fill="#dc2f79" fill-opacity="0.85"/>
<circle cx="398.1" cy="512.9" r="0.85" fill="#9a88a8" fill-opacity="0.85"/>
<circle cx="437.6" cy="500.8" r="0.85" fill="#9a88a8" fill-opacity="0.85"/>
<circle cx="430.6" cy="540.4" r="0.85" fill="#dc2f79" fill-opacity="0.85"/>
<circle cx="396.1" cy="554.6" r="0.85" fill="#62b4d8" fill-opacity="0.85"/>
<circle cx="392.7" cy="539.1" r="0.85" fill="#62b4d8" fill-opacity="0.85"/>
<circle cx="420.5" cy="542.1" r="0.85" fill="#9a88a8" fill-opacity="0.85"/>
<circle cx="353.4" cy="498.6" r="0.85" fill="#f2aa55" fill-opacity="0.85"/>
<circle cx="425.9" cy="508.1" r="0.85" fill="#9a88a8" fill-opacity="0.85"/>
<circle cx="407.1" cy="528.1" r="0.85" fill="#62b4d8" fill-opacity="0.85"/>
<circle cx="424.3" cy="467.2" r="0.85" fill="#dc2f79" fill-opacity="0.85"/>
<circle cx="403.9" cy="533.8" r="0.85" fill="#62b4d8" fill-opacity="0.85"/>
<circle cx="363.1" cy="542.5" r="0.85" fill="#f2aa55" fill-opacity="0.85"/>
<circle cx="359.3" cy="538.9" r="0.85" fill="#f2aa55" fill-opacity="0.85"/>
<circle cx="383.6" cy="542.3" r="0.85" fill="#62b4d8" fill-opacity="0.85"/>
<circle cx="403.5" cy="539.4" r="0.85" fill="#9a88a8" fill-opacity="0.85"/>
<circle cx="355.5" cy="535.6" r="0.85" fill="#f2aa55" fill-opacity="0.85"/>
<circle cx="358.1" cy="542.9" r="0.85" fill="#f2aa55" fill-opacity="0.85"/>
<circle cx="407.3" cy="545.8" r="0.85" fill="#62b4d8" fill-opacity="0.85"/>
<circle cx="364.6" cy="490.7" r="0.85" fill="#f2aa55" fill-opacity="0.85"/>
<circle cx="352.7" cy="499.9" r="0.85" fill="#f2aa55" fill-opacity="0.85"/>
<circle cx="356.4" cy="534.7" r="0.85" fill="#f2aa55" fill-opacity="0.85"/>
<circle cx="348.1" cy="556.9" r="0.85" fill="#f2aa55" fill-opacity="0.85"/>
<circle cx="394.8" cy="551.7" r="0.85" fill="#62b4d8" fill-opacity="0.85"/>
<circle cx="345.5" cy="515.8" r="0.85" fill="#f2aa55" fill-opacity="0.85"/>
<circle cx="355.2" cy="544.9" r="0.85" fill="#f2aa55" fill-opacity="0.85"/>
<circle cx="344.0" cy="514.9" r="0.85" fill="#98b888" fill-opacity="0.85"/>
<circle cx="428.1" cy="531.7" r="0.85" fill="#dc2f79" fill-opacity="0.85"/>
<circle cx="357.6" cy="506.4" r="0.85" fill="#f2aa55" fill-opacity="0.85"/>
<circle cx="344.3" cy="533.8" r="0.85" fill="#98b888" fill-opacity="0.85"/>
<circle cx="362.6" cy="548.8" r="0.85" fill="#f2aa55" fill-opacity="0.85"/>
<circle cx="432.5" cy="475.0" r="0.85" fill="#dc2f79" fill-opacity="0.85"/>
<circle cx="355.3" cy="494.8" r="0.85" fill="#f2aa55" fill-opacity="0.85"/>
<circle cx="391.5" cy="552.7" r="0.85" fill="#62b4d8" fill-opacity="0.85"/>
<circle cx="351.5" cy="538.1" r="0.85" fill="#f2aa55" fill-opacity="0.85"/>
<circle cx="349.2" cy="528.2" r="0.85" fill="#f2aa55" fill-opacity="0.85"/>
<circle cx="407.5" cy="533.3" r="0.85" fill="#dc2f79" fill-opacity="0.85"/>
<circle cx="429.4" cy="530.9" r="0.85" fill="#dc2f79" fill-opacity="0.85"/>
<circle cx="433.7" cy="524.3" r="0.85" fill="#dc2f79" fill-opacity="0.85"/>
<circle cx="411.1" cy="544.1" r="0.85" fill="#62b4d8" fill-opacity="0.85"/>
<circle cx="412.2" cy="498.7" r="0.85" fill="#9a88a8" fill-opacity="0.85"/>
<circle cx="402.5" cy="557.2" r="0.85" fill="#62b4d8" fill-opacity="0.85"/>
<circle cx="420.2" cy="519.6" r="0.85" fill="#9a88a8" fill-opacity="0.85"/>
<circle cx="424.2" cy="529.7" r="0.85" fill="#9a88a8" fill-opacity="0.85"/>
<circle cx="390.3" cy="538.5" r="0.85" fill="#62b4d8" fill-opacity="0.85"/>
<circle cx="430.5" cy="533.1" r="0.85" fill="#dc2f79" fill-opacity="0.85"/>
<circle cx="420.6" cy="522.0" r="0.85" fill="#9a88a8" fill-opacity="0.85"/>
<circle cx="429.1" cy="493.3" r="0.85" fill="#9a88a8" fill-opacity="0.85"/>
<circle cx="364.5" cy="548.8" r="0.85" fill="#f2aa55" fill-opacity="0.85"/>
<circle cx="349.8" cy="552.3" r="0.85" fill="#f2aa55" fill-opacity="0.85"/>
<circle cx="359.2" cy="554.0" r="0.85" fill="#f2aa55" fill-opacity="0.85"/>
<circle cx="416.5" cy="488.6" r="0.85" fill="#9a88a8" fill-opacity="0.85"/>
<circle cx="402.7" cy="544.5" r="0.85" fill="#62b4d8" fill-opacity="0.85"/>
<circle cx="415.8" cy="486.8" r="0.85" fill="#9a88a8" fill-opacity="0.85"/>
<circle cx="438.2" cy="521.1" r="0.85" fill="#9a88a8" fill-opacity="0.85"/>
<circle cx="453.6" cy="515.3" r="0.85" fill="#9a88a8" fill-opacity="0.85"/>
<circle cx="358.3" cy="550.9" r="0.85" fill="#f2aa55" fill-opacity="0.85"/>
<circle cx="371.7" cy="541.7" r="0.85" fill="#f2aa55" fill-opacity="0.85"/>
<circle cx="427.7" cy="532.3" r="0.85" fill="#dc2f79" fill-opacity="0.85"/>
<circle cx="333.9" cy="532.6" r="0.85" fill="#98b888" fill-opacity="0.85"/>
<circle cx="335.4" cy="536.4" r="0.85" fill="#98b888" fill-opacity="0.85"/>
<circle cx="365.3" cy="526.9" r="0.85" fill="#f2aa55" fill-opacity="0.85"/>
<circle cx="425.0" cy="540.6" r="0.85" fill="#9a88a8" fill-opacity="0.85"/>
<circle cx="427.2" cy="511.7" r="0.85" fill="#dc2f79" fill-opacity="0.85"/>
<circle cx="355.5" cy="457.9" r="0.85" fill="#f2aa55" fill-opacity="0.85"/>
<circle cx="394.3" cy="529.6" r="0.85" fill="#62b4d8" fill-opacity="0.85"/>
<circle cx="359.5" cy="544.8" r="0.85" fill="#f2aa55" fill-opacity="0.85"/>
<circle cx="405.2" cy="553.6" r="0.85" fill="#62b4d8" fill-opacity="0.85"/>
<circle cx="422.9" cy="536.5" r="0.85" fill="#9a88a8" fill-opacity="0.85"/>
<circle cx="352.0" cy="528.8" r="0.85" fill="#98b888" fill-opacity="0.85"/>
<circle cx="395.3" cy="542.5" r="0.85" fill="#62b4d8" fill-opacity="0.85"/>
<circle cx="363.1" cy="510.0" r="0.85" fill="#f2aa55" fill-opacity="0.85"/>
<circle cx="360.4" cy="559.6" r="0.85" fill="#f2aa55" fill-opacity="0.85"/>
<circle cx="364.4" cy="507.2" r="0.85" fill="#f2aa55" fill-opacity="0.85"/>
<circle cx="336.1" cy="538.8" r="0.85" fill="#98b888" fill-opacity="0.85"/>
<circle cx="396.6" cy="527.4" r="0.85" fill="#62b4d8" fill-opacity="0.85"/>
<circle cx="424.7" cy="454.5" r="0.85" fill="#9a88a8" fill-opacity="0.85"/>
<circle cx="395.8" cy="553.3" r="0.85" fill="#62b4d8" fill-opacity="0.85"/>
<circle cx="399.0" cy="540.6" r="0.85" fill="#62b4d8" fill-opacity="0.85"/>
<circle cx="408.4" cy="558.6" r="0.85" fill="#dc2f79" fill-opacity="0.85"/>
<circle cx="425.9" cy="528.2" r="0.85" fill="#dc2f79" fill-opacity="0.85"/>
<circle cx="385.6" cy="555.1" r="0.85" fill="#62b4d8" fill-opacity="0.85"/>
<circle cx="413.5" cy="521.7" r="0.85" fill="#9a88a8" fill-opacity="0.85"/>
<circle cx="403.7" cy="537.6" r="0.85" fill="#62b4d8" fill-opacity="0.85"/>
<circle cx="355.5" cy="532.6" r="0.85" fill="#f2aa55" fill-opacity="0.85"/>
<circle cx="341.9" cy="553.8" r="0.85" fill="#f2aa55" fill-opacity="0.85"/>
<circle cx="339.7" cy="542.9" r="0.85" fill="#98b888" fill-opacity="0.85"/>
<circle cx="349.4" cy="498.1" r="0.85" fill="#f2aa55" fill-opacity="0.85"/>
<circle cx="342.0" cy="469.7" r="0.85" fill="#f2aa55" fill-opacity="0.85"/>
<circle cx="357.6" cy="508.5" r="0.85" fill="#f2aa55" fill-opacity="0.85"/>
<circle cx="407.9" cy="544.1" r="0.85" fill="#9a88a8" fill-opacity="0.85"/>
<circle cx="344.1" cy="459.5" r="0.85" fill="#f2aa55" fill-opacity="0.85"/>
<circle cx="358.5" cy="472.3" r="0.85" fill="#f2aa55" fill-opacity="0.85"/>
<circle cx="441.4" cy="549.0" r="0.85" fill="#dc2f79" fill-opacity="0.85"/>
<circle cx="427.1" cy="547.0" r="0.85" fill="#dc2f79" fill-opacity="0.85"/>
<circle cx="391.7" cy="541.1" r="0.85" fill="#62b4d8" fill-opacity="0.85"/>
<circle cx="420.8" cy="505.5" r="0.85" fill="#9a88a8" fill-opacity="0.85"/>
<circle cx="434.7" cy="505.2" r="0.85" fill="#9a88a8" fill-opacity="0.85"/>
<circle cx="355.3" cy="524.1" r="0.85" fill="#f2aa55" fill-opacity="0.85"/>
<circle cx="352.4" cy="446.4" r="0.85" fill="#f2aa55" fill-opacity="0.85"/>
<circle cx="418.8" cy="515.1" r="0.85" fill="#9a88a8" fill-opacity="0.85"/>
<circle cx="359.2" cy="538.8" r="0.85" fill="#f2aa55" fill-opacity="0.85"/>
<circle cx="431.9" cy="531.0" r="0.85" fill="#62b4d8" fill-opacity="0.85"/>
<circle cx="354.0" cy="553.3" r="0.85" fill="#f2aa55" fill-opacity="0.85"/>
<circle cx="448.4" cy="478.0" r="0.85" fill="#dc2f79" fill-opacity="0.85"/>
<circle cx="355.7" cy="525.5" r="0.85" fill="#f2aa55" fill-opacity="0.85"/>
<circle cx="402.9" cy="532.6" r="0.85" fill="#62b4d8" fill-opacity="0.85"/>
<circle cx="432.8" cy="545.5" r="0.85" fill="#dc2f79" fill-opacity="0.85"/>
<circle cx="345.2" cy="514.5" r="0.85" fill="#f2aa55" fill-opacity="0.85"/>
<circle cx="434.7" cy="546.3" r="0.85" fill="#9a88a8" fill-opacity="0.85"/>
<circle cx="407.3" cy="521.0" r="0.85" fill="#9a88a8" fill-opacity="0.85"/>
<circle cx="347.0" cy="529.8" r="0.85" fill="#f2aa55" fill-opacity="0.85"/>
<circle cx="405.0" cy="538.7" r="0.85" fill="#62b4d8" fill-opacity="0.85"/>
<circle cx="354.6" cy="498.7" r="0.85" fill="#f2aa55" fill-opacity="0.85"/>
<circle cx="343.5" cy="522.4" r="0.85" fill="#98b888" fill-opacity="0.85"/>
<circle cx="359.8" cy="546.9" r="0.85" fill="#f2aa55" fill-opacity="0.85"/>
<circle cx="351.3" cy="541.6" r="0.85" fill="#f2aa55" fill-opacity="0.85"/>
<circle cx="398.7" cy="554.3" r="0.85" fill="#62b4d8" fill-opacity="0.85"/>
<circle cx="430.3" cy="522.4" r="0.85" fill="#9a88a8" fill-opacity="0.85"/>
<circle cx="348.1" cy="534.3" r="0.85" fill="#98b888" fill-opacity="0.85"/>
<circle cx="359.7" cy="551.4" r="0.85" fill="#f2aa55" fill-opacity="0.85"/>
<circle cx="352.9" cy="543.8" r="0.85" fill="#f2aa55" fill-opacity="0.85"/>
<circle cx="344.3" cy="545.1" r="0.85" fill="#98b888" fill-opacity="0.85"/>
<circle cx="413.9" cy="539.3" r="0.85" fill="#dc2f79" fill-opacity="0.85"/>
<circle cx="427.9" cy="549.7" r="0.85" fill="#dc2f79" fill-opacity="0.85"/>
<circle cx="352.5" cy="529.9" r="0.85" fill="#f2aa55" fill-opacity="0.85"/>
<circle cx="425.1" cy="538.0" r="0.85" fill="#9a88a8" fill-opacity="0.85"/>
<circle cx="357.0" cy="497.7" r="0.85" fill="#f2aa55" fill-opacity="0.85"/>
<circle cx="353.8" cy="508.3" r="0.85" fill="#f2aa55" fill-opacity="0.85"/>
<circle cx="352.8" cy="487.3" r="0.85" fill="#f2aa55" fill-opacity="0.85"/>
<circle cx="353.3" cy="488.6" r="0.85" fill="#f2aa55" fill-opacity="0.85"/>
<circle cx="435.0" cy="525.3" r="0.85" fill="#dc2f79" fill-opacity="0.85"/>
<circle cx="348.6" cy="490.8" r="0.85" fill="#f2aa55" fill-opacity="0.85"/>
<circle cx="351.4" cy="550.8" r="0.85" fill="#f2aa55" fill-opacity="0.85"/>
<circle cx="359.0" cy="554.2" r="0.85" fill="#f2aa55" fill-opacity="0.85"/>
<circle cx="390.6" cy="545.7" r="0.85" fill="#62b4d8" fill-opacity="0.85"/>
<circle cx="388.0" cy="540.5" r="0.85" fill="#62b4d8" fill-opacity="0.85"/>
<circle cx="352.6" cy="532.6" r="0.85" fill="#f2aa55" fill-opacity="0.85"/>
<circle cx="433.3" cy="517.7" r="0.85" fill="#dc2f79" fill-opacity="0.85"/>
<circle cx="352.7" cy="524.8" r="0.85" fill="#f2aa55" fill-opacity="0.85"/>
<circle cx="403.2" cy="502.7" r="0.85" fill="#9a88a8" fill-opacity="0.85"/>
<circle cx="426.7" cy="536.8" r="0.85" fill="#dc2f79" fill-opacity="0.85"/>
<circle cx="425.8" cy="451.8" r="0.85" fill="#9a88a8" fill-opacity="0.85"/>
<circle cx="349.8" cy="491.2" r="0.85" fill="#f2aa55" fill-opacity="0.85"/>
<circle cx="430.6" cy="461.9" r="0.85" fill="#9a88a8" fill-opacity="0.85"/>
<circle cx="431.8" cy="540.7" r="0.85" fill="#dc2f79" fill-opacity="0.85"/>
<circle cx="365.7" cy="526.6" r="0.85" fill="#f2aa55" fill-opacity="0.85"/>
<circle cx="358.1" cy="537.0" r="0.85" fill="#f2aa55" fill-opacity="0.85"/>
<circle cx="438.4" cy="480.1" r="0.85" fill="#dc2f79" fill-opacity="0.85"/>
<circle cx="390.9" cy="529.1" r="0.85" fill="#62b4d8" fill-opacity="0.85"/>
<circle cx="353.1" cy="541.4" r="0.85" fill="#f2aa55" fill-opacity="0.85"/>
<circle cx="434.9" cy="543.6" r="0.85" fill="#dc2f79" fill-opacity="0.85"/>
<circle cx="365.7" cy="451.2" r="0.85" fill="#f2aa55" fill-opacity="0.85"/>
<line x1="303.00" y1="422.90" x2="303.00" y2="571.80" stroke="#1a1a1a" stroke-width="1.3"/>
<line x1="302.40" y1="571.20" x2="464.60" y2="571.20" stroke="#1a1a1a" stroke-width="1.3"/>
<line x1="300.00" y1="429.30" x2="303.00" y2="429.30" stroke="#1a1a1a" stroke-width="1.0"/>
<text x="296.00" y="432.40" font-size="8.8" text-anchor="end" fill="#2a2a2a" stroke="#2a2a2a" stroke-width="0" textLength="13.8" lengthAdjust="spacingAndGlyphs">300</text>
<line x1="300.00" y1="474.50" x2="303.00" y2="474.50" stroke="#1a1a1a" stroke-width="1.0"/>
<text x="296.00" y="477.60" font-size="8.8" text-anchor="end" fill="#2a2a2a" stroke="#2a2a2a" stroke-width="0" textLength="13.8" lengthAdjust="spacingAndGlyphs">200</text>
<line x1="300.00" y1="519.70" x2="303.00" y2="519.70" stroke="#1a1a1a" stroke-width="1.0"/>
<text x="296.00" y="522.80" font-size="8.8" text-anchor="end" fill="#2a2a2a" stroke="#2a2a2a" stroke-width="0" textLength="13.8" lengthAdjust="spacingAndGlyphs">100</text>
<line x1="300.00" y1="564.90" x2="303.00" y2="564.90" stroke="#1a1a1a" stroke-width="1.0"/>
<text x="296.00" y="568.00" font-size="8.8" text-anchor="end" fill="#2a2a2a" stroke="#2a2a2a" stroke-width="0" textLength="4.8" lengthAdjust="spacingAndGlyphs">0</text>
<line x1="340.70" y1="571.20" x2="340.70" y2="574.40" stroke="#1a1a1a" stroke-width="1.0"/>
<text x="340.70" y="585.60" font-size="9.0" text-anchor="middle" fill="#2a2a2a" stroke="#2a2a2a" stroke-width="0" textLength="9.6" lengthAdjust="spacingAndGlyphs">25</text>
<line x1="385.90" y1="571.20" x2="385.90" y2="574.40" stroke="#1a1a1a" stroke-width="1.0"/>
<text x="385.90" y="585.60" font-size="9.0" text-anchor="middle" fill="#2a2a2a" stroke="#2a2a2a" stroke-width="0" textLength="9.6" lengthAdjust="spacingAndGlyphs">50</text>
<line x1="431.10" y1="571.20" x2="431.10" y2="574.40" stroke="#1a1a1a" stroke-width="1.0"/>
<text x="431.10" y="585.60" font-size="9.0" text-anchor="middle" fill="#2a2a2a" stroke="#2a2a2a" stroke-width="0" textLength="9.6" lengthAdjust="spacingAndGlyphs">75</text>
<text x="386.30" y="601.40" font-size="11.0" text-anchor="middle" fill="#2a2a2a" stroke="#2a2a2a" stroke-width="0.12" textLength="92.6" lengthAdjust="spacingAndGlyphs">Mean corrected coverage</text>
<text x="276.40" y="498.60" font-size="11.5" text-anchor="middle" fill="#2a2a2a" stroke="#2a2a2a" stroke-width="0.12" textLength="71.0" lengthAdjust="spacingAndGlyphs" transform="rotate(-90 276.40 498.60)">Coding_mutations</text>
<path d="M310.0,420.3 L310.00,420.30 L310.34,420.21 L310.69,420.12 L311.03,420.03 L311.38,419.97 L311.72,419.91 L312.06,419.85 L312.41,419.79 L312.75,419.74 L313.09,419.70 L313.44,419.65 L313.78,419.61 L314.12,419.57 L314.47,419.53 L314.81,419.49 L315.16,419.45 L315.50,419.41 L315.84,419.37 L316.19,419.34 L316.53,419.30 L316.88,419.26 L317.22,419.22 L317.56,419.18 L317.91,419.13 L318.25,419.08 L318.59,419.04 L318.94,418.98 L319.28,418.93 L319.62,418.87 L319.97,418.81 L320.31,418.74 L320.66,418.67 L321.00,418.59 L321.34,418.51 L321.69,418.43 L322.03,418.35 L322.38,418.26 L322.72,418.17 L323.06,418.07 L323.41,417.97 L323.75,417.87 L324.09,417.76 L324.44,417.65 L324.78,417.53 L325.12,417.42 L325.47,417.30 L325.81,417.17 L326.16,417.04 L326.50,416.91 L326.84,416.78 L327.19,416.64 L327.53,416.50 L327.88,416.35 L328.22,416.20 L328.56,416.05 L328.91,415.88 L329.25,415.70 L329.59,415.51 L329.94,415.32 L330.28,415.12 L330.62,414.91 L330.97,414.69 L331.31,414.46 L331.66,414.23 L332.00,413.99 L332.34,413.75 L332.69,413.50 L333.03,413.24 L333.38,412.98 L333.72,412.71 L334.06,412.44 L334.41,412.16 L334.75,411.88 L335.09,411.60 L335.44,411.31 L335.78,411.02 L336.12,410.71 L336.47,410.39 L336.81,410.04 L337.16,409.68 L337.50,409.30 L337.84,408.91 L338.19,408.52 L338.53,408.11 L338.88,407.71 L339.22,407.30 L339.56,406.90 L339.91,406.50 L340.25,406.11 L340.59,405.73 L340.94,405.36 L341.28,405.00 L341.62,404.59 L341.97,404.17 L342.31,403.72 L342.66,403.27 L343.00,402.83 L343.34,402.40 L343.69,401.99 L344.03,401.62 L344.38,401.29 L344.72,401.01 L345.06,400.80 L345.41,400.66 L345.75,400.60 L346.09,400.64 L346.44,400.78 L346.78,401.02 L347.12,401.33 L347.47,401.71 L347.81,402.15 L348.16,402.62 L348.50,403.12 L348.84,403.63 L349.19,404.15 L349.53,404.65 L349.88,405.13 L350.22,405.59 L350.56,406.09 L350.91,406.61 L351.25,407.16 L351.59,407.73 L351.94,408.31 L352.28,408.90 L352.62,409.50 L352.97,410.09 L353.31,410.68 L353.66,411.26 L354.00,411.82 L354.34,412.36 L354.69,412.87 L355.03,413.34 L355.38,413.81 L355.72,414.30 L356.06,414.79 L356.41,415.29 L356.75,415.79 L357.09,416.28 L357.44,416.75 L357.78,417.21 L358.12,417.64 L358.47,418.05 L358.81,418.41 L359.16,418.74 L359.50,419.02 L359.84,419.25 L360.19,419.42 L360.53,419.54 L360.88,419.64 L361.22,419.73 L361.56,419.82 L361.91,419.90 L362.25,419.98 L362.59,420.05 L362.94,420.11 L363.28,420.17 L363.62,420.21 L363.97,420.25 L364.31,420.28 L364.66,420.29 L365.00,420.30 L365.0,420.3 Z" fill="#a8d596" fill-opacity="0.9" stroke="#8cbf7e" stroke-width="0.6" stroke-linejoin="round"/>
<path d="M340.0,420.3 L340.00,420.30 L340.22,420.30 L340.44,420.29 L340.66,420.28 L340.88,420.26 L341.09,420.24 L341.31,420.22 L341.53,420.19 L341.75,420.16 L341.97,420.13 L342.19,420.09 L342.41,420.05 L342.62,420.00 L342.84,419.96 L343.06,419.91 L343.28,419.85 L343.50,419.80 L343.72,419.72 L343.94,419.59 L344.16,419.41 L344.38,419.19 L344.59,418.93 L344.81,418.64 L345.03,418.31 L345.25,417.95 L345.47,417.56 L345.69,417.16 L345.91,416.73 L346.12,416.29 L346.34,415.83 L346.56,415.36 L346.78,414.89 L347.00,414.42 L347.22,413.94 L347.44,413.47 L347.66,413.01 L347.88,412.55 L348.09,412.11 L348.31,411.65 L348.53,411.17 L348.75,410.66 L348.97,410.15 L349.19,409.61 L349.41,409.06 L349.62,408.50 L349.84,407.94 L350.06,407.36 L350.28,406.78 L350.50,406.20 L350.72,405.62 L350.94,405.04 L351.16,404.46 L351.38,403.89 L351.59,403.32 L351.81,402.77 L352.03,402.22 L352.25,401.65 L352.47,401.02 L352.69,400.35 L352.91,399.66 L353.12,398.95 L353.34,398.25 L353.56,397.55 L353.78,396.88 L354.00,396.24 L354.22,395.65 L354.44,395.12 L354.66,394.66 L354.88,394.29 L355.09,394.01 L355.31,393.85 L355.53,393.80 L355.75,393.85 L355.97,393.97 L356.19,394.16 L356.41,394.41 L356.62,394.71 L356.84,395.05 L357.06,395.43 L357.28,395.85 L357.50,396.28 L357.72,396.73 L357.94,397.19 L358.16,397.65 L358.38,398.10 L358.59,398.54 L358.81,398.96 L359.03,399.35 L359.25,399.74 L359.47,400.15 L359.69,400.56 L359.91,400.98 L360.12,401.41 L360.34,401.84 L360.56,402.28 L360.78,402.73 L361.00,403.18 L361.22,403.64 L361.44,404.10 L361.66,404.56 L361.88,405.02 L362.09,405.47 L362.31,405.93 L362.53,406.39 L362.75,406.84 L362.97,407.28 L363.19,407.73 L363.41,408.16 L363.62,408.59 L363.84,409.01 L364.06,409.42 L364.28,409.83 L364.50,410.24 L364.72,410.66 L364.94,411.08 L365.16,411.51 L365.38,411.92 L365.59,412.34 L365.81,412.75 L366.03,413.16 L366.25,413.56 L366.47,413.95 L366.69,414.33 L366.91,414.69 L367.12,415.05 L367.34,415.39 L367.56,415.71 L367.78,416.01 L368.00,416.30 L368.22,416.58 L368.44,416.86 L368.66,417.13 L368.88,417.41 L369.09,417.68 L369.31,417.94 L369.53,418.19 L369.75,418.42 L369.97,418.65 L370.19,418.85 L370.41,419.03 L370.62,419.20 L370.84,419.33 L371.06,419.45 L371.28,419.53 L371.50,419.60 L371.72,419.68 L371.94,419.75 L372.16,419.82 L372.38,419.88 L372.59,419.94 L372.81,420.00 L373.03,420.05 L373.25,420.10 L373.47,420.15 L373.69,420.18 L373.91,420.22 L374.12,420.25 L374.34,420.27 L374.56,420.29 L374.78,420.30 L375.00,420.30 L375.0,420.3 Z" fill="#f8bd80" fill-opacity="0.62" stroke="#e0a060" stroke-width="0.6" stroke-linejoin="round"/>
<path d="M370.0,420.3 L370.00,420.30 L370.44,420.28 L370.88,420.26 L371.31,420.23 L371.75,420.19 L372.19,420.15 L372.62,420.10 L373.06,420.05 L373.50,420.00 L373.94,419.94 L374.38,419.87 L374.81,419.79 L375.25,419.70 L375.69,419.60 L376.12,419.49 L376.56,419.38 L377.00,419.26 L377.44,419.13 L377.88,419.00 L378.31,418.86 L378.75,418.72 L379.19,418.57 L379.62,418.43 L380.06,418.28 L380.50,418.12 L380.94,417.94 L381.38,417.76 L381.81,417.56 L382.25,417.34 L382.69,417.12 L383.12,416.89 L383.56,416.66 L384.00,416.42 L384.44,416.18 L384.88,415.94 L385.31,415.69 L385.75,415.45 L386.19,415.21 L386.62,414.98 L387.06,414.76 L387.50,414.54 L387.94,414.33 L388.38,414.12 L388.81,413.91 L389.25,413.70 L389.69,413.48 L390.12,413.27 L390.56,413.05 L391.00,412.83 L391.44,412.62 L391.88,412.42 L392.31,412.23 L392.75,412.04 L393.19,411.86 L393.62,411.70 L394.06,411.56 L394.50,411.43 L394.94,411.31 L395.38,411.22 L395.81,411.12 L396.25,411.02 L396.69,410.92 L397.12,410.83 L397.56,410.74 L398.00,410.65 L398.44,410.57 L398.88,410.49 L399.31,410.42 L399.75,410.35 L400.19,410.29 L400.62,410.24 L401.06,410.19 L401.50,410.15 L401.94,410.13 L402.38,410.11 L402.81,410.10 L403.25,410.10 L403.69,410.10 L404.12,410.10 L404.56,410.10 L405.00,410.10 L405.44,410.10 L405.88,410.10 L406.31,410.10 L406.75,410.10 L407.19,410.10 L407.62,410.10 L408.06,410.10 L408.50,410.10 L408.94,410.10 L409.38,410.10 L409.81,410.10 L410.25,410.13 L410.69,410.21 L411.12,410.33 L411.56,410.50 L412.00,410.69 L412.44,410.91 L412.88,411.14 L413.31,411.38 L413.75,411.63 L414.19,411.88 L414.62,412.11 L415.06,412.33 L415.50,412.55 L415.94,412.79 L416.38,413.03 L416.81,413.29 L417.25,413.55 L417.69,413.82 L418.12,414.09 L418.56,414.36 L419.00,414.63 L419.44,414.90 L419.88,415.17 L420.31,415.42 L420.75,415.67 L421.19,415.90 L421.62,416.12 L422.06,416.33 L422.50,416.53 L422.94,416.73 L423.38,416.93 L423.81,417.13 L424.25,417.33 L424.69,417.53 L425.12,417.72 L425.56,417.91 L426.00,418.09 L426.44,418.27 L426.88,418.44 L427.31,418.59 L427.75,418.74 L428.19,418.88 L428.62,419.00 L429.06,419.11 L429.50,419.21 L429.94,419.29 L430.38,419.36 L430.81,419.43 L431.25,419.50 L431.69,419.56 L432.12,419.63 L432.56,419.69 L433.00,419.75 L433.44,419.81 L433.88,419.87 L434.31,419.92 L434.75,419.97 L435.19,420.02 L435.62,420.07 L436.06,420.11 L436.50,420.15 L436.94,420.18 L437.38,420.21 L437.81,420.24 L438.25,420.26 L438.69,420.28 L439.12,420.29 L439.56,420.30 L440.00,420.30 L440.0,420.3 Z" fill="#6cb6d8" fill-opacity="0.88" stroke="#4f9cc4" stroke-width="0.6" stroke-linejoin="round"/>
<path d="M400.0,420.3 L400.00,420.30 L400.29,420.29 L400.57,420.27 L400.86,420.23 L401.15,420.18 L401.44,420.12 L401.73,420.06 L402.01,420.00 L402.30,419.91 L402.59,419.79 L402.88,419.64 L403.16,419.46 L403.45,419.25 L403.74,419.01 L404.02,418.76 L404.31,418.48 L404.60,418.19 L404.89,417.89 L405.18,417.57 L405.46,417.24 L405.75,416.90 L406.04,416.56 L406.32,416.22 L406.61,415.88 L406.90,415.53 L407.19,415.20 L407.48,414.87 L407.76,414.55 L408.05,414.25 L408.34,413.92 L408.62,413.56 L408.91,413.18 L409.20,412.77 L409.49,412.34 L409.77,411.90 L410.06,411.46 L410.35,411.01 L410.64,410.56 L410.93,410.13 L411.21,409.70 L411.50,409.30 L411.79,408.91 L412.07,408.56 L412.36,408.24 L412.65,407.96 L412.94,407.72 L413.23,407.53 L413.51,407.39 L413.80,407.32 L414.09,407.30 L414.38,407.31 L414.66,407.32 L414.95,407.33 L415.24,407.36 L415.52,407.38 L415.81,407.41 L416.10,407.44 L416.39,407.47 L416.68,407.51 L416.96,407.55 L417.25,407.58 L417.54,407.62 L417.82,407.65 L418.11,407.68 L418.40,407.71 L418.69,407.74 L418.98,407.76 L419.26,407.78 L419.55,407.79 L419.84,407.80 L420.12,407.80 L420.41,407.80 L420.70,407.79 L420.99,407.79 L421.27,407.78 L421.56,407.77 L421.85,407.75 L422.14,407.74 L422.43,407.73 L422.71,407.71 L423.00,407.69 L423.29,407.67 L423.57,407.65 L423.86,407.63 L424.15,407.61 L424.44,407.59 L424.73,407.57 L425.01,407.55 L425.30,407.53 L425.59,407.51 L425.88,407.49 L426.16,407.46 L426.45,407.44 L426.74,407.42 L427.02,407.41 L427.31,407.39 L427.60,407.37 L427.89,407.36 L428.18,407.34 L428.46,407.33 L428.75,407.32 L429.04,407.31 L429.32,407.31 L429.61,407.30 L429.90,407.30 L430.19,407.30 L430.48,407.31 L430.76,407.31 L431.05,407.33 L431.34,407.34 L431.62,407.36 L431.91,407.38 L432.20,407.41 L432.49,407.44 L432.77,407.47 L433.06,407.51 L433.35,407.55 L433.64,407.59 L433.93,407.64 L434.21,407.68 L434.50,407.74 L434.79,407.79 L435.07,407.85 L435.36,407.91 L435.65,407.97 L435.94,408.04 L436.23,408.10 L436.51,408.17 L436.80,408.25 L437.09,408.33 L437.38,408.45 L437.66,408.62 L437.95,408.85 L438.24,409.12 L438.52,409.43 L438.81,409.77 L439.10,410.15 L439.39,410.56 L439.68,410.99 L439.96,411.44 L440.25,411.90 L440.54,412.38 L440.82,412.86 L441.11,413.35 L441.40,413.83 L441.69,414.31 L441.98,414.78 L442.26,415.23 L442.55,415.67 L442.84,416.08 L443.12,416.47 L443.41,416.85 L443.70,417.23 L443.99,417.62 L444.27,418.00 L444.56,418.38 L444.85,418.77 L445.14,419.15 L445.43,419.53 L445.71,419.92 L446.00,420.30 L446.0,420.3 Z" fill="#a862b0" fill-opacity="0.75" stroke="#8a4a98" stroke-width="0.6" stroke-linejoin="round"/>
<path d="M399.0,420.3 L399.00,420.30 L399.36,420.25 L399.72,420.17 L400.08,420.07 L400.44,419.95 L400.80,419.80 L401.16,419.62 L401.52,419.40 L401.88,419.16 L402.23,418.89 L402.59,418.60 L402.95,418.28 L403.31,417.96 L403.67,417.62 L404.03,417.27 L404.39,416.91 L404.75,416.55 L405.11,416.19 L405.47,415.78 L405.83,415.31 L406.19,414.80 L406.55,414.26 L406.91,413.67 L407.27,413.07 L407.62,412.45 L407.98,411.83 L408.34,411.20 L408.70,410.59 L409.06,409.99 L409.42,409.42 L409.78,408.88 L410.14,408.38 L410.50,407.93 L410.86,407.54 L411.22,407.21 L411.58,406.95 L411.94,406.71 L412.30,406.48 L412.66,406.26 L413.02,406.05 L413.38,405.85 L413.73,405.68 L414.09,405.53 L414.45,405.42 L414.81,405.34 L415.17,405.30 L415.53,405.33 L415.89,405.46 L416.25,405.67 L416.61,405.93 L416.97,406.21 L417.33,406.47 L417.69,406.68 L418.05,406.81 L418.41,406.90 L418.77,406.98 L419.12,407.06 L419.48,407.14 L419.84,407.20 L420.20,407.26 L420.56,407.31 L420.92,407.35 L421.28,407.38 L421.64,407.40 L422.00,407.40 L422.36,407.40 L422.72,407.39 L423.08,407.37 L423.44,407.35 L423.80,407.33 L424.16,407.31 L424.52,407.28 L424.88,407.25 L425.23,407.22 L425.59,407.19 L425.95,407.16 L426.31,407.12 L426.67,407.09 L427.03,407.07 L427.39,407.04 L427.75,407.02 L428.11,406.99 L428.47,406.97 L428.83,406.95 L429.19,406.93 L429.55,406.90 L429.91,406.88 L430.27,406.85 L430.62,406.83 L430.98,406.81 L431.34,406.79 L431.70,406.77 L432.06,406.75 L432.42,406.73 L432.78,406.72 L433.14,406.71 L433.50,406.70 L433.86,406.70 L434.22,406.72 L434.58,406.82 L434.94,407.00 L435.30,407.25 L435.66,407.56 L436.02,407.92 L436.38,408.32 L436.73,408.74 L437.09,409.18 L437.45,409.63 L437.81,410.07 L438.17,410.52 L438.53,411.03 L438.89,411.62 L439.25,412.26 L439.61,412.95 L439.97,413.66 L440.33,414.38 L440.69,415.08 L441.05,415.76 L441.41,416.39 L441.77,416.97 L442.12,417.47 L442.48,418.00 L442.84,418.53 L443.20,419.04 L443.56,419.48 L443.92,419.80 L444.28,419.98 L444.64,420.01 L445.00,420.04 L445.36,420.06 L445.72,420.07 L446.08,420.09 L446.44,420.11 L446.80,420.13 L447.16,420.14 L447.52,420.16 L447.88,420.17 L448.23,420.18 L448.59,420.19 L448.95,420.20 L449.31,420.22 L449.67,420.22 L450.03,420.23 L450.39,420.24 L450.75,420.25 L451.11,420.26 L451.47,420.26 L451.83,420.27 L452.19,420.27 L452.55,420.28 L452.91,420.28 L453.27,420.29 L453.62,420.29 L453.98,420.29 L454.34,420.29 L454.70,420.30 L455.06,420.30 L455.42,420.30 L455.78,420.30 L456.14,420.30 L456.50,420.30 L456.5,420.3 Z" fill="#d8408e" fill-opacity="0.7" stroke="#b03080" stroke-width="0.6" stroke-linejoin="round"/>
<line x1="310.00" y1="420.30" x2="456.50" y2="420.30" stroke="#d05070" stroke-width="0.8"/>
<path d="M466.3,430.0 L466.30,430.00 L466.37,430.84 L466.44,431.68 L466.52,432.52 L466.59,433.36 L466.67,434.20 L466.74,435.04 L466.82,435.88 L466.90,436.73 L466.98,437.57 L467.06,438.41 L467.13,439.25 L467.22,440.09 L467.30,440.93 L467.38,441.77 L467.46,442.61 L467.54,443.45 L467.63,444.29 L467.71,445.13 L467.80,445.97 L467.88,446.81 L467.97,447.65 L468.06,448.49 L468.14,449.33 L468.23,450.18 L468.32,451.02 L468.41,451.86 L468.50,452.70 L468.59,453.54 L468.68,454.38 L468.77,455.22 L468.86,456.06 L468.96,456.90 L469.05,457.74 L469.14,458.58 L469.24,459.42 L469.33,460.26 L469.43,461.10 L469.53,461.94 L469.63,462.78 L469.74,463.62 L469.85,464.47 L469.97,465.31 L470.08,466.15 L470.20,466.99 L470.31,467.83 L470.43,468.67 L470.55,469.51 L470.66,470.35 L470.78,471.19 L470.89,472.03 L471.00,472.87 L471.11,473.71 L471.22,474.55 L471.32,475.39 L471.42,476.23 L471.51,477.07 L471.60,477.92 L471.69,478.76 L471.76,479.60 L471.84,480.44 L471.90,481.28 L471.96,482.12 L472.02,482.96 L472.07,483.80 L472.12,484.64 L472.17,485.48 L472.21,486.32 L472.26,487.16 L472.30,488.00 L472.35,488.84 L472.39,489.68 L472.45,490.52 L472.50,491.37 L472.56,492.21 L472.62,493.05 L472.70,493.89 L472.77,494.73 L472.86,495.57 L472.97,496.41 L473.09,497.25 L473.23,498.09 L473.38,498.93 L473.54,499.77 L473.71,500.61 L473.89,501.45 L474.08,502.29 L474.27,503.13 L474.46,503.98 L474.66,504.82 L474.85,505.66 L475.05,506.50 L475.24,507.34 L475.42,508.18 L475.60,509.02 L475.77,509.86 L475.93,510.70 L476.09,511.54 L476.25,512.38 L476.40,513.22 L476.55,514.06 L476.69,514.90 L476.84,515.74 L476.98,516.58 L477.13,517.42 L477.28,518.27 L477.42,519.11 L477.57,519.95 L477.73,520.79 L477.88,521.63 L478.04,522.47 L478.21,523.31 L478.38,524.15 L478.55,524.99 L478.73,525.83 L478.92,526.67 L479.12,527.51 L479.35,528.35 L479.59,529.19 L479.85,530.03 L480.11,530.88 L480.38,531.72 L480.63,532.56 L480.88,533.40 L481.11,534.24 L481.32,535.08 L481.53,535.92 L481.76,536.76 L481.97,537.60 L482.15,538.44 L482.26,539.28 L482.30,540.12 L482.17,540.96 L481.87,541.80 L481.42,542.64 L480.86,543.48 L480.23,544.33 L479.54,545.17 L478.84,546.01 L478.16,546.85 L477.52,547.69 L476.93,548.53 L476.32,549.37 L475.68,550.21 L475.03,551.05 L474.36,551.89 L473.70,552.73 L473.05,553.57 L472.42,554.41 L471.81,555.25 L471.24,556.09 L470.69,556.93 L470.15,557.77 L469.62,558.62 L469.11,559.46 L468.61,560.30 L468.12,561.14 L467.64,561.98 L467.18,562.82 L466.73,563.66 L466.30,564.50 L466.3,564.5 Z" fill="#b090c8" fill-opacity="0.75" stroke="#9070b0" stroke-width="0.6" stroke-linejoin="round"/>
<path d="M466.3,440.0 L466.30,440.00 L466.38,440.78 L466.46,441.56 L466.53,442.33 L466.61,443.11 L466.69,443.89 L466.77,444.67 L466.84,445.45 L466.92,446.23 L467.00,447.00 L467.08,447.78 L467.16,448.56 L467.23,449.34 L467.31,450.12 L467.39,450.89 L467.47,451.67 L467.55,452.45 L467.62,453.23 L467.70,454.01 L467.78,454.78 L467.86,455.56 L467.93,456.34 L468.01,457.12 L468.09,457.90 L468.17,458.68 L468.25,459.45 L468.32,460.23 L468.40,461.01 L468.48,461.79 L468.56,462.57 L468.63,463.34 L468.71,464.12 L468.79,464.90 L468.87,465.68 L468.95,466.46 L469.02,467.23 L469.10,468.01 L469.18,468.79 L469.26,469.57 L469.33,470.35 L469.41,471.12 L469.49,471.90 L469.57,472.68 L469.65,473.46 L469.72,474.24 L469.80,475.02 L469.88,475.79 L469.96,476.57 L470.04,477.35 L470.11,478.13 L470.19,478.91 L470.27,479.68 L470.35,480.46 L470.42,481.24 L470.50,482.02 L470.57,482.80 L470.64,483.57 L470.71,484.35 L470.78,485.13 L470.85,485.91 L470.92,486.69 L470.99,487.47 L471.06,488.24 L471.13,489.02 L471.20,489.80 L471.27,490.58 L471.34,491.36 L471.42,492.13 L471.49,492.91 L471.57,493.69 L471.65,494.47 L471.73,495.25 L471.82,496.02 L471.91,496.80 L472.00,497.58 L472.09,498.36 L472.19,499.14 L472.29,499.92 L472.39,500.69 L472.50,501.47 L472.60,502.25 L472.71,503.03 L472.81,503.81 L472.92,504.58 L473.03,505.36 L473.15,506.14 L473.26,506.92 L473.39,507.70 L473.51,508.48 L473.65,509.25 L473.79,510.03 L473.93,510.81 L474.08,511.59 L474.24,512.37 L474.41,513.14 L474.58,513.92 L474.77,514.70 L474.96,515.48 L475.16,516.26 L475.38,517.03 L475.60,517.81 L475.84,518.59 L476.09,519.37 L476.35,520.15 L476.68,520.92 L477.08,521.70 L477.56,522.48 L478.10,523.26 L478.69,524.04 L479.34,524.82 L480.03,525.59 L480.75,526.37 L481.49,527.15 L482.26,527.93 L483.03,528.71 L483.81,529.48 L484.58,530.26 L485.34,531.04 L486.20,531.82 L487.24,532.60 L488.38,533.38 L489.58,534.15 L490.77,534.93 L491.92,535.71 L492.95,536.49 L493.82,537.27 L494.46,538.04 L494.83,538.82 L494.87,539.60 L494.54,540.38 L493.91,541.16 L493.04,541.93 L492.00,542.71 L490.86,543.49 L489.69,544.27 L488.56,545.05 L487.54,545.83 L486.53,546.60 L485.44,547.38 L484.32,548.16 L483.17,548.94 L482.01,549.72 L480.88,550.49 L479.78,551.27 L478.74,552.05 L477.78,552.83 L476.90,553.61 L476.06,554.38 L475.26,555.16 L474.48,555.94 L473.73,556.72 L472.98,557.50 L472.25,558.27 L471.51,559.05 L470.76,559.83 L470.01,560.61 L469.26,561.39 L468.51,562.17 L467.77,562.94 L467.03,563.72 L466.30,564.50 L466.3,564.5 Z" fill="#f0a868" fill-opacity="0.55" stroke="#c8a050" stroke-width="0.6" stroke-linejoin="round"/>
<path d="M466.3,440.0 L466.30,440.00 L466.37,440.78 L466.43,441.56 L466.50,442.33 L466.57,443.11 L466.64,443.89 L466.71,444.67 L466.78,445.45 L466.85,446.23 L466.92,447.00 L467.00,447.78 L467.07,448.56 L467.14,449.34 L467.22,450.12 L467.29,450.89 L467.37,451.67 L467.44,452.45 L467.52,453.23 L467.60,454.01 L467.68,454.78 L467.76,455.56 L467.83,456.34 L467.91,457.12 L467.99,457.90 L468.08,458.68 L468.16,459.45 L468.24,460.23 L468.32,461.01 L468.40,461.79 L468.49,462.57 L468.57,463.34 L468.65,464.12 L468.74,464.90 L468.82,465.68 L468.91,466.46 L468.99,467.23 L469.08,468.01 L469.17,468.79 L469.25,469.57 L469.34,470.35 L469.43,471.12 L469.52,471.90 L469.61,472.68 L469.70,473.46 L469.79,474.24 L469.88,475.02 L469.97,475.79 L470.07,476.57 L470.16,477.35 L470.26,478.13 L470.35,478.91 L470.45,479.68 L470.55,480.46 L470.65,481.24 L470.74,482.02 L470.84,482.80 L470.94,483.57 L471.05,484.35 L471.15,485.13 L471.25,485.91 L471.35,486.69 L471.46,487.47 L471.56,488.24 L471.67,489.02 L471.77,489.80 L471.88,490.58 L471.99,491.36 L472.09,492.13 L472.20,492.91 L472.31,493.69 L472.41,494.47 L472.52,495.25 L472.63,496.02 L472.74,496.80 L472.85,497.58 L472.97,498.36 L473.08,499.14 L473.19,499.92 L473.31,500.69 L473.42,501.47 L473.54,502.25 L473.66,503.03 L473.78,503.81 L473.90,504.58 L474.03,505.36 L474.15,506.14 L474.28,506.92 L474.41,507.70 L474.54,508.48 L474.67,509.25 L474.81,510.03 L474.94,510.81 L475.06,511.59 L475.18,512.37 L475.29,513.14 L475.40,513.92 L475.50,514.70 L475.61,515.48 L475.72,516.26 L475.84,517.03 L475.95,517.81 L476.08,518.59 L476.21,519.37 L476.35,520.15 L476.51,520.92 L476.68,521.70 L476.86,522.48 L477.06,523.26 L477.28,524.04 L477.51,524.82 L477.77,525.59 L478.05,526.37 L478.37,527.15 L478.91,527.93 L479.73,528.71 L480.74,529.48 L481.85,530.26 L482.99,531.04 L484.07,531.82 L485.13,532.60 L486.38,533.38 L487.75,534.15 L489.16,534.93 L490.52,535.71 L491.74,536.49 L492.75,537.27 L493.46,538.04 L493.79,538.82 L493.71,539.60 L493.35,540.38 L492.76,541.16 L491.98,541.93 L491.07,542.71 L490.07,543.49 L489.03,544.27 L487.99,545.05 L487.01,545.83 L486.05,546.60 L484.98,547.38 L483.84,548.16 L482.64,548.94 L481.42,549.72 L480.21,550.49 L479.05,551.27 L477.97,552.05 L477.00,552.83 L476.14,553.61 L475.33,554.38 L474.58,555.16 L473.86,555.94 L473.17,556.72 L472.49,557.50 L471.82,558.27 L471.14,559.05 L470.45,559.83 L469.75,560.61 L469.05,561.39 L468.36,562.17 L467.67,562.94 L466.98,563.72 L466.30,564.50 L466.3,564.5 Z" fill="#f04a7a" fill-opacity="0.8" stroke="#d83a68" stroke-width="0.6" stroke-linejoin="round"/>
<path d="M466.3,450.0 L466.30,450.00 L466.30,450.72 L466.30,451.43 L466.31,452.15 L466.32,452.86 L466.33,453.58 L466.34,454.29 L466.35,455.01 L466.37,455.73 L466.39,456.44 L466.41,457.16 L466.43,457.87 L466.46,458.59 L466.48,459.30 L466.51,460.02 L466.54,460.73 L466.57,461.45 L466.61,462.17 L466.64,462.88 L466.68,463.60 L466.72,464.31 L466.76,465.03 L466.80,465.74 L466.85,466.46 L466.89,467.18 L466.94,467.89 L466.99,468.61 L467.04,469.32 L467.09,470.04 L467.15,470.75 L467.20,471.47 L467.26,472.18 L467.32,472.90 L467.38,473.62 L467.44,474.33 L467.50,475.05 L467.56,475.76 L467.63,476.48 L467.69,477.19 L467.76,477.91 L467.83,478.62 L467.90,479.34 L467.97,480.06 L468.04,480.77 L468.11,481.49 L468.19,482.20 L468.26,482.92 L468.34,483.63 L468.42,484.35 L468.50,485.07 L468.58,485.78 L468.66,486.50 L468.74,487.21 L468.82,487.93 L468.90,488.64 L468.98,489.36 L469.07,490.07 L469.15,490.79 L469.24,491.51 L469.33,492.22 L469.41,492.94 L469.50,493.65 L469.59,494.37 L469.68,495.08 L469.77,495.80 L469.86,496.52 L469.95,497.23 L470.04,497.95 L470.13,498.66 L470.22,499.38 L470.31,500.09 L470.41,500.81 L470.50,501.52 L470.60,502.24 L470.70,502.96 L470.80,503.67 L470.91,504.39 L471.02,505.10 L471.13,505.82 L471.25,506.53 L471.37,507.25 L471.50,507.97 L471.62,508.68 L471.76,509.40 L471.89,510.11 L472.04,510.83 L472.18,511.54 L472.34,512.26 L472.49,512.98 L472.66,513.69 L472.83,514.41 L473.00,515.12 L473.18,515.84 L473.37,516.55 L473.56,517.27 L473.76,517.98 L473.97,518.70 L474.18,519.42 L474.41,520.13 L474.63,520.85 L474.87,521.56 L475.12,522.28 L475.37,522.99 L475.63,523.71 L475.90,524.42 L476.17,525.14 L476.46,525.86 L476.76,526.57 L477.06,527.29 L477.37,528.00 L477.70,528.72 L478.03,529.43 L478.38,530.15 L478.90,530.87 L479.64,531.58 L480.54,532.30 L481.56,533.01 L482.64,533.73 L483.76,534.44 L484.85,535.16 L485.86,535.88 L486.76,536.59 L487.50,537.31 L488.02,538.02 L488.28,538.74 L488.26,539.45 L488.05,540.17 L487.68,540.88 L487.16,541.60 L486.54,542.32 L485.82,543.03 L485.04,543.75 L484.21,544.46 L483.37,545.18 L482.52,545.89 L481.71,546.61 L480.95,547.33 L480.26,548.04 L479.61,548.76 L478.94,549.47 L478.26,550.19 L477.58,550.90 L476.88,551.62 L476.19,552.33 L475.50,553.05 L474.80,553.77 L474.12,554.48 L473.44,555.20 L472.77,555.91 L472.12,556.63 L471.48,557.34 L470.86,558.06 L470.26,558.77 L469.69,559.49 L469.15,560.21 L468.62,560.92 L468.12,561.64 L467.64,562.35 L467.18,563.07 L466.73,563.78 L466.30,564.50 L466.3,564.5 Z" fill="none" fill-opacity="0" stroke="#98b070" stroke-width="0.6" stroke-linejoin="round"/>
<path d="M466.3,460.0 L466.30,460.00 L466.35,460.65 L466.40,461.31 L466.45,461.96 L466.50,462.61 L466.55,463.27 L466.61,463.92 L466.67,464.57 L466.72,465.23 L466.78,465.88 L466.84,466.53 L466.91,467.18 L466.97,467.84 L467.03,468.49 L467.10,469.14 L467.17,469.80 L467.24,470.45 L467.30,471.10 L467.38,471.76 L467.45,472.41 L467.52,473.06 L467.59,473.72 L467.67,474.37 L467.75,475.02 L467.82,475.68 L467.90,476.33 L467.98,476.98 L468.06,477.63 L468.14,478.29 L468.22,478.94 L468.31,479.59 L468.39,480.25 L468.48,480.90 L468.56,481.55 L468.65,482.21 L468.74,482.86 L468.83,483.51 L468.92,484.17 L469.01,484.82 L469.10,485.47 L469.19,486.12 L469.28,486.78 L469.38,487.43 L469.47,488.08 L469.57,488.74 L469.66,489.39 L469.76,490.04 L469.86,490.70 L469.95,491.35 L470.05,492.00 L470.15,492.66 L470.25,493.31 L470.35,493.96 L470.45,494.62 L470.55,495.27 L470.65,495.92 L470.76,496.57 L470.86,497.23 L470.96,497.88 L471.07,498.53 L471.17,499.19 L471.27,499.84 L471.38,500.49 L471.48,501.15 L471.59,501.80 L471.69,502.45 L471.79,503.11 L471.90,503.76 L472.00,504.41 L472.11,505.07 L472.21,505.72 L472.32,506.37 L472.43,507.02 L472.53,507.68 L472.64,508.33 L472.75,508.98 L472.87,509.64 L472.98,510.29 L473.10,510.94 L473.21,511.60 L473.33,512.25 L473.46,512.90 L473.58,513.56 L473.71,514.21 L473.84,514.86 L473.97,515.52 L474.11,516.17 L474.25,516.82 L474.39,517.48 L474.54,518.13 L474.69,518.78 L474.84,519.43 L475.00,520.09 L475.16,520.74 L475.33,521.39 L475.50,522.05 L475.68,522.70 L475.86,523.35 L476.04,524.01 L476.24,524.66 L476.43,525.31 L476.63,525.97 L476.84,526.62 L477.06,527.27 L477.27,527.92 L477.53,528.58 L477.87,529.23 L478.28,529.88 L478.75,530.54 L479.25,531.19 L479.78,531.84 L480.31,532.50 L480.85,533.15 L481.37,533.80 L481.85,534.46 L482.29,535.11 L482.67,535.76 L482.97,536.42 L483.18,537.07 L483.29,537.72 L483.28,538.38 L483.16,539.03 L482.93,539.68 L482.62,540.33 L482.23,540.99 L481.77,541.64 L481.26,542.29 L480.70,542.95 L480.12,543.60 L479.51,544.25 L478.90,544.91 L478.30,545.56 L477.71,546.21 L477.16,546.87 L476.65,547.52 L476.18,548.17 L475.73,548.83 L475.27,549.48 L474.81,550.13 L474.34,550.78 L473.87,551.44 L473.41,552.09 L472.94,552.74 L472.48,553.40 L472.02,554.05 L471.56,554.70 L471.12,555.36 L470.68,556.01 L470.25,556.66 L469.84,557.32 L469.44,557.97 L469.06,558.62 L468.69,559.27 L468.34,559.93 L468.01,560.58 L467.69,561.23 L467.39,561.89 L467.10,562.54 L466.82,563.19 L466.56,563.85 L466.30,564.50 L466.3,564.5 Z" fill="none" fill-opacity="0" stroke="#60a8d0" stroke-width="0.6" stroke-linejoin="round"/>
<line x1="466.30" y1="430.00" x2="466.30" y2="566.00" stroke="#a04a80" stroke-width="0.9"/>
<circle cx="301.4" cy="614.2" r="1.35" fill="#9a8aa8"/>
<text x="306.00" y="616.50" font-size="9.0" text-anchor="start" fill="#2a2a2a" stroke="#2a2a2a" stroke-width="0.12" textLength="46.0" lengthAdjust="spacingAndGlyphs">Arthur, 2018</text>
<circle cx="365.0" cy="614.2" r="1.35" fill="#a8b890"/>
<text x="370.60" y="616.50" font-size="9.0" text-anchor="start" fill="#2a2a2a" stroke="#2a2a2a" stroke-width="0.12" textLength="43.5" lengthAdjust="spacingAndGlyphs">Morin, 2013</text>
<circle cx="424.0" cy="614.2" r="1.35" fill="#80b8d0"/>
<text x="429.00" y="616.50" font-size="9.0" text-anchor="start" fill="#2a2a2a" stroke="#2a2a2a" stroke-width="0.12" textLength="43.8" lengthAdjust="spacingAndGlyphs">Kridel, 2016</text>
<circle cx="301.4" cy="625.0" r="1.35" fill="#c8587e"/>
<text x="306.00" y="627.30" font-size="9.0" text-anchor="start" fill="#2a2a2a" stroke="#2a2a2a" stroke-width="0.12" textLength="50.8" lengthAdjust="spacingAndGlyphs">Grande, 2019</text>
<circle cx="365.0" cy="625.0" r="1.35" fill="#f0c898"/>
<text x="370.60" y="627.30" font-size="9.0" text-anchor="start" fill="#2a2a2a" stroke="#2a2a2a" stroke-width="0.12" textLength="42.2" lengthAdjust="spacingAndGlyphs">ICGC, 2018</text>
</svg>
</body></html>
